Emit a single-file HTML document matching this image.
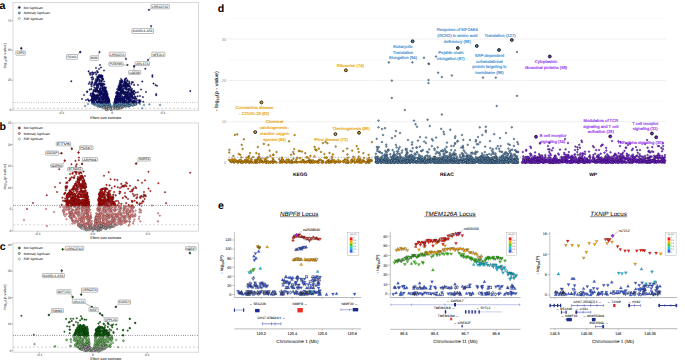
<!DOCTYPE html>
<html><head><meta charset="utf-8"><style>
html,body{margin:0;padding:0;background:#fff;width:685px;height:363px;overflow:hidden}
svg{display:block;font-family:"Liberation Sans", sans-serif;text-rendering:geometricPrecision}
</style></head><body>
<svg width="685" height="363" viewBox="0 0 685 363">
<rect width="685" height="363" fill="#fff"/>
<rect x="13" y="2.5" width="185.5" height="107.8" fill="#fff" stroke="#d4d4d4" stroke-width="0.9"/>
<line x1="11.7" y1="110.1" x2="13" y2="110.1" stroke="#555" stroke-width="0.4"/>
<text x="11.3" y="111.2" font-size="3.3" text-anchor="end" fill="#333">0</text>
<line x1="11.7" y1="80.2" x2="13" y2="80.2" stroke="#555" stroke-width="0.4"/>
<text x="11.3" y="81.4" font-size="3.3" text-anchor="end" fill="#333">25</text>
<line x1="11.7" y1="50.3" x2="13" y2="50.3" stroke="#555" stroke-width="0.4"/>
<text x="11.3" y="51.4" font-size="3.3" text-anchor="end" fill="#333">50</text>
<line x1="11.7" y1="20.4" x2="13" y2="20.4" stroke="#555" stroke-width="0.4"/>
<text x="11.3" y="21.5" font-size="3.3" text-anchor="end" fill="#333">75</text>
<line x1="61.4" y1="110.3" x2="61.4" y2="111.6" stroke="#555" stroke-width="0.4"/>
<text x="61.4" y="114.3" font-size="3.3" text-anchor="middle" fill="#333">-0.1</text>
<line x1="112.2" y1="110.3" x2="112.2" y2="111.6" stroke="#555" stroke-width="0.4"/>
<text x="112.2" y="114.3" font-size="3.3" text-anchor="middle" fill="#333">0</text>
<line x1="163" y1="110.3" x2="163" y2="111.6" stroke="#555" stroke-width="0.4"/>
<text x="163" y="114.3" font-size="3.3" text-anchor="middle" fill="#333">0.1</text>
<text x="5.9" y="56.4" font-size="3.6" text-anchor="middle" fill="#333" textLength="26.5" lengthAdjust="spacingAndGlyphs" transform="rotate(-90 5.9 56.4)">-log<tspan font-size="2.6" dy="0.8">10</tspan><tspan dy="-0.8">(p-value)</tspan></text>
<text x="105.8" y="118.5" font-size="3.6" text-anchor="middle">Effect size estimate</text>
<line x1="13" y1="102.5" x2="198.5" y2="102.5" stroke="#999" stroke-width="1" stroke-dasharray="0.55 1.75"/>
<line x1="13" y1="108.4" x2="198.5" y2="108.4" stroke="#bbb" stroke-width="0.6" stroke-dasharray="2.2 1.8"/>
<g fill="#7ab8e4" stroke="#0a1a2a" stroke-width="0.28"><circle cx="103.8" cy="105.6" r="0.82"/><circle cx="100.8" cy="102.8" r="0.82"/><circle cx="104" cy="104.5" r="0.82"/><circle cx="107.9" cy="107.3" r="0.82"/><circle cx="91.9" cy="103.3" r="0.82"/><circle cx="106.6" cy="103.1" r="0.82"/><circle cx="100.3" cy="102.8" r="0.82"/><circle cx="102.8" cy="102.8" r="0.82"/><circle cx="108" cy="105.6" r="0.82"/><circle cx="106.7" cy="103.2" r="0.82"/><circle cx="103.1" cy="103.6" r="0.82"/><circle cx="108" cy="106.7" r="0.82"/><circle cx="105.8" cy="106.6" r="0.82"/><circle cx="101.3" cy="106.9" r="0.82"/><circle cx="101.9" cy="105.6" r="0.82"/><circle cx="104.8" cy="107.2" r="0.82"/><circle cx="105.9" cy="106.3" r="0.82"/><circle cx="108.9" cy="106.1" r="0.82"/><circle cx="108.1" cy="107.3" r="0.82"/><circle cx="98.8" cy="105.8" r="0.82"/><circle cx="109.5" cy="104" r="0.82"/><circle cx="110.4" cy="106.2" r="0.82"/><circle cx="104" cy="103.4" r="0.82"/><circle cx="105.9" cy="104" r="0.82"/><circle cx="105.4" cy="102.8" r="0.82"/><circle cx="108.6" cy="102.8" r="0.82"/><circle cx="102.6" cy="106.4" r="0.82"/><circle cx="103.8" cy="106.9" r="0.82"/><circle cx="97.8" cy="106.2" r="0.82"/><circle cx="105.6" cy="106.3" r="0.82"/><circle cx="100.2" cy="106.5" r="0.82"/><circle cx="102.4" cy="104.8" r="0.82"/><circle cx="107.5" cy="103.7" r="0.82"/><circle cx="105.2" cy="104.3" r="0.82"/><circle cx="101.1" cy="106" r="0.82"/><circle cx="105.1" cy="107.1" r="0.82"/><circle cx="109.1" cy="103.3" r="0.82"/><circle cx="106.5" cy="104.3" r="0.82"/><circle cx="110.2" cy="104.7" r="0.82"/><circle cx="105.7" cy="105" r="0.82"/><circle cx="107" cy="107.2" r="0.82"/><circle cx="106.7" cy="106.4" r="0.82"/><circle cx="109.9" cy="104" r="0.82"/><circle cx="107.3" cy="105.5" r="0.82"/><circle cx="92.5" cy="103.7" r="0.82"/><circle cx="93.2" cy="103.3" r="0.82"/><circle cx="109.9" cy="106.1" r="0.82"/><circle cx="98.8" cy="105.8" r="0.82"/><circle cx="104.6" cy="104.3" r="0.82"/><circle cx="98" cy="106.3" r="0.82"/><circle cx="99.7" cy="106.6" r="0.82"/><circle cx="97.1" cy="104" r="0.82"/><circle cx="111.1" cy="107.3" r="0.82"/><circle cx="109.4" cy="106.5" r="0.82"/><circle cx="106.9" cy="105.6" r="0.82"/><circle cx="99.5" cy="106.6" r="0.82"/><circle cx="94.4" cy="104.7" r="0.82"/><circle cx="97.5" cy="106.3" r="0.82"/><circle cx="104.1" cy="104.1" r="0.82"/><circle cx="106" cy="107.5" r="0.82"/><circle cx="94.5" cy="103.7" r="0.82"/><circle cx="107.2" cy="107.3" r="0.82"/><circle cx="94" cy="104.5" r="0.82"/><circle cx="108.6" cy="103" r="0.82"/><circle cx="98.1" cy="105.6" r="0.82"/><circle cx="96.7" cy="103.4" r="0.82"/><circle cx="107.3" cy="107.1" r="0.82"/><circle cx="97" cy="103.4" r="0.82"/><circle cx="99.7" cy="105.3" r="0.82"/><circle cx="104.3" cy="105" r="0.82"/><circle cx="97.9" cy="103.6" r="0.82"/><circle cx="107.7" cy="104.8" r="0.82"/><circle cx="101.7" cy="106.3" r="0.82"/><circle cx="104.7" cy="106.5" r="0.82"/><circle cx="106.7" cy="106.8" r="0.82"/><circle cx="97.8" cy="104.2" r="0.82"/><circle cx="108.1" cy="106.3" r="0.82"/><circle cx="102.4" cy="105.3" r="0.82"/><circle cx="106.9" cy="103.2" r="0.82"/><circle cx="109.7" cy="104.7" r="0.82"/><circle cx="106.3" cy="103.5" r="0.82"/><circle cx="101.6" cy="103.8" r="0.82"/><circle cx="109.3" cy="104.2" r="0.82"/><circle cx="100.4" cy="105.2" r="0.82"/><circle cx="96.3" cy="103.4" r="0.82"/><circle cx="110.1" cy="106.1" r="0.82"/><circle cx="105.7" cy="106.5" r="0.82"/><circle cx="110.8" cy="106.1" r="0.82"/><circle cx="108.8" cy="104.1" r="0.82"/><circle cx="103.9" cy="106.9" r="0.82"/><circle cx="106.4" cy="105.2" r="0.82"/><circle cx="105.7" cy="106.7" r="0.82"/><circle cx="110.7" cy="107.4" r="0.82"/><circle cx="110.2" cy="105.1" r="0.82"/><circle cx="104.2" cy="106.6" r="0.82"/><circle cx="99.7" cy="102.9" r="0.82"/><circle cx="99.1" cy="106.3" r="0.82"/><circle cx="107.9" cy="106.8" r="0.82"/><circle cx="109" cy="104.4" r="0.82"/><circle cx="94.2" cy="103" r="0.82"/><circle cx="109.3" cy="103.7" r="0.82"/><circle cx="94.6" cy="103.9" r="0.82"/><circle cx="106.4" cy="106.6" r="0.82"/><circle cx="105.6" cy="104.8" r="0.82"/><circle cx="105.5" cy="103.4" r="0.82"/><circle cx="108.1" cy="107.3" r="0.82"/><circle cx="101.2" cy="104.4" r="0.82"/><circle cx="94.9" cy="104" r="0.82"/><circle cx="92.6" cy="102.9" r="0.82"/><circle cx="102.8" cy="105.1" r="0.82"/><circle cx="109.5" cy="106" r="0.82"/><circle cx="104" cy="102.7" r="0.82"/><circle cx="110.5" cy="107.3" r="0.82"/><circle cx="104.1" cy="106.6" r="0.82"/><circle cx="94.3" cy="103.3" r="0.82"/><circle cx="95.7" cy="105.4" r="0.82"/><circle cx="107.2" cy="104.3" r="0.82"/><circle cx="102.4" cy="105.4" r="0.82"/><circle cx="106.2" cy="105.4" r="0.82"/><circle cx="98.8" cy="103.5" r="0.82"/><circle cx="118.5" cy="105.3" r="0.82"/><circle cx="125.8" cy="105.8" r="0.82"/><circle cx="116.2" cy="107.1" r="0.82"/><circle cx="119.2" cy="105.2" r="0.82"/><circle cx="139" cy="103" r="0.82"/><circle cx="135.4" cy="102.7" r="0.82"/><circle cx="129.2" cy="104.5" r="0.82"/><circle cx="118.6" cy="104.7" r="0.82"/><circle cx="128.3" cy="106" r="0.82"/><circle cx="119.7" cy="103.2" r="0.82"/><circle cx="129.3" cy="105.3" r="0.82"/><circle cx="114.1" cy="104.3" r="0.82"/><circle cx="120.5" cy="104.7" r="0.82"/><circle cx="121.6" cy="104.9" r="0.82"/><circle cx="125.8" cy="105.6" r="0.82"/><circle cx="114.6" cy="106.6" r="0.82"/><circle cx="114.6" cy="103.3" r="0.82"/><circle cx="117.5" cy="107" r="0.82"/><circle cx="124.9" cy="106.3" r="0.82"/><circle cx="123.7" cy="104.8" r="0.82"/><circle cx="116.9" cy="104.7" r="0.82"/><circle cx="114.6" cy="105" r="0.82"/><circle cx="121.4" cy="107.1" r="0.82"/><circle cx="122.3" cy="103.3" r="0.82"/><circle cx="125.4" cy="104" r="0.82"/><circle cx="114.4" cy="103.4" r="0.82"/><circle cx="121" cy="106.7" r="0.82"/><circle cx="117.2" cy="105.7" r="0.82"/><circle cx="116.6" cy="106" r="0.82"/><circle cx="130.2" cy="105.4" r="0.82"/><circle cx="136.2" cy="104.5" r="0.82"/><circle cx="137.1" cy="103.2" r="0.82"/><circle cx="115.7" cy="103.8" r="0.82"/><circle cx="119.7" cy="103.8" r="0.82"/><circle cx="129.4" cy="103.5" r="0.82"/><circle cx="114.8" cy="105.7" r="0.82"/><circle cx="131.2" cy="102.9" r="0.82"/><circle cx="125.4" cy="103.6" r="0.82"/><circle cx="114.6" cy="103" r="0.82"/><circle cx="129.2" cy="106.3" r="0.82"/><circle cx="116.2" cy="105.3" r="0.82"/><circle cx="134.5" cy="104.7" r="0.82"/><circle cx="114.6" cy="107.4" r="0.82"/><circle cx="114.5" cy="103.6" r="0.82"/><circle cx="116" cy="104.8" r="0.82"/><circle cx="118.4" cy="104.1" r="0.82"/><circle cx="120.7" cy="106.8" r="0.82"/><circle cx="129.7" cy="103.5" r="0.82"/><circle cx="119.7" cy="106.8" r="0.82"/><circle cx="124" cy="103.2" r="0.82"/><circle cx="116" cy="103.5" r="0.82"/><circle cx="129.3" cy="105.6" r="0.82"/><circle cx="123.3" cy="106.7" r="0.82"/><circle cx="135.6" cy="104.5" r="0.82"/><circle cx="113.9" cy="105.9" r="0.82"/><circle cx="116.7" cy="103.1" r="0.82"/><circle cx="115.7" cy="105.7" r="0.82"/><circle cx="123.1" cy="104.7" r="0.82"/><circle cx="120.9" cy="105.8" r="0.82"/><circle cx="119.5" cy="107.4" r="0.82"/><circle cx="122.8" cy="102.7" r="0.82"/><circle cx="113.5" cy="106.8" r="0.82"/><circle cx="129.1" cy="106.2" r="0.82"/><circle cx="118" cy="105" r="0.82"/><circle cx="117.7" cy="104.7" r="0.82"/><circle cx="124.8" cy="102.8" r="0.82"/><circle cx="125.7" cy="103.7" r="0.82"/><circle cx="135.6" cy="103.7" r="0.82"/><circle cx="127.9" cy="104.4" r="0.82"/><circle cx="120.2" cy="106.1" r="0.82"/><circle cx="133" cy="103.2" r="0.82"/><circle cx="118.7" cy="103.8" r="0.82"/><circle cx="131.2" cy="105" r="0.82"/><circle cx="128" cy="105.8" r="0.82"/><circle cx="125.4" cy="105.5" r="0.82"/><circle cx="113.7" cy="105.8" r="0.82"/><circle cx="119.2" cy="102.7" r="0.82"/><circle cx="123.4" cy="105.7" r="0.82"/><circle cx="117.3" cy="106.3" r="0.82"/><circle cx="119.9" cy="106.8" r="0.82"/><circle cx="122.6" cy="105.3" r="0.82"/><circle cx="126" cy="106" r="0.82"/><circle cx="115.7" cy="107.2" r="0.82"/><circle cx="118.7" cy="106" r="0.82"/><circle cx="130.8" cy="104.8" r="0.82"/><circle cx="114" cy="106.6" r="0.82"/><circle cx="126.3" cy="102.7" r="0.82"/><circle cx="120.1" cy="103.7" r="0.82"/><circle cx="122" cy="103.2" r="0.82"/><circle cx="113.8" cy="105.1" r="0.82"/><circle cx="117.6" cy="107.4" r="0.82"/><circle cx="115.6" cy="106.2" r="0.82"/><circle cx="121.2" cy="106.5" r="0.82"/><circle cx="127" cy="103.3" r="0.82"/><circle cx="128.4" cy="106.5" r="0.82"/><circle cx="131.1" cy="102.8" r="0.82"/><circle cx="133.5" cy="103.2" r="0.82"/><circle cx="119.7" cy="106.8" r="0.82"/><circle cx="116.1" cy="104.9" r="0.82"/><circle cx="135.7" cy="104.4" r="0.82"/><circle cx="119.3" cy="103.8" r="0.82"/><circle cx="128.4" cy="105.5" r="0.82"/><circle cx="129.3" cy="105.8" r="0.82"/><circle cx="113.7" cy="105.5" r="0.82"/><circle cx="119.5" cy="105.1" r="0.82"/><circle cx="126.8" cy="106.2" r="0.82"/><circle cx="122.9" cy="107.4" r="0.82"/><circle cx="127.3" cy="104" r="0.82"/><circle cx="119.4" cy="107" r="0.82"/><circle cx="115.4" cy="106.8" r="0.82"/><circle cx="133.7" cy="105.4" r="0.82"/><circle cx="125.1" cy="104.6" r="0.82"/><circle cx="125.6" cy="104.3" r="0.82"/><circle cx="126.9" cy="105.9" r="0.82"/><circle cx="130.3" cy="103.8" r="0.82"/><circle cx="132.3" cy="102.7" r="0.82"/><circle cx="122.6" cy="106.1" r="0.82"/><circle cx="124.6" cy="102.9" r="0.82"/><circle cx="114.9" cy="107.5" r="0.82"/><circle cx="123.3" cy="104.3" r="0.82"/><circle cx="132.4" cy="105.7" r="0.82"/><circle cx="113.3" cy="106.8" r="0.82"/><circle cx="125.6" cy="106.6" r="0.82"/><circle cx="115.3" cy="106.6" r="0.82"/><circle cx="131.2" cy="103" r="0.82"/><circle cx="115.5" cy="107.4" r="0.82"/><circle cx="128" cy="105.8" r="0.82"/><circle cx="133.2" cy="105.2" r="0.82"/><circle cx="119.2" cy="103.1" r="0.82"/><circle cx="114.5" cy="103.9" r="0.82"/><circle cx="149.4" cy="104.4" r="0.82"/><circle cx="160" cy="105" r="0.82"/><circle cx="142.3" cy="108.2" r="0.82"/><circle cx="85" cy="106" r="0.82"/><circle cx="88" cy="104" r="0.82"/><circle cx="140" cy="104" r="0.82"/><circle cx="144" cy="105" r="0.82"/></g>
<g fill="#d8d8d8" stroke="#1a1a1a" stroke-width="0.35"><circle cx="116.8" cy="108.6" r="0.8"/><circle cx="123.9" cy="106.7" r="0.8"/><circle cx="105.8" cy="109.1" r="0.8"/><circle cx="111.3" cy="109.2" r="0.8"/><circle cx="119.7" cy="107.8" r="0.8"/><circle cx="104.1" cy="107" r="0.8"/><circle cx="106.9" cy="107.4" r="0.8"/><circle cx="107.3" cy="108.8" r="0.8"/><circle cx="115.5" cy="108.4" r="0.8"/><circle cx="109.4" cy="107.3" r="0.8"/><circle cx="104.7" cy="107" r="0.8"/><circle cx="107.7" cy="109.9" r="0.8"/><circle cx="103.9" cy="107.4" r="0.8"/><circle cx="104.4" cy="107.6" r="0.8"/><circle cx="108.8" cy="106.8" r="0.8"/><circle cx="122.9" cy="106.6" r="0.8"/><circle cx="106.1" cy="107.2" r="0.8"/><circle cx="111.2" cy="109.6" r="0.8"/><circle cx="103.1" cy="108.3" r="0.8"/><circle cx="111.1" cy="109.4" r="0.8"/><circle cx="103.8" cy="107.4" r="0.8"/><circle cx="107.1" cy="109.4" r="0.8"/><circle cx="110.6" cy="108.1" r="0.8"/><circle cx="114.1" cy="108.1" r="0.8"/><circle cx="110.4" cy="108.9" r="0.8"/><circle cx="110.7" cy="109.5" r="0.8"/><circle cx="106.6" cy="107.9" r="0.8"/><circle cx="106.3" cy="109.3" r="0.8"/><circle cx="121.9" cy="107.3" r="0.8"/><circle cx="116.8" cy="108.1" r="0.8"/><circle cx="119.3" cy="108.7" r="0.8"/><circle cx="110.2" cy="108.2" r="0.8"/><circle cx="117.6" cy="108.9" r="0.8"/><circle cx="114.1" cy="109.2" r="0.8"/><circle cx="106.9" cy="106.8" r="0.8"/><circle cx="118.8" cy="108.2" r="0.8"/><circle cx="105.8" cy="109.5" r="0.8"/><circle cx="113.7" cy="108.2" r="0.8"/><circle cx="121.4" cy="108.4" r="0.8"/><circle cx="121.5" cy="106.9" r="0.8"/><circle cx="106.5" cy="109.6" r="0.8"/><circle cx="120.9" cy="108.2" r="0.8"/><circle cx="118.1" cy="108.4" r="0.8"/><circle cx="120.8" cy="107.3" r="0.8"/><circle cx="117.7" cy="108.7" r="0.8"/></g>
<g fill="#1c1c88" stroke="#00002a" stroke-width="0.3"><circle cx="105.6" cy="99.3" r="0.82"/><circle cx="99.3" cy="101.2" r="0.82"/><circle cx="101.7" cy="93.4" r="0.82"/><circle cx="109.1" cy="100.8" r="0.82"/><circle cx="99.8" cy="75.2" r="0.82"/><circle cx="100.9" cy="92.6" r="0.82"/><circle cx="91.9" cy="101.7" r="0.82"/><circle cx="94.7" cy="95.6" r="0.82"/><circle cx="108.3" cy="100.1" r="0.82"/><circle cx="99.6" cy="93.3" r="0.82"/><circle cx="101.5" cy="101.4" r="0.82"/><circle cx="98.7" cy="91.6" r="0.82"/><circle cx="103.3" cy="95.3" r="0.82"/><circle cx="96.2" cy="83.3" r="0.82"/><circle cx="101.9" cy="77.6" r="0.82"/><circle cx="97.6" cy="95.6" r="0.82"/><circle cx="91.8" cy="100.1" r="0.82"/><circle cx="104" cy="81.5" r="0.82"/><circle cx="96.9" cy="87.3" r="0.82"/><circle cx="94.3" cy="94.9" r="0.82"/><circle cx="98.4" cy="86.6" r="0.82"/><circle cx="100.8" cy="90.8" r="0.82"/><circle cx="102.9" cy="84.4" r="0.82"/><circle cx="95.6" cy="95.7" r="0.82"/><circle cx="104.5" cy="84.3" r="0.82"/><circle cx="108" cy="100.1" r="0.82"/><circle cx="101.4" cy="77.4" r="0.82"/><circle cx="106.3" cy="92" r="0.82"/><circle cx="92.3" cy="99.3" r="0.82"/><circle cx="107.8" cy="97.2" r="0.82"/><circle cx="100.6" cy="96.3" r="0.82"/><circle cx="104.8" cy="87.5" r="0.82"/><circle cx="102.1" cy="85.9" r="0.82"/><circle cx="98.8" cy="101.6" r="0.82"/><circle cx="104.4" cy="92.5" r="0.82"/><circle cx="109.2" cy="101.3" r="0.82"/><circle cx="107.4" cy="99" r="0.82"/><circle cx="105.3" cy="101.6" r="0.82"/><circle cx="100.1" cy="99.4" r="0.82"/><circle cx="106.7" cy="94" r="0.82"/><circle cx="104.9" cy="100" r="0.82"/><circle cx="103.1" cy="90" r="0.82"/><circle cx="108.9" cy="100.5" r="0.82"/><circle cx="105.3" cy="96.3" r="0.82"/><circle cx="95.4" cy="99" r="0.82"/><circle cx="101.9" cy="99.4" r="0.82"/><circle cx="101.6" cy="102.1" r="0.82"/><circle cx="94.6" cy="83.4" r="0.82"/><circle cx="106.6" cy="93.4" r="0.82"/><circle cx="101.8" cy="80.8" r="0.82"/><circle cx="105.5" cy="97.4" r="0.82"/><circle cx="95.6" cy="82" r="0.82"/><circle cx="105.1" cy="102.1" r="0.82"/><circle cx="92.4" cy="93.5" r="0.82"/><circle cx="107.2" cy="97.3" r="0.82"/><circle cx="107.6" cy="97.9" r="0.82"/><circle cx="99.9" cy="76.8" r="0.82"/><circle cx="95.1" cy="90.1" r="0.82"/><circle cx="99.3" cy="80.1" r="0.82"/><circle cx="97.2" cy="90.1" r="0.82"/><circle cx="97.7" cy="98.8" r="0.82"/><circle cx="108.5" cy="99.3" r="0.82"/><circle cx="105.2" cy="88" r="0.82"/><circle cx="108.4" cy="102.4" r="0.82"/><circle cx="101.9" cy="75.7" r="0.82"/><circle cx="95.5" cy="97.7" r="0.82"/><circle cx="106.8" cy="95.5" r="0.82"/><circle cx="106.6" cy="91.9" r="0.82"/><circle cx="105.1" cy="90.7" r="0.82"/><circle cx="100.8" cy="76.7" r="0.82"/><circle cx="102.4" cy="88.5" r="0.82"/><circle cx="102" cy="102.3" r="0.82"/><circle cx="103.6" cy="98.5" r="0.82"/><circle cx="97.7" cy="87.8" r="0.82"/><circle cx="105.6" cy="88.9" r="0.82"/><circle cx="101.3" cy="80.6" r="0.82"/><circle cx="106.8" cy="96" r="0.82"/><circle cx="96.7" cy="89.3" r="0.82"/><circle cx="101.2" cy="81.4" r="0.82"/><circle cx="93.4" cy="91.2" r="0.82"/><circle cx="100.2" cy="89.3" r="0.82"/><circle cx="102.2" cy="83.5" r="0.82"/><circle cx="103.3" cy="88.5" r="0.82"/><circle cx="98.3" cy="77.6" r="0.82"/><circle cx="92.7" cy="96.4" r="0.82"/><circle cx="101.2" cy="75.4" r="0.82"/><circle cx="95.1" cy="99.6" r="0.82"/><circle cx="99.2" cy="99.5" r="0.82"/><circle cx="104.3" cy="89.9" r="0.82"/><circle cx="102.1" cy="94.2" r="0.82"/><circle cx="107.6" cy="94.8" r="0.82"/><circle cx="97.8" cy="102.3" r="0.82"/><circle cx="101.4" cy="91.3" r="0.82"/><circle cx="99.9" cy="89.1" r="0.82"/><circle cx="106.5" cy="99.8" r="0.82"/><circle cx="95.6" cy="96.5" r="0.82"/><circle cx="101" cy="83.3" r="0.82"/><circle cx="108.9" cy="101.5" r="0.82"/><circle cx="98.5" cy="91.7" r="0.82"/><circle cx="99.7" cy="80" r="0.82"/><circle cx="103.3" cy="94.2" r="0.82"/><circle cx="101.4" cy="75.9" r="0.82"/><circle cx="106.5" cy="99.8" r="0.82"/><circle cx="101.9" cy="97" r="0.82"/><circle cx="108.7" cy="99" r="0.82"/><circle cx="105.8" cy="95.2" r="0.82"/><circle cx="97" cy="95.6" r="0.82"/><circle cx="102.4" cy="98.6" r="0.82"/><circle cx="105.2" cy="102.3" r="0.82"/><circle cx="106.8" cy="102.4" r="0.82"/><circle cx="97.6" cy="87.9" r="0.82"/><circle cx="92.9" cy="100.4" r="0.82"/><circle cx="95.6" cy="91.5" r="0.82"/><circle cx="102.5" cy="79" r="0.82"/><circle cx="104.4" cy="89.3" r="0.82"/><circle cx="98.1" cy="85.3" r="0.82"/><circle cx="104.2" cy="94" r="0.82"/><circle cx="106.7" cy="99" r="0.82"/><circle cx="94.4" cy="84.2" r="0.82"/><circle cx="106.3" cy="96.9" r="0.82"/><circle cx="106.1" cy="90.7" r="0.82"/><circle cx="105.8" cy="93.7" r="0.82"/><circle cx="102.9" cy="89.4" r="0.82"/><circle cx="109.3" cy="102.2" r="0.82"/><circle cx="105.9" cy="97.2" r="0.82"/><circle cx="100.7" cy="88.6" r="0.82"/><circle cx="97.2" cy="84.6" r="0.82"/><circle cx="97.9" cy="77.5" r="0.82"/><circle cx="104.5" cy="94.6" r="0.82"/><circle cx="91.7" cy="99.3" r="0.82"/><circle cx="97.8" cy="85.1" r="0.82"/><circle cx="93.9" cy="85.6" r="0.82"/><circle cx="97.5" cy="79.7" r="0.82"/><circle cx="102.3" cy="79" r="0.82"/><circle cx="96" cy="79.2" r="0.82"/><circle cx="100.7" cy="77.1" r="0.82"/><circle cx="98.7" cy="83.5" r="0.82"/><circle cx="107.1" cy="102.1" r="0.82"/><circle cx="101.3" cy="85.6" r="0.82"/><circle cx="99.9" cy="83.9" r="0.82"/><circle cx="102.6" cy="102.6" r="0.82"/><circle cx="96.1" cy="81.8" r="0.82"/><circle cx="102.4" cy="88.4" r="0.82"/><circle cx="99.2" cy="101.3" r="0.82"/><circle cx="97.5" cy="96.6" r="0.82"/><circle cx="97.6" cy="97.9" r="0.82"/><circle cx="102.5" cy="93" r="0.82"/><circle cx="102.8" cy="83.8" r="0.82"/><circle cx="96.8" cy="85.9" r="0.82"/><circle cx="99.5" cy="101.1" r="0.82"/><circle cx="97.3" cy="95.2" r="0.82"/><circle cx="101.1" cy="102.4" r="0.82"/><circle cx="98.9" cy="83.5" r="0.82"/><circle cx="98.8" cy="95.6" r="0.82"/><circle cx="102.1" cy="90.5" r="0.82"/><circle cx="103.1" cy="100.1" r="0.82"/><circle cx="93.9" cy="98" r="0.82"/><circle cx="103.4" cy="96.2" r="0.82"/><circle cx="92.5" cy="99.8" r="0.82"/><circle cx="95.6" cy="89.2" r="0.82"/><circle cx="102.7" cy="102.2" r="0.82"/><circle cx="103.4" cy="95.3" r="0.82"/><circle cx="95.2" cy="100.1" r="0.82"/><circle cx="93.7" cy="95.6" r="0.82"/><circle cx="104.8" cy="92.7" r="0.82"/><circle cx="105" cy="91.6" r="0.82"/><circle cx="106.4" cy="101.7" r="0.82"/><circle cx="106.8" cy="96.3" r="0.82"/><circle cx="102.2" cy="98.3" r="0.82"/><circle cx="99.8" cy="76.4" r="0.82"/><circle cx="97.9" cy="101.7" r="0.82"/><circle cx="97.6" cy="91" r="0.82"/><circle cx="97.1" cy="85" r="0.82"/><circle cx="106.2" cy="101.7" r="0.82"/><circle cx="93.1" cy="99.9" r="0.82"/><circle cx="103" cy="94.1" r="0.82"/><circle cx="91.9" cy="96.4" r="0.82"/><circle cx="99.2" cy="95.3" r="0.82"/><circle cx="101.3" cy="92.6" r="0.82"/><circle cx="108" cy="99" r="0.82"/><circle cx="102.5" cy="97.5" r="0.82"/><circle cx="103.4" cy="99.6" r="0.82"/><circle cx="107.6" cy="100.8" r="0.82"/><circle cx="105.3" cy="100.7" r="0.82"/><circle cx="106.9" cy="96.5" r="0.82"/><circle cx="101" cy="77.2" r="0.82"/><circle cx="97.2" cy="92.1" r="0.82"/><circle cx="104" cy="88.8" r="0.82"/><circle cx="104.7" cy="94.2" r="0.82"/><circle cx="92.1" cy="99.9" r="0.82"/><circle cx="102.4" cy="85.5" r="0.82"/><circle cx="94.6" cy="97.6" r="0.82"/><circle cx="106.5" cy="96.7" r="0.82"/><circle cx="104.3" cy="91.1" r="0.82"/><circle cx="94.4" cy="102.2" r="0.82"/><circle cx="93.8" cy="90.3" r="0.82"/><circle cx="100.7" cy="102.6" r="0.82"/><circle cx="92" cy="96.7" r="0.82"/><circle cx="108.7" cy="99.2" r="0.82"/><circle cx="102" cy="83.9" r="0.82"/><circle cx="99.4" cy="81.2" r="0.82"/><circle cx="103.2" cy="87.9" r="0.82"/><circle cx="99.5" cy="95.2" r="0.82"/><circle cx="99.7" cy="83.3" r="0.82"/><circle cx="108.6" cy="101.2" r="0.82"/><circle cx="101.9" cy="87" r="0.82"/><circle cx="104.5" cy="97.4" r="0.82"/><circle cx="100.4" cy="102.4" r="0.82"/><circle cx="106" cy="90.7" r="0.82"/><circle cx="94.1" cy="90.2" r="0.82"/><circle cx="107" cy="96.8" r="0.82"/><circle cx="105.9" cy="102.2" r="0.82"/><circle cx="102.5" cy="84.1" r="0.82"/><circle cx="103.9" cy="96.5" r="0.82"/><circle cx="99" cy="76" r="0.82"/><circle cx="107.1" cy="102" r="0.82"/><circle cx="105.4" cy="91.9" r="0.82"/><circle cx="98.7" cy="98.1" r="0.82"/><circle cx="96.1" cy="82" r="0.82"/><circle cx="102.3" cy="97.9" r="0.82"/><circle cx="92" cy="95" r="0.82"/><circle cx="95.6" cy="97.2" r="0.82"/><circle cx="102.5" cy="98.4" r="0.82"/><circle cx="99" cy="75.2" r="0.82"/><circle cx="108.3" cy="101.6" r="0.82"/><circle cx="93" cy="94.5" r="0.82"/><circle cx="97.3" cy="102" r="0.82"/><circle cx="99.1" cy="93.1" r="0.82"/><circle cx="104.8" cy="94.4" r="0.82"/><circle cx="107.9" cy="102.6" r="0.82"/><circle cx="106.3" cy="93.9" r="0.82"/><circle cx="92.4" cy="100" r="0.82"/><circle cx="92.2" cy="97.8" r="0.82"/><circle cx="95.6" cy="91.5" r="0.82"/><circle cx="93.8" cy="102.1" r="0.82"/><circle cx="96.8" cy="101.9" r="0.82"/><circle cx="93.2" cy="96.5" r="0.82"/><circle cx="97.3" cy="76.9" r="0.82"/><circle cx="105.4" cy="96.1" r="0.82"/><circle cx="105.7" cy="96" r="0.82"/><circle cx="92.7" cy="102.2" r="0.82"/><circle cx="104.5" cy="96.7" r="0.82"/><circle cx="103.7" cy="89.7" r="0.82"/><circle cx="93.1" cy="98.5" r="0.82"/><circle cx="96" cy="82.1" r="0.82"/><circle cx="95.5" cy="81" r="0.82"/><circle cx="100.3" cy="94.5" r="0.82"/><circle cx="105.7" cy="93.6" r="0.82"/><circle cx="96.5" cy="101" r="0.82"/><circle cx="106.8" cy="101.4" r="0.82"/><circle cx="106.6" cy="100.9" r="0.82"/><circle cx="98.1" cy="91.1" r="0.82"/><circle cx="100" cy="84.1" r="0.82"/><circle cx="97.2" cy="78.6" r="0.82"/><circle cx="99.1" cy="100" r="0.82"/><circle cx="95.1" cy="95.5" r="0.82"/><circle cx="101.1" cy="93.2" r="0.82"/><circle cx="97.5" cy="98" r="0.82"/><circle cx="106.8" cy="96.8" r="0.82"/><circle cx="100.9" cy="94.6" r="0.82"/><circle cx="102.3" cy="97.2" r="0.82"/><circle cx="95.9" cy="84.8" r="0.82"/><circle cx="91.5" cy="100.5" r="0.82"/><circle cx="102.9" cy="79.5" r="0.82"/><circle cx="93" cy="93.3" r="0.82"/><circle cx="94.5" cy="91" r="0.82"/><circle cx="92.6" cy="100.4" r="0.82"/><circle cx="100.5" cy="85.8" r="0.82"/><circle cx="107.3" cy="93.4" r="0.82"/><circle cx="108.3" cy="97.9" r="0.82"/><circle cx="99.3" cy="97.9" r="0.82"/><circle cx="98.8" cy="98.4" r="0.82"/><circle cx="105.8" cy="97.9" r="0.82"/><circle cx="96.2" cy="88" r="0.82"/><circle cx="104.4" cy="88" r="0.82"/><circle cx="99.6" cy="100.7" r="0.82"/><circle cx="104.1" cy="95.8" r="0.82"/><circle cx="105.8" cy="87.5" r="0.82"/><circle cx="105" cy="92" r="0.82"/><circle cx="104.9" cy="98.1" r="0.82"/><circle cx="97.7" cy="97.9" r="0.82"/><circle cx="103.2" cy="99" r="0.82"/><circle cx="99.6" cy="76.5" r="0.82"/><circle cx="104.8" cy="89.4" r="0.82"/><circle cx="102" cy="76" r="0.82"/><circle cx="107.6" cy="99.9" r="0.82"/><circle cx="102.8" cy="101.6" r="0.82"/><circle cx="93.1" cy="92.8" r="0.82"/><circle cx="95.5" cy="99.1" r="0.82"/><circle cx="96.4" cy="97.4" r="0.82"/><circle cx="95.4" cy="98.5" r="0.82"/><circle cx="102.1" cy="92.9" r="0.82"/><circle cx="97.7" cy="76.9" r="0.82"/><circle cx="97" cy="101.9" r="0.82"/><circle cx="95.2" cy="100.1" r="0.82"/><circle cx="100.4" cy="88" r="0.82"/><circle cx="99.9" cy="95.1" r="0.82"/><circle cx="103.9" cy="87" r="0.82"/><circle cx="103.8" cy="84.6" r="0.82"/><circle cx="103.4" cy="91.3" r="0.82"/><circle cx="102.6" cy="97.1" r="0.82"/><circle cx="96.9" cy="80.7" r="0.82"/><circle cx="103.2" cy="98.6" r="0.82"/><circle cx="102.9" cy="100.4" r="0.82"/><circle cx="102.2" cy="101.9" r="0.82"/><circle cx="99.7" cy="101" r="0.82"/><circle cx="97.6" cy="80.8" r="0.82"/><circle cx="102.2" cy="101.6" r="0.82"/><circle cx="102.3" cy="93.1" r="0.82"/><circle cx="92.5" cy="99.7" r="0.82"/><circle cx="97.6" cy="79.6" r="0.82"/><circle cx="93.3" cy="98.9" r="0.82"/><circle cx="97.1" cy="99.1" r="0.82"/><circle cx="93.8" cy="96" r="0.82"/><circle cx="95.7" cy="99.5" r="0.82"/><circle cx="102.4" cy="76.2" r="0.82"/><circle cx="107.4" cy="96.3" r="0.82"/><circle cx="102.3" cy="94.8" r="0.82"/><circle cx="98.7" cy="77" r="0.82"/><circle cx="99.7" cy="93.6" r="0.82"/><circle cx="94.4" cy="87.8" r="0.82"/><circle cx="100.8" cy="77.4" r="0.82"/><circle cx="99.8" cy="92.6" r="0.82"/><circle cx="96.1" cy="96.3" r="0.82"/><circle cx="103.5" cy="98.6" r="0.82"/><circle cx="97.3" cy="101.7" r="0.82"/><circle cx="95.6" cy="96.6" r="0.82"/><circle cx="100.7" cy="84.4" r="0.82"/><circle cx="105.8" cy="102.6" r="0.82"/><circle cx="100.1" cy="91.5" r="0.82"/><circle cx="102.2" cy="77" r="0.82"/><circle cx="99.3" cy="102.2" r="0.82"/><circle cx="100.6" cy="97.9" r="0.82"/><circle cx="99.9" cy="90.2" r="0.82"/><circle cx="106.9" cy="99.3" r="0.82"/><circle cx="104.3" cy="96.3" r="0.82"/><circle cx="101.2" cy="93.9" r="0.82"/><circle cx="99.5" cy="91.2" r="0.82"/><circle cx="104.2" cy="97" r="0.82"/><circle cx="92.7" cy="99.5" r="0.82"/><circle cx="102.3" cy="85.1" r="0.82"/><circle cx="95.8" cy="98.7" r="0.82"/><circle cx="105.8" cy="95.3" r="0.82"/><circle cx="96.4" cy="82.8" r="0.82"/><circle cx="97.3" cy="90.5" r="0.82"/><circle cx="97.4" cy="90.9" r="0.82"/><circle cx="107.1" cy="100.4" r="0.82"/><circle cx="107" cy="101.9" r="0.82"/><circle cx="98.4" cy="78.6" r="0.82"/><circle cx="98" cy="96.3" r="0.82"/><circle cx="101.4" cy="91.4" r="0.82"/><circle cx="96.3" cy="88.8" r="0.82"/><circle cx="92.2" cy="97.6" r="0.82"/><circle cx="94.2" cy="102.4" r="0.82"/><circle cx="106.6" cy="97.1" r="0.82"/><circle cx="97.3" cy="94.6" r="0.82"/><circle cx="94.2" cy="94.5" r="0.82"/><circle cx="99.8" cy="83.5" r="0.82"/><circle cx="103" cy="78.8" r="0.82"/><circle cx="98.3" cy="78.2" r="0.82"/><circle cx="121.8" cy="86.8" r="0.82"/><circle cx="125" cy="96.7" r="0.82"/><circle cx="117.2" cy="89.3" r="0.82"/><circle cx="116.1" cy="102.2" r="0.82"/><circle cx="119.8" cy="100.2" r="0.82"/><circle cx="114.6" cy="102" r="0.82"/><circle cx="128.2" cy="89" r="0.82"/><circle cx="128.3" cy="86.5" r="0.82"/><circle cx="120.2" cy="84.4" r="0.82"/><circle cx="115.5" cy="98.9" r="0.82"/><circle cx="115.6" cy="102.1" r="0.82"/><circle cx="126.6" cy="84.2" r="0.82"/><circle cx="126.6" cy="97.1" r="0.82"/><circle cx="115.4" cy="101" r="0.82"/><circle cx="129.9" cy="98.9" r="0.82"/><circle cx="119.2" cy="94.1" r="0.82"/><circle cx="118.5" cy="87" r="0.82"/><circle cx="120.3" cy="96.4" r="0.82"/><circle cx="121.8" cy="85.6" r="0.82"/><circle cx="119.8" cy="87.3" r="0.82"/><circle cx="124.2" cy="98.7" r="0.82"/><circle cx="132.9" cy="101.1" r="0.82"/><circle cx="131.7" cy="99.6" r="0.82"/><circle cx="123.1" cy="85" r="0.82"/><circle cx="116.7" cy="92.4" r="0.82"/><circle cx="119.8" cy="84.1" r="0.82"/><circle cx="118.5" cy="98.7" r="0.82"/><circle cx="128.3" cy="92.3" r="0.82"/><circle cx="128.3" cy="85.2" r="0.82"/><circle cx="126.5" cy="95.6" r="0.82"/><circle cx="121" cy="94.7" r="0.82"/><circle cx="133.7" cy="101.2" r="0.82"/><circle cx="133.7" cy="102.3" r="0.82"/><circle cx="117.1" cy="97.7" r="0.82"/><circle cx="120.5" cy="82.7" r="0.82"/><circle cx="117.6" cy="93.2" r="0.82"/><circle cx="124" cy="86" r="0.82"/><circle cx="129.8" cy="88.7" r="0.82"/><circle cx="119.8" cy="96.3" r="0.82"/><circle cx="127.4" cy="86.4" r="0.82"/><circle cx="116.5" cy="93.7" r="0.82"/><circle cx="130.4" cy="90.4" r="0.82"/><circle cx="133.6" cy="98.2" r="0.82"/><circle cx="116.8" cy="96.8" r="0.82"/><circle cx="116.2" cy="99.9" r="0.82"/><circle cx="117.8" cy="96.3" r="0.82"/><circle cx="123.8" cy="99.8" r="0.82"/><circle cx="119.4" cy="99.2" r="0.82"/><circle cx="129.3" cy="93.8" r="0.82"/><circle cx="115.5" cy="98.9" r="0.82"/><circle cx="120.7" cy="102.1" r="0.82"/><circle cx="120.9" cy="85.1" r="0.82"/><circle cx="128.2" cy="92.3" r="0.82"/><circle cx="126.6" cy="93.1" r="0.82"/><circle cx="121.1" cy="86.4" r="0.82"/><circle cx="134.2" cy="93.9" r="0.82"/><circle cx="125.1" cy="86.2" r="0.82"/><circle cx="121.4" cy="98.4" r="0.82"/><circle cx="130.4" cy="87.4" r="0.82"/><circle cx="126.8" cy="93.4" r="0.82"/><circle cx="119.1" cy="89.2" r="0.82"/><circle cx="126.5" cy="97.9" r="0.82"/><circle cx="121.5" cy="93.3" r="0.82"/><circle cx="126.3" cy="94.4" r="0.82"/><circle cx="130.5" cy="94.9" r="0.82"/><circle cx="124.3" cy="87" r="0.82"/><circle cx="123.6" cy="88.9" r="0.82"/><circle cx="131.9" cy="91.8" r="0.82"/><circle cx="121.2" cy="81.1" r="0.82"/><circle cx="120.8" cy="85.8" r="0.82"/><circle cx="120" cy="101.8" r="0.82"/><circle cx="118.3" cy="94.6" r="0.82"/><circle cx="121.4" cy="87.4" r="0.82"/><circle cx="119.9" cy="97.6" r="0.82"/><circle cx="120.8" cy="98.8" r="0.82"/><circle cx="122.5" cy="90.8" r="0.82"/><circle cx="119.9" cy="88.9" r="0.82"/><circle cx="122.5" cy="97" r="0.82"/><circle cx="124.4" cy="100.5" r="0.82"/><circle cx="132.1" cy="95.6" r="0.82"/><circle cx="132.6" cy="97.6" r="0.82"/><circle cx="120.4" cy="97.9" r="0.82"/><circle cx="121.5" cy="99.3" r="0.82"/><circle cx="118.5" cy="98.1" r="0.82"/><circle cx="118.9" cy="92.8" r="0.82"/><circle cx="121.6" cy="89" r="0.82"/><circle cx="127.3" cy="95.5" r="0.82"/><circle cx="126.6" cy="102.4" r="0.82"/><circle cx="127.2" cy="97.9" r="0.82"/><circle cx="115.4" cy="100.2" r="0.82"/><circle cx="119.8" cy="100" r="0.82"/><circle cx="126" cy="85.4" r="0.82"/><circle cx="124" cy="86.4" r="0.82"/><circle cx="121.8" cy="82.8" r="0.82"/><circle cx="124.6" cy="97.6" r="0.82"/><circle cx="117.6" cy="100.2" r="0.82"/><circle cx="123.1" cy="101.7" r="0.82"/><circle cx="122.5" cy="100.1" r="0.82"/><circle cx="123.1" cy="92.3" r="0.82"/><circle cx="124.2" cy="83.3" r="0.82"/><circle cx="122.5" cy="90.8" r="0.82"/><circle cx="127.4" cy="83.8" r="0.82"/><circle cx="120.4" cy="94.2" r="0.82"/><circle cx="135.8" cy="101.4" r="0.82"/><circle cx="126.7" cy="89" r="0.82"/><circle cx="123.5" cy="92.6" r="0.82"/><circle cx="133.9" cy="102.1" r="0.82"/><circle cx="128.9" cy="89.3" r="0.82"/><circle cx="119.6" cy="83.3" r="0.82"/><circle cx="120.2" cy="92.9" r="0.82"/><circle cx="123.9" cy="85.6" r="0.82"/><circle cx="117.2" cy="93.8" r="0.82"/><circle cx="121.5" cy="91" r="0.82"/><circle cx="131.9" cy="97" r="0.82"/><circle cx="131.9" cy="94.5" r="0.82"/><circle cx="123.4" cy="97.5" r="0.82"/><circle cx="127.2" cy="85.1" r="0.82"/><circle cx="119.5" cy="96.5" r="0.82"/><circle cx="118.8" cy="90.2" r="0.82"/><circle cx="126.6" cy="85.3" r="0.82"/><circle cx="127.2" cy="85.2" r="0.82"/><circle cx="126.2" cy="89.2" r="0.82"/><circle cx="128.3" cy="90" r="0.82"/><circle cx="127.9" cy="98.7" r="0.82"/><circle cx="127.5" cy="93.3" r="0.82"/><circle cx="130.1" cy="101" r="0.82"/><circle cx="116.7" cy="102.1" r="0.82"/><circle cx="127.2" cy="95.3" r="0.82"/><circle cx="124.8" cy="97.8" r="0.82"/><circle cx="118.9" cy="94.1" r="0.82"/><circle cx="119.2" cy="93.9" r="0.82"/><circle cx="131.4" cy="90.5" r="0.82"/><circle cx="121.2" cy="100.9" r="0.82"/><circle cx="126.9" cy="98.7" r="0.82"/><circle cx="116.2" cy="102.4" r="0.82"/><circle cx="115.8" cy="102.4" r="0.82"/><circle cx="128.9" cy="98.1" r="0.82"/><circle cx="129.3" cy="99.3" r="0.82"/><circle cx="129.2" cy="101.3" r="0.82"/><circle cx="126.5" cy="87.2" r="0.82"/><circle cx="122.3" cy="81.5" r="0.82"/><circle cx="128.8" cy="102.5" r="0.82"/><circle cx="131.6" cy="101.4" r="0.82"/><circle cx="119.1" cy="86.7" r="0.82"/><circle cx="122.9" cy="101.7" r="0.82"/><circle cx="120.3" cy="90.5" r="0.82"/><circle cx="121.8" cy="88" r="0.82"/><circle cx="120.2" cy="88.8" r="0.82"/><circle cx="126.5" cy="94.2" r="0.82"/><circle cx="120.6" cy="85.2" r="0.82"/><circle cx="124.9" cy="97" r="0.82"/><circle cx="128.5" cy="84.2" r="0.82"/><circle cx="119.5" cy="89.7" r="0.82"/><circle cx="125.8" cy="96.7" r="0.82"/><circle cx="121.6" cy="82.6" r="0.82"/><circle cx="120.4" cy="87.8" r="0.82"/><circle cx="125.8" cy="82.4" r="0.82"/><circle cx="131.3" cy="97.2" r="0.82"/><circle cx="121.5" cy="90.2" r="0.82"/><circle cx="125" cy="97.4" r="0.82"/><circle cx="119.8" cy="101.3" r="0.82"/><circle cx="124.6" cy="84.9" r="0.82"/><circle cx="134.9" cy="98.3" r="0.82"/><circle cx="125.9" cy="88" r="0.82"/><circle cx="122.4" cy="98.9" r="0.82"/><circle cx="130.9" cy="93.2" r="0.82"/><circle cx="130.3" cy="98.3" r="0.82"/><circle cx="125.2" cy="82.4" r="0.82"/><circle cx="122.7" cy="90.1" r="0.82"/><circle cx="116.8" cy="99.2" r="0.82"/><circle cx="120.2" cy="90.7" r="0.82"/><circle cx="121" cy="91.9" r="0.82"/><circle cx="116.1" cy="102" r="0.82"/><circle cx="130.8" cy="99.9" r="0.82"/><circle cx="125.7" cy="95.9" r="0.82"/><circle cx="123.7" cy="102.3" r="0.82"/><circle cx="133" cy="92.6" r="0.82"/><circle cx="124.9" cy="97.7" r="0.82"/><circle cx="130.5" cy="94" r="0.82"/><circle cx="118" cy="102.1" r="0.82"/><circle cx="117" cy="99.4" r="0.82"/><circle cx="115.2" cy="101.9" r="0.82"/><circle cx="124.7" cy="83.1" r="0.82"/><circle cx="122.3" cy="81.1" r="0.82"/><circle cx="134.3" cy="101.6" r="0.82"/><circle cx="125.7" cy="94.7" r="0.82"/><circle cx="118" cy="90.7" r="0.82"/><circle cx="127.6" cy="94.8" r="0.82"/><circle cx="122.1" cy="99.8" r="0.82"/><circle cx="117.4" cy="102.1" r="0.82"/><circle cx="118" cy="95.7" r="0.82"/><circle cx="132.2" cy="101.9" r="0.82"/><circle cx="127.7" cy="96.9" r="0.82"/><circle cx="125.5" cy="86" r="0.82"/><circle cx="118" cy="100.5" r="0.82"/><circle cx="122.8" cy="99.6" r="0.82"/><circle cx="117.7" cy="100.2" r="0.82"/><circle cx="127.8" cy="102.5" r="0.82"/><circle cx="128.8" cy="99.1" r="0.82"/><circle cx="122.1" cy="96" r="0.82"/><circle cx="131.8" cy="92.8" r="0.82"/><circle cx="126.5" cy="100.2" r="0.82"/><circle cx="117.4" cy="101.8" r="0.82"/><circle cx="128.7" cy="91" r="0.82"/><circle cx="118.2" cy="94.3" r="0.82"/><circle cx="116.2" cy="97.5" r="0.82"/><circle cx="132.2" cy="96.1" r="0.82"/><circle cx="116.4" cy="92.5" r="0.82"/><circle cx="127.5" cy="98.8" r="0.82"/><circle cx="122.7" cy="97.2" r="0.82"/><circle cx="118" cy="99" r="0.82"/><circle cx="133.9" cy="101.7" r="0.82"/><circle cx="129.1" cy="97" r="0.82"/><circle cx="136.4" cy="102.4" r="0.82"/><circle cx="131.3" cy="96" r="0.82"/><circle cx="116" cy="102.6" r="0.82"/><circle cx="132" cy="91.6" r="0.82"/><circle cx="116.7" cy="93.8" r="0.82"/><circle cx="134.4" cy="98.6" r="0.82"/><circle cx="125" cy="100.3" r="0.82"/><circle cx="128.7" cy="99.1" r="0.82"/><circle cx="115.1" cy="101.2" r="0.82"/><circle cx="126" cy="92.4" r="0.82"/><circle cx="118.3" cy="98.9" r="0.82"/><circle cx="126.1" cy="87.2" r="0.82"/><circle cx="131.4" cy="90.3" r="0.82"/><circle cx="117" cy="101.6" r="0.82"/><circle cx="129.3" cy="94.4" r="0.82"/><circle cx="128.9" cy="101.8" r="0.82"/><circle cx="131.4" cy="96.1" r="0.82"/><circle cx="123.1" cy="102.4" r="0.82"/><circle cx="133.2" cy="97.6" r="0.82"/><circle cx="120.2" cy="99.7" r="0.82"/><circle cx="120.3" cy="90" r="0.82"/><circle cx="122" cy="91.9" r="0.82"/><circle cx="119.3" cy="87.1" r="0.82"/><circle cx="120.6" cy="86.1" r="0.82"/><circle cx="123.6" cy="91.6" r="0.82"/><circle cx="124.2" cy="102.3" r="0.82"/><circle cx="136" cy="98.5" r="0.82"/><circle cx="116.7" cy="100.9" r="0.82"/><circle cx="128.3" cy="99.1" r="0.82"/><circle cx="125.1" cy="91.7" r="0.82"/><circle cx="128.4" cy="100.9" r="0.82"/><circle cx="123.1" cy="92.3" r="0.82"/><circle cx="118.4" cy="100.6" r="0.82"/><circle cx="121.1" cy="100.3" r="0.82"/><circle cx="125.5" cy="83.3" r="0.82"/><circle cx="129.6" cy="99.7" r="0.82"/><circle cx="120.7" cy="94.1" r="0.82"/><circle cx="132.3" cy="91.7" r="0.82"/><circle cx="120.9" cy="81.2" r="0.82"/><circle cx="130.5" cy="96" r="0.82"/><circle cx="117.7" cy="96.1" r="0.82"/><circle cx="121.8" cy="80.2" r="0.82"/><circle cx="117.9" cy="94.1" r="0.82"/><circle cx="126.6" cy="95.4" r="0.82"/><circle cx="124" cy="101.5" r="0.82"/><circle cx="121.7" cy="92.2" r="0.82"/><circle cx="133.6" cy="102.1" r="0.82"/><circle cx="126.8" cy="97.6" r="0.82"/><circle cx="127.8" cy="97.4" r="0.82"/><circle cx="124.3" cy="81.7" r="0.82"/><circle cx="126.3" cy="97.9" r="0.82"/><circle cx="123.8" cy="93.8" r="0.82"/><circle cx="135.5" cy="97.1" r="0.82"/><circle cx="119" cy="88.7" r="0.82"/><circle cx="118.2" cy="93.1" r="0.82"/><circle cx="124.1" cy="100" r="0.82"/><circle cx="115.7" cy="100.4" r="0.82"/><circle cx="118.7" cy="94.5" r="0.82"/><circle cx="118.6" cy="98.1" r="0.82"/><circle cx="125" cy="88.6" r="0.82"/><circle cx="122.3" cy="91.1" r="0.82"/><circle cx="126.1" cy="93" r="0.82"/><circle cx="119.1" cy="98.1" r="0.82"/><circle cx="117.4" cy="92" r="0.82"/><circle cx="120.6" cy="90.2" r="0.82"/><circle cx="132.9" cy="98.2" r="0.82"/><circle cx="124.6" cy="92.5" r="0.82"/><circle cx="118.8" cy="85.6" r="0.82"/><circle cx="116.3" cy="101.6" r="0.82"/><circle cx="133.2" cy="93.7" r="0.82"/><circle cx="121.9" cy="86.5" r="0.82"/><circle cx="115.5" cy="98.5" r="0.82"/><circle cx="116.2" cy="96" r="0.82"/><circle cx="119.9" cy="88" r="0.82"/><circle cx="126.2" cy="83.6" r="0.82"/><circle cx="131.7" cy="91.9" r="0.82"/><circle cx="129.4" cy="86.3" r="0.82"/><circle cx="130" cy="92.9" r="0.82"/><circle cx="134.4" cy="100.5" r="0.82"/><circle cx="133.2" cy="102.6" r="0.82"/><circle cx="130.2" cy="90.2" r="0.82"/><circle cx="125" cy="94.2" r="0.82"/><circle cx="125.9" cy="95.1" r="0.82"/><circle cx="122.1" cy="93.3" r="0.82"/><circle cx="129" cy="97" r="0.82"/><circle cx="120.8" cy="91" r="0.82"/><circle cx="120.6" cy="96.4" r="0.82"/><circle cx="123.3" cy="93.6" r="0.82"/><circle cx="116.7" cy="96.8" r="0.82"/><circle cx="125.3" cy="101.2" r="0.82"/><circle cx="134.6" cy="96.3" r="0.82"/><circle cx="135.8" cy="98.9" r="0.82"/><circle cx="121.6" cy="82" r="0.82"/><circle cx="124.9" cy="92.3" r="0.82"/><circle cx="123.7" cy="91.9" r="0.82"/><circle cx="128" cy="94.9" r="0.82"/><circle cx="120" cy="90" r="0.82"/><circle cx="119.9" cy="81.1" r="0.82"/><circle cx="127.7" cy="91.7" r="0.82"/><circle cx="121" cy="90.8" r="0.82"/><circle cx="125.1" cy="82.8" r="0.82"/><circle cx="121.9" cy="89.3" r="0.82"/><circle cx="124" cy="84.5" r="0.82"/><circle cx="116.5" cy="96.5" r="0.82"/><circle cx="123.6" cy="100.8" r="0.82"/><circle cx="133.7" cy="94.1" r="0.82"/><circle cx="116.2" cy="97.1" r="0.82"/><circle cx="123.5" cy="92.2" r="0.82"/><circle cx="116.8" cy="99.4" r="0.82"/><circle cx="126.5" cy="89.8" r="0.82"/><circle cx="126.7" cy="102" r="0.82"/><circle cx="121.2" cy="85.2" r="0.82"/><circle cx="119" cy="87.6" r="0.82"/><circle cx="127.5" cy="99.1" r="0.82"/><circle cx="123.2" cy="91" r="0.82"/><circle cx="118.2" cy="88.7" r="0.82"/><circle cx="125.1" cy="94.4" r="0.82"/><circle cx="115.7" cy="99.9" r="0.82"/><circle cx="130" cy="100.9" r="0.82"/><circle cx="115.4" cy="99.6" r="0.82"/><circle cx="123.8" cy="84.3" r="0.82"/><circle cx="126.1" cy="84.7" r="0.82"/><circle cx="114.9" cy="102.5" r="0.82"/><circle cx="130.3" cy="96.4" r="0.82"/><circle cx="128.8" cy="95.7" r="0.82"/><circle cx="116.5" cy="97.6" r="0.82"/><circle cx="125.3" cy="95.8" r="0.82"/><circle cx="89.8" cy="89.6" r="0.82"/><circle cx="89.8" cy="73.3" r="0.82"/><circle cx="95.2" cy="72.5" r="0.82"/><circle cx="92.3" cy="74.8" r="0.82"/><circle cx="91.5" cy="77.6" r="0.82"/><circle cx="92.1" cy="79.8" r="0.82"/><circle cx="91.3" cy="89.1" r="0.82"/><circle cx="91" cy="100.1" r="0.82"/><circle cx="91.7" cy="84.1" r="0.82"/><circle cx="93.5" cy="73.7" r="0.82"/><circle cx="92.2" cy="82.1" r="0.82"/><circle cx="97.7" cy="72" r="0.82"/><circle cx="91.1" cy="84.4" r="0.82"/><circle cx="90.8" cy="93.6" r="0.82"/><circle cx="87.2" cy="91.9" r="0.82"/><circle cx="97.5" cy="72.5" r="0.82"/><circle cx="89.3" cy="100.8" r="0.82"/><circle cx="91.6" cy="86.3" r="0.82"/><circle cx="87.2" cy="91.6" r="0.82"/><circle cx="92.1" cy="82.8" r="0.82"/><circle cx="90.2" cy="74.7" r="0.82"/><circle cx="96.2" cy="74.4" r="0.82"/><circle cx="93.3" cy="78.9" r="0.82"/><circle cx="90.5" cy="95.2" r="0.82"/><circle cx="87.9" cy="99.3" r="0.82"/><circle cx="88.6" cy="100.6" r="0.82"/><circle cx="89.7" cy="82.2" r="0.82"/><circle cx="90.9" cy="73.1" r="0.82"/><circle cx="131.4" cy="84" r="0.82"/><circle cx="125.2" cy="79" r="0.82"/><circle cx="129.3" cy="83.4" r="0.82"/><circle cx="139.7" cy="100.2" r="0.82"/><circle cx="139.6" cy="101.8" r="0.82"/><circle cx="126.2" cy="82.4" r="0.82"/><circle cx="132.9" cy="82.4" r="0.82"/><circle cx="124.7" cy="80.1" r="0.82"/><circle cx="131.9" cy="88.9" r="0.82"/><circle cx="127.3" cy="80.3" r="0.82"/><circle cx="139" cy="102.2" r="0.82"/><circle cx="131.8" cy="82.3" r="0.82"/><circle cx="139" cy="100.4" r="0.82"/><circle cx="134.1" cy="84.9" r="0.82"/><circle cx="129.2" cy="81.8" r="0.82"/><circle cx="139.6" cy="102.3" r="0.82"/><circle cx="137.2" cy="100.2" r="0.82"/><circle cx="133.6" cy="91.5" r="0.82"/><circle cx="127.5" cy="81.1" r="0.82"/><circle cx="135.8" cy="92.6" r="0.82"/><circle cx="137.9" cy="92.2" r="0.82"/><circle cx="125" cy="81.8" r="0.82"/><circle cx="133.9" cy="90.9" r="0.82"/><circle cx="126.2" cy="78.4" r="0.82"/><circle cx="137.6" cy="96.2" r="0.82"/><circle cx="134.2" cy="91.2" r="0.82"/><circle cx="129.5" cy="85.7" r="0.82"/><circle cx="140.6" cy="101.1" r="0.82"/></g>
<g fill="#1c1c88" stroke="#00002a" stroke-width="0.3"><circle cx="21.3" cy="48.3" r="0.78"/><circle cx="80.3" cy="52.1" r="0.78"/><circle cx="71.3" cy="81.3" r="0.78"/><circle cx="88.6" cy="71.4" r="0.78"/><circle cx="92.4" cy="72.4" r="0.78"/><circle cx="93.4" cy="73.1" r="0.78"/><circle cx="92.7" cy="77.2" r="0.78"/><circle cx="88.8" cy="83.8" r="0.78"/><circle cx="145.3" cy="68.8" r="0.78"/><circle cx="152.4" cy="75.2" r="0.78"/><circle cx="152.4" cy="76.7" r="0.78"/><circle cx="153.5" cy="83.5" r="0.78"/><circle cx="155.5" cy="85" r="0.78"/><circle cx="157" cy="85.8" r="0.78"/><circle cx="156.2" cy="94.1" r="0.78"/><circle cx="156.2" cy="95.2" r="0.78"/><circle cx="190.3" cy="91.1" r="0.78"/><circle cx="138" cy="85" r="0.78"/><circle cx="141" cy="89.5" r="0.78"/><circle cx="142.3" cy="81.5" r="0.78"/><circle cx="142.9" cy="97.1" r="0.78"/><circle cx="143.3" cy="101.7" r="0.78"/><circle cx="99" cy="69" r="0.78"/><circle cx="101" cy="67.5" r="0.78"/><circle cx="97" cy="71" r="0.78"/><circle cx="104" cy="70.5" r="0.78"/><circle cx="121" cy="79" r="0.78"/><circle cx="125" cy="80" r="0.78"/><circle cx="84" cy="95" r="0.78"/><circle cx="86" cy="100" r="0.78"/><circle cx="82" cy="99" r="0.78"/><circle cx="140" cy="96" r="0.78"/><circle cx="146" cy="92" r="0.78"/><circle cx="100" cy="65" r="0.78"/><circle cx="96" cy="68" r="0.78"/></g>
<line x1="151.1" y1="8.8" x2="148.9" y2="9.9" stroke="#333" stroke-width="0.35"/>
<circle cx="148.9" cy="9.9" r="0.8" fill="#1c1c88" stroke="#111" stroke-width="0.3"/>
<rect x="151.1" y="4.4" width="18.3" height="4.4" rx="0.6" fill="#fff" stroke="#6a6a6a" stroke-width="0.45"/>
<text x="160.2" y="7.8" font-size="3.3" text-anchor="middle" fill="#111" stroke="#111" stroke-width="0.03" textLength="16.5" lengthAdjust="spacingAndGlyphs">LRRC37A2</text>
<line x1="151.1" y1="28.6" x2="151.1" y2="26" stroke="#333" stroke-width="0.35"/>
<circle cx="151.1" cy="26" r="0.8" fill="#1c1c88" stroke="#111" stroke-width="0.3"/>
<rect x="131.9" y="28.6" width="21.6" height="4.9" rx="0.6" fill="#fff" stroke="#6a6a6a" stroke-width="0.45"/>
<text x="142.7" y="32.2" font-size="3.3" text-anchor="middle" fill="#111" stroke="#111" stroke-width="0.03" textLength="19.8" lengthAdjust="spacingAndGlyphs">KANSL1-AS1</text>
<line x1="125.3" y1="56.6" x2="126" y2="59" stroke="#333" stroke-width="0.35"/>
<circle cx="126" cy="59" r="0.8" fill="#1c1c88" stroke="#111" stroke-width="0.3"/>
<rect x="109.3" y="52.2" width="16" height="4.4" rx="0.6" fill="#fff" stroke="#6a6a6a" stroke-width="0.45"/>
<text x="117.3" y="55.6" font-size="3.3" text-anchor="middle" fill="#111" stroke="#111" stroke-width="0.03" textLength="14.2" lengthAdjust="spacingAndGlyphs">LRRC37A</text>
<line x1="123.1" y1="65" x2="127.5" y2="65" stroke="#333" stroke-width="0.35"/>
<circle cx="127.5" cy="65" r="0.8" fill="#1c1c88" stroke="#111" stroke-width="0.3"/>
<rect x="108.8" y="62.1" width="14.3" height="4" rx="0.6" fill="#fff" stroke="#6a6a6a" stroke-width="0.45"/>
<text x="115.9" y="65.3" font-size="3.3" text-anchor="middle" fill="#111" stroke="#111" stroke-width="0.03" textLength="12.5" lengthAdjust="spacingAndGlyphs">PLEKHM1</text>
<line x1="151.8" y1="56.6" x2="148" y2="59.9" stroke="#333" stroke-width="0.35"/>
<circle cx="148" cy="59.9" r="0.8" fill="#1c1c88" stroke="#111" stroke-width="0.3"/>
<rect x="151.8" y="52.2" width="13.2" height="4.4" rx="0.6" fill="#fff" stroke="#6a6a6a" stroke-width="0.45"/>
<text x="158.4" y="55.6" font-size="3.3" text-anchor="middle" fill="#111" stroke="#111" stroke-width="0.03" textLength="11.4" lengthAdjust="spacingAndGlyphs">NFE2L1</text>
<line x1="135.2" y1="65.6" x2="134.1" y2="66" stroke="#333" stroke-width="0.35"/>
<circle cx="134.1" cy="66" r="0.8" fill="#1c1c88" stroke="#111" stroke-width="0.3"/>
<rect x="135.2" y="61.7" width="14.4" height="3.9" rx="0.6" fill="#fff" stroke="#6a6a6a" stroke-width="0.45"/>
<text x="142.4" y="64.8" font-size="3.3" text-anchor="middle" fill="#111" stroke="#111" stroke-width="0.03" textLength="12.6" lengthAdjust="spacingAndGlyphs">ARL17A</text>
<line x1="134.1" y1="70.5" x2="134.1" y2="66.5" stroke="#333" stroke-width="0.35"/>
<circle cx="134.1" cy="66.5" r="0.8" fill="#1c1c88" stroke="#111" stroke-width="0.3"/>
<rect x="128.6" y="70.5" width="12.1" height="3.9" rx="0.6" fill="#fff" stroke="#6a6a6a" stroke-width="0.45"/>
<text x="134.6" y="73.7" font-size="3.3" text-anchor="middle" fill="#111" stroke="#111" stroke-width="0.03" textLength="10.3" lengthAdjust="spacingAndGlyphs">LGE3B</text>
<line x1="21.3" y1="51" x2="21.3" y2="48.3" stroke="#333" stroke-width="0.35"/>
<circle cx="21.3" cy="48.3" r="0.8" fill="#1c1c88" stroke="#111" stroke-width="0.3"/>
<rect x="15.8" y="51" width="9.6" height="4.2" rx="0.6" fill="#fff" stroke="#6a6a6a" stroke-width="0.45"/>
<text x="20.6" y="54.3" font-size="3.3" text-anchor="middle" fill="#111" stroke="#111" stroke-width="0.03" textLength="7.8" lengthAdjust="spacingAndGlyphs">LRP2</text>
<line x1="77.5" y1="54.5" x2="80.3" y2="52.1" stroke="#333" stroke-width="0.35"/>
<circle cx="80.3" cy="52.1" r="0.8" fill="#1c1c88" stroke="#111" stroke-width="0.3"/>
<rect x="66.5" y="54.5" width="11" height="4.8" rx="0.6" fill="#fff" stroke="#6a6a6a" stroke-width="0.45"/>
<text x="72" y="58.1" font-size="3.3" text-anchor="middle" fill="#111" stroke="#111" stroke-width="0.03" textLength="9.2" lengthAdjust="spacingAndGlyphs">FOXO1</text>
<line x1="98.2" y1="55.8" x2="99.5" y2="52" stroke="#333" stroke-width="0.35"/>
<circle cx="99.5" cy="52" r="0.8" fill="#1c1c88" stroke="#111" stroke-width="0.3"/>
<rect x="90.2" y="55.8" width="8" height="4.6" rx="0.6" fill="#fff" stroke="#6a6a6a" stroke-width="0.45"/>
<text x="94.2" y="59.3" font-size="3.3" text-anchor="middle" fill="#111" stroke="#111" stroke-width="0.03" textLength="6.2" lengthAdjust="spacingAndGlyphs">MXM</text>
<circle cx="19.3" cy="7.5" r="1.1" fill="#1c1c88" stroke="#111" stroke-width="0.4"/>
<text x="23.7" y="8.7" font-size="3.2" fill="#222" stroke="#222" stroke-width="0.05" textLength="19" lengthAdjust="spacingAndGlyphs">Bon Significant</text>
<circle cx="19.3" cy="13" r="1.1" fill="#7ab8e4" stroke="#0a1a2a" stroke-width="0.4"/>
<text x="23.7" y="14.2" font-size="3.2" fill="#222" stroke="#222" stroke-width="0.05" textLength="26" lengthAdjust="spacingAndGlyphs">Nominally Significant</text>
<circle cx="19.3" cy="18.5" r="1.1" fill="#f4f4f4" stroke="#555" stroke-width="0.4"/>
<text x="23.7" y="19.6" font-size="3.2" fill="#222" stroke="#222" stroke-width="0.05" textLength="19.2" lengthAdjust="spacingAndGlyphs">FDR Significant</text>
<rect x="13" y="123" width="185.5" height="108.2" fill="#fff" stroke="#d4d4d4" stroke-width="0.9"/>
<line x1="11.7" y1="230.8" x2="13" y2="230.8" stroke="#555" stroke-width="0.4"/>
<text x="11.3" y="232" font-size="3.3" text-anchor="end" fill="#333">0</text>
<line x1="11.7" y1="209.2" x2="13" y2="209.2" stroke="#555" stroke-width="0.4"/>
<text x="11.3" y="210.3" font-size="3.3" text-anchor="end" fill="#333">5</text>
<line x1="11.7" y1="187.7" x2="13" y2="187.7" stroke="#555" stroke-width="0.4"/>
<text x="11.3" y="188.8" font-size="3.3" text-anchor="end" fill="#333">10</text>
<line x1="11.7" y1="166.1" x2="13" y2="166.1" stroke="#555" stroke-width="0.4"/>
<text x="11.3" y="167.2" font-size="3.3" text-anchor="end" fill="#333">15</text>
<line x1="11.7" y1="144.5" x2="13" y2="144.5" stroke="#555" stroke-width="0.4"/>
<text x="11.3" y="145.7" font-size="3.3" text-anchor="end" fill="#333">20</text>
<line x1="11.7" y1="123" x2="13" y2="123" stroke="#555" stroke-width="0.4"/>
<text x="11.3" y="124.2" font-size="3.3" text-anchor="end" fill="#333">25</text>
<line x1="37.7" y1="231.2" x2="37.7" y2="232.5" stroke="#555" stroke-width="0.4"/>
<text x="37.7" y="235.2" font-size="3.3" text-anchor="middle" fill="#333">-0.1</text>
<line x1="92.9" y1="231.2" x2="92.9" y2="232.5" stroke="#555" stroke-width="0.4"/>
<text x="92.9" y="235.2" font-size="3.3" text-anchor="middle" fill="#333">0.0</text>
<line x1="148.1" y1="231.2" x2="148.1" y2="232.5" stroke="#555" stroke-width="0.4"/>
<text x="148.1" y="235.2" font-size="3.3" text-anchor="middle" fill="#333">0.1</text>
<text x="5.9" y="177.1" font-size="3.6" text-anchor="middle" fill="#333" textLength="26.5" lengthAdjust="spacingAndGlyphs" transform="rotate(-90 5.9 177.1)">-log<tspan font-size="2.6" dy="0.8">10</tspan><tspan dy="-0.8">(p-value)</tspan></text>
<text x="105.8" y="239.4" font-size="3.6" text-anchor="middle">Effect size estimate</text>
<line x1="13" y1="205.4" x2="198.5" y2="205.4" stroke="#333" stroke-width="1" stroke-dasharray="0.55 1.75"/>
<line x1="13" y1="224.8" x2="198.5" y2="224.8" stroke="#bbb" stroke-width="0.6" stroke-dasharray="2.2 1.8"/>
<g fill="#ff9c9c" stroke="#3a1010" stroke-width="0.25"><circle cx="88.8" cy="206.4" r="0.82"/><circle cx="74.7" cy="213.4" r="0.82"/><circle cx="80.9" cy="218.4" r="0.82"/><circle cx="89.4" cy="225.7" r="0.82"/><circle cx="76" cy="212.9" r="0.82"/><circle cx="87.8" cy="214.1" r="0.82"/><circle cx="90.8" cy="214.9" r="0.82"/><circle cx="90" cy="217.5" r="0.82"/><circle cx="86.3" cy="216.5" r="0.82"/><circle cx="90.8" cy="218.1" r="0.82"/><circle cx="86.5" cy="213.3" r="0.82"/><circle cx="79.3" cy="214.8" r="0.82"/><circle cx="71.3" cy="215.9" r="0.82"/><circle cx="88.8" cy="219.1" r="0.82"/><circle cx="69.4" cy="216.1" r="0.82"/><circle cx="72.2" cy="221" r="0.82"/><circle cx="82.4" cy="206.1" r="0.82"/><circle cx="69.7" cy="213.9" r="0.82"/><circle cx="87.6" cy="209.2" r="0.82"/><circle cx="89.8" cy="209.6" r="0.82"/><circle cx="69.4" cy="213.1" r="0.82"/><circle cx="79.8" cy="208.8" r="0.82"/><circle cx="89.2" cy="207.9" r="0.82"/><circle cx="85.7" cy="229.4" r="0.82"/><circle cx="85.7" cy="228.4" r="0.82"/><circle cx="91.1" cy="226.1" r="0.82"/><circle cx="86.9" cy="223.1" r="0.82"/><circle cx="66.1" cy="207.7" r="0.82"/><circle cx="68" cy="205.7" r="0.82"/><circle cx="82.7" cy="210.4" r="0.82"/><circle cx="87.2" cy="207.2" r="0.82"/><circle cx="70.2" cy="212" r="0.82"/><circle cx="88.6" cy="227.7" r="0.82"/><circle cx="77.1" cy="208.8" r="0.82"/><circle cx="90.6" cy="212.8" r="0.82"/><circle cx="81.9" cy="210.7" r="0.82"/><circle cx="82.2" cy="225.2" r="0.82"/><circle cx="72.5" cy="209.6" r="0.82"/><circle cx="88.1" cy="212.9" r="0.82"/><circle cx="84" cy="224.5" r="0.82"/><circle cx="88.9" cy="206.5" r="0.82"/><circle cx="84.8" cy="217.5" r="0.82"/><circle cx="72.2" cy="211.7" r="0.82"/><circle cx="89.1" cy="221.5" r="0.82"/><circle cx="73" cy="213.8" r="0.82"/><circle cx="83.7" cy="217.1" r="0.82"/><circle cx="81.7" cy="217.5" r="0.82"/><circle cx="73.3" cy="221.3" r="0.82"/><circle cx="87.4" cy="214.4" r="0.82"/><circle cx="81.4" cy="220.7" r="0.82"/><circle cx="78.3" cy="224.6" r="0.82"/><circle cx="69.4" cy="216.4" r="0.82"/><circle cx="77.5" cy="214.6" r="0.82"/><circle cx="86.9" cy="208.8" r="0.82"/><circle cx="71.1" cy="213.3" r="0.82"/><circle cx="75.1" cy="206.6" r="0.82"/><circle cx="89.6" cy="227.5" r="0.82"/><circle cx="83.5" cy="217.5" r="0.82"/><circle cx="90.5" cy="224.6" r="0.82"/><circle cx="90.5" cy="225.5" r="0.82"/><circle cx="78.3" cy="225.3" r="0.82"/><circle cx="81.6" cy="216.8" r="0.82"/><circle cx="82.7" cy="217.6" r="0.82"/><circle cx="78.6" cy="216.8" r="0.82"/><circle cx="88.9" cy="210.8" r="0.82"/><circle cx="86.6" cy="212.1" r="0.82"/><circle cx="88.6" cy="215.9" r="0.82"/><circle cx="75.9" cy="220.9" r="0.82"/><circle cx="76.1" cy="213" r="0.82"/><circle cx="90.4" cy="216.5" r="0.82"/><circle cx="69.1" cy="208.6" r="0.82"/><circle cx="91.8" cy="223.8" r="0.82"/><circle cx="88" cy="222.6" r="0.82"/><circle cx="82" cy="220.9" r="0.82"/><circle cx="71" cy="212.2" r="0.82"/><circle cx="91.2" cy="224.5" r="0.82"/><circle cx="71.3" cy="205.5" r="0.82"/><circle cx="89.1" cy="229.1" r="0.82"/><circle cx="72.1" cy="219.9" r="0.82"/><circle cx="86.4" cy="228.2" r="0.82"/><circle cx="82.7" cy="219.2" r="0.82"/><circle cx="71.7" cy="209.6" r="0.82"/><circle cx="81.6" cy="225.6" r="0.82"/><circle cx="83.7" cy="208.1" r="0.82"/><circle cx="83.7" cy="213.7" r="0.82"/><circle cx="78.9" cy="218.7" r="0.82"/><circle cx="78.4" cy="224" r="0.82"/><circle cx="79" cy="208.7" r="0.82"/><circle cx="91.9" cy="220.9" r="0.82"/><circle cx="67.6" cy="205.9" r="0.82"/><circle cx="76.5" cy="209.3" r="0.82"/><circle cx="81.8" cy="226.8" r="0.82"/><circle cx="86.7" cy="212.5" r="0.82"/><circle cx="76.1" cy="213.8" r="0.82"/><circle cx="82.6" cy="222" r="0.82"/><circle cx="77.7" cy="221.7" r="0.82"/><circle cx="87.1" cy="210.5" r="0.82"/><circle cx="86.6" cy="216.6" r="0.82"/><circle cx="73.3" cy="220.9" r="0.82"/><circle cx="89.8" cy="220.3" r="0.82"/><circle cx="80.8" cy="219.8" r="0.82"/><circle cx="91" cy="217.1" r="0.82"/><circle cx="86.7" cy="206.2" r="0.82"/><circle cx="84.4" cy="219.3" r="0.82"/><circle cx="88.6" cy="206.2" r="0.82"/><circle cx="86.1" cy="214.1" r="0.82"/><circle cx="91.3" cy="229" r="0.82"/><circle cx="82.4" cy="208.5" r="0.82"/><circle cx="89.2" cy="219.2" r="0.82"/><circle cx="90.4" cy="217.2" r="0.82"/><circle cx="83.1" cy="206.9" r="0.82"/><circle cx="78.9" cy="219.8" r="0.82"/><circle cx="78" cy="212.5" r="0.82"/><circle cx="91.3" cy="222.6" r="0.82"/><circle cx="84.6" cy="226.9" r="0.82"/><circle cx="90.4" cy="224.5" r="0.82"/><circle cx="91.8" cy="227.8" r="0.82"/><circle cx="89.4" cy="217.3" r="0.82"/><circle cx="83.4" cy="223.8" r="0.82"/><circle cx="88.3" cy="209.3" r="0.82"/><circle cx="83.6" cy="215.3" r="0.82"/><circle cx="78" cy="212.3" r="0.82"/><circle cx="87.3" cy="217.8" r="0.82"/><circle cx="89.6" cy="219.2" r="0.82"/><circle cx="87.2" cy="215.6" r="0.82"/><circle cx="86.8" cy="223.2" r="0.82"/><circle cx="70.5" cy="217.8" r="0.82"/><circle cx="88.6" cy="227.2" r="0.82"/><circle cx="80.5" cy="217.6" r="0.82"/><circle cx="73.4" cy="220.8" r="0.82"/><circle cx="83.5" cy="208" r="0.82"/><circle cx="87.4" cy="205.9" r="0.82"/><circle cx="67.1" cy="205.6" r="0.82"/><circle cx="70" cy="214.9" r="0.82"/><circle cx="89.2" cy="205.5" r="0.82"/><circle cx="75.9" cy="210.1" r="0.82"/><circle cx="87.8" cy="214.8" r="0.82"/><circle cx="89.4" cy="218.6" r="0.82"/><circle cx="81.6" cy="214" r="0.82"/><circle cx="89.5" cy="206.4" r="0.82"/><circle cx="84.1" cy="219.5" r="0.82"/><circle cx="84.6" cy="212.9" r="0.82"/><circle cx="72.7" cy="214" r="0.82"/><circle cx="83.8" cy="216" r="0.82"/><circle cx="80.3" cy="225.4" r="0.82"/><circle cx="65" cy="206.3" r="0.82"/><circle cx="71.4" cy="205.6" r="0.82"/><circle cx="81.9" cy="209.4" r="0.82"/><circle cx="88.3" cy="211.7" r="0.82"/><circle cx="73.6" cy="206.9" r="0.82"/><circle cx="69.3" cy="208.4" r="0.82"/><circle cx="87.6" cy="210.6" r="0.82"/><circle cx="81.6" cy="222.3" r="0.82"/><circle cx="84.8" cy="210.3" r="0.82"/><circle cx="69" cy="209.2" r="0.82"/><circle cx="90.3" cy="216" r="0.82"/><circle cx="89" cy="221.7" r="0.82"/><circle cx="91.4" cy="226.2" r="0.82"/><circle cx="87.6" cy="220.3" r="0.82"/><circle cx="88.6" cy="223.8" r="0.82"/><circle cx="73.8" cy="215.7" r="0.82"/><circle cx="80.7" cy="223.9" r="0.82"/><circle cx="87.1" cy="206.1" r="0.82"/><circle cx="84.7" cy="205.7" r="0.82"/><circle cx="73.7" cy="210.1" r="0.82"/><circle cx="74.3" cy="216.5" r="0.82"/><circle cx="79.5" cy="223.5" r="0.82"/><circle cx="83.9" cy="225.3" r="0.82"/><circle cx="73.8" cy="215.9" r="0.82"/><circle cx="71.3" cy="214.5" r="0.82"/><circle cx="77.6" cy="207.3" r="0.82"/><circle cx="70.1" cy="216.1" r="0.82"/><circle cx="86" cy="207.2" r="0.82"/><circle cx="84.7" cy="227.5" r="0.82"/><circle cx="85.8" cy="212.6" r="0.82"/><circle cx="75.4" cy="206.9" r="0.82"/><circle cx="71.4" cy="219" r="0.82"/><circle cx="82" cy="211.3" r="0.82"/><circle cx="86.2" cy="227.3" r="0.82"/><circle cx="76.9" cy="210.1" r="0.82"/><circle cx="88.1" cy="213.2" r="0.82"/><circle cx="90.8" cy="217.9" r="0.82"/><circle cx="85.8" cy="206.6" r="0.82"/><circle cx="70.8" cy="214.5" r="0.82"/><circle cx="89.9" cy="228.1" r="0.82"/><circle cx="81.4" cy="219.9" r="0.82"/><circle cx="68.7" cy="210.8" r="0.82"/><circle cx="78" cy="224.2" r="0.82"/><circle cx="86.6" cy="217.9" r="0.82"/><circle cx="84" cy="214.1" r="0.82"/><circle cx="80.6" cy="222.1" r="0.82"/><circle cx="77.3" cy="205.5" r="0.82"/><circle cx="89.2" cy="221.7" r="0.82"/><circle cx="69.2" cy="212.8" r="0.82"/><circle cx="78" cy="215.7" r="0.82"/><circle cx="87.7" cy="214.7" r="0.82"/><circle cx="84.6" cy="217.9" r="0.82"/><circle cx="83.8" cy="227.5" r="0.82"/><circle cx="73" cy="210.3" r="0.82"/><circle cx="77.6" cy="208.6" r="0.82"/><circle cx="75.3" cy="223.2" r="0.82"/><circle cx="66.1" cy="209.7" r="0.82"/><circle cx="78.3" cy="220.7" r="0.82"/><circle cx="86.8" cy="211.3" r="0.82"/><circle cx="77" cy="221.8" r="0.82"/><circle cx="79.4" cy="207.2" r="0.82"/><circle cx="78.7" cy="207.5" r="0.82"/><circle cx="78.7" cy="205.6" r="0.82"/><circle cx="79.1" cy="212.1" r="0.82"/><circle cx="81.5" cy="214.4" r="0.82"/><circle cx="79.7" cy="212.7" r="0.82"/><circle cx="86.2" cy="208.4" r="0.82"/><circle cx="84.4" cy="224.4" r="0.82"/><circle cx="74" cy="217" r="0.82"/><circle cx="77.4" cy="222" r="0.82"/><circle cx="78" cy="206.5" r="0.82"/><circle cx="71.3" cy="206.6" r="0.82"/><circle cx="88.1" cy="217.3" r="0.82"/><circle cx="84.3" cy="221.5" r="0.82"/><circle cx="78.9" cy="211" r="0.82"/><circle cx="87.5" cy="217.9" r="0.82"/><circle cx="79.3" cy="207.2" r="0.82"/><circle cx="90.3" cy="226.7" r="0.82"/><circle cx="86.6" cy="212.8" r="0.82"/><circle cx="70.5" cy="217.5" r="0.82"/><circle cx="68.1" cy="209.7" r="0.82"/><circle cx="71.5" cy="214.4" r="0.82"/><circle cx="69.4" cy="205.8" r="0.82"/><circle cx="86" cy="209.5" r="0.82"/><circle cx="74.7" cy="213.2" r="0.82"/><circle cx="87.4" cy="223.8" r="0.82"/><circle cx="79.4" cy="226.7" r="0.82"/><circle cx="68.4" cy="208.1" r="0.82"/><circle cx="88.2" cy="212.8" r="0.82"/><circle cx="71.3" cy="211.1" r="0.82"/><circle cx="86.6" cy="227.6" r="0.82"/><circle cx="87.2" cy="211" r="0.82"/><circle cx="81.9" cy="209.9" r="0.82"/><circle cx="90.2" cy="227.4" r="0.82"/><circle cx="85.4" cy="208.4" r="0.82"/><circle cx="90.2" cy="228.2" r="0.82"/><circle cx="88.1" cy="213.7" r="0.82"/><circle cx="85.6" cy="224" r="0.82"/><circle cx="71" cy="212.4" r="0.82"/><circle cx="71.1" cy="216.9" r="0.82"/><circle cx="84.3" cy="222.8" r="0.82"/><circle cx="87.2" cy="211.8" r="0.82"/><circle cx="89" cy="222" r="0.82"/><circle cx="87.2" cy="208.7" r="0.82"/><circle cx="76.3" cy="218.2" r="0.82"/><circle cx="84.5" cy="207.3" r="0.82"/><circle cx="78.7" cy="208.8" r="0.82"/><circle cx="87.9" cy="223.6" r="0.82"/><circle cx="91.4" cy="217.7" r="0.82"/><circle cx="82.9" cy="205.6" r="0.82"/><circle cx="81.4" cy="220.6" r="0.82"/><circle cx="69.1" cy="208.1" r="0.82"/><circle cx="84.6" cy="227" r="0.82"/><circle cx="76.3" cy="211.8" r="0.82"/><circle cx="86.5" cy="217.3" r="0.82"/><circle cx="87.1" cy="219" r="0.82"/><circle cx="81.8" cy="207.6" r="0.82"/><circle cx="66.6" cy="207.2" r="0.82"/><circle cx="81.5" cy="206.3" r="0.82"/><circle cx="76.2" cy="208.5" r="0.82"/><circle cx="83.5" cy="205.6" r="0.82"/><circle cx="72.3" cy="218.5" r="0.82"/><circle cx="83.6" cy="225.2" r="0.82"/><circle cx="70.6" cy="212" r="0.82"/><circle cx="88.8" cy="220.8" r="0.82"/><circle cx="83.4" cy="215.8" r="0.82"/><circle cx="67.2" cy="206.7" r="0.82"/><circle cx="76.4" cy="221" r="0.82"/><circle cx="91.3" cy="228.3" r="0.82"/><circle cx="80.2" cy="215.7" r="0.82"/><circle cx="82.5" cy="205.8" r="0.82"/><circle cx="83.5" cy="221.4" r="0.82"/><circle cx="83.3" cy="225.8" r="0.82"/><circle cx="79.4" cy="219.5" r="0.82"/><circle cx="88.1" cy="222.2" r="0.82"/><circle cx="81" cy="219" r="0.82"/><circle cx="89.1" cy="228.7" r="0.82"/><circle cx="90.2" cy="221.5" r="0.82"/><circle cx="71.2" cy="208.1" r="0.82"/><circle cx="88.4" cy="210.8" r="0.82"/><circle cx="82.6" cy="216.8" r="0.82"/><circle cx="74.5" cy="220.6" r="0.82"/><circle cx="66.1" cy="209.8" r="0.82"/><circle cx="86.7" cy="228.4" r="0.82"/><circle cx="79.1" cy="213.9" r="0.82"/><circle cx="88.7" cy="228.9" r="0.82"/><circle cx="72.8" cy="214.6" r="0.82"/><circle cx="87.3" cy="219" r="0.82"/><circle cx="88.5" cy="225.4" r="0.82"/><circle cx="89.7" cy="209.9" r="0.82"/><circle cx="82.3" cy="212.4" r="0.82"/><circle cx="85.4" cy="210.2" r="0.82"/><circle cx="77.7" cy="213.9" r="0.82"/><circle cx="84.1" cy="216.2" r="0.82"/><circle cx="89.5" cy="206" r="0.82"/><circle cx="75.1" cy="216.9" r="0.82"/><circle cx="85.8" cy="224.3" r="0.82"/><circle cx="82.5" cy="208.6" r="0.82"/><circle cx="71.2" cy="212.3" r="0.82"/><circle cx="86.7" cy="224.3" r="0.82"/><circle cx="74" cy="222.7" r="0.82"/><circle cx="73.3" cy="221.4" r="0.82"/><circle cx="72" cy="215.9" r="0.82"/><circle cx="70" cy="205.8" r="0.82"/><circle cx="84.5" cy="205.7" r="0.82"/><circle cx="84.2" cy="211.1" r="0.82"/><circle cx="86.3" cy="224.9" r="0.82"/><circle cx="71.1" cy="216.5" r="0.82"/><circle cx="72.2" cy="218" r="0.82"/><circle cx="88.9" cy="218.4" r="0.82"/><circle cx="75.3" cy="211.2" r="0.82"/><circle cx="76.3" cy="219.1" r="0.82"/><circle cx="73" cy="213.5" r="0.82"/><circle cx="89.2" cy="216.8" r="0.82"/><circle cx="77.6" cy="212.1" r="0.82"/><circle cx="89.4" cy="222.4" r="0.82"/><circle cx="85.5" cy="227.6" r="0.82"/><circle cx="85.4" cy="212.1" r="0.82"/><circle cx="78.3" cy="225.7" r="0.82"/><circle cx="91.6" cy="223.8" r="0.82"/><circle cx="80.3" cy="223.4" r="0.82"/><circle cx="67.4" cy="206.9" r="0.82"/><circle cx="87.2" cy="211.6" r="0.82"/><circle cx="74.3" cy="216.2" r="0.82"/><circle cx="87.9" cy="206.6" r="0.82"/><circle cx="102.8" cy="221.8" r="0.82"/><circle cx="98.1" cy="219.1" r="0.82"/><circle cx="125.8" cy="222.1" r="0.82"/><circle cx="100.6" cy="224.4" r="0.82"/><circle cx="95.5" cy="220.6" r="0.82"/><circle cx="95.6" cy="225.2" r="0.82"/><circle cx="99.8" cy="215.6" r="0.82"/><circle cx="107.5" cy="222.1" r="0.82"/><circle cx="111" cy="210.8" r="0.82"/><circle cx="120.2" cy="221.2" r="0.82"/><circle cx="130" cy="210.4" r="0.82"/><circle cx="112.6" cy="218" r="0.82"/><circle cx="102.8" cy="226.3" r="0.82"/><circle cx="128.3" cy="214.8" r="0.82"/><circle cx="119.1" cy="223.8" r="0.82"/><circle cx="111.4" cy="209.4" r="0.82"/><circle cx="103.6" cy="217.5" r="0.82"/><circle cx="117.4" cy="224.9" r="0.82"/><circle cx="115.5" cy="219.3" r="0.82"/><circle cx="100.7" cy="226.7" r="0.82"/><circle cx="96.5" cy="216.8" r="0.82"/><circle cx="97.3" cy="210.3" r="0.82"/><circle cx="98.7" cy="211.1" r="0.82"/><circle cx="108.5" cy="207" r="0.82"/><circle cx="103.1" cy="219.9" r="0.82"/><circle cx="132.6" cy="208" r="0.82"/><circle cx="98.1" cy="216.3" r="0.82"/><circle cx="126.5" cy="210.8" r="0.82"/><circle cx="121.5" cy="215" r="0.82"/><circle cx="120.2" cy="221.9" r="0.82"/><circle cx="118.3" cy="219.6" r="0.82"/><circle cx="124.1" cy="218.1" r="0.82"/><circle cx="124.6" cy="222.2" r="0.82"/><circle cx="109.3" cy="227.6" r="0.82"/><circle cx="127" cy="213.2" r="0.82"/><circle cx="106.6" cy="206" r="0.82"/><circle cx="131.6" cy="206.4" r="0.82"/><circle cx="120.4" cy="214.9" r="0.82"/><circle cx="107.2" cy="215.2" r="0.82"/><circle cx="124.7" cy="222.9" r="0.82"/><circle cx="100.6" cy="228.5" r="0.82"/><circle cx="121" cy="224.4" r="0.82"/><circle cx="117.4" cy="215.4" r="0.82"/><circle cx="96" cy="219.5" r="0.82"/><circle cx="106.4" cy="228.1" r="0.82"/><circle cx="131.9" cy="209.2" r="0.82"/><circle cx="118.8" cy="217.6" r="0.82"/><circle cx="109.4" cy="226" r="0.82"/><circle cx="110.4" cy="210.2" r="0.82"/><circle cx="106.4" cy="223.1" r="0.82"/><circle cx="99.4" cy="218.4" r="0.82"/><circle cx="116.5" cy="215.8" r="0.82"/><circle cx="128.6" cy="217.2" r="0.82"/><circle cx="110.4" cy="205.7" r="0.82"/><circle cx="102.7" cy="222" r="0.82"/><circle cx="95.7" cy="219.4" r="0.82"/><circle cx="109.1" cy="208.3" r="0.82"/><circle cx="118.9" cy="211.9" r="0.82"/><circle cx="121.9" cy="222.2" r="0.82"/><circle cx="120.5" cy="224.5" r="0.82"/><circle cx="112.2" cy="215.2" r="0.82"/><circle cx="103.3" cy="209.6" r="0.82"/><circle cx="124.2" cy="205.9" r="0.82"/><circle cx="95.6" cy="224.4" r="0.82"/><circle cx="121.3" cy="213.9" r="0.82"/><circle cx="122.9" cy="217.1" r="0.82"/><circle cx="112.6" cy="207.3" r="0.82"/><circle cx="116.6" cy="213.7" r="0.82"/><circle cx="113.8" cy="217.6" r="0.82"/><circle cx="121.8" cy="215.7" r="0.82"/><circle cx="95.9" cy="219.2" r="0.82"/><circle cx="106.5" cy="219.1" r="0.82"/><circle cx="112.5" cy="220.8" r="0.82"/><circle cx="105.2" cy="219.2" r="0.82"/><circle cx="104.4" cy="206.1" r="0.82"/><circle cx="94.8" cy="229.1" r="0.82"/><circle cx="120.1" cy="220" r="0.82"/><circle cx="107.6" cy="215.2" r="0.82"/><circle cx="104.2" cy="223.7" r="0.82"/><circle cx="108.3" cy="221.7" r="0.82"/><circle cx="100" cy="212.7" r="0.82"/><circle cx="123.8" cy="218.2" r="0.82"/><circle cx="105.1" cy="223.9" r="0.82"/><circle cx="123.9" cy="208.7" r="0.82"/><circle cx="114" cy="205.8" r="0.82"/><circle cx="119.8" cy="218.4" r="0.82"/><circle cx="96.4" cy="228" r="0.82"/><circle cx="124.4" cy="213.5" r="0.82"/><circle cx="108.7" cy="208" r="0.82"/><circle cx="130.8" cy="214.6" r="0.82"/><circle cx="106.4" cy="223.5" r="0.82"/><circle cx="130.6" cy="211.9" r="0.82"/><circle cx="95.7" cy="224" r="0.82"/><circle cx="103.3" cy="215.7" r="0.82"/><circle cx="102.6" cy="218.9" r="0.82"/><circle cx="120" cy="221.5" r="0.82"/><circle cx="131.4" cy="206.6" r="0.82"/><circle cx="102.7" cy="214.9" r="0.82"/><circle cx="95.4" cy="219.6" r="0.82"/><circle cx="115.4" cy="214.1" r="0.82"/><circle cx="95.8" cy="216" r="0.82"/><circle cx="97.2" cy="222.1" r="0.82"/><circle cx="115.2" cy="207.8" r="0.82"/><circle cx="110.5" cy="223.4" r="0.82"/><circle cx="113.7" cy="222.9" r="0.82"/><circle cx="100.3" cy="218.9" r="0.82"/><circle cx="97.9" cy="226.3" r="0.82"/><circle cx="98.6" cy="221.5" r="0.82"/><circle cx="105.4" cy="211.2" r="0.82"/><circle cx="105.7" cy="218.1" r="0.82"/><circle cx="105.4" cy="210.8" r="0.82"/><circle cx="129.3" cy="219.2" r="0.82"/><circle cx="118.2" cy="220.3" r="0.82"/><circle cx="100.6" cy="226.2" r="0.82"/><circle cx="119" cy="218.4" r="0.82"/><circle cx="111" cy="224.5" r="0.82"/><circle cx="97.4" cy="221.4" r="0.82"/><circle cx="118.1" cy="216.4" r="0.82"/><circle cx="107" cy="227.8" r="0.82"/><circle cx="100.2" cy="224.4" r="0.82"/><circle cx="125.1" cy="216.2" r="0.82"/><circle cx="102.7" cy="223.5" r="0.82"/><circle cx="101.3" cy="222.7" r="0.82"/><circle cx="103.4" cy="210.4" r="0.82"/><circle cx="123.4" cy="212.7" r="0.82"/><circle cx="128.3" cy="213.7" r="0.82"/><circle cx="95.4" cy="228.4" r="0.82"/><circle cx="97" cy="223.3" r="0.82"/><circle cx="111.1" cy="209.7" r="0.82"/><circle cx="113.7" cy="219.1" r="0.82"/><circle cx="99.6" cy="205.8" r="0.82"/><circle cx="121.6" cy="221.3" r="0.82"/><circle cx="100" cy="209.1" r="0.82"/><circle cx="103.8" cy="208.1" r="0.82"/><circle cx="101.5" cy="227.1" r="0.82"/><circle cx="98.1" cy="210.1" r="0.82"/><circle cx="118.2" cy="222.7" r="0.82"/><circle cx="100.6" cy="227.4" r="0.82"/><circle cx="114.9" cy="221.1" r="0.82"/><circle cx="97.7" cy="219" r="0.82"/><circle cx="97" cy="214.3" r="0.82"/><circle cx="117" cy="217.2" r="0.82"/><circle cx="97.4" cy="208.4" r="0.82"/><circle cx="95.4" cy="225.3" r="0.82"/><circle cx="99.5" cy="217.1" r="0.82"/><circle cx="108.8" cy="216.2" r="0.82"/><circle cx="120.4" cy="208" r="0.82"/><circle cx="102.3" cy="226.1" r="0.82"/><circle cx="114.4" cy="210.7" r="0.82"/><circle cx="95.9" cy="222.4" r="0.82"/><circle cx="126.6" cy="212.9" r="0.82"/><circle cx="123.7" cy="219.7" r="0.82"/><circle cx="96.7" cy="213.6" r="0.82"/><circle cx="102.4" cy="226.3" r="0.82"/><circle cx="97" cy="219.8" r="0.82"/><circle cx="95.8" cy="220.2" r="0.82"/><circle cx="112.1" cy="216.2" r="0.82"/><circle cx="105.7" cy="210.2" r="0.82"/><circle cx="94.8" cy="221.6" r="0.82"/><circle cx="130.8" cy="208.7" r="0.82"/><circle cx="130.2" cy="211.1" r="0.82"/><circle cx="111.4" cy="210.5" r="0.82"/><circle cx="113.1" cy="226.7" r="0.82"/><circle cx="100" cy="227.2" r="0.82"/><circle cx="105.9" cy="216.5" r="0.82"/><circle cx="123.8" cy="210.3" r="0.82"/><circle cx="118.7" cy="220.5" r="0.82"/><circle cx="103.3" cy="225.8" r="0.82"/><circle cx="125.6" cy="218.4" r="0.82"/><circle cx="124.6" cy="221.3" r="0.82"/><circle cx="102.5" cy="217.1" r="0.82"/><circle cx="121.3" cy="208.2" r="0.82"/><circle cx="103.7" cy="212.8" r="0.82"/><circle cx="105.7" cy="208.7" r="0.82"/><circle cx="122" cy="216.1" r="0.82"/><circle cx="104.1" cy="222.9" r="0.82"/><circle cx="128.3" cy="210.2" r="0.82"/><circle cx="101.8" cy="227.5" r="0.82"/><circle cx="97.9" cy="206.3" r="0.82"/><circle cx="111.1" cy="216.1" r="0.82"/><circle cx="111.6" cy="219.6" r="0.82"/><circle cx="96.2" cy="213.3" r="0.82"/><circle cx="116.2" cy="210.1" r="0.82"/><circle cx="118.7" cy="207.1" r="0.82"/><circle cx="93.9" cy="229.2" r="0.82"/><circle cx="99.4" cy="210.7" r="0.82"/><circle cx="96.6" cy="216.7" r="0.82"/><circle cx="111" cy="207.8" r="0.82"/><circle cx="121.4" cy="219.9" r="0.82"/><circle cx="108.9" cy="222.8" r="0.82"/><circle cx="132.3" cy="210.6" r="0.82"/><circle cx="118.1" cy="222.2" r="0.82"/><circle cx="120.6" cy="217.8" r="0.82"/><circle cx="123.9" cy="220.7" r="0.82"/><circle cx="128.1" cy="213" r="0.82"/><circle cx="107.7" cy="215.9" r="0.82"/><circle cx="124.2" cy="216.7" r="0.82"/><circle cx="129" cy="212.3" r="0.82"/><circle cx="109.4" cy="209" r="0.82"/><circle cx="96.5" cy="221.4" r="0.82"/><circle cx="119.7" cy="209.7" r="0.82"/><circle cx="104.5" cy="205.5" r="0.82"/><circle cx="95.7" cy="227.7" r="0.82"/><circle cx="112.9" cy="221.7" r="0.82"/><circle cx="100.2" cy="218.7" r="0.82"/><circle cx="125.9" cy="216" r="0.82"/><circle cx="107.4" cy="222.1" r="0.82"/><circle cx="114.4" cy="221.1" r="0.82"/><circle cx="133.1" cy="206.5" r="0.82"/><circle cx="120.3" cy="209.6" r="0.82"/><circle cx="94.4" cy="226.5" r="0.82"/><circle cx="103.4" cy="226.5" r="0.82"/><circle cx="106.5" cy="205.7" r="0.82"/><circle cx="125.7" cy="206.4" r="0.82"/><circle cx="98.8" cy="224.2" r="0.82"/><circle cx="101.7" cy="213.3" r="0.82"/><circle cx="112.5" cy="215.1" r="0.82"/><circle cx="101.6" cy="211.8" r="0.82"/><circle cx="118.5" cy="212.3" r="0.82"/><circle cx="108.6" cy="218.3" r="0.82"/><circle cx="101.1" cy="228.5" r="0.82"/><circle cx="108.3" cy="214.6" r="0.82"/><circle cx="97.7" cy="208.8" r="0.82"/><circle cx="128" cy="208.9" r="0.82"/><circle cx="124.8" cy="217.7" r="0.82"/><circle cx="97.3" cy="223" r="0.82"/><circle cx="120.9" cy="205.8" r="0.82"/><circle cx="103.7" cy="221.1" r="0.82"/><circle cx="126.2" cy="221.4" r="0.82"/><circle cx="101.9" cy="225.3" r="0.82"/><circle cx="132.6" cy="215.3" r="0.82"/><circle cx="111.7" cy="211.8" r="0.82"/><circle cx="133.5" cy="206.9" r="0.82"/><circle cx="95.2" cy="220.5" r="0.82"/><circle cx="100.3" cy="216" r="0.82"/><circle cx="104" cy="215.6" r="0.82"/><circle cx="130.9" cy="206.7" r="0.82"/><circle cx="106.3" cy="206.7" r="0.82"/><circle cx="100" cy="220.7" r="0.82"/><circle cx="113.5" cy="223.8" r="0.82"/><circle cx="119.4" cy="213.8" r="0.82"/><circle cx="103.5" cy="226" r="0.82"/><circle cx="124" cy="218.4" r="0.82"/><circle cx="123.7" cy="206.1" r="0.82"/><circle cx="130.5" cy="216.7" r="0.82"/><circle cx="100.7" cy="217" r="0.82"/><circle cx="133.4" cy="211.9" r="0.82"/><circle cx="117.6" cy="209.2" r="0.82"/><circle cx="105.9" cy="216" r="0.82"/><circle cx="111.5" cy="215.6" r="0.82"/><circle cx="107.2" cy="225" r="0.82"/><circle cx="106.1" cy="215.2" r="0.82"/><circle cx="96" cy="223.3" r="0.82"/><circle cx="124.4" cy="208.7" r="0.82"/><circle cx="114.3" cy="220.7" r="0.82"/><circle cx="99.4" cy="215.3" r="0.82"/><circle cx="95.3" cy="224.1" r="0.82"/><circle cx="107.2" cy="205.7" r="0.82"/><circle cx="102.6" cy="221.9" r="0.82"/><circle cx="108.7" cy="225.6" r="0.82"/><circle cx="105.7" cy="212.6" r="0.82"/><circle cx="102.6" cy="210.3" r="0.82"/><circle cx="97.6" cy="227.1" r="0.82"/><circle cx="115.6" cy="218.6" r="0.82"/><circle cx="121.3" cy="213.4" r="0.82"/><circle cx="104.4" cy="226.4" r="0.82"/><circle cx="114.9" cy="211.2" r="0.82"/><circle cx="108.6" cy="218.1" r="0.82"/><circle cx="118.4" cy="214.8" r="0.82"/><circle cx="106.5" cy="225" r="0.82"/><circle cx="108.2" cy="216.2" r="0.82"/><circle cx="128.9" cy="205.5" r="0.82"/><circle cx="112.3" cy="221.6" r="0.82"/><circle cx="98.9" cy="214.3" r="0.82"/><circle cx="120.9" cy="223.5" r="0.82"/><circle cx="118.6" cy="205.4" r="0.82"/><circle cx="105.2" cy="206.9" r="0.82"/><circle cx="107.1" cy="213.8" r="0.82"/><circle cx="103.4" cy="205.8" r="0.82"/><circle cx="108.8" cy="211.5" r="0.82"/><circle cx="115.7" cy="207.1" r="0.82"/><circle cx="94.3" cy="228.6" r="0.82"/><circle cx="111" cy="214.3" r="0.82"/><circle cx="98.2" cy="208.9" r="0.82"/><circle cx="106.1" cy="206.4" r="0.82"/><circle cx="103.9" cy="214.6" r="0.82"/><circle cx="111.7" cy="223.2" r="0.82"/><circle cx="99.8" cy="221.8" r="0.82"/><circle cx="128.2" cy="217.4" r="0.82"/><circle cx="114.8" cy="210" r="0.82"/><circle cx="105.2" cy="216.9" r="0.82"/><circle cx="106.5" cy="218.9" r="0.82"/><circle cx="133.9" cy="207.4" r="0.82"/><circle cx="130" cy="211.8" r="0.82"/><circle cx="117.7" cy="214.3" r="0.82"/><circle cx="102.1" cy="223.1" r="0.82"/><circle cx="130.2" cy="216.7" r="0.82"/><circle cx="103.5" cy="227.9" r="0.82"/><circle cx="133.2" cy="207.7" r="0.82"/><circle cx="106.3" cy="226.8" r="0.82"/><circle cx="120.3" cy="210" r="0.82"/><circle cx="123.4" cy="210.4" r="0.82"/><circle cx="95.7" cy="229.2" r="0.82"/><circle cx="125.5" cy="217.1" r="0.82"/><circle cx="99.3" cy="208.8" r="0.82"/><circle cx="95.6" cy="221.7" r="0.82"/><circle cx="106.2" cy="210.9" r="0.82"/><circle cx="124.1" cy="215.5" r="0.82"/><circle cx="130.5" cy="206.3" r="0.82"/><circle cx="99" cy="221.7" r="0.82"/><circle cx="103.2" cy="205.7" r="0.82"/><circle cx="109.6" cy="212.6" r="0.82"/><circle cx="110.7" cy="211" r="0.82"/><circle cx="103.1" cy="219.5" r="0.82"/><circle cx="121.2" cy="212.6" r="0.82"/><circle cx="126.4" cy="211.7" r="0.82"/><circle cx="113.1" cy="219.7" r="0.82"/><circle cx="95" cy="222" r="0.82"/><circle cx="95.7" cy="228.3" r="0.82"/><circle cx="119.9" cy="211.9" r="0.82"/><circle cx="115" cy="224.5" r="0.82"/><circle cx="120.1" cy="209.6" r="0.82"/><circle cx="115.2" cy="224" r="0.82"/><circle cx="112.7" cy="220" r="0.82"/><circle cx="100.5" cy="225.9" r="0.82"/><circle cx="127.3" cy="214.3" r="0.82"/><circle cx="100.3" cy="217.2" r="0.82"/><circle cx="111.6" cy="217.9" r="0.82"/><circle cx="129.6" cy="215.6" r="0.82"/><circle cx="116.1" cy="215.4" r="0.82"/><circle cx="123.2" cy="220.7" r="0.82"/><circle cx="95.4" cy="224.1" r="0.82"/><circle cx="104.9" cy="224.6" r="0.82"/><circle cx="99.6" cy="221.7" r="0.82"/><circle cx="106.2" cy="220.8" r="0.82"/><circle cx="125.9" cy="211.7" r="0.82"/><circle cx="99.2" cy="207.8" r="0.82"/><circle cx="108" cy="224.6" r="0.82"/><circle cx="125" cy="208" r="0.82"/><circle cx="95.7" cy="217.4" r="0.82"/><circle cx="112.5" cy="226.7" r="0.82"/><circle cx="102.4" cy="214.6" r="0.82"/><circle cx="117.8" cy="214.4" r="0.82"/><circle cx="115.3" cy="220.4" r="0.82"/><circle cx="94.3" cy="229.1" r="0.82"/><circle cx="125.9" cy="208.7" r="0.82"/><circle cx="103.4" cy="224.7" r="0.82"/><circle cx="127" cy="209.8" r="0.82"/><circle cx="125.6" cy="220.3" r="0.82"/><circle cx="113.1" cy="213.3" r="0.82"/><circle cx="99.3" cy="220.3" r="0.82"/><circle cx="97.6" cy="226.2" r="0.82"/><circle cx="100.8" cy="214.1" r="0.82"/><circle cx="116" cy="216.9" r="0.82"/><circle cx="126.7" cy="211.4" r="0.82"/><circle cx="98.4" cy="216.6" r="0.82"/><circle cx="97.1" cy="223.7" r="0.82"/><circle cx="96.4" cy="227.6" r="0.82"/><circle cx="103.6" cy="208.1" r="0.82"/><circle cx="98.8" cy="215.2" r="0.82"/><circle cx="122.6" cy="223.7" r="0.82"/><circle cx="113.8" cy="216.7" r="0.82"/><circle cx="103.2" cy="206.7" r="0.82"/><circle cx="105.4" cy="219.3" r="0.82"/><circle cx="111.6" cy="209.3" r="0.82"/><circle cx="111.5" cy="212.2" r="0.82"/><circle cx="116.1" cy="206.4" r="0.82"/><circle cx="132.8" cy="211.2" r="0.82"/><circle cx="98.7" cy="215.8" r="0.82"/><circle cx="107.2" cy="223.9" r="0.82"/><circle cx="119.5" cy="217.7" r="0.82"/><circle cx="106.7" cy="212.5" r="0.82"/><circle cx="120.2" cy="205.6" r="0.82"/><circle cx="100.3" cy="213.4" r="0.82"/><circle cx="109.6" cy="206.8" r="0.82"/><circle cx="107.5" cy="220.9" r="0.82"/><circle cx="111.2" cy="222.1" r="0.82"/><circle cx="95.2" cy="217.8" r="0.82"/><circle cx="94.3" cy="225.4" r="0.82"/><circle cx="107.4" cy="221.1" r="0.82"/><circle cx="109.8" cy="216.7" r="0.82"/><circle cx="105.1" cy="226.3" r="0.82"/><circle cx="103.6" cy="221.8" r="0.82"/><circle cx="121.1" cy="217.6" r="0.82"/><circle cx="96" cy="224.5" r="0.82"/><circle cx="104.3" cy="219.9" r="0.82"/><circle cx="105" cy="206.2" r="0.82"/><circle cx="107.2" cy="215.6" r="0.82"/><circle cx="132.4" cy="214" r="0.82"/><circle cx="114.1" cy="209.5" r="0.82"/><circle cx="132.1" cy="216.6" r="0.82"/><circle cx="121.2" cy="220.5" r="0.82"/><circle cx="116.3" cy="222.7" r="0.82"/><circle cx="100.8" cy="208" r="0.82"/><circle cx="98.9" cy="223" r="0.82"/><circle cx="109.2" cy="205.9" r="0.82"/><circle cx="95.5" cy="224.4" r="0.82"/><circle cx="106.2" cy="210.6" r="0.82"/><circle cx="119.7" cy="210.4" r="0.82"/><circle cx="103.9" cy="209.9" r="0.82"/><circle cx="108.6" cy="208" r="0.82"/><circle cx="108.9" cy="223.3" r="0.82"/><circle cx="96.5" cy="217.5" r="0.82"/><circle cx="93.8" cy="225.5" r="0.82"/><circle cx="127.8" cy="215.7" r="0.82"/><circle cx="109" cy="218.2" r="0.82"/><circle cx="95.3" cy="223.2" r="0.82"/><circle cx="130.2" cy="212.1" r="0.82"/><circle cx="110.2" cy="214.8" r="0.82"/><circle cx="127.1" cy="206.5" r="0.82"/><circle cx="99.5" cy="226.2" r="0.82"/><circle cx="110.3" cy="215.5" r="0.82"/><circle cx="108.1" cy="218.2" r="0.82"/><circle cx="111.5" cy="222.1" r="0.82"/><circle cx="125.7" cy="206.9" r="0.82"/><circle cx="130.3" cy="205.8" r="0.82"/><circle cx="107.7" cy="223.3" r="0.82"/><circle cx="121.2" cy="207.7" r="0.82"/><circle cx="96.2" cy="217.3" r="0.82"/><circle cx="132.7" cy="208.1" r="0.82"/><circle cx="107.7" cy="227" r="0.82"/><circle cx="107.9" cy="217" r="0.82"/><circle cx="100.9" cy="205.8" r="0.82"/><circle cx="106.6" cy="207.2" r="0.82"/><circle cx="98.9" cy="208.4" r="0.82"/><circle cx="99" cy="228.4" r="0.82"/><circle cx="94.7" cy="227.7" r="0.82"/><circle cx="105.1" cy="206.1" r="0.82"/><circle cx="103.8" cy="212.2" r="0.82"/><circle cx="111.6" cy="227.1" r="0.82"/><circle cx="113.4" cy="218.7" r="0.82"/><circle cx="102.7" cy="209.5" r="0.82"/><circle cx="95.2" cy="228.2" r="0.82"/><circle cx="100.3" cy="214.2" r="0.82"/><circle cx="132.7" cy="206.2" r="0.82"/><circle cx="123.6" cy="211.1" r="0.82"/><circle cx="108.6" cy="205.5" r="0.82"/><circle cx="114.3" cy="226.6" r="0.82"/><circle cx="98.6" cy="226.4" r="0.82"/><circle cx="114.8" cy="214.5" r="0.82"/><circle cx="100.3" cy="223.1" r="0.82"/><circle cx="123.6" cy="207.9" r="0.82"/><circle cx="112.6" cy="214.8" r="0.82"/><circle cx="114.9" cy="210.9" r="0.82"/><circle cx="110.6" cy="226.8" r="0.82"/><circle cx="98.9" cy="213.8" r="0.82"/><circle cx="94.5" cy="226.9" r="0.82"/><circle cx="99.9" cy="210.3" r="0.82"/><circle cx="111.9" cy="220.9" r="0.82"/><circle cx="132.5" cy="215.5" r="0.82"/><circle cx="99.4" cy="215.9" r="0.82"/><circle cx="126.8" cy="220.6" r="0.82"/><circle cx="107" cy="215.6" r="0.82"/><circle cx="97.5" cy="215.5" r="0.82"/><circle cx="102.5" cy="218.1" r="0.82"/><circle cx="110.1" cy="221.9" r="0.82"/><circle cx="114.3" cy="209.7" r="0.82"/><circle cx="108.4" cy="214.3" r="0.82"/><circle cx="101.2" cy="223.3" r="0.82"/><circle cx="110.3" cy="216.7" r="0.82"/><circle cx="98.9" cy="211.1" r="0.82"/><circle cx="109.8" cy="220.9" r="0.82"/><circle cx="100" cy="209.3" r="0.82"/><circle cx="129.2" cy="206.9" r="0.82"/><circle cx="99.8" cy="227.8" r="0.82"/><circle cx="126.8" cy="213.1" r="0.82"/><circle cx="103.1" cy="218.9" r="0.82"/><circle cx="104.2" cy="210.5" r="0.82"/><circle cx="118.1" cy="215.4" r="0.82"/><circle cx="95.2" cy="224.3" r="0.82"/><circle cx="100.1" cy="228.7" r="0.82"/><circle cx="116.2" cy="215.7" r="0.82"/><circle cx="130.4" cy="216.1" r="0.82"/><circle cx="130.1" cy="218.2" r="0.82"/><circle cx="110.6" cy="222.7" r="0.82"/><circle cx="108.3" cy="206.9" r="0.82"/><circle cx="103.7" cy="224.7" r="0.82"/><circle cx="115.4" cy="217.2" r="0.82"/><circle cx="108.8" cy="207.2" r="0.82"/><circle cx="114.2" cy="213.8" r="0.82"/><circle cx="107.7" cy="209.4" r="0.82"/><circle cx="111.8" cy="225.5" r="0.82"/><circle cx="119.4" cy="207.2" r="0.82"/><circle cx="127.3" cy="213.9" r="0.82"/><circle cx="108.2" cy="210" r="0.82"/><circle cx="103.2" cy="226" r="0.82"/><circle cx="127.3" cy="212.5" r="0.82"/><circle cx="112.4" cy="206.5" r="0.82"/><circle cx="115.1" cy="208.4" r="0.82"/><circle cx="97.5" cy="221.5" r="0.82"/><circle cx="129.5" cy="221.5" r="0.82"/><circle cx="135.2" cy="216" r="0.82"/><circle cx="139.5" cy="209.3" r="0.82"/><circle cx="133.8" cy="215.7" r="0.82"/><circle cx="127.7" cy="221.4" r="0.82"/><circle cx="133.8" cy="216.7" r="0.82"/><circle cx="129.7" cy="219.6" r="0.82"/><circle cx="133.6" cy="221.5" r="0.82"/><circle cx="140.8" cy="210.5" r="0.82"/><circle cx="141.4" cy="205.9" r="0.82"/><circle cx="129.9" cy="222.1" r="0.82"/><circle cx="135.4" cy="215.3" r="0.82"/><circle cx="134.4" cy="219.5" r="0.82"/><circle cx="139.4" cy="212.2" r="0.82"/><circle cx="135.2" cy="213.7" r="0.82"/><circle cx="138.8" cy="219" r="0.82"/><circle cx="140.9" cy="212.4" r="0.82"/><circle cx="135.6" cy="210.6" r="0.82"/><circle cx="129.4" cy="224.4" r="0.82"/><circle cx="133.1" cy="223.4" r="0.82"/><circle cx="65.1" cy="216.2" r="0.82"/><circle cx="63.8" cy="209.7" r="0.82"/><circle cx="62.8" cy="211.1" r="0.82"/><circle cx="63.2" cy="210.1" r="0.82"/><circle cx="60.3" cy="207.1" r="0.82"/><circle cx="66.5" cy="219.2" r="0.82"/><circle cx="64.4" cy="208.2" r="0.82"/><circle cx="72.3" cy="223.6" r="0.82"/><circle cx="66.2" cy="214.4" r="0.82"/><circle cx="63.2" cy="207" r="0.82"/><circle cx="66.7" cy="213.9" r="0.82"/><circle cx="63.5" cy="213.1" r="0.82"/><circle cx="64.2" cy="211.6" r="0.82"/><circle cx="64" cy="214.7" r="0.82"/><circle cx="64.4" cy="212.2" r="0.82"/><circle cx="152" cy="205.5" r="0.82"/><circle cx="158" cy="213.2" r="0.82"/><circle cx="159.8" cy="215.6" r="0.82"/><circle cx="158" cy="221.4" r="0.82"/><circle cx="140.4" cy="209.7" r="0.82"/><circle cx="139.2" cy="216.7" r="0.82"/><circle cx="140.4" cy="221.4" r="0.82"/><circle cx="128.6" cy="225.6" r="0.82"/><circle cx="24" cy="220" r="0.82"/><circle cx="47" cy="226" r="0.82"/><circle cx="54" cy="212" r="0.82"/><circle cx="46" cy="209" r="0.82"/></g>
<g fill="#d8d8d8" stroke="#1a1a1a" stroke-width="0.35"><circle cx="97.5" cy="230.7" r="0.8"/><circle cx="105.1" cy="225.6" r="0.8"/><circle cx="81.2" cy="225.8" r="0.8"/><circle cx="100.6" cy="225.6" r="0.8"/><circle cx="91.7" cy="227" r="0.8"/><circle cx="97.3" cy="229.3" r="0.8"/><circle cx="98.3" cy="227.1" r="0.8"/><circle cx="89.4" cy="225.2" r="0.8"/><circle cx="98.4" cy="225.8" r="0.8"/><circle cx="80" cy="226.8" r="0.8"/><circle cx="98.3" cy="227" r="0.8"/><circle cx="85.7" cy="226.8" r="0.8"/><circle cx="91" cy="225.9" r="0.8"/><circle cx="99.5" cy="226.7" r="0.8"/><circle cx="94.1" cy="227.7" r="0.8"/><circle cx="92.8" cy="230.8" r="0.8"/><circle cx="105.3" cy="227.4" r="0.8"/><circle cx="89.2" cy="226" r="0.8"/><circle cx="109.8" cy="226" r="0.8"/><circle cx="95.2" cy="228.8" r="0.8"/><circle cx="100.9" cy="225.7" r="0.8"/><circle cx="98.9" cy="229.4" r="0.8"/><circle cx="106.2" cy="229" r="0.8"/><circle cx="115.9" cy="225.2" r="0.8"/><circle cx="99.6" cy="230.4" r="0.8"/><circle cx="81.1" cy="228" r="0.8"/><circle cx="105.1" cy="228.7" r="0.8"/><circle cx="103.6" cy="227.8" r="0.8"/><circle cx="110.7" cy="227.1" r="0.8"/><circle cx="93.3" cy="228.2" r="0.8"/><circle cx="86.2" cy="227.2" r="0.8"/><circle cx="101.6" cy="226.6" r="0.8"/><circle cx="109.9" cy="225.2" r="0.8"/><circle cx="111.2" cy="225.3" r="0.8"/><circle cx="101" cy="226.1" r="0.8"/><circle cx="104.4" cy="227" r="0.8"/><circle cx="92.2" cy="229" r="0.8"/><circle cx="81.2" cy="225.3" r="0.8"/><circle cx="104.5" cy="228.4" r="0.8"/><circle cx="98.1" cy="230.2" r="0.8"/><circle cx="99.3" cy="226.2" r="0.8"/><circle cx="80.5" cy="225.4" r="0.8"/><circle cx="84.1" cy="229.4" r="0.8"/><circle cx="109.7" cy="228.4" r="0.8"/><circle cx="94.9" cy="227.9" r="0.8"/><circle cx="101" cy="228.9" r="0.8"/><circle cx="79.7" cy="226.9" r="0.8"/><circle cx="91.3" cy="227.8" r="0.8"/><circle cx="106.1" cy="228.5" r="0.8"/><circle cx="90.2" cy="228.3" r="0.8"/><circle cx="108.2" cy="227.1" r="0.8"/><circle cx="85.7" cy="229.9" r="0.8"/><circle cx="88.3" cy="229.9" r="0.8"/><circle cx="106.6" cy="227.5" r="0.8"/><circle cx="112" cy="226.9" r="0.8"/><circle cx="103.5" cy="227.1" r="0.8"/><circle cx="81.8" cy="228.8" r="0.8"/><circle cx="110.5" cy="225.8" r="0.8"/><circle cx="93.6" cy="227.9" r="0.8"/><circle cx="86.8" cy="230.2" r="0.8"/><circle cx="99.4" cy="225.3" r="0.8"/><circle cx="114.7" cy="225.3" r="0.8"/><circle cx="96.3" cy="228.5" r="0.8"/><circle cx="101" cy="229.4" r="0.8"/><circle cx="90.3" cy="227.5" r="0.8"/><circle cx="101.3" cy="229" r="0.8"/><circle cx="98.4" cy="227.9" r="0.8"/><circle cx="86.5" cy="229.9" r="0.8"/><circle cx="98.9" cy="230.3" r="0.8"/><circle cx="95.7" cy="228" r="0.8"/><circle cx="89.9" cy="229.9" r="0.8"/><circle cx="101.2" cy="229.8" r="0.8"/><circle cx="105.5" cy="227.3" r="0.8"/><circle cx="105.7" cy="227.9" r="0.8"/><circle cx="79.8" cy="226" r="0.8"/></g>
<g fill="#d01818" stroke="#400000" stroke-width="0.3"><circle cx="78.7" cy="193.8" r="0.82"/><circle cx="69" cy="202.4" r="0.82"/><circle cx="77.9" cy="189.7" r="0.82"/><circle cx="73.4" cy="187.6" r="0.82"/><circle cx="85.3" cy="183.4" r="0.82"/><circle cx="85.1" cy="190.7" r="0.82"/><circle cx="82.1" cy="175.8" r="0.82"/><circle cx="76.2" cy="182" r="0.82"/><circle cx="75.4" cy="195.9" r="0.82"/><circle cx="75" cy="198.9" r="0.82"/><circle cx="83.8" cy="202.5" r="0.82"/><circle cx="79.8" cy="179.4" r="0.82"/><circle cx="87.4" cy="197.9" r="0.82"/><circle cx="66.8" cy="201.3" r="0.82"/><circle cx="86.9" cy="197.6" r="0.82"/><circle cx="81.7" cy="203.3" r="0.82"/><circle cx="85.7" cy="195.5" r="0.82"/><circle cx="85.6" cy="200.9" r="0.82"/><circle cx="68.5" cy="193.7" r="0.82"/><circle cx="72.5" cy="197.8" r="0.82"/><circle cx="80.9" cy="190.3" r="0.82"/><circle cx="75.6" cy="183.8" r="0.82"/><circle cx="85.4" cy="196.4" r="0.82"/><circle cx="85.1" cy="187.9" r="0.82"/><circle cx="78.5" cy="196.7" r="0.82"/><circle cx="67.5" cy="199.2" r="0.82"/><circle cx="86" cy="204.2" r="0.82"/><circle cx="78.9" cy="183.7" r="0.82"/><circle cx="75.4" cy="194.9" r="0.82"/><circle cx="71.6" cy="203.2" r="0.82"/><circle cx="84.7" cy="187.4" r="0.82"/><circle cx="82.8" cy="177.2" r="0.82"/><circle cx="73.5" cy="197" r="0.82"/><circle cx="82.8" cy="181.9" r="0.82"/><circle cx="83.8" cy="201.4" r="0.82"/><circle cx="69.7" cy="191.2" r="0.82"/><circle cx="79.6" cy="186.6" r="0.82"/><circle cx="68.7" cy="202.7" r="0.82"/><circle cx="84" cy="204.2" r="0.82"/><circle cx="82.3" cy="192.1" r="0.82"/><circle cx="78.2" cy="195.2" r="0.82"/><circle cx="78.3" cy="199" r="0.82"/><circle cx="70.7" cy="202.3" r="0.82"/><circle cx="75.6" cy="183.7" r="0.82"/><circle cx="80.2" cy="178.7" r="0.82"/><circle cx="69.4" cy="202.7" r="0.82"/><circle cx="74.7" cy="185.5" r="0.82"/><circle cx="77.2" cy="198.9" r="0.82"/><circle cx="71.1" cy="199" r="0.82"/><circle cx="86.6" cy="200.4" r="0.82"/><circle cx="83.6" cy="185.6" r="0.82"/><circle cx="84.3" cy="205.4" r="0.82"/><circle cx="76.8" cy="202.6" r="0.82"/><circle cx="85.4" cy="204.4" r="0.82"/><circle cx="81.5" cy="190.4" r="0.82"/><circle cx="71.6" cy="204.8" r="0.82"/><circle cx="71" cy="203.2" r="0.82"/><circle cx="84" cy="197.3" r="0.82"/><circle cx="78.4" cy="200.5" r="0.82"/><circle cx="72" cy="200.8" r="0.82"/><circle cx="79.2" cy="204.9" r="0.82"/><circle cx="72.5" cy="205" r="0.82"/><circle cx="80.1" cy="194.5" r="0.82"/><circle cx="74.1" cy="189.4" r="0.82"/><circle cx="82.6" cy="191.8" r="0.82"/><circle cx="77.9" cy="200.3" r="0.82"/><circle cx="75.3" cy="185.3" r="0.82"/><circle cx="81.3" cy="197" r="0.82"/><circle cx="87.1" cy="195.2" r="0.82"/><circle cx="85.2" cy="201.1" r="0.82"/><circle cx="73.7" cy="191.7" r="0.82"/><circle cx="81.7" cy="201.1" r="0.82"/><circle cx="74.7" cy="201.1" r="0.82"/><circle cx="85.6" cy="190.2" r="0.82"/><circle cx="74.2" cy="204.3" r="0.82"/><circle cx="86.8" cy="205.2" r="0.82"/><circle cx="76.7" cy="199.3" r="0.82"/><circle cx="83.7" cy="201.9" r="0.82"/><circle cx="84.8" cy="204.7" r="0.82"/><circle cx="87.3" cy="196.6" r="0.82"/><circle cx="81.3" cy="203.4" r="0.82"/><circle cx="88.4" cy="202.2" r="0.82"/><circle cx="72.5" cy="193.1" r="0.82"/><circle cx="72" cy="192.9" r="0.82"/><circle cx="71.2" cy="202.8" r="0.82"/><circle cx="80" cy="200.7" r="0.82"/><circle cx="85.9" cy="205.1" r="0.82"/><circle cx="81.8" cy="184.5" r="0.82"/><circle cx="83" cy="181.7" r="0.82"/><circle cx="70.6" cy="202.7" r="0.82"/><circle cx="78" cy="195.9" r="0.82"/><circle cx="72.3" cy="193.3" r="0.82"/><circle cx="79.3" cy="204.1" r="0.82"/><circle cx="84.4" cy="188.1" r="0.82"/><circle cx="69.2" cy="192.7" r="0.82"/><circle cx="76.5" cy="200.8" r="0.82"/><circle cx="83" cy="203.4" r="0.82"/><circle cx="77.8" cy="202.9" r="0.82"/><circle cx="86.9" cy="193.5" r="0.82"/><circle cx="77.9" cy="187.7" r="0.82"/><circle cx="74.6" cy="194.1" r="0.82"/><circle cx="82.6" cy="186.5" r="0.82"/><circle cx="74.4" cy="199.9" r="0.82"/><circle cx="76.2" cy="185.9" r="0.82"/><circle cx="80.9" cy="202.5" r="0.82"/><circle cx="66" cy="200.2" r="0.82"/><circle cx="82.8" cy="182.6" r="0.82"/><circle cx="73.6" cy="204.8" r="0.82"/><circle cx="71.8" cy="204.8" r="0.82"/><circle cx="67.8" cy="200.5" r="0.82"/><circle cx="85.6" cy="202.2" r="0.82"/><circle cx="74.5" cy="201.3" r="0.82"/><circle cx="71.6" cy="202" r="0.82"/><circle cx="79.9" cy="203.3" r="0.82"/><circle cx="68.3" cy="205.4" r="0.82"/><circle cx="70.3" cy="190.4" r="0.82"/><circle cx="71.2" cy="192.1" r="0.82"/><circle cx="77" cy="189.1" r="0.82"/><circle cx="71.9" cy="204" r="0.82"/><circle cx="85.1" cy="195.4" r="0.82"/><circle cx="71.5" cy="193.5" r="0.82"/><circle cx="86.7" cy="194.4" r="0.82"/><circle cx="79" cy="196.7" r="0.82"/><circle cx="84.8" cy="183.4" r="0.82"/><circle cx="77.6" cy="191.5" r="0.82"/><circle cx="81.3" cy="195.1" r="0.82"/><circle cx="77.3" cy="187.3" r="0.82"/><circle cx="70.3" cy="194.3" r="0.82"/><circle cx="69.5" cy="201.5" r="0.82"/><circle cx="67.4" cy="194" r="0.82"/><circle cx="74.6" cy="199.6" r="0.82"/><circle cx="84.9" cy="196.8" r="0.82"/><circle cx="84.3" cy="203.6" r="0.82"/><circle cx="81.6" cy="175.7" r="0.82"/><circle cx="85.4" cy="199.6" r="0.82"/><circle cx="82.3" cy="205.1" r="0.82"/><circle cx="68.1" cy="197.4" r="0.82"/><circle cx="79.4" cy="203.4" r="0.82"/><circle cx="71.1" cy="197.8" r="0.82"/><circle cx="76.8" cy="196.3" r="0.82"/><circle cx="76.2" cy="190.9" r="0.82"/><circle cx="67.6" cy="195" r="0.82"/><circle cx="66.6" cy="203.7" r="0.82"/><circle cx="86.6" cy="198.6" r="0.82"/><circle cx="68.6" cy="205.2" r="0.82"/><circle cx="85.7" cy="185" r="0.82"/><circle cx="65.9" cy="201.6" r="0.82"/><circle cx="81.7" cy="186" r="0.82"/><circle cx="75" cy="184" r="0.82"/><circle cx="73.2" cy="199.7" r="0.82"/><circle cx="85.8" cy="205" r="0.82"/><circle cx="75" cy="200.7" r="0.82"/><circle cx="76.4" cy="189.2" r="0.82"/><circle cx="76" cy="189" r="0.82"/><circle cx="74.9" cy="198.1" r="0.82"/><circle cx="89" cy="204.2" r="0.82"/><circle cx="87.9" cy="203.2" r="0.82"/><circle cx="80.3" cy="176.1" r="0.82"/><circle cx="75.1" cy="199" r="0.82"/><circle cx="72.8" cy="201.6" r="0.82"/><circle cx="82.4" cy="185.9" r="0.82"/><circle cx="81.6" cy="184.6" r="0.82"/><circle cx="84" cy="181" r="0.82"/><circle cx="85.3" cy="205.3" r="0.82"/><circle cx="77.9" cy="186.9" r="0.82"/><circle cx="87.2" cy="202.4" r="0.82"/><circle cx="83" cy="187.2" r="0.82"/><circle cx="78.4" cy="200.4" r="0.82"/><circle cx="89" cy="205.2" r="0.82"/><circle cx="70.2" cy="202.8" r="0.82"/><circle cx="66.8" cy="196.4" r="0.82"/><circle cx="74.1" cy="202.6" r="0.82"/><circle cx="72.2" cy="199.6" r="0.82"/><circle cx="83.4" cy="191.4" r="0.82"/><circle cx="88.4" cy="199.7" r="0.82"/><circle cx="72" cy="198.7" r="0.82"/><circle cx="83.1" cy="183.4" r="0.82"/><circle cx="86.4" cy="201.2" r="0.82"/><circle cx="86.5" cy="195.8" r="0.82"/><circle cx="83.4" cy="187.6" r="0.82"/><circle cx="80.9" cy="179.7" r="0.82"/><circle cx="70.7" cy="200.1" r="0.82"/><circle cx="74.4" cy="203.6" r="0.82"/><circle cx="87.3" cy="200.2" r="0.82"/><circle cx="81.7" cy="203.1" r="0.82"/><circle cx="81" cy="177.3" r="0.82"/><circle cx="78.8" cy="204.1" r="0.82"/><circle cx="78.6" cy="179.7" r="0.82"/><circle cx="79.5" cy="199.9" r="0.82"/><circle cx="86.6" cy="203.9" r="0.82"/><circle cx="81.2" cy="184.5" r="0.82"/><circle cx="84.5" cy="200.9" r="0.82"/><circle cx="75.8" cy="196.4" r="0.82"/><circle cx="80.7" cy="201.5" r="0.82"/><circle cx="79.8" cy="205" r="0.82"/><circle cx="80.9" cy="184.2" r="0.82"/><circle cx="79.2" cy="200.1" r="0.82"/><circle cx="80.2" cy="188.8" r="0.82"/><circle cx="76.2" cy="202.4" r="0.82"/><circle cx="83.4" cy="178.5" r="0.82"/><circle cx="87.2" cy="200.3" r="0.82"/><circle cx="77.6" cy="178.6" r="0.82"/><circle cx="87.9" cy="201.2" r="0.82"/><circle cx="73.4" cy="189.5" r="0.82"/><circle cx="67.5" cy="195.2" r="0.82"/><circle cx="75.4" cy="205.2" r="0.82"/><circle cx="67.3" cy="200.1" r="0.82"/><circle cx="80.8" cy="191.8" r="0.82"/><circle cx="81.3" cy="200.3" r="0.82"/><circle cx="66.8" cy="197.6" r="0.82"/><circle cx="82.5" cy="197" r="0.82"/><circle cx="75.7" cy="205.1" r="0.82"/><circle cx="83.2" cy="202" r="0.82"/><circle cx="71" cy="205.4" r="0.82"/><circle cx="77.4" cy="199.4" r="0.82"/><circle cx="81.3" cy="190.2" r="0.82"/><circle cx="74.4" cy="202.6" r="0.82"/><circle cx="86.1" cy="203" r="0.82"/><circle cx="66.9" cy="202.3" r="0.82"/><circle cx="78.1" cy="179.1" r="0.82"/><circle cx="81.4" cy="195" r="0.82"/><circle cx="82.5" cy="204.5" r="0.82"/><circle cx="68.3" cy="203.4" r="0.82"/><circle cx="69.7" cy="194.7" r="0.82"/><circle cx="79.4" cy="180.4" r="0.82"/><circle cx="79.9" cy="203.1" r="0.82"/><circle cx="86" cy="187" r="0.82"/><circle cx="77.9" cy="182.1" r="0.82"/><circle cx="87" cy="204" r="0.82"/><circle cx="85.8" cy="200" r="0.82"/><circle cx="83.4" cy="191.4" r="0.82"/><circle cx="75.4" cy="204.1" r="0.82"/><circle cx="73.6" cy="188.1" r="0.82"/><circle cx="80.9" cy="186.5" r="0.82"/><circle cx="71.9" cy="205.3" r="0.82"/><circle cx="80.8" cy="186.3" r="0.82"/><circle cx="74.5" cy="187.4" r="0.82"/><circle cx="72.3" cy="200.1" r="0.82"/><circle cx="81.9" cy="176.5" r="0.82"/><circle cx="86.7" cy="195" r="0.82"/><circle cx="83.6" cy="186.8" r="0.82"/><circle cx="72.8" cy="202.8" r="0.82"/><circle cx="86.4" cy="200.6" r="0.82"/><circle cx="85.6" cy="204.8" r="0.82"/><circle cx="82.1" cy="204" r="0.82"/><circle cx="78" cy="177.1" r="0.82"/><circle cx="78.2" cy="196.6" r="0.82"/><circle cx="74.6" cy="194.1" r="0.82"/><circle cx="87.3" cy="192.7" r="0.82"/><circle cx="87.6" cy="196.2" r="0.82"/><circle cx="76.6" cy="185.4" r="0.82"/><circle cx="66.7" cy="201.1" r="0.82"/><circle cx="72.8" cy="198.2" r="0.82"/><circle cx="77.5" cy="180.4" r="0.82"/><circle cx="86.9" cy="205.2" r="0.82"/><circle cx="79.3" cy="184.7" r="0.82"/><circle cx="85.5" cy="204.1" r="0.82"/><circle cx="74.9" cy="205.4" r="0.82"/><circle cx="86.3" cy="199.2" r="0.82"/><circle cx="87.8" cy="197.2" r="0.82"/><circle cx="79.6" cy="197.6" r="0.82"/><circle cx="82.2" cy="192.8" r="0.82"/><circle cx="85.7" cy="204.5" r="0.82"/><circle cx="88.8" cy="202" r="0.82"/><circle cx="74.9" cy="199.3" r="0.82"/><circle cx="84" cy="192.4" r="0.82"/><circle cx="78.6" cy="204.5" r="0.82"/><circle cx="83" cy="185" r="0.82"/><circle cx="71.8" cy="203.6" r="0.82"/><circle cx="77.9" cy="201.2" r="0.82"/><circle cx="72.1" cy="200.2" r="0.82"/><circle cx="78.5" cy="202.6" r="0.82"/><circle cx="86.1" cy="199.4" r="0.82"/><circle cx="82.1" cy="191.1" r="0.82"/><circle cx="74.1" cy="204.9" r="0.82"/><circle cx="74.1" cy="200.4" r="0.82"/><circle cx="85.1" cy="187.6" r="0.82"/><circle cx="75" cy="188.4" r="0.82"/><circle cx="68.7" cy="200.9" r="0.82"/><circle cx="84.6" cy="186.9" r="0.82"/><circle cx="85.7" cy="202.1" r="0.82"/><circle cx="84.7" cy="197.8" r="0.82"/><circle cx="74.2" cy="204.5" r="0.82"/><circle cx="77.3" cy="203.7" r="0.82"/><circle cx="69.5" cy="193.4" r="0.82"/><circle cx="86.9" cy="203" r="0.82"/><circle cx="80" cy="191.5" r="0.82"/><circle cx="83.5" cy="185" r="0.82"/><circle cx="79.4" cy="183" r="0.82"/><circle cx="88.4" cy="204.1" r="0.82"/><circle cx="82.9" cy="192.7" r="0.82"/><circle cx="85.9" cy="186.6" r="0.82"/><circle cx="86.5" cy="197.7" r="0.82"/><circle cx="80.8" cy="185.2" r="0.82"/><circle cx="72.7" cy="196.1" r="0.82"/><circle cx="81.5" cy="177.6" r="0.82"/><circle cx="76.5" cy="198.8" r="0.82"/><circle cx="68.5" cy="202.8" r="0.82"/><circle cx="81" cy="188.3" r="0.82"/><circle cx="84.9" cy="204.2" r="0.82"/><circle cx="81.7" cy="203.8" r="0.82"/><circle cx="82.8" cy="203.6" r="0.82"/><circle cx="66.8" cy="204.5" r="0.82"/><circle cx="85.1" cy="183.3" r="0.82"/><circle cx="88" cy="203.3" r="0.82"/><circle cx="88.9" cy="201.9" r="0.82"/><circle cx="79.4" cy="181" r="0.82"/><circle cx="87.4" cy="201.7" r="0.82"/><circle cx="72.9" cy="194.5" r="0.82"/><circle cx="84" cy="202.9" r="0.82"/><circle cx="88.3" cy="199.4" r="0.82"/><circle cx="68.6" cy="193" r="0.82"/><circle cx="85.1" cy="193.3" r="0.82"/><circle cx="88.1" cy="201.2" r="0.82"/><circle cx="66.9" cy="203.3" r="0.82"/><circle cx="71.4" cy="197.1" r="0.82"/><circle cx="85.9" cy="199.5" r="0.82"/><circle cx="84.4" cy="201.7" r="0.82"/><circle cx="73.5" cy="197" r="0.82"/><circle cx="87.1" cy="194.7" r="0.82"/><circle cx="78.2" cy="205.3" r="0.82"/><circle cx="72.9" cy="188.7" r="0.82"/><circle cx="84.3" cy="180.4" r="0.82"/><circle cx="71.3" cy="199.2" r="0.82"/><circle cx="83.4" cy="196" r="0.82"/><circle cx="83.7" cy="195.9" r="0.82"/><circle cx="88.4" cy="200.3" r="0.82"/><circle cx="68.5" cy="195" r="0.82"/><circle cx="73.2" cy="199.8" r="0.82"/><circle cx="85.8" cy="187.1" r="0.82"/><circle cx="83.1" cy="180.7" r="0.82"/><circle cx="84.1" cy="181.4" r="0.82"/><circle cx="83.9" cy="180.6" r="0.82"/><circle cx="73.5" cy="186.4" r="0.82"/><circle cx="76.1" cy="204.6" r="0.82"/><circle cx="69.7" cy="190.6" r="0.82"/><circle cx="81.3" cy="197.1" r="0.82"/><circle cx="69.7" cy="200.6" r="0.82"/><circle cx="84" cy="199.7" r="0.82"/><circle cx="86.4" cy="204.1" r="0.82"/><circle cx="86.9" cy="193.4" r="0.82"/><circle cx="82.6" cy="182.1" r="0.82"/><circle cx="67.1" cy="197.9" r="0.82"/><circle cx="80.9" cy="178.6" r="0.82"/><circle cx="73.8" cy="197.9" r="0.82"/><circle cx="71" cy="191.6" r="0.82"/><circle cx="80.6" cy="194.8" r="0.82"/><circle cx="86.7" cy="196.4" r="0.82"/><circle cx="74.9" cy="202.9" r="0.82"/><circle cx="68.3" cy="204.9" r="0.82"/><circle cx="77.8" cy="194.3" r="0.82"/><circle cx="74.3" cy="194.4" r="0.82"/><circle cx="83.6" cy="200.4" r="0.82"/><circle cx="83.1" cy="185.2" r="0.82"/><circle cx="67.8" cy="200.9" r="0.82"/><circle cx="84.8" cy="197.4" r="0.82"/><circle cx="73.8" cy="201.3" r="0.82"/><circle cx="79" cy="192.2" r="0.82"/><circle cx="75.7" cy="202.4" r="0.82"/><circle cx="78.6" cy="182.3" r="0.82"/><circle cx="78.9" cy="183.5" r="0.82"/><circle cx="69.8" cy="196.4" r="0.82"/><circle cx="68" cy="200.8" r="0.82"/><circle cx="71.7" cy="194.5" r="0.82"/><circle cx="77.5" cy="199.4" r="0.82"/><circle cx="85.4" cy="194.7" r="0.82"/><circle cx="79.8" cy="193.2" r="0.82"/><circle cx="88.6" cy="205.3" r="0.82"/><circle cx="84" cy="185" r="0.82"/><circle cx="73.4" cy="200" r="0.82"/><circle cx="85.8" cy="191.6" r="0.82"/><circle cx="68.7" cy="200.9" r="0.82"/><circle cx="77.9" cy="184.9" r="0.82"/><circle cx="74.5" cy="199" r="0.82"/><circle cx="81.6" cy="203.8" r="0.82"/><circle cx="75.4" cy="202.5" r="0.82"/><circle cx="81.2" cy="187.6" r="0.82"/><circle cx="72.8" cy="199.8" r="0.82"/><circle cx="86.9" cy="202" r="0.82"/><circle cx="82.4" cy="188.3" r="0.82"/><circle cx="84.8" cy="202" r="0.82"/><circle cx="86.5" cy="203.8" r="0.82"/><circle cx="87" cy="197.8" r="0.82"/><circle cx="80.1" cy="201.4" r="0.82"/><circle cx="80.7" cy="194.1" r="0.82"/><circle cx="87.8" cy="201.8" r="0.82"/><circle cx="66.7" cy="195.2" r="0.82"/><circle cx="83.7" cy="194.5" r="0.82"/><circle cx="83.7" cy="185.9" r="0.82"/><circle cx="82.8" cy="202.2" r="0.82"/><circle cx="74" cy="196.6" r="0.82"/><circle cx="82.6" cy="194.3" r="0.82"/><circle cx="84.9" cy="190.4" r="0.82"/><circle cx="75.8" cy="184.4" r="0.82"/><circle cx="67.2" cy="202.4" r="0.82"/><circle cx="83.4" cy="180.3" r="0.82"/><circle cx="72.1" cy="189.3" r="0.82"/><circle cx="75.4" cy="197.1" r="0.82"/><circle cx="82.6" cy="201.5" r="0.82"/><circle cx="71.8" cy="205" r="0.82"/><circle cx="84.4" cy="192.8" r="0.82"/><circle cx="80.3" cy="196.4" r="0.82"/><circle cx="68.9" cy="196.8" r="0.82"/><circle cx="79.4" cy="177.6" r="0.82"/><circle cx="76.5" cy="192.9" r="0.82"/><circle cx="84.2" cy="195.7" r="0.82"/><circle cx="77.3" cy="182.6" r="0.82"/><circle cx="85.7" cy="196.2" r="0.82"/><circle cx="82.9" cy="196.4" r="0.82"/><circle cx="85.4" cy="197.3" r="0.82"/><circle cx="71.2" cy="202" r="0.82"/><circle cx="75.1" cy="205.1" r="0.82"/><circle cx="87" cy="204.4" r="0.82"/><circle cx="71.7" cy="202.4" r="0.82"/><circle cx="86.3" cy="204.4" r="0.82"/><circle cx="85.6" cy="184.4" r="0.82"/><circle cx="68.1" cy="203.7" r="0.82"/><circle cx="68" cy="194.2" r="0.82"/><circle cx="70.1" cy="195.7" r="0.82"/><circle cx="73.2" cy="189" r="0.82"/><circle cx="66.3" cy="204.8" r="0.82"/><circle cx="89.1" cy="202.9" r="0.82"/><circle cx="76.7" cy="203.2" r="0.82"/><circle cx="87.5" cy="201.5" r="0.82"/><circle cx="77.3" cy="186.5" r="0.82"/><circle cx="66.6" cy="196.5" r="0.82"/><circle cx="82.8" cy="199.5" r="0.82"/><circle cx="87.3" cy="201.5" r="0.82"/><circle cx="87.7" cy="196.7" r="0.82"/><circle cx="73.7" cy="204.4" r="0.82"/><circle cx="79.4" cy="186.2" r="0.82"/><circle cx="72.1" cy="189.7" r="0.82"/><circle cx="81.4" cy="179.3" r="0.82"/><circle cx="77.5" cy="197.2" r="0.82"/><circle cx="82.7" cy="177.1" r="0.82"/><circle cx="78.6" cy="202.5" r="0.82"/><circle cx="87.3" cy="195.8" r="0.82"/><circle cx="75" cy="205.4" r="0.82"/><circle cx="79.8" cy="205.3" r="0.82"/><circle cx="71.9" cy="194.8" r="0.82"/><circle cx="75.6" cy="189.9" r="0.82"/><circle cx="74" cy="195" r="0.82"/><circle cx="84.5" cy="196" r="0.82"/><circle cx="75.1" cy="197.7" r="0.82"/><circle cx="73.1" cy="199.3" r="0.82"/><circle cx="77.3" cy="202.1" r="0.82"/><circle cx="70.1" cy="192.5" r="0.82"/><circle cx="73.1" cy="202.3" r="0.82"/><circle cx="73" cy="189.8" r="0.82"/><circle cx="82" cy="177.4" r="0.82"/><circle cx="81.6" cy="184.7" r="0.82"/><circle cx="76.2" cy="203.5" r="0.82"/><circle cx="80.3" cy="184.8" r="0.82"/><circle cx="85.3" cy="196.2" r="0.82"/><circle cx="78.3" cy="181.8" r="0.82"/><circle cx="73.1" cy="193.5" r="0.82"/><circle cx="69.9" cy="195.2" r="0.82"/><circle cx="79.1" cy="184.2" r="0.82"/><circle cx="83.2" cy="199.7" r="0.82"/><circle cx="71.4" cy="204.9" r="0.82"/><circle cx="104.2" cy="204.5" r="0.82"/><circle cx="104.1" cy="193.7" r="0.82"/><circle cx="109.1" cy="200.6" r="0.82"/><circle cx="113.6" cy="203.1" r="0.82"/><circle cx="98.9" cy="203.1" r="0.82"/><circle cx="104.7" cy="200.7" r="0.82"/><circle cx="104.2" cy="192.4" r="0.82"/><circle cx="100.5" cy="189.8" r="0.82"/><circle cx="110" cy="195.4" r="0.82"/><circle cx="105.3" cy="191" r="0.82"/><circle cx="103.6" cy="204.3" r="0.82"/><circle cx="108.2" cy="193.2" r="0.82"/><circle cx="100.3" cy="198.5" r="0.82"/><circle cx="113.3" cy="203.5" r="0.82"/><circle cx="108.2" cy="196.8" r="0.82"/><circle cx="103" cy="203.4" r="0.82"/><circle cx="99.1" cy="198.4" r="0.82"/><circle cx="104.5" cy="201.8" r="0.82"/><circle cx="102.4" cy="196.8" r="0.82"/><circle cx="109.8" cy="196.2" r="0.82"/><circle cx="102.4" cy="188.8" r="0.82"/><circle cx="114.7" cy="203.8" r="0.82"/><circle cx="106.2" cy="188.7" r="0.82"/><circle cx="102.6" cy="197" r="0.82"/><circle cx="101.5" cy="205.2" r="0.82"/><circle cx="99.9" cy="204" r="0.82"/><circle cx="101" cy="195.4" r="0.82"/><circle cx="105.8" cy="189.1" r="0.82"/><circle cx="108.2" cy="200.3" r="0.82"/><circle cx="105.4" cy="190.8" r="0.82"/><circle cx="107.9" cy="200.3" r="0.82"/><circle cx="106.6" cy="201.3" r="0.82"/><circle cx="114.4" cy="202.2" r="0.82"/><circle cx="114.5" cy="204.8" r="0.82"/><circle cx="99.9" cy="197.7" r="0.82"/><circle cx="107.9" cy="194.4" r="0.82"/><circle cx="108.1" cy="193.8" r="0.82"/><circle cx="103.3" cy="188.6" r="0.82"/><circle cx="101.5" cy="196.6" r="0.82"/><circle cx="112.9" cy="196.2" r="0.82"/><circle cx="111.2" cy="205.3" r="0.82"/><circle cx="99.9" cy="203.2" r="0.82"/><circle cx="111.3" cy="204.3" r="0.82"/><circle cx="113.5" cy="201.8" r="0.82"/><circle cx="112.4" cy="197.5" r="0.82"/><circle cx="103" cy="194.1" r="0.82"/><circle cx="114.7" cy="204.2" r="0.82"/><circle cx="109.5" cy="201.8" r="0.82"/><circle cx="99.2" cy="200.2" r="0.82"/><circle cx="107" cy="195" r="0.82"/><circle cx="99.4" cy="193.5" r="0.82"/><circle cx="105.6" cy="200.3" r="0.82"/><circle cx="112.8" cy="202" r="0.82"/><circle cx="99.1" cy="203.5" r="0.82"/><circle cx="99.2" cy="196.2" r="0.82"/><circle cx="110.6" cy="203.5" r="0.82"/><circle cx="104.7" cy="196.5" r="0.82"/><circle cx="105.8" cy="199.4" r="0.82"/><circle cx="105.5" cy="205.3" r="0.82"/><circle cx="98.3" cy="199.2" r="0.82"/><circle cx="100.4" cy="192.9" r="0.82"/><circle cx="100.4" cy="191.6" r="0.82"/><circle cx="100.4" cy="204.4" r="0.82"/><circle cx="104.2" cy="199.8" r="0.82"/><circle cx="101.8" cy="192.8" r="0.82"/><circle cx="100.2" cy="194.6" r="0.82"/><circle cx="111.4" cy="198.7" r="0.82"/><circle cx="104.7" cy="189.6" r="0.82"/><circle cx="106.6" cy="203.2" r="0.82"/><circle cx="98.4" cy="204.5" r="0.82"/><circle cx="101.8" cy="204.4" r="0.82"/><circle cx="107.5" cy="199.2" r="0.82"/><circle cx="101.4" cy="197.6" r="0.82"/><circle cx="113.6" cy="202.2" r="0.82"/><circle cx="99.3" cy="201.2" r="0.82"/><circle cx="101.7" cy="189.9" r="0.82"/><circle cx="108.7" cy="199.1" r="0.82"/><circle cx="99.4" cy="205" r="0.82"/><circle cx="107.5" cy="203.5" r="0.82"/><circle cx="107" cy="204.8" r="0.82"/><circle cx="104.8" cy="200.7" r="0.82"/><circle cx="108.9" cy="197.6" r="0.82"/><circle cx="99.4" cy="194.6" r="0.82"/><circle cx="103.5" cy="194.8" r="0.82"/><circle cx="102.9" cy="202.9" r="0.82"/><circle cx="100.8" cy="194.6" r="0.82"/><circle cx="100.2" cy="199.6" r="0.82"/><circle cx="108.3" cy="199.1" r="0.82"/><circle cx="99.3" cy="204.7" r="0.82"/><circle cx="105.4" cy="188.2" r="0.82"/><circle cx="113.3" cy="204.3" r="0.82"/><circle cx="104.7" cy="198" r="0.82"/><circle cx="99.8" cy="194.6" r="0.82"/><circle cx="104.6" cy="191.9" r="0.82"/><circle cx="101.2" cy="189.4" r="0.82"/><circle cx="110.9" cy="198.3" r="0.82"/><circle cx="99.1" cy="198.1" r="0.82"/><circle cx="99" cy="194.3" r="0.82"/><circle cx="108.5" cy="196.4" r="0.82"/><circle cx="114.6" cy="205" r="0.82"/><circle cx="108.8" cy="192.1" r="0.82"/><circle cx="98.8" cy="200.9" r="0.82"/><circle cx="109" cy="200.5" r="0.82"/><circle cx="108.4" cy="200.2" r="0.82"/><circle cx="108.8" cy="201.7" r="0.82"/><circle cx="109.1" cy="190.8" r="0.82"/><circle cx="107.3" cy="203.5" r="0.82"/><circle cx="98.8" cy="199.9" r="0.82"/><circle cx="107.9" cy="205.4" r="0.82"/><circle cx="101.6" cy="189.9" r="0.82"/><circle cx="110.3" cy="190.8" r="0.82"/><circle cx="106.3" cy="188.6" r="0.82"/><circle cx="107.4" cy="189.1" r="0.82"/><circle cx="105.9" cy="202.9" r="0.82"/><circle cx="105" cy="198.1" r="0.82"/><circle cx="101.9" cy="200.1" r="0.82"/><circle cx="104.8" cy="196.2" r="0.82"/><circle cx="100.2" cy="201.7" r="0.82"/><circle cx="104.7" cy="197.8" r="0.82"/><circle cx="103.2" cy="194.8" r="0.82"/><circle cx="99.7" cy="197.2" r="0.82"/><circle cx="100.9" cy="192.7" r="0.82"/><circle cx="108.6" cy="192.5" r="0.82"/><circle cx="105" cy="202.1" r="0.82"/><circle cx="113.4" cy="197.6" r="0.82"/><circle cx="102.5" cy="201.5" r="0.82"/><circle cx="102.9" cy="193.9" r="0.82"/><circle cx="111" cy="198.1" r="0.82"/><circle cx="109.2" cy="202.7" r="0.82"/><circle cx="103.8" cy="200.3" r="0.82"/><circle cx="101.4" cy="200.3" r="0.82"/><circle cx="109.7" cy="193.4" r="0.82"/><circle cx="100" cy="202.4" r="0.82"/><circle cx="110.3" cy="194.9" r="0.82"/><circle cx="108" cy="195.3" r="0.82"/><circle cx="108.4" cy="201.7" r="0.82"/><circle cx="98.3" cy="200.3" r="0.82"/><circle cx="105.1" cy="194.6" r="0.82"/><circle cx="100.3" cy="200.7" r="0.82"/><circle cx="109.3" cy="198" r="0.82"/><circle cx="102.4" cy="201.8" r="0.82"/><circle cx="104.4" cy="193.8" r="0.82"/><circle cx="112.1" cy="198.9" r="0.82"/><circle cx="103.3" cy="201.1" r="0.82"/><circle cx="114.5" cy="203.1" r="0.82"/><circle cx="99.3" cy="201.6" r="0.82"/><circle cx="101.8" cy="191" r="0.82"/><circle cx="112.6" cy="199.1" r="0.82"/><circle cx="99.8" cy="192.6" r="0.82"/><circle cx="102.5" cy="204" r="0.82"/><circle cx="112.9" cy="198.9" r="0.82"/><circle cx="102.8" cy="196.1" r="0.82"/><circle cx="100.6" cy="205.2" r="0.82"/><circle cx="102.7" cy="200" r="0.82"/><circle cx="109.8" cy="200.8" r="0.82"/><circle cx="108.1" cy="195.5" r="0.82"/><circle cx="99.7" cy="205.2" r="0.82"/><circle cx="108" cy="195.8" r="0.82"/><circle cx="101.2" cy="202.9" r="0.82"/><circle cx="100.3" cy="196.2" r="0.82"/><circle cx="106" cy="200.9" r="0.82"/><circle cx="107.4" cy="195.9" r="0.82"/><circle cx="104.8" cy="204" r="0.82"/><circle cx="100" cy="201.1" r="0.82"/><circle cx="103.2" cy="200.2" r="0.82"/><circle cx="112.9" cy="204.1" r="0.82"/><circle cx="111.9" cy="202.2" r="0.82"/><circle cx="106.3" cy="200" r="0.82"/><circle cx="110.9" cy="201.8" r="0.82"/><circle cx="110.1" cy="198.2" r="0.82"/><circle cx="114.8" cy="204.9" r="0.82"/><circle cx="102.6" cy="202.5" r="0.82"/><circle cx="107" cy="192.5" r="0.82"/><circle cx="111.5" cy="196.9" r="0.82"/><circle cx="102.7" cy="192.1" r="0.82"/><circle cx="98.7" cy="201.9" r="0.82"/><circle cx="109.6" cy="198.9" r="0.82"/><circle cx="104" cy="202.7" r="0.82"/><circle cx="98.6" cy="200.1" r="0.82"/><circle cx="103.4" cy="197.7" r="0.82"/><circle cx="101.1" cy="194" r="0.82"/><circle cx="104.9" cy="188.4" r="0.82"/><circle cx="99.5" cy="197.6" r="0.82"/><circle cx="104.5" cy="200.1" r="0.82"/><circle cx="112" cy="202.7" r="0.82"/><circle cx="112.3" cy="200.3" r="0.82"/><circle cx="101.8" cy="195.7" r="0.82"/><circle cx="105.8" cy="201.6" r="0.82"/><circle cx="102.4" cy="204.1" r="0.82"/><circle cx="107.6" cy="197.2" r="0.82"/><circle cx="101.7" cy="200.8" r="0.82"/><circle cx="111.6" cy="200.7" r="0.82"/><circle cx="103.2" cy="188.9" r="0.82"/><circle cx="102.2" cy="199.6" r="0.82"/><circle cx="99.4" cy="194.8" r="0.82"/><circle cx="107.8" cy="198.8" r="0.82"/><circle cx="103" cy="202.4" r="0.82"/><circle cx="110.4" cy="198.6" r="0.82"/><circle cx="111.3" cy="200" r="0.82"/><circle cx="109.2" cy="205.2" r="0.82"/><circle cx="65.9" cy="190.2" r="0.82"/><circle cx="77.1" cy="169.9" r="0.82"/><circle cx="76.3" cy="174" r="0.82"/><circle cx="61.7" cy="204.9" r="0.82"/><circle cx="70.3" cy="179.6" r="0.82"/><circle cx="76.6" cy="170.7" r="0.82"/><circle cx="65.2" cy="192.9" r="0.82"/><circle cx="66.1" cy="187.3" r="0.82"/><circle cx="69.2" cy="180.6" r="0.82"/><circle cx="62.4" cy="197.7" r="0.82"/><circle cx="67.1" cy="186.3" r="0.82"/><circle cx="66.3" cy="183.1" r="0.82"/><circle cx="74.9" cy="171.4" r="0.82"/><circle cx="65.1" cy="198.5" r="0.82"/><circle cx="73.6" cy="177.6" r="0.82"/><circle cx="67.3" cy="182.3" r="0.82"/><circle cx="64.8" cy="193.4" r="0.82"/><circle cx="70.2" cy="178.4" r="0.82"/><circle cx="64.2" cy="194.2" r="0.82"/><circle cx="71.8" cy="177.4" r="0.82"/><circle cx="80.4" cy="172.4" r="0.82"/><circle cx="74" cy="177.9" r="0.82"/><circle cx="65.6" cy="187.9" r="0.82"/><circle cx="66.4" cy="187.6" r="0.82"/><circle cx="75.7" cy="172.4" r="0.82"/><circle cx="72.4" cy="173.6" r="0.82"/><circle cx="74.5" cy="176" r="0.82"/><circle cx="67.1" cy="182.7" r="0.82"/><circle cx="65.2" cy="201.2" r="0.82"/><circle cx="81.4" cy="173.1" r="0.82"/><circle cx="66.6" cy="186.6" r="0.82"/><circle cx="66.7" cy="187.7" r="0.82"/><circle cx="64.5" cy="200.8" r="0.82"/><circle cx="63.1" cy="200.8" r="0.82"/><circle cx="79.1" cy="172.5" r="0.82"/><circle cx="79.2" cy="173.9" r="0.82"/><circle cx="81.7" cy="177.2" r="0.82"/><circle cx="72.8" cy="172.8" r="0.82"/><circle cx="65.7" cy="186.4" r="0.82"/><circle cx="76.6" cy="172.4" r="0.82"/><circle cx="136.2" cy="188.1" r="0.82"/><circle cx="122.8" cy="197.9" r="0.82"/><circle cx="133.9" cy="196" r="0.82"/><circle cx="142.6" cy="201.3" r="0.82"/><circle cx="144.1" cy="195.9" r="0.82"/><circle cx="137.1" cy="197.3" r="0.82"/><circle cx="137.2" cy="194.8" r="0.82"/><circle cx="121.6" cy="186.9" r="0.82"/><circle cx="117.3" cy="205.2" r="0.82"/><circle cx="116" cy="200.9" r="0.82"/><circle cx="111.7" cy="188" r="0.82"/><circle cx="140.5" cy="197.9" r="0.82"/><circle cx="132.2" cy="201.7" r="0.82"/><circle cx="130.2" cy="191.5" r="0.82"/><circle cx="113.4" cy="194.6" r="0.82"/><circle cx="134.6" cy="200.8" r="0.82"/><circle cx="136.4" cy="198.1" r="0.82"/><circle cx="137.2" cy="202.9" r="0.82"/><circle cx="125.3" cy="185.1" r="0.82"/><circle cx="123.6" cy="186" r="0.82"/><circle cx="132.5" cy="201.5" r="0.82"/><circle cx="135.3" cy="187.1" r="0.82"/><circle cx="132.1" cy="205.2" r="0.82"/><circle cx="141.3" cy="196.2" r="0.82"/><circle cx="124" cy="185.9" r="0.82"/><circle cx="115.7" cy="195.4" r="0.82"/><circle cx="114.7" cy="186.4" r="0.82"/><circle cx="121.3" cy="183.9" r="0.82"/><circle cx="124" cy="186.5" r="0.82"/><circle cx="118.1" cy="201.1" r="0.82"/><circle cx="128.2" cy="188.8" r="0.82"/><circle cx="126.4" cy="186.3" r="0.82"/><circle cx="133.5" cy="188.5" r="0.82"/><circle cx="122.7" cy="185.9" r="0.82"/><circle cx="141.9" cy="203.1" r="0.82"/><circle cx="140" cy="203.4" r="0.82"/><circle cx="136.7" cy="202.4" r="0.82"/><circle cx="143.2" cy="196.7" r="0.82"/><circle cx="143.9" cy="194.6" r="0.82"/><circle cx="106.5" cy="184.9" r="0.82"/><circle cx="114.1" cy="192" r="0.82"/><circle cx="118.9" cy="203.1" r="0.82"/><circle cx="117.4" cy="180" r="0.82"/><circle cx="125.1" cy="196.3" r="0.82"/><circle cx="132.7" cy="190.1" r="0.82"/><circle cx="120.4" cy="192" r="0.82"/><circle cx="126.2" cy="203.1" r="0.82"/><circle cx="145.4" cy="195.3" r="0.82"/><circle cx="117.8" cy="187.3" r="0.82"/><circle cx="128.6" cy="205" r="0.82"/><circle cx="139.4" cy="204.5" r="0.82"/><circle cx="130" cy="185.7" r="0.82"/><circle cx="131.8" cy="200.9" r="0.82"/><circle cx="144.6" cy="199" r="0.82"/><circle cx="119.5" cy="193.5" r="0.82"/><circle cx="141.4" cy="196.2" r="0.82"/><circle cx="126.1" cy="182.6" r="0.82"/><circle cx="132.9" cy="194" r="0.82"/><circle cx="126.2" cy="197.5" r="0.82"/><circle cx="119.6" cy="191.6" r="0.82"/><circle cx="145.7" cy="196.3" r="0.82"/><circle cx="144" cy="192" r="0.82"/><circle cx="109.5" cy="185.4" r="0.82"/><circle cx="132.1" cy="191.5" r="0.82"/><circle cx="121.4" cy="203.8" r="0.82"/></g>
<g fill="#d01818" stroke="#400000" stroke-width="0.3"><circle cx="71.8" cy="148.8" r="0.78"/><circle cx="78.5" cy="152.6" r="0.78"/><circle cx="61.5" cy="153.3" r="0.78"/><circle cx="82" cy="164" r="0.78"/><circle cx="64.8" cy="160.6" r="0.78"/><circle cx="78.9" cy="157.6" r="0.78"/><circle cx="78.9" cy="160.2" r="0.78"/><circle cx="75.5" cy="160.9" r="0.78"/><circle cx="71.4" cy="164.2" r="0.78"/><circle cx="76.7" cy="164.2" r="0.78"/><circle cx="59.2" cy="169.2" r="0.78"/><circle cx="83.5" cy="171.5" r="0.78"/><circle cx="136.1" cy="163.6" r="0.78"/><circle cx="148.5" cy="171.8" r="0.78"/><circle cx="190.2" cy="172.7" r="0.78"/><circle cx="108.7" cy="172.2" r="0.78"/><circle cx="104" cy="175.8" r="0.78"/><circle cx="110.6" cy="179.3" r="0.78"/><circle cx="114.6" cy="179.7" r="0.78"/><circle cx="127" cy="183.5" r="0.78"/><circle cx="138" cy="180.4" r="0.78"/><circle cx="142" cy="182.8" r="0.78"/><circle cx="145" cy="180.4" r="0.78"/><circle cx="158.4" cy="183.3" r="0.78"/><circle cx="148.5" cy="188.6" r="0.78"/><circle cx="150.4" cy="191" r="0.78"/><circle cx="165" cy="192.2" r="0.78"/><circle cx="166.1" cy="203.2" r="0.78"/><circle cx="143.4" cy="201.5" r="0.78"/><circle cx="135" cy="195" r="0.78"/><circle cx="132" cy="190" r="0.78"/><circle cx="125" cy="193" r="0.78"/><circle cx="120" cy="188" r="0.78"/><circle cx="128" cy="199" r="0.78"/><circle cx="140" cy="197" r="0.78"/><circle cx="46.8" cy="195.2" r="0.78"/><circle cx="57" cy="192" r="0.78"/><circle cx="33" cy="203" r="0.78"/><circle cx="27" cy="209" r="0.78"/><circle cx="60" cy="183" r="0.78"/><circle cx="66" cy="178" r="0.78"/><circle cx="55" cy="187" r="0.78"/><circle cx="70" cy="174" r="0.78"/><circle cx="74" cy="170" r="0.78"/><circle cx="85" cy="176" r="0.78"/><circle cx="80" cy="168" r="0.78"/></g>
<line x1="70.6" y1="145.8" x2="71.8" y2="148.8" stroke="#333" stroke-width="0.35"/>
<circle cx="71.8" cy="148.8" r="0.8" fill="#d01818" stroke="#111" stroke-width="0.3"/>
<rect x="56.2" y="142" width="14.4" height="3.8" rx="0.6" fill="#fff" stroke="#6a6a6a" stroke-width="0.45"/>
<text x="63.4" y="145.1" font-size="3.3" text-anchor="middle" fill="#111" stroke="#111" stroke-width="0.03" textLength="12.6" lengthAdjust="spacingAndGlyphs">ETV6</text>
<line x1="79.4" y1="149.5" x2="78.5" y2="152.6" stroke="#333" stroke-width="0.35"/>
<circle cx="78.5" cy="152.6" r="0.8" fill="#d01818" stroke="#111" stroke-width="0.3"/>
<rect x="79.4" y="145.8" width="13.6" height="3.7" rx="0.6" fill="#fff" stroke="#6a6a6a" stroke-width="0.45"/>
<text x="86.2" y="148.8" font-size="3.3" text-anchor="middle" fill="#111" stroke="#111" stroke-width="0.03" textLength="11.8" lengthAdjust="spacingAndGlyphs">PCSK7</text>
<line x1="58.5" y1="153.3" x2="61.5" y2="153.3" stroke="#333" stroke-width="0.35"/>
<circle cx="61.5" cy="153.3" r="0.8" fill="#d01818" stroke="#111" stroke-width="0.3"/>
<rect x="45.6" y="151" width="12.9" height="4.2" rx="0.6" fill="#fff" stroke="#6a6a6a" stroke-width="0.45"/>
<text x="52" y="154.3" font-size="3.3" text-anchor="middle" fill="#111" stroke="#111" stroke-width="0.03" textLength="11.1" lengthAdjust="spacingAndGlyphs">CD2AP</text>
<line x1="82.4" y1="161.2" x2="82" y2="164" stroke="#333" stroke-width="0.35"/>
<circle cx="82" cy="164" r="0.8" fill="#d01818" stroke="#111" stroke-width="0.3"/>
<rect x="82.4" y="157.6" width="15.2" height="3.6" rx="0.6" fill="#fff" stroke="#6a6a6a" stroke-width="0.45"/>
<text x="90" y="160.6" font-size="3.3" text-anchor="middle" fill="#111" stroke="#111" stroke-width="0.03" textLength="13.4" lengthAdjust="spacingAndGlyphs">ARPIN1</text>
<line x1="63" y1="164" x2="64.8" y2="160.6" stroke="#333" stroke-width="0.35"/>
<circle cx="64.8" cy="160.6" r="0.8" fill="#d01818" stroke="#111" stroke-width="0.3"/>
<rect x="50.6" y="164" width="12.4" height="3.3" rx="0.6" fill="#fff" stroke="#6a6a6a" stroke-width="0.45"/>
<text x="56.8" y="166.8" font-size="3.3" text-anchor="middle" fill="#111" stroke="#111" stroke-width="0.03" textLength="10.6" lengthAdjust="spacingAndGlyphs">GAPN1</text>
<line x1="76" y1="167.4" x2="76" y2="166" stroke="#333" stroke-width="0.35"/>
<circle cx="76" cy="166" r="0.8" fill="#d01818" stroke="#111" stroke-width="0.3"/>
<rect x="67.6" y="167.4" width="14.8" height="3.6" rx="0.6" fill="#fff" stroke="#6a6a6a" stroke-width="0.45"/>
<text x="75" y="170.4" font-size="3.3" text-anchor="middle" fill="#111" stroke="#111" stroke-width="0.03" textLength="13" lengthAdjust="spacingAndGlyphs">BTN3A2</text>
<line x1="138" y1="161" x2="136.1" y2="163.6" stroke="#333" stroke-width="0.35"/>
<circle cx="136.1" cy="163.6" r="0.8" fill="#d01818" stroke="#111" stroke-width="0.3"/>
<rect x="138" y="157.5" width="12.4" height="3.5" rx="0.6" fill="#fff" stroke="#6a6a6a" stroke-width="0.45"/>
<text x="144.2" y="160.4" font-size="3.3" text-anchor="middle" fill="#111" stroke="#111" stroke-width="0.03" textLength="10.6" lengthAdjust="spacingAndGlyphs">NARS1</text>
<circle cx="19.3" cy="128" r="1.1" fill="#d01818" stroke="#111" stroke-width="0.4"/>
<text x="23.7" y="129.2" font-size="3.2" fill="#222" stroke="#222" stroke-width="0.05" textLength="19" lengthAdjust="spacingAndGlyphs">Bon Significant</text>
<circle cx="19.3" cy="133.5" r="1.1" fill="#ff9c9c" stroke="#3a1010" stroke-width="0.4"/>
<text x="23.7" y="134.7" font-size="3.2" fill="#222" stroke="#222" stroke-width="0.05" textLength="26" lengthAdjust="spacingAndGlyphs">Nominally Significant</text>
<circle cx="19.3" cy="139" r="1.1" fill="#f4f4f4" stroke="#555" stroke-width="0.4"/>
<text x="23.7" y="140.2" font-size="3.2" fill="#222" stroke="#222" stroke-width="0.05" textLength="19.2" lengthAdjust="spacingAndGlyphs">FDR Significant</text>
<rect x="13" y="243" width="185.5" height="109.2" fill="#fff" stroke="#d4d4d4" stroke-width="0.9"/>
<line x1="11.7" y1="350.6" x2="13" y2="350.6" stroke="#555" stroke-width="0.4"/>
<text x="11.3" y="351.8" font-size="3.3" text-anchor="end" fill="#333">0</text>
<line x1="11.7" y1="324.1" x2="13" y2="324.1" stroke="#555" stroke-width="0.4"/>
<text x="11.3" y="325.2" font-size="3.3" text-anchor="end" fill="#333">10</text>
<line x1="11.7" y1="297.6" x2="13" y2="297.6" stroke="#555" stroke-width="0.4"/>
<text x="11.3" y="298.8" font-size="3.3" text-anchor="end" fill="#333">20</text>
<line x1="11.7" y1="271.1" x2="13" y2="271.1" stroke="#555" stroke-width="0.4"/>
<text x="11.3" y="272.2" font-size="3.3" text-anchor="end" fill="#333">30</text>
<line x1="11.7" y1="244.6" x2="13" y2="244.6" stroke="#555" stroke-width="0.4"/>
<text x="11.3" y="245.8" font-size="3.3" text-anchor="end" fill="#333">40</text>
<line x1="39.4" y1="352.2" x2="39.4" y2="353.5" stroke="#555" stroke-width="0.4"/>
<text x="39.4" y="356.2" font-size="3.3" text-anchor="middle" fill="#333">-0.1</text>
<line x1="93" y1="352.2" x2="93" y2="353.5" stroke="#555" stroke-width="0.4"/>
<text x="93" y="356.2" font-size="3.3" text-anchor="middle" fill="#333">0</text>
<line x1="147.2" y1="352.2" x2="147.2" y2="353.5" stroke="#555" stroke-width="0.4"/>
<text x="147.2" y="356.2" font-size="3.3" text-anchor="middle" fill="#333">0.1</text>
<text x="5.9" y="297.6" font-size="3.6" text-anchor="middle" fill="#333" textLength="26.5" lengthAdjust="spacingAndGlyphs" transform="rotate(-90 5.9 297.6)">-log<tspan font-size="2.6" dy="0.8">10</tspan><tspan dy="-0.8">(p-value)</tspan></text>
<text x="105.8" y="360.4" font-size="3.6" text-anchor="middle">Effect size estimate</text>
<line x1="13" y1="335.4" x2="198.5" y2="335.4" stroke="#333" stroke-width="1" stroke-dasharray="0.55 1.75"/>
<line x1="13" y1="347.2" x2="198.5" y2="347.2" stroke="#bbb" stroke-width="0.6" stroke-dasharray="2.2 1.8"/>
<g fill="#90e680" stroke="#0a1a0a" stroke-width="0.3"><circle cx="88.8" cy="339.6" r="0.82"/><circle cx="79.6" cy="336.7" r="0.82"/><circle cx="86.1" cy="350" r="0.82"/><circle cx="77.3" cy="347" r="0.82"/><circle cx="79.5" cy="343.3" r="0.82"/><circle cx="85.5" cy="350.5" r="0.82"/><circle cx="85.2" cy="337.2" r="0.82"/><circle cx="77.3" cy="342.6" r="0.82"/><circle cx="86.3" cy="342.6" r="0.82"/><circle cx="88.8" cy="345" r="0.82"/><circle cx="85" cy="346.5" r="0.82"/><circle cx="81.6" cy="349.7" r="0.82"/><circle cx="89.6" cy="346.6" r="0.82"/><circle cx="87" cy="343.3" r="0.82"/><circle cx="82.7" cy="341.2" r="0.82"/><circle cx="89" cy="345.4" r="0.82"/><circle cx="85.5" cy="337.1" r="0.82"/><circle cx="78.1" cy="343.5" r="0.82"/><circle cx="77.1" cy="344.2" r="0.82"/><circle cx="86.5" cy="341" r="0.82"/><circle cx="80.2" cy="349.2" r="0.82"/><circle cx="86" cy="337.6" r="0.82"/><circle cx="88.9" cy="342.7" r="0.82"/><circle cx="87.4" cy="342.3" r="0.82"/><circle cx="86.5" cy="345.6" r="0.82"/><circle cx="74.4" cy="340.1" r="0.82"/><circle cx="85" cy="345.3" r="0.82"/><circle cx="75.9" cy="345.2" r="0.82"/><circle cx="80.3" cy="348.2" r="0.82"/><circle cx="83.4" cy="346.8" r="0.82"/><circle cx="87.5" cy="342.3" r="0.82"/><circle cx="74.3" cy="340.1" r="0.82"/><circle cx="76.9" cy="342.1" r="0.82"/><circle cx="81.7" cy="348.8" r="0.82"/><circle cx="76.7" cy="340.9" r="0.82"/><circle cx="81.1" cy="346.2" r="0.82"/><circle cx="78.4" cy="342.7" r="0.82"/><circle cx="87.9" cy="335.4" r="0.82"/><circle cx="78.2" cy="340.3" r="0.82"/><circle cx="76.5" cy="340.1" r="0.82"/><circle cx="86.7" cy="336" r="0.82"/><circle cx="74.9" cy="340.5" r="0.82"/><circle cx="85.7" cy="343.1" r="0.82"/><circle cx="76.8" cy="341.7" r="0.82"/><circle cx="85" cy="338.4" r="0.82"/><circle cx="89.1" cy="341.5" r="0.82"/><circle cx="87.2" cy="341.5" r="0.82"/><circle cx="75.1" cy="344.6" r="0.82"/><circle cx="91.2" cy="350.8" r="0.82"/><circle cx="76.6" cy="343.6" r="0.82"/><circle cx="85.5" cy="350.5" r="0.82"/><circle cx="91.4" cy="351" r="0.82"/><circle cx="87.8" cy="343.6" r="0.82"/><circle cx="82.7" cy="347.5" r="0.82"/><circle cx="81.1" cy="341" r="0.82"/><circle cx="88.3" cy="349.4" r="0.82"/><circle cx="88.4" cy="347.7" r="0.82"/><circle cx="88.7" cy="339.3" r="0.82"/><circle cx="77.2" cy="338.5" r="0.82"/><circle cx="76.3" cy="341.1" r="0.82"/><circle cx="82.1" cy="344.3" r="0.82"/><circle cx="77" cy="342.6" r="0.82"/><circle cx="87.3" cy="343.2" r="0.82"/><circle cx="84.9" cy="348.1" r="0.82"/><circle cx="80.5" cy="337.9" r="0.82"/><circle cx="86.3" cy="339" r="0.82"/><circle cx="80.3" cy="342.6" r="0.82"/><circle cx="87.7" cy="350.7" r="0.82"/><circle cx="79.8" cy="348.4" r="0.82"/><circle cx="82.1" cy="342.8" r="0.82"/><circle cx="79.4" cy="345.1" r="0.82"/><circle cx="79.9" cy="340" r="0.82"/><circle cx="86.2" cy="336.1" r="0.82"/><circle cx="85.6" cy="343.7" r="0.82"/><circle cx="79.5" cy="348.6" r="0.82"/><circle cx="75.2" cy="345.8" r="0.82"/><circle cx="89.3" cy="344.1" r="0.82"/><circle cx="79" cy="340.2" r="0.82"/><circle cx="90.9" cy="350.3" r="0.82"/><circle cx="82.5" cy="349.7" r="0.82"/><circle cx="79.5" cy="342.4" r="0.82"/><circle cx="74.2" cy="338.2" r="0.82"/><circle cx="80.9" cy="338" r="0.82"/><circle cx="84.2" cy="346.4" r="0.82"/><circle cx="80.7" cy="341.1" r="0.82"/><circle cx="84.1" cy="343.9" r="0.82"/><circle cx="78.4" cy="336.9" r="0.82"/><circle cx="84.5" cy="344.9" r="0.82"/><circle cx="77.8" cy="347.1" r="0.82"/><circle cx="88.5" cy="338" r="0.82"/><circle cx="88.7" cy="344.6" r="0.82"/><circle cx="85" cy="347.1" r="0.82"/><circle cx="76.9" cy="336.2" r="0.82"/><circle cx="78.9" cy="342.4" r="0.82"/><circle cx="73.5" cy="335.5" r="0.82"/><circle cx="80.3" cy="346.9" r="0.82"/><circle cx="86.3" cy="350" r="0.82"/><circle cx="86.5" cy="339.2" r="0.82"/><circle cx="87.9" cy="348.1" r="0.82"/><circle cx="83.5" cy="336.9" r="0.82"/><circle cx="81.1" cy="349.3" r="0.82"/><circle cx="85.7" cy="347.4" r="0.82"/><circle cx="77.2" cy="344.4" r="0.82"/><circle cx="85.5" cy="337.2" r="0.82"/><circle cx="88.3" cy="344" r="0.82"/><circle cx="83.5" cy="340.8" r="0.82"/><circle cx="87.6" cy="341.1" r="0.82"/><circle cx="85.9" cy="338" r="0.82"/><circle cx="83.1" cy="339.6" r="0.82"/><circle cx="82.7" cy="340.1" r="0.82"/><circle cx="86.5" cy="348.7" r="0.82"/><circle cx="87.1" cy="345.9" r="0.82"/><circle cx="83.8" cy="343.5" r="0.82"/><circle cx="84.1" cy="335.8" r="0.82"/><circle cx="76.1" cy="344.6" r="0.82"/><circle cx="87.4" cy="344.2" r="0.82"/><circle cx="78.2" cy="343.7" r="0.82"/><circle cx="79.4" cy="335.4" r="0.82"/><circle cx="78.7" cy="342.9" r="0.82"/><circle cx="78.9" cy="343.2" r="0.82"/><circle cx="82.6" cy="344.4" r="0.82"/><circle cx="74.2" cy="335.5" r="0.82"/><circle cx="82.9" cy="342.2" r="0.82"/><circle cx="78.1" cy="347" r="0.82"/><circle cx="79.6" cy="346.6" r="0.82"/><circle cx="82.3" cy="338.8" r="0.82"/><circle cx="83.8" cy="347.2" r="0.82"/><circle cx="88.1" cy="342.3" r="0.82"/><circle cx="78.9" cy="348.2" r="0.82"/><circle cx="81.4" cy="344.7" r="0.82"/><circle cx="78.4" cy="339.6" r="0.82"/><circle cx="87" cy="341.7" r="0.82"/><circle cx="81.1" cy="347.3" r="0.82"/><circle cx="80.7" cy="348.8" r="0.82"/><circle cx="74.5" cy="340.5" r="0.82"/><circle cx="81.8" cy="345.1" r="0.82"/><circle cx="80" cy="339.1" r="0.82"/><circle cx="80.4" cy="347.6" r="0.82"/><circle cx="73.4" cy="336.7" r="0.82"/><circle cx="85.7" cy="336.5" r="0.82"/><circle cx="90.1" cy="347.2" r="0.82"/><circle cx="84.5" cy="348.7" r="0.82"/><circle cx="86.2" cy="339.9" r="0.82"/><circle cx="89" cy="343.5" r="0.82"/><circle cx="89.7" cy="350.8" r="0.82"/><circle cx="75.9" cy="345.2" r="0.82"/><circle cx="88.3" cy="336.3" r="0.82"/><circle cx="86.9" cy="342.5" r="0.82"/><circle cx="75.7" cy="338.1" r="0.82"/><circle cx="77.1" cy="336.6" r="0.82"/><circle cx="89.4" cy="350.2" r="0.82"/><circle cx="83.3" cy="345.2" r="0.82"/><circle cx="79.6" cy="347.5" r="0.82"/><circle cx="82" cy="344.4" r="0.82"/><circle cx="78.4" cy="344.1" r="0.82"/><circle cx="85.3" cy="347.8" r="0.82"/><circle cx="86.9" cy="342.2" r="0.82"/><circle cx="87" cy="346.8" r="0.82"/><circle cx="85.7" cy="348.6" r="0.82"/><circle cx="89.5" cy="348.5" r="0.82"/><circle cx="83" cy="338.8" r="0.82"/><circle cx="79.8" cy="338" r="0.82"/><circle cx="85.9" cy="344.1" r="0.82"/><circle cx="75.8" cy="346.5" r="0.82"/><circle cx="75" cy="337.9" r="0.82"/><circle cx="85.9" cy="337.9" r="0.82"/><circle cx="88" cy="347.2" r="0.82"/><circle cx="83.3" cy="347.7" r="0.82"/><circle cx="89" cy="341.1" r="0.82"/><circle cx="75.7" cy="344.4" r="0.82"/><circle cx="88.3" cy="349.4" r="0.82"/><circle cx="79.7" cy="342.2" r="0.82"/><circle cx="88.7" cy="347.1" r="0.82"/><circle cx="79.3" cy="336.6" r="0.82"/><circle cx="87.3" cy="341.8" r="0.82"/><circle cx="89.6" cy="343.7" r="0.82"/><circle cx="82.6" cy="346.2" r="0.82"/><circle cx="82" cy="342.5" r="0.82"/><circle cx="86.1" cy="348.7" r="0.82"/><circle cx="83.3" cy="341.7" r="0.82"/><circle cx="103.6" cy="337.1" r="0.82"/><circle cx="103.2" cy="338.9" r="0.82"/><circle cx="111.1" cy="341.7" r="0.82"/><circle cx="108.5" cy="342.4" r="0.82"/><circle cx="99.4" cy="348.5" r="0.82"/><circle cx="100.3" cy="339.8" r="0.82"/><circle cx="107.7" cy="337" r="0.82"/><circle cx="101.2" cy="336.2" r="0.82"/><circle cx="99.2" cy="342.5" r="0.82"/><circle cx="107.1" cy="347.3" r="0.82"/><circle cx="102.2" cy="348.9" r="0.82"/><circle cx="101.2" cy="338.9" r="0.82"/><circle cx="95.3" cy="336" r="0.82"/><circle cx="102.9" cy="340.4" r="0.82"/><circle cx="103.1" cy="336.5" r="0.82"/><circle cx="95" cy="350.3" r="0.82"/><circle cx="101.6" cy="345.5" r="0.82"/><circle cx="98.6" cy="344.8" r="0.82"/><circle cx="109.9" cy="346.5" r="0.82"/><circle cx="105.2" cy="342.1" r="0.82"/><circle cx="96.4" cy="336.7" r="0.82"/><circle cx="95.9" cy="346.3" r="0.82"/><circle cx="94.8" cy="340" r="0.82"/><circle cx="105.2" cy="345.3" r="0.82"/><circle cx="97.4" cy="342.4" r="0.82"/><circle cx="95.3" cy="344.3" r="0.82"/><circle cx="108.6" cy="346.1" r="0.82"/><circle cx="103" cy="335.7" r="0.82"/><circle cx="105.9" cy="336.7" r="0.82"/><circle cx="97.7" cy="336" r="0.82"/><circle cx="110.5" cy="346.7" r="0.82"/><circle cx="107.1" cy="336.6" r="0.82"/><circle cx="95.2" cy="344.9" r="0.82"/><circle cx="107.1" cy="342" r="0.82"/><circle cx="110.8" cy="344.2" r="0.82"/><circle cx="99.7" cy="348.4" r="0.82"/><circle cx="96.2" cy="337.3" r="0.82"/><circle cx="96" cy="336.9" r="0.82"/><circle cx="107.9" cy="342" r="0.82"/><circle cx="111.9" cy="335.9" r="0.82"/><circle cx="96.3" cy="336.3" r="0.82"/><circle cx="99.5" cy="345.2" r="0.82"/><circle cx="110.6" cy="338.1" r="0.82"/><circle cx="104.8" cy="346.5" r="0.82"/><circle cx="93.5" cy="348.1" r="0.82"/><circle cx="96" cy="348" r="0.82"/><circle cx="102.3" cy="346.1" r="0.82"/><circle cx="95.2" cy="337.2" r="0.82"/><circle cx="103.4" cy="342.5" r="0.82"/><circle cx="95.2" cy="337.8" r="0.82"/><circle cx="112.3" cy="338.2" r="0.82"/><circle cx="111.2" cy="335.7" r="0.82"/><circle cx="98" cy="342.5" r="0.82"/><circle cx="98.9" cy="338.7" r="0.82"/><circle cx="94.4" cy="347.4" r="0.82"/><circle cx="99.7" cy="342.5" r="0.82"/><circle cx="101.2" cy="341.6" r="0.82"/><circle cx="108.8" cy="345.9" r="0.82"/><circle cx="103.2" cy="336" r="0.82"/><circle cx="97.4" cy="340.8" r="0.82"/><circle cx="106.1" cy="340.3" r="0.82"/><circle cx="104.8" cy="345" r="0.82"/><circle cx="105.7" cy="345.5" r="0.82"/><circle cx="95.5" cy="349.4" r="0.82"/><circle cx="101.9" cy="348.3" r="0.82"/><circle cx="96.4" cy="346.3" r="0.82"/><circle cx="98.1" cy="344.5" r="0.82"/><circle cx="101.9" cy="344.7" r="0.82"/><circle cx="101.8" cy="338.2" r="0.82"/><circle cx="101.3" cy="343" r="0.82"/><circle cx="97.7" cy="348.1" r="0.82"/><circle cx="95.2" cy="349.6" r="0.82"/><circle cx="96.4" cy="350.4" r="0.82"/><circle cx="99" cy="342" r="0.82"/><circle cx="99.7" cy="341.2" r="0.82"/><circle cx="99.3" cy="338.5" r="0.82"/><circle cx="104.9" cy="349.1" r="0.82"/><circle cx="101.8" cy="346.8" r="0.82"/><circle cx="106.5" cy="345.2" r="0.82"/><circle cx="95.3" cy="350.5" r="0.82"/><circle cx="95.8" cy="336.4" r="0.82"/><circle cx="99.3" cy="340.3" r="0.82"/><circle cx="107.4" cy="335.7" r="0.82"/><circle cx="97.1" cy="349.7" r="0.82"/><circle cx="96.1" cy="341.3" r="0.82"/><circle cx="96.1" cy="337" r="0.82"/><circle cx="102.7" cy="344.7" r="0.82"/><circle cx="93.1" cy="350.1" r="0.82"/><circle cx="95.2" cy="341.3" r="0.82"/><circle cx="96.5" cy="344.5" r="0.82"/><circle cx="103.2" cy="339.4" r="0.82"/><circle cx="104.8" cy="344.2" r="0.82"/><circle cx="97.4" cy="341.2" r="0.82"/><circle cx="99.9" cy="336.4" r="0.82"/><circle cx="101.4" cy="341.8" r="0.82"/><circle cx="104.5" cy="343.4" r="0.82"/><circle cx="100.6" cy="340.6" r="0.82"/><circle cx="103" cy="335.3" r="0.82"/><circle cx="96.8" cy="343.2" r="0.82"/><circle cx="112.3" cy="338.2" r="0.82"/><circle cx="102" cy="346.2" r="0.82"/><circle cx="94.6" cy="344.5" r="0.82"/><circle cx="99.2" cy="344.2" r="0.82"/><circle cx="95.9" cy="343.5" r="0.82"/><circle cx="102.4" cy="349.4" r="0.82"/><circle cx="104.4" cy="339.9" r="0.82"/><circle cx="94.9" cy="347.1" r="0.82"/><circle cx="104.8" cy="344.5" r="0.82"/><circle cx="102.7" cy="341.5" r="0.82"/><circle cx="92.8" cy="350.2" r="0.82"/><circle cx="100.9" cy="336.5" r="0.82"/><circle cx="105.5" cy="344" r="0.82"/><circle cx="96" cy="348.9" r="0.82"/><circle cx="104.1" cy="339" r="0.82"/><circle cx="98.5" cy="349.7" r="0.82"/><circle cx="96.3" cy="339.9" r="0.82"/><circle cx="107.1" cy="344.7" r="0.82"/><circle cx="110" cy="344.9" r="0.82"/><circle cx="110.1" cy="339.9" r="0.82"/><circle cx="98.6" cy="343.4" r="0.82"/><circle cx="101.4" cy="346.9" r="0.82"/><circle cx="111.2" cy="339.7" r="0.82"/><circle cx="109.3" cy="337.3" r="0.82"/><circle cx="96.9" cy="341.9" r="0.82"/><circle cx="99" cy="347.6" r="0.82"/><circle cx="104.6" cy="346.3" r="0.82"/><circle cx="100.1" cy="337.3" r="0.82"/><circle cx="95.5" cy="336.8" r="0.82"/><circle cx="107.8" cy="336.1" r="0.82"/><circle cx="98.3" cy="343" r="0.82"/><circle cx="97.1" cy="345.5" r="0.82"/><circle cx="111.8" cy="335.8" r="0.82"/><circle cx="100.5" cy="340.6" r="0.82"/><circle cx="110.6" cy="344.2" r="0.82"/><circle cx="110.9" cy="338.5" r="0.82"/><circle cx="96.4" cy="345.4" r="0.82"/><circle cx="105.1" cy="348.4" r="0.82"/><circle cx="95.9" cy="348" r="0.82"/><circle cx="100.9" cy="339.3" r="0.82"/><circle cx="105" cy="344.1" r="0.82"/><circle cx="101.2" cy="349" r="0.82"/><circle cx="95.7" cy="345.6" r="0.82"/><circle cx="97.8" cy="340.7" r="0.82"/><circle cx="95.6" cy="347.3" r="0.82"/><circle cx="109.7" cy="338.7" r="0.82"/><circle cx="111.2" cy="338.8" r="0.82"/><circle cx="94.9" cy="343.3" r="0.82"/><circle cx="108.7" cy="338.3" r="0.82"/><circle cx="95.4" cy="343.4" r="0.82"/><circle cx="95.7" cy="339.4" r="0.82"/><circle cx="104.6" cy="344" r="0.82"/><circle cx="102.3" cy="342.7" r="0.82"/><circle cx="97.6" cy="349.7" r="0.82"/><circle cx="106.4" cy="338.9" r="0.82"/><circle cx="99.4" cy="338.9" r="0.82"/><circle cx="108.5" cy="340.1" r="0.82"/><circle cx="108" cy="335.8" r="0.82"/><circle cx="99.7" cy="338.8" r="0.82"/><circle cx="102.7" cy="349.6" r="0.82"/><circle cx="106.1" cy="345.7" r="0.82"/><circle cx="98.2" cy="346.7" r="0.82"/><circle cx="108.1" cy="340.9" r="0.82"/><circle cx="96.7" cy="339.4" r="0.82"/><circle cx="103.1" cy="339" r="0.82"/><circle cx="103.4" cy="335.5" r="0.82"/><circle cx="105.2" cy="343.7" r="0.82"/><circle cx="102.8" cy="342.1" r="0.82"/><circle cx="96.4" cy="346.2" r="0.82"/><circle cx="107.8" cy="338.2" r="0.82"/><circle cx="112.1" cy="340.2" r="0.82"/><circle cx="100.9" cy="344.8" r="0.82"/><circle cx="105.5" cy="340.8" r="0.82"/><circle cx="111.5" cy="339.3" r="0.82"/><circle cx="98.3" cy="346.6" r="0.82"/><circle cx="99.2" cy="344.8" r="0.82"/><circle cx="110.3" cy="346.6" r="0.82"/><circle cx="106.4" cy="339.1" r="0.82"/><circle cx="104.4" cy="341.6" r="0.82"/><circle cx="95.8" cy="340.4" r="0.82"/><circle cx="102.6" cy="335.8" r="0.82"/><circle cx="55.2" cy="346.2" r="0.82"/><circle cx="66.5" cy="340" r="0.82"/><circle cx="70.7" cy="339.6" r="0.82"/><circle cx="70.7" cy="346.2" r="0.82"/><circle cx="116.2" cy="340" r="0.82"/><circle cx="123.4" cy="341" r="0.82"/><circle cx="118.2" cy="347.2" r="0.82"/><circle cx="123.4" cy="340.5" r="0.82"/><circle cx="34.5" cy="344.1" r="0.82"/><circle cx="54.5" cy="346.6" r="0.82"/><circle cx="70.3" cy="345.8" r="0.82"/><circle cx="66.7" cy="339.8" r="0.82"/><circle cx="71" cy="339.4" r="0.82"/><circle cx="113" cy="343" r="0.82"/><circle cx="112" cy="338" r="0.82"/><circle cx="71" cy="342" r="0.82"/></g>
<g fill="#d8d8d8" stroke="#1a1a1a" stroke-width="0.35"><circle cx="88.6" cy="346.1" r="0.8"/><circle cx="88.2" cy="347.7" r="0.8"/><circle cx="83.7" cy="346.2" r="0.8"/><circle cx="102.1" cy="350.4" r="0.8"/><circle cx="85.1" cy="346.7" r="0.8"/><circle cx="89.8" cy="349.4" r="0.8"/><circle cx="84.3" cy="347.5" r="0.8"/><circle cx="89.9" cy="350.4" r="0.8"/><circle cx="92.3" cy="350.7" r="0.8"/><circle cx="88.3" cy="347.6" r="0.8"/><circle cx="90.1" cy="349.4" r="0.8"/><circle cx="84.4" cy="347.9" r="0.8"/><circle cx="82.2" cy="345.7" r="0.8"/><circle cx="89" cy="348.4" r="0.8"/><circle cx="87.9" cy="349.5" r="0.8"/><circle cx="92.5" cy="349" r="0.8"/><circle cx="81.5" cy="348.8" r="0.8"/><circle cx="83" cy="348.5" r="0.8"/><circle cx="93.8" cy="348.7" r="0.8"/><circle cx="89.5" cy="349.3" r="0.8"/><circle cx="85.3" cy="346.8" r="0.8"/><circle cx="86.4" cy="348.2" r="0.8"/><circle cx="81.9" cy="347.2" r="0.8"/><circle cx="85.9" cy="351.1" r="0.8"/><circle cx="81.2" cy="347.5" r="0.8"/><circle cx="99.2" cy="351.5" r="0.8"/><circle cx="104" cy="348.6" r="0.8"/><circle cx="99.2" cy="349.4" r="0.8"/><circle cx="87.4" cy="350.4" r="0.8"/><circle cx="86.2" cy="350.6" r="0.8"/><circle cx="89.4" cy="348.3" r="0.8"/><circle cx="98.3" cy="350.8" r="0.8"/><circle cx="106" cy="346.5" r="0.8"/><circle cx="102.9" cy="347.8" r="0.8"/><circle cx="89.3" cy="347.4" r="0.8"/><circle cx="106.4" cy="346.8" r="0.8"/><circle cx="93" cy="349" r="0.8"/><circle cx="97.1" cy="346.8" r="0.8"/><circle cx="85.4" cy="346.9" r="0.8"/><circle cx="86.3" cy="350" r="0.8"/><circle cx="104.6" cy="346.7" r="0.8"/><circle cx="98" cy="351.6" r="0.8"/><circle cx="89.2" cy="347.8" r="0.8"/><circle cx="79.3" cy="346.4" r="0.8"/><circle cx="86.6" cy="348.2" r="0.8"/><circle cx="86.6" cy="348.6" r="0.8"/><circle cx="95.4" cy="351.1" r="0.8"/><circle cx="94.6" cy="350.6" r="0.8"/><circle cx="85.9" cy="347.8" r="0.8"/><circle cx="103.3" cy="345.7" r="0.8"/><circle cx="94.5" cy="349.6" r="0.8"/><circle cx="100.4" cy="349.8" r="0.8"/><circle cx="86" cy="347.3" r="0.8"/><circle cx="87.3" cy="349" r="0.8"/><circle cx="80.9" cy="346.1" r="0.8"/><circle cx="89.9" cy="347.6" r="0.8"/><circle cx="91" cy="348.1" r="0.8"/><circle cx="101.7" cy="347.2" r="0.8"/><circle cx="81.8" cy="349.2" r="0.8"/><circle cx="94.9" cy="350.1" r="0.8"/><circle cx="96.2" cy="348.2" r="0.8"/><circle cx="95.9" cy="349.3" r="0.8"/><circle cx="85" cy="350.1" r="0.8"/><circle cx="99.6" cy="349.1" r="0.8"/><circle cx="100" cy="350.9" r="0.8"/><circle cx="84.8" cy="346.7" r="0.8"/><circle cx="105.4" cy="346.4" r="0.8"/><circle cx="82.8" cy="346" r="0.8"/><circle cx="86.8" cy="346.8" r="0.8"/><circle cx="85.4" cy="347.5" r="0.8"/><circle cx="82.3" cy="346.4" r="0.8"/><circle cx="85.3" cy="349.1" r="0.8"/><circle cx="89.1" cy="350.2" r="0.8"/><circle cx="84.2" cy="350.9" r="0.8"/><circle cx="104.9" cy="347.5" r="0.8"/><circle cx="82" cy="346.1" r="0.8"/><circle cx="93.5" cy="350.6" r="0.8"/><circle cx="100.8" cy="348.3" r="0.8"/><circle cx="94" cy="346.1" r="0.8"/><circle cx="100.1" cy="348" r="0.8"/><circle cx="88.1" cy="348.9" r="0.8"/><circle cx="85.7" cy="349.5" r="0.8"/><circle cx="97.5" cy="348.7" r="0.8"/><circle cx="100.9" cy="349.2" r="0.8"/><circle cx="89.6" cy="350.9" r="0.8"/></g>
<g fill="#1c7c1c" stroke="#001800" stroke-width="0.3"><circle cx="82.5" cy="328.3" r="0.82"/><circle cx="83.8" cy="335.2" r="0.82"/><circle cx="84.2" cy="330.2" r="0.82"/><circle cx="81.2" cy="331.4" r="0.82"/><circle cx="84.9" cy="329.3" r="0.82"/><circle cx="86.8" cy="331.1" r="0.82"/><circle cx="85.7" cy="330.3" r="0.82"/><circle cx="79.5" cy="330.8" r="0.82"/><circle cx="78.4" cy="329.6" r="0.82"/><circle cx="82.8" cy="328" r="0.82"/><circle cx="75" cy="332.5" r="0.82"/><circle cx="76.6" cy="333.7" r="0.82"/><circle cx="80.1" cy="335.3" r="0.82"/><circle cx="77.1" cy="331.5" r="0.82"/><circle cx="83.2" cy="331" r="0.82"/><circle cx="84.4" cy="333.7" r="0.82"/><circle cx="79.4" cy="329.6" r="0.82"/><circle cx="87.9" cy="333.3" r="0.82"/><circle cx="75.1" cy="333.2" r="0.82"/><circle cx="85.4" cy="330.1" r="0.82"/><circle cx="84.4" cy="325.7" r="0.82"/><circle cx="74.1" cy="334.5" r="0.82"/><circle cx="86.3" cy="334.2" r="0.82"/><circle cx="83.4" cy="333.2" r="0.82"/><circle cx="79.7" cy="326.5" r="0.82"/><circle cx="87.8" cy="335.2" r="0.82"/><circle cx="87.4" cy="332.9" r="0.82"/><circle cx="87.2" cy="331.7" r="0.82"/><circle cx="84.5" cy="328.4" r="0.82"/><circle cx="83.7" cy="329.4" r="0.82"/><circle cx="87.3" cy="329.7" r="0.82"/><circle cx="87.2" cy="334.2" r="0.82"/><circle cx="78.2" cy="334.9" r="0.82"/><circle cx="80.7" cy="335.2" r="0.82"/><circle cx="78.7" cy="327.6" r="0.82"/><circle cx="85.1" cy="335.3" r="0.82"/><circle cx="80.6" cy="332.4" r="0.82"/><circle cx="85" cy="327.4" r="0.82"/><circle cx="83.6" cy="331.6" r="0.82"/><circle cx="85.2" cy="328.4" r="0.82"/><circle cx="76.5" cy="332" r="0.82"/><circle cx="83.7" cy="327.5" r="0.82"/><circle cx="79.2" cy="327.2" r="0.82"/><circle cx="82.1" cy="332.1" r="0.82"/><circle cx="84.6" cy="335.3" r="0.82"/><circle cx="75.1" cy="335.2" r="0.82"/><circle cx="84.6" cy="327.7" r="0.82"/><circle cx="79.8" cy="329" r="0.82"/><circle cx="82.7" cy="334.8" r="0.82"/><circle cx="77" cy="328" r="0.82"/><circle cx="82.9" cy="330.3" r="0.82"/><circle cx="77.5" cy="331" r="0.82"/><circle cx="82.9" cy="331.1" r="0.82"/><circle cx="78.7" cy="328.3" r="0.82"/><circle cx="84.9" cy="327.8" r="0.82"/><circle cx="84.4" cy="329" r="0.82"/><circle cx="84.3" cy="326.3" r="0.82"/><circle cx="84.3" cy="332.5" r="0.82"/><circle cx="83.5" cy="329.8" r="0.82"/><circle cx="75.2" cy="335" r="0.82"/><circle cx="75.9" cy="330.2" r="0.82"/><circle cx="79" cy="328.1" r="0.82"/><circle cx="83.7" cy="334.6" r="0.82"/><circle cx="78.9" cy="333.8" r="0.82"/><circle cx="82.6" cy="330.8" r="0.82"/><circle cx="84.5" cy="331.1" r="0.82"/><circle cx="83.2" cy="325.2" r="0.82"/><circle cx="80.5" cy="325.3" r="0.82"/><circle cx="75.6" cy="334.1" r="0.82"/><circle cx="78.1" cy="332.2" r="0.82"/><circle cx="81" cy="330.3" r="0.82"/><circle cx="78.6" cy="333" r="0.82"/><circle cx="79.7" cy="332.3" r="0.82"/><circle cx="77.9" cy="331" r="0.82"/><circle cx="80.3" cy="325" r="0.82"/><circle cx="85.6" cy="335.3" r="0.82"/><circle cx="75.8" cy="330.7" r="0.82"/><circle cx="80.2" cy="327.1" r="0.82"/><circle cx="75.9" cy="332.2" r="0.82"/><circle cx="78.8" cy="327.1" r="0.82"/><circle cx="84.5" cy="331.8" r="0.82"/><circle cx="84.5" cy="332.6" r="0.82"/><circle cx="83.9" cy="326.9" r="0.82"/><circle cx="77.7" cy="330.3" r="0.82"/><circle cx="80.3" cy="333" r="0.82"/><circle cx="78.2" cy="326.6" r="0.82"/><circle cx="84.3" cy="331" r="0.82"/><circle cx="86.3" cy="333.5" r="0.82"/><circle cx="76.6" cy="329.4" r="0.82"/><circle cx="83.3" cy="329.4" r="0.82"/><circle cx="86.7" cy="335.3" r="0.82"/><circle cx="84.6" cy="330.1" r="0.82"/><circle cx="86.7" cy="330.5" r="0.82"/><circle cx="85" cy="333.4" r="0.82"/><circle cx="78.6" cy="332.4" r="0.82"/><circle cx="78.6" cy="328.1" r="0.82"/><circle cx="84.4" cy="335.2" r="0.82"/><circle cx="76.8" cy="330.4" r="0.82"/><circle cx="81.3" cy="328.9" r="0.82"/><circle cx="81.8" cy="326.2" r="0.82"/><circle cx="80.7" cy="331.9" r="0.82"/><circle cx="81" cy="335.3" r="0.82"/><circle cx="80.6" cy="331.9" r="0.82"/><circle cx="81.4" cy="327.1" r="0.82"/><circle cx="87.3" cy="327" r="0.82"/><circle cx="85.2" cy="333.5" r="0.82"/><circle cx="88" cy="334.7" r="0.82"/><circle cx="85.8" cy="330.7" r="0.82"/><circle cx="75" cy="334.2" r="0.82"/><circle cx="85.5" cy="332.3" r="0.82"/><circle cx="80.3" cy="332.5" r="0.82"/><circle cx="79.8" cy="334.3" r="0.82"/><circle cx="78.9" cy="334.5" r="0.82"/><circle cx="79.5" cy="334.3" r="0.82"/><circle cx="83.9" cy="335" r="0.82"/><circle cx="87.7" cy="332.5" r="0.82"/><circle cx="78.4" cy="329.4" r="0.82"/><circle cx="81.2" cy="330.9" r="0.82"/><circle cx="80.1" cy="331" r="0.82"/><circle cx="84.1" cy="327.1" r="0.82"/><circle cx="85.4" cy="332" r="0.82"/><circle cx="79.7" cy="325.5" r="0.82"/><circle cx="84.8" cy="331.7" r="0.82"/><circle cx="84" cy="333.8" r="0.82"/><circle cx="84.6" cy="327.6" r="0.82"/><circle cx="86.7" cy="331.2" r="0.82"/><circle cx="85.6" cy="330.1" r="0.82"/><circle cx="78" cy="334.6" r="0.82"/><circle cx="82.8" cy="334" r="0.82"/><circle cx="80.2" cy="329" r="0.82"/><circle cx="86.3" cy="333.7" r="0.82"/><circle cx="85.3" cy="332.7" r="0.82"/><circle cx="77.7" cy="332.1" r="0.82"/><circle cx="83.2" cy="333.9" r="0.82"/><circle cx="83.1" cy="325.6" r="0.82"/><circle cx="87.6" cy="332.1" r="0.82"/><circle cx="86.6" cy="327" r="0.82"/><circle cx="85.3" cy="331.1" r="0.82"/><circle cx="82.3" cy="327.5" r="0.82"/><circle cx="78.9" cy="328.2" r="0.82"/><circle cx="85.8" cy="333.5" r="0.82"/><circle cx="81" cy="335.1" r="0.82"/><circle cx="82.7" cy="332.4" r="0.82"/><circle cx="87.7" cy="330.4" r="0.82"/><circle cx="78" cy="334.6" r="0.82"/><circle cx="87.6" cy="328.9" r="0.82"/><circle cx="83" cy="327.6" r="0.82"/><circle cx="83.9" cy="325.2" r="0.82"/><circle cx="76.2" cy="332.8" r="0.82"/><circle cx="82" cy="330" r="0.82"/><circle cx="83.3" cy="327.3" r="0.82"/><circle cx="79.2" cy="327.3" r="0.82"/><circle cx="85.9" cy="330.9" r="0.82"/><circle cx="81.9" cy="330" r="0.82"/><circle cx="83.3" cy="334.3" r="0.82"/><circle cx="76.5" cy="330.3" r="0.82"/><circle cx="78.6" cy="328.2" r="0.82"/><circle cx="80.6" cy="326.1" r="0.82"/><circle cx="87.9" cy="332.7" r="0.82"/><circle cx="86.9" cy="329.4" r="0.82"/><circle cx="86.3" cy="335.2" r="0.82"/><circle cx="87.2" cy="334.1" r="0.82"/><circle cx="81.9" cy="331.4" r="0.82"/><circle cx="83.1" cy="335.3" r="0.82"/><circle cx="82.1" cy="333.4" r="0.82"/><circle cx="87.6" cy="335" r="0.82"/><circle cx="87.1" cy="332" r="0.82"/><circle cx="86.9" cy="331.4" r="0.82"/><circle cx="86.9" cy="328.3" r="0.82"/><circle cx="76.2" cy="332.8" r="0.82"/><circle cx="105.3" cy="331.8" r="0.82"/><circle cx="107.9" cy="334.5" r="0.82"/><circle cx="100" cy="331.5" r="0.82"/><circle cx="107" cy="332.7" r="0.82"/><circle cx="97.5" cy="335.2" r="0.82"/><circle cx="96.8" cy="334.5" r="0.82"/><circle cx="108.6" cy="333.3" r="0.82"/><circle cx="98.7" cy="326.8" r="0.82"/><circle cx="104.1" cy="332.2" r="0.82"/><circle cx="95.8" cy="332.8" r="0.82"/><circle cx="99.7" cy="326.8" r="0.82"/><circle cx="97.6" cy="335.1" r="0.82"/><circle cx="108" cy="335" r="0.82"/><circle cx="105.9" cy="330.7" r="0.82"/><circle cx="97.8" cy="328.3" r="0.82"/><circle cx="99.9" cy="326.7" r="0.82"/><circle cx="101.9" cy="327.1" r="0.82"/><circle cx="108.6" cy="332.7" r="0.82"/><circle cx="104.2" cy="329.4" r="0.82"/><circle cx="103.5" cy="335.2" r="0.82"/><circle cx="104.1" cy="329" r="0.82"/><circle cx="96.7" cy="334.8" r="0.82"/><circle cx="104.9" cy="332.3" r="0.82"/><circle cx="96.6" cy="332.3" r="0.82"/><circle cx="102.7" cy="328" r="0.82"/><circle cx="107.9" cy="333.1" r="0.82"/><circle cx="104.1" cy="330.2" r="0.82"/><circle cx="103" cy="328.4" r="0.82"/><circle cx="103.7" cy="334.8" r="0.82"/><circle cx="96.4" cy="330.2" r="0.82"/><circle cx="97.8" cy="331.7" r="0.82"/><circle cx="101" cy="327.2" r="0.82"/><circle cx="98.1" cy="327.7" r="0.82"/><circle cx="104.7" cy="331" r="0.82"/><circle cx="105.2" cy="331.2" r="0.82"/><circle cx="95.3" cy="334" r="0.82"/><circle cx="103.4" cy="334.7" r="0.82"/><circle cx="103.3" cy="333" r="0.82"/><circle cx="99.2" cy="328.4" r="0.82"/><circle cx="100.1" cy="331.3" r="0.82"/><circle cx="102.7" cy="334.9" r="0.82"/><circle cx="108.1" cy="335.1" r="0.82"/><circle cx="95.9" cy="330.1" r="0.82"/><circle cx="96.8" cy="329.1" r="0.82"/><circle cx="104.1" cy="334.4" r="0.82"/><circle cx="106.1" cy="331.8" r="0.82"/><circle cx="104.2" cy="334.9" r="0.82"/><circle cx="99" cy="329.6" r="0.82"/><circle cx="98.9" cy="334.4" r="0.82"/><circle cx="100.3" cy="334.5" r="0.82"/><circle cx="100.5" cy="334.8" r="0.82"/><circle cx="104.8" cy="334" r="0.82"/><circle cx="108.7" cy="334.8" r="0.82"/><circle cx="103.1" cy="330.2" r="0.82"/><circle cx="96.8" cy="330.4" r="0.82"/><circle cx="101.7" cy="330.5" r="0.82"/><circle cx="96.6" cy="331.8" r="0.82"/><circle cx="106.8" cy="330.5" r="0.82"/><circle cx="97.3" cy="333.1" r="0.82"/><circle cx="107.6" cy="335.1" r="0.82"/><circle cx="100.6" cy="331.5" r="0.82"/><circle cx="99.9" cy="335.3" r="0.82"/><circle cx="100.2" cy="333.4" r="0.82"/><circle cx="100.2" cy="335.1" r="0.82"/><circle cx="105.4" cy="334.1" r="0.82"/><circle cx="98.3" cy="334.9" r="0.82"/><circle cx="98.3" cy="331.4" r="0.82"/><circle cx="105.3" cy="331.5" r="0.82"/><circle cx="102" cy="335.1" r="0.82"/><circle cx="96.1" cy="329.9" r="0.82"/><circle cx="95.4" cy="335.1" r="0.82"/><circle cx="101.8" cy="330.7" r="0.82"/><circle cx="95.9" cy="333.1" r="0.82"/><circle cx="99" cy="329.3" r="0.82"/><circle cx="105.8" cy="329.7" r="0.82"/><circle cx="96.6" cy="332" r="0.82"/><circle cx="108.3" cy="334.3" r="0.82"/><circle cx="98.7" cy="330.5" r="0.82"/><circle cx="109.9" cy="335.2" r="0.82"/><circle cx="104.1" cy="332" r="0.82"/><circle cx="101.4" cy="328.2" r="0.82"/><circle cx="98.3" cy="329.1" r="0.82"/><circle cx="104.6" cy="332.4" r="0.82"/><circle cx="96.3" cy="329" r="0.82"/><circle cx="104.3" cy="331" r="0.82"/><circle cx="97.3" cy="329.8" r="0.82"/><circle cx="106.3" cy="333.6" r="0.82"/><circle cx="108.1" cy="333.2" r="0.82"/><circle cx="105.8" cy="332.8" r="0.82"/><circle cx="100.3" cy="330.8" r="0.82"/><circle cx="106.2" cy="332.4" r="0.82"/><circle cx="108" cy="334" r="0.82"/><circle cx="101.3" cy="334.5" r="0.82"/><circle cx="96.5" cy="333.4" r="0.82"/><circle cx="102.9" cy="332.5" r="0.82"/><circle cx="106.1" cy="331.2" r="0.82"/><circle cx="104" cy="334.9" r="0.82"/><circle cx="98.4" cy="335.2" r="0.82"/><circle cx="96.1" cy="330.7" r="0.82"/><circle cx="99.1" cy="329.9" r="0.82"/><circle cx="99.4" cy="326.6" r="0.82"/><circle cx="105.4" cy="333.5" r="0.82"/><circle cx="98.4" cy="331.4" r="0.82"/><circle cx="107" cy="334.8" r="0.82"/><circle cx="102.5" cy="332.4" r="0.82"/><circle cx="99.2" cy="332.4" r="0.82"/><circle cx="104.6" cy="332.1" r="0.82"/><circle cx="104.6" cy="327.8" r="0.82"/><circle cx="95.7" cy="335.2" r="0.82"/><circle cx="108.8" cy="334.2" r="0.82"/><circle cx="106.4" cy="332.5" r="0.82"/><circle cx="97.1" cy="335.3" r="0.82"/><circle cx="99.8" cy="330.7" r="0.82"/><circle cx="95.4" cy="335.3" r="0.82"/><circle cx="97.9" cy="327.8" r="0.82"/><circle cx="105.2" cy="333.7" r="0.82"/><circle cx="99.5" cy="332.4" r="0.82"/><circle cx="104.5" cy="333.5" r="0.82"/><circle cx="98.8" cy="331.6" r="0.82"/><circle cx="97.2" cy="332.2" r="0.82"/><circle cx="105.2" cy="331.6" r="0.82"/><circle cx="102.1" cy="333.9" r="0.82"/><circle cx="99.2" cy="331" r="0.82"/><circle cx="98.9" cy="334.2" r="0.82"/><circle cx="107.5" cy="335" r="0.82"/><circle cx="108.1" cy="334.8" r="0.82"/><circle cx="101.8" cy="331.2" r="0.82"/><circle cx="99.6" cy="330.4" r="0.82"/><circle cx="107.7" cy="333.2" r="0.82"/><circle cx="95.4" cy="334.1" r="0.82"/><circle cx="107.6" cy="330.7" r="0.82"/><circle cx="105.3" cy="332.6" r="0.82"/><circle cx="98.4" cy="329.8" r="0.82"/><circle cx="102" cy="327.4" r="0.82"/><circle cx="96.4" cy="333" r="0.82"/><circle cx="104.2" cy="327.5" r="0.82"/><circle cx="100.4" cy="328.8" r="0.82"/><circle cx="95.9" cy="330.3" r="0.82"/><circle cx="98.4" cy="329.7" r="0.82"/><circle cx="98" cy="334.2" r="0.82"/><circle cx="69.5" cy="326.7" r="0.82"/><circle cx="69.7" cy="329.7" r="0.82"/><circle cx="69.7" cy="333.2" r="0.82"/><circle cx="73.5" cy="325.1" r="0.82"/><circle cx="73.6" cy="325" r="0.82"/><circle cx="76.8" cy="318.2" r="0.82"/><circle cx="68.8" cy="322.5" r="0.82"/><circle cx="69.8" cy="329.6" r="0.82"/><circle cx="73.2" cy="318.7" r="0.82"/><circle cx="80.1" cy="320.4" r="0.82"/><circle cx="67.2" cy="326.2" r="0.82"/><circle cx="77.9" cy="322.7" r="0.82"/><circle cx="81.9" cy="318.9" r="0.82"/><circle cx="71.7" cy="320.9" r="0.82"/><circle cx="84.5" cy="319.6" r="0.82"/><circle cx="69.7" cy="321.9" r="0.82"/><circle cx="107.8" cy="326.9" r="0.82"/><circle cx="112.3" cy="327.2" r="0.82"/><circle cx="112" cy="325.4" r="0.82"/><circle cx="111.2" cy="330.2" r="0.82"/><circle cx="103.9" cy="324.1" r="0.82"/><circle cx="109.4" cy="332" r="0.82"/><circle cx="98.5" cy="323.6" r="0.82"/><circle cx="100" cy="322.1" r="0.82"/><circle cx="103.6" cy="323.7" r="0.82"/><circle cx="111.4" cy="325.6" r="0.82"/><circle cx="105.2" cy="325.8" r="0.82"/><circle cx="113.5" cy="332.9" r="0.82"/><circle cx="109.6" cy="329.4" r="0.82"/><circle cx="113.5" cy="332.1" r="0.82"/><circle cx="107.8" cy="323.1" r="0.82"/><circle cx="107.9" cy="323.5" r="0.82"/></g>
<g fill="#1c7c1c" stroke="#001800" stroke-width="0.3"><circle cx="62.6" cy="249.4" r="0.78"/><circle cx="189.9" cy="253.2" r="0.78"/><circle cx="61.7" cy="270.6" r="0.78"/><circle cx="72.6" cy="297.1" r="0.78"/><circle cx="81.2" cy="294.6" r="0.78"/><circle cx="91.8" cy="306.9" r="0.78"/><circle cx="102.3" cy="315.2" r="0.78"/><circle cx="115.8" cy="306.9" r="0.78"/><circle cx="100" cy="313.5" r="0.78"/><circle cx="21.4" cy="315.8" r="0.78"/><circle cx="48.8" cy="315" r="0.78"/><circle cx="33.8" cy="334.8" r="0.78"/><circle cx="66.1" cy="318.9" r="0.78"/><circle cx="70.7" cy="318.7" r="0.78"/><circle cx="81" cy="316.2" r="0.78"/><circle cx="82" cy="318.3" r="0.78"/><circle cx="86.2" cy="319.7" r="0.78"/><circle cx="129.6" cy="318.7" r="0.78"/><circle cx="135.2" cy="322.8" r="0.78"/><circle cx="129.6" cy="328" r="0.78"/><circle cx="122.8" cy="330.2" r="0.78"/><circle cx="122.8" cy="335.4" r="0.78"/><circle cx="64.5" cy="331.7" r="0.78"/><circle cx="108.9" cy="324.5" r="0.78"/><circle cx="113.1" cy="324.5" r="0.78"/><circle cx="116.2" cy="324.5" r="0.78"/><circle cx="117.2" cy="329" r="0.78"/><circle cx="130" cy="319" r="0.78"/><circle cx="135.2" cy="323.1" r="0.78"/><circle cx="130" cy="328.3" r="0.78"/><circle cx="127.7" cy="330.6" r="0.78"/><circle cx="123.4" cy="330" r="0.78"/><circle cx="123.4" cy="335.3" r="0.78"/><circle cx="76" cy="322" r="0.78"/><circle cx="78" cy="325" r="0.78"/><circle cx="106" cy="321" r="0.78"/></g>
<line x1="65.5" y1="249.4" x2="62.6" y2="249.4" stroke="#333" stroke-width="0.35"/>
<circle cx="62.6" cy="249.4" r="0.8" fill="#1c7c1c" stroke="#111" stroke-width="0.3"/>
<rect x="65.5" y="246.3" width="18.2" height="4" rx="0.6" fill="#fff" stroke="#6a6a6a" stroke-width="0.45"/>
<text x="74.6" y="249.5" font-size="3.3" text-anchor="middle" fill="#111" stroke="#111" stroke-width="0.03" textLength="16.4" lengthAdjust="spacingAndGlyphs">LRRC37A2</text>
<line x1="189.9" y1="250.2" x2="189.9" y2="253.2" stroke="#333" stroke-width="0.35"/>
<circle cx="189.9" cy="253.2" r="0.8" fill="#1c7c1c" stroke="#111" stroke-width="0.3"/>
<rect x="185.5" y="246.6" width="10.7" height="3.6" rx="0.6" fill="#fff" stroke="#6a6a6a" stroke-width="0.45"/>
<text x="190.8" y="249.6" font-size="3.3" text-anchor="middle" fill="#111" stroke="#111" stroke-width="0.03" textLength="8.9" lengthAdjust="spacingAndGlyphs">IGSF</text>
<line x1="61.7" y1="273.6" x2="61.7" y2="270.6" stroke="#333" stroke-width="0.35"/>
<circle cx="61.7" cy="270.6" r="0.8" fill="#1c7c1c" stroke="#111" stroke-width="0.3"/>
<rect x="42.3" y="273.6" width="22.3" height="4" rx="0.6" fill="#fff" stroke="#6a6a6a" stroke-width="0.45"/>
<text x="53.4" y="276.8" font-size="3.3" text-anchor="middle" fill="#111" stroke="#111" stroke-width="0.03" textLength="20.5" lengthAdjust="spacingAndGlyphs">KANSL1-AS1</text>
<line x1="70.9" y1="293.8" x2="72.6" y2="297.1" stroke="#333" stroke-width="0.35"/>
<circle cx="72.6" cy="297.1" r="0.8" fill="#1c7c1c" stroke="#111" stroke-width="0.3"/>
<rect x="56.9" y="289.7" width="14" height="4.1" rx="0.6" fill="#fff" stroke="#6a6a6a" stroke-width="0.45"/>
<text x="63.9" y="292.9" font-size="3.3" text-anchor="middle" fill="#111" stroke="#111" stroke-width="0.03" textLength="12.2" lengthAdjust="spacingAndGlyphs">MAPT-AS1</text>
<line x1="81.5" y1="292.2" x2="81.2" y2="294.6" stroke="#333" stroke-width="0.35"/>
<circle cx="81.2" cy="294.6" r="0.8" fill="#1c7c1c" stroke="#111" stroke-width="0.3"/>
<rect x="81.5" y="288" width="16.2" height="4.2" rx="0.6" fill="#fff" stroke="#6a6a6a" stroke-width="0.45"/>
<text x="89.6" y="291.3" font-size="3.3" text-anchor="middle" fill="#111" stroke="#111" stroke-width="0.03" textLength="14.4" lengthAdjust="spacingAndGlyphs">LRRC37A</text>
<line x1="85.2" y1="303.4" x2="91.8" y2="306.9" stroke="#333" stroke-width="0.35"/>
<circle cx="91.8" cy="306.9" r="0.8" fill="#1c7c1c" stroke="#111" stroke-width="0.3"/>
<rect x="72.3" y="299.2" width="12.9" height="4.2" rx="0.6" fill="#fff" stroke="#6a6a6a" stroke-width="0.45"/>
<text x="78.8" y="302.5" font-size="3.3" text-anchor="middle" fill="#111" stroke="#111" stroke-width="0.03" textLength="11.1" lengthAdjust="spacingAndGlyphs">ARL17A</text>
<line x1="98.2" y1="311.6" x2="102.3" y2="315.2" stroke="#333" stroke-width="0.35"/>
<circle cx="102.3" cy="315.2" r="0.8" fill="#1c7c1c" stroke="#111" stroke-width="0.3"/>
<rect x="88.9" y="307.5" width="9.3" height="4.1" rx="0.6" fill="#fff" stroke="#6a6a6a" stroke-width="0.45"/>
<text x="93.6" y="310.8" font-size="3.3" text-anchor="middle" fill="#111" stroke="#111" stroke-width="0.03" textLength="7.5" lengthAdjust="spacingAndGlyphs">NSF</text>
<line x1="118.2" y1="304.2" x2="115.8" y2="306.9" stroke="#333" stroke-width="0.35"/>
<circle cx="115.8" cy="306.9" r="0.8" fill="#1c7c1c" stroke="#111" stroke-width="0.3"/>
<rect x="118.2" y="300" width="12.4" height="4.2" rx="0.6" fill="#fff" stroke="#6a6a6a" stroke-width="0.45"/>
<text x="124.4" y="303.3" font-size="3.3" text-anchor="middle" fill="#111" stroke="#111" stroke-width="0.03" textLength="10.6" lengthAdjust="spacingAndGlyphs">KANSL1</text>
<line x1="104.2" y1="317.8" x2="100" y2="313.5" stroke="#333" stroke-width="0.35"/>
<circle cx="100" cy="313.5" r="0.8" fill="#1c7c1c" stroke="#111" stroke-width="0.3"/>
<rect x="104.2" y="317.8" width="13.6" height="3.6" rx="0.6" fill="#fff" stroke="#6a6a6a" stroke-width="0.45"/>
<text x="111" y="320.8" font-size="3.3" text-anchor="middle" fill="#111" stroke="#111" stroke-width="0.03" textLength="11.8" lengthAdjust="spacingAndGlyphs">SPPL2C</text>
<line x1="51.4" y1="312.6" x2="48.8" y2="315" stroke="#333" stroke-width="0.35"/>
<circle cx="48.8" cy="315" r="0.8" fill="#1c7c1c" stroke="#111" stroke-width="0.3"/>
<rect x="51.4" y="308.6" width="12" height="4" rx="0.6" fill="#fff" stroke="#6a6a6a" stroke-width="0.45"/>
<text x="57.4" y="311.8" font-size="3.3" text-anchor="middle" fill="#111" stroke="#111" stroke-width="0.03" textLength="10.2" lengthAdjust="spacingAndGlyphs">SMIM1</text>
<circle cx="19.3" cy="248" r="1.1" fill="#1c7c1c" stroke="#111" stroke-width="0.4"/>
<text x="23.7" y="249.2" font-size="3.2" fill="#222" stroke="#222" stroke-width="0.05" textLength="19" lengthAdjust="spacingAndGlyphs">Bon Significant</text>
<circle cx="19.3" cy="253.5" r="1.1" fill="#90e680" stroke="#0a1a0a" stroke-width="0.4"/>
<text x="23.7" y="254.7" font-size="3.2" fill="#222" stroke="#222" stroke-width="0.05" textLength="26" lengthAdjust="spacingAndGlyphs">Nominally Significant</text>
<circle cx="19.3" cy="259" r="1.1" fill="#f4f4f4" stroke="#555" stroke-width="0.4"/>
<text x="23.7" y="260.1" font-size="3.2" fill="#222" stroke="#222" stroke-width="0.05" textLength="19.2" lengthAdjust="spacingAndGlyphs">FDR Significant</text>
<line x1="227.6" y1="163" x2="372.9" y2="163" stroke="#e4e4e4" stroke-width="0.55"/>
<line x1="227.6" y1="142.3" x2="372.9" y2="142.3" stroke="#f0f0f0" stroke-width="0.4"/>
<line x1="227.6" y1="121.7" x2="372.9" y2="121.7" stroke="#e4e4e4" stroke-width="0.55"/>
<line x1="227.6" y1="101.1" x2="372.9" y2="101.1" stroke="#f0f0f0" stroke-width="0.4"/>
<line x1="227.6" y1="80.4" x2="372.9" y2="80.4" stroke="#e4e4e4" stroke-width="0.55"/>
<line x1="227.6" y1="59.8" x2="372.9" y2="59.8" stroke="#f0f0f0" stroke-width="0.4"/>
<line x1="227.6" y1="39.1" x2="372.9" y2="39.1" stroke="#e4e4e4" stroke-width="0.55"/>
<line x1="227.6" y1="18.5" x2="372.9" y2="18.5" stroke="#f0f0f0" stroke-width="0.4"/>
<line x1="374.2" y1="163" x2="519.4" y2="163" stroke="#e4e4e4" stroke-width="0.55"/>
<line x1="374.2" y1="142.3" x2="519.4" y2="142.3" stroke="#f0f0f0" stroke-width="0.4"/>
<line x1="374.2" y1="121.7" x2="519.4" y2="121.7" stroke="#e4e4e4" stroke-width="0.55"/>
<line x1="374.2" y1="101.1" x2="519.4" y2="101.1" stroke="#f0f0f0" stroke-width="0.4"/>
<line x1="374.2" y1="80.4" x2="519.4" y2="80.4" stroke="#e4e4e4" stroke-width="0.55"/>
<line x1="374.2" y1="59.8" x2="519.4" y2="59.8" stroke="#f0f0f0" stroke-width="0.4"/>
<line x1="374.2" y1="39.1" x2="519.4" y2="39.1" stroke="#e4e4e4" stroke-width="0.55"/>
<line x1="374.2" y1="18.5" x2="519.4" y2="18.5" stroke="#f0f0f0" stroke-width="0.4"/>
<line x1="520.6" y1="163" x2="666.4" y2="163" stroke="#e4e4e4" stroke-width="0.55"/>
<line x1="520.6" y1="142.3" x2="666.4" y2="142.3" stroke="#f0f0f0" stroke-width="0.4"/>
<line x1="520.6" y1="121.7" x2="666.4" y2="121.7" stroke="#e4e4e4" stroke-width="0.55"/>
<line x1="520.6" y1="101.1" x2="666.4" y2="101.1" stroke="#f0f0f0" stroke-width="0.4"/>
<line x1="520.6" y1="80.4" x2="666.4" y2="80.4" stroke="#e4e4e4" stroke-width="0.55"/>
<line x1="520.6" y1="59.8" x2="666.4" y2="59.8" stroke="#f0f0f0" stroke-width="0.4"/>
<line x1="520.6" y1="39.1" x2="666.4" y2="39.1" stroke="#e4e4e4" stroke-width="0.55"/>
<line x1="520.6" y1="18.5" x2="666.4" y2="18.5" stroke="#f0f0f0" stroke-width="0.4"/>
<text x="226.3" y="164.4" font-size="4.0" text-anchor="end" fill="#8a8a8a">0</text>
<text x="226.3" y="123.1" font-size="4.0" text-anchor="end" fill="#8a8a8a">10</text>
<text x="226.3" y="81.8" font-size="4.0" text-anchor="end" fill="#8a8a8a">20</text>
<text x="226.3" y="40.5" font-size="4.0" text-anchor="end" fill="#8a8a8a">30</text>
<text x="218.2" y="91.2" font-size="4.8" text-anchor="middle" fill="#222" stroke="#222" stroke-width="0.1" transform="rotate(-90 218.2 91.2)" textLength="40" lengthAdjust="spacingAndGlyphs">- log<tspan font-size="3.4" dy="0.9">10</tspan><tspan dy="-0.9">(p - value)</tspan></text>
<line x1="228.5" y1="157.3" x2="666" y2="157.3" stroke="#505050" stroke-width="0.45" stroke-dasharray="1.5 1.3"/>
<text x="300.2" y="175.6" font-size="4.9" text-anchor="middle" font-weight="bold">KEGG</text>
<text x="446.9" y="175.6" font-size="4.9" text-anchor="middle" font-weight="bold">REAC</text>
<text x="593.1" y="175.6" font-size="4.9" text-anchor="middle" font-weight="bold">WP</text>
<g fill="#f2a600" stroke="#4a3000" stroke-width="0.38"><circle cx="293.8" cy="153.9" r="0.85"/><circle cx="255.8" cy="162.5" r="0.85"/><circle cx="246.3" cy="162.2" r="0.85"/><circle cx="258.9" cy="154.2" r="0.85"/><circle cx="232.3" cy="161.4" r="0.85"/><circle cx="314.5" cy="162.2" r="0.85"/><circle cx="309.8" cy="162.5" r="0.85"/><circle cx="332.1" cy="156.7" r="0.85"/><circle cx="259.6" cy="162.4" r="0.85"/><circle cx="266.4" cy="162.6" r="0.85"/><circle cx="368.2" cy="161" r="0.85"/><circle cx="347.7" cy="160.3" r="0.85"/><circle cx="286.4" cy="162.7" r="0.85"/><circle cx="351.2" cy="160.6" r="0.85"/><circle cx="363.8" cy="160.7" r="0.85"/><circle cx="286.3" cy="162.4" r="0.85"/><circle cx="240.9" cy="162.5" r="0.85"/><circle cx="348.3" cy="162.4" r="0.85"/><circle cx="256.4" cy="153.1" r="0.85"/><circle cx="348.4" cy="162.6" r="0.85"/><circle cx="357.8" cy="162" r="0.85"/><circle cx="304.2" cy="162.2" r="0.85"/><circle cx="273.9" cy="162.2" r="0.85"/><circle cx="293.4" cy="158.7" r="0.85"/><circle cx="237.7" cy="161.3" r="0.85"/><circle cx="248.2" cy="161.5" r="0.85"/><circle cx="332.9" cy="160.6" r="0.85"/><circle cx="335.4" cy="161.8" r="0.85"/><circle cx="345.6" cy="162.5" r="0.85"/><circle cx="269.2" cy="162" r="0.85"/><circle cx="334.5" cy="162.4" r="0.85"/><circle cx="367.5" cy="162.1" r="0.85"/><circle cx="266" cy="158.8" r="0.85"/><circle cx="289" cy="162.3" r="0.85"/><circle cx="309.7" cy="161.5" r="0.85"/><circle cx="294.8" cy="162.1" r="0.85"/><circle cx="354.5" cy="158.9" r="0.85"/><circle cx="249.8" cy="162.2" r="0.85"/><circle cx="320" cy="159.7" r="0.85"/><circle cx="367.2" cy="161.6" r="0.85"/><circle cx="354.6" cy="161.3" r="0.85"/><circle cx="332" cy="161.1" r="0.85"/><circle cx="238.8" cy="153.9" r="0.85"/><circle cx="270" cy="162.3" r="0.85"/><circle cx="250.3" cy="160.8" r="0.85"/><circle cx="243.1" cy="162.3" r="0.85"/><circle cx="240.7" cy="162.1" r="0.85"/><circle cx="368.4" cy="162.4" r="0.85"/><circle cx="282" cy="159.3" r="0.85"/><circle cx="338.3" cy="159.8" r="0.85"/><circle cx="302.6" cy="159.8" r="0.85"/><circle cx="249.7" cy="162.6" r="0.85"/><circle cx="328.6" cy="161.2" r="0.85"/><circle cx="311.2" cy="162.1" r="0.85"/><circle cx="231.4" cy="162" r="0.85"/><circle cx="233.1" cy="161.7" r="0.85"/><circle cx="294.8" cy="162" r="0.85"/><circle cx="233.4" cy="155.9" r="0.85"/><circle cx="259.7" cy="161" r="0.85"/><circle cx="367.9" cy="161.5" r="0.85"/><circle cx="265.7" cy="160.6" r="0.85"/><circle cx="241.3" cy="157.5" r="0.85"/><circle cx="251.2" cy="161.9" r="0.85"/><circle cx="230.3" cy="161.1" r="0.85"/><circle cx="241.2" cy="161.4" r="0.85"/><circle cx="263.7" cy="162.1" r="0.85"/><circle cx="321.7" cy="160.6" r="0.85"/><circle cx="234.3" cy="162.3" r="0.85"/><circle cx="292.5" cy="162.4" r="0.85"/><circle cx="286.7" cy="159.5" r="0.85"/><circle cx="244" cy="161.6" r="0.85"/><circle cx="369.7" cy="161.7" r="0.85"/><circle cx="301.4" cy="162.4" r="0.85"/><circle cx="282.5" cy="162.2" r="0.85"/><circle cx="310.6" cy="162.4" r="0.85"/><circle cx="317.9" cy="161.5" r="0.85"/><circle cx="367.5" cy="159.4" r="0.85"/><circle cx="253.1" cy="157" r="0.85"/><circle cx="320.1" cy="159.8" r="0.85"/><circle cx="279.1" cy="159.1" r="0.85"/><circle cx="307.4" cy="157.3" r="0.85"/><circle cx="234.4" cy="159.2" r="0.85"/><circle cx="300.2" cy="161.7" r="0.85"/><circle cx="255.2" cy="162.4" r="0.85"/><circle cx="234.4" cy="162.2" r="0.85"/><circle cx="282.1" cy="162.3" r="0.85"/><circle cx="281" cy="161.9" r="0.85"/><circle cx="246.9" cy="160" r="0.85"/><circle cx="256" cy="162.5" r="0.85"/><circle cx="310.4" cy="155.9" r="0.85"/><circle cx="339.2" cy="162.1" r="0.85"/><circle cx="316.1" cy="150" r="0.85"/><circle cx="235.9" cy="160.7" r="0.85"/><circle cx="322.9" cy="161" r="0.85"/><circle cx="348.6" cy="161.9" r="0.85"/><circle cx="335.2" cy="162.6" r="0.85"/><circle cx="265.4" cy="160.9" r="0.85"/><circle cx="273.3" cy="162.6" r="0.85"/><circle cx="246.5" cy="158" r="0.85"/><circle cx="331" cy="162.4" r="0.85"/><circle cx="343.6" cy="162.1" r="0.85"/><circle cx="326.6" cy="157.9" r="0.85"/><circle cx="242.6" cy="149" r="0.85"/><circle cx="347.4" cy="162.7" r="0.85"/><circle cx="246.6" cy="161.6" r="0.85"/><circle cx="334.1" cy="160.2" r="0.85"/><circle cx="318.2" cy="162.1" r="0.85"/><circle cx="241.7" cy="144.8" r="0.85"/><circle cx="245.4" cy="162.3" r="0.85"/><circle cx="229.4" cy="149.8" r="0.85"/><circle cx="252.2" cy="162.3" r="0.85"/><circle cx="262" cy="161" r="0.85"/><circle cx="328.1" cy="160.4" r="0.85"/><circle cx="358.4" cy="160.8" r="0.85"/><circle cx="338.4" cy="161.9" r="0.85"/><circle cx="314.2" cy="162.6" r="0.85"/><circle cx="330.4" cy="162.2" r="0.85"/><circle cx="285.1" cy="161.6" r="0.85"/><circle cx="346.7" cy="162.4" r="0.85"/><circle cx="369.2" cy="161" r="0.85"/><circle cx="302" cy="151.6" r="0.85"/><circle cx="318.8" cy="160.1" r="0.85"/><circle cx="352.3" cy="159.3" r="0.85"/><circle cx="233.7" cy="160.4" r="0.85"/><circle cx="313.4" cy="160.5" r="0.85"/><circle cx="305.5" cy="162.1" r="0.85"/><circle cx="291.8" cy="162.6" r="0.85"/><circle cx="271.4" cy="161.9" r="0.85"/><circle cx="273.5" cy="154.7" r="0.85"/><circle cx="304.6" cy="162" r="0.85"/><circle cx="326.3" cy="157.3" r="0.85"/><circle cx="314.5" cy="156.3" r="0.85"/><circle cx="255.2" cy="159.8" r="0.85"/><circle cx="237.5" cy="162" r="0.85"/><circle cx="265.5" cy="161.3" r="0.85"/><circle cx="260.7" cy="160.8" r="0.85"/><circle cx="237.8" cy="162.6" r="0.85"/><circle cx="301.1" cy="161.6" r="0.85"/><circle cx="361.3" cy="162.6" r="0.85"/><circle cx="347.2" cy="148.6" r="0.85"/><circle cx="263.1" cy="162" r="0.85"/><circle cx="239.2" cy="160.3" r="0.85"/><circle cx="257.7" cy="162.4" r="0.85"/><circle cx="368.9" cy="160.9" r="0.85"/><circle cx="288.9" cy="160.6" r="0.85"/><circle cx="241.4" cy="162.4" r="0.85"/><circle cx="365.5" cy="162.2" r="0.85"/><circle cx="240.8" cy="160.6" r="0.85"/><circle cx="236.2" cy="161.5" r="0.85"/><circle cx="290.6" cy="162.1" r="0.85"/><circle cx="242.7" cy="162.6" r="0.85"/><circle cx="316.6" cy="161.9" r="0.85"/><circle cx="348" cy="157.7" r="0.85"/><circle cx="257.8" cy="147" r="0.85"/><circle cx="357" cy="159.8" r="0.85"/><circle cx="248.3" cy="159.9" r="0.85"/><circle cx="345.2" cy="159.1" r="0.85"/><circle cx="358.1" cy="148.8" r="0.85"/><circle cx="297.4" cy="157.8" r="0.85"/><circle cx="296.3" cy="159.4" r="0.85"/><circle cx="287.5" cy="162.2" r="0.85"/><circle cx="280.1" cy="160.9" r="0.85"/><circle cx="251.3" cy="162.1" r="0.85"/><circle cx="318.4" cy="162.6" r="0.85"/><circle cx="288.4" cy="159.6" r="0.85"/><circle cx="306.6" cy="157.4" r="0.85"/><circle cx="244.9" cy="160.4" r="0.85"/><circle cx="243.9" cy="139.3" r="0.85"/><circle cx="273.4" cy="161.5" r="0.85"/><circle cx="366.5" cy="162.4" r="0.85"/><circle cx="241.3" cy="160.5" r="0.85"/><circle cx="356.7" cy="161.9" r="0.85"/><circle cx="352.1" cy="161.9" r="0.85"/><circle cx="369.1" cy="161" r="0.85"/><circle cx="347" cy="162.5" r="0.85"/><circle cx="251.3" cy="159" r="0.85"/><circle cx="328.3" cy="161.8" r="0.85"/><circle cx="269.6" cy="150.6" r="0.85"/><circle cx="268.5" cy="145" r="0.85"/><circle cx="256.5" cy="160.9" r="0.85"/><circle cx="265.4" cy="160.6" r="0.85"/><circle cx="329" cy="162.7" r="0.85"/><circle cx="358.7" cy="152" r="0.85"/><circle cx="315.3" cy="149.4" r="0.85"/><circle cx="318.1" cy="161.3" r="0.85"/><circle cx="257.7" cy="159" r="0.85"/><circle cx="354.7" cy="162.7" r="0.85"/><circle cx="261.6" cy="161.4" r="0.85"/><circle cx="251.2" cy="161.9" r="0.85"/><circle cx="308.7" cy="161.2" r="0.85"/><circle cx="272.6" cy="162.3" r="0.85"/><circle cx="273.3" cy="160" r="0.85"/><circle cx="240.3" cy="154.8" r="0.85"/><circle cx="245.2" cy="160.4" r="0.85"/><circle cx="254.8" cy="161.9" r="0.85"/><circle cx="273.3" cy="159.8" r="0.85"/><circle cx="337.1" cy="161.7" r="0.85"/><circle cx="272.8" cy="158.4" r="0.85"/><circle cx="264.4" cy="158.8" r="0.85"/><circle cx="316.8" cy="162" r="0.85"/><circle cx="371.9" cy="142.1" r="0.85"/><circle cx="342.7" cy="161.4" r="0.85"/><circle cx="305.3" cy="153.1" r="0.85"/><circle cx="344.4" cy="160.2" r="0.85"/><circle cx="312.5" cy="162.5" r="0.85"/><circle cx="329" cy="162.4" r="0.85"/><circle cx="309.4" cy="160.9" r="0.85"/><circle cx="322.2" cy="162.1" r="0.85"/><circle cx="272.9" cy="154.8" r="0.85"/><circle cx="283.3" cy="160.1" r="0.85"/><circle cx="358.3" cy="158.5" r="0.85"/><circle cx="232.2" cy="159.2" r="0.85"/><circle cx="357.5" cy="160.7" r="0.85"/><circle cx="250.1" cy="153.1" r="0.85"/><circle cx="303.7" cy="160.2" r="0.85"/><circle cx="273.6" cy="160.8" r="0.85"/><circle cx="289.1" cy="141.3" r="0.85"/><circle cx="293.2" cy="162.3" r="0.85"/><circle cx="310.6" cy="162" r="0.85"/><circle cx="312" cy="160.3" r="0.85"/><circle cx="324.7" cy="157.7" r="0.85"/><circle cx="256" cy="162.7" r="0.85"/><circle cx="289.4" cy="160.1" r="0.85"/><circle cx="294.6" cy="135.1" r="0.85"/><circle cx="322.9" cy="143" r="0.85"/><circle cx="303.3" cy="161.9" r="0.85"/><circle cx="270.2" cy="155.8" r="0.85"/><circle cx="336.2" cy="161.3" r="0.85"/><circle cx="332.1" cy="162" r="0.85"/><circle cx="281.9" cy="157.7" r="0.85"/><circle cx="249.1" cy="155.9" r="0.85"/><circle cx="318.8" cy="148.6" r="0.85"/><circle cx="303" cy="160.2" r="0.85"/><circle cx="325.5" cy="141.9" r="0.85"/><circle cx="368.6" cy="154.8" r="0.85"/><circle cx="304.1" cy="162" r="0.85"/><circle cx="240.6" cy="160.7" r="0.85"/><circle cx="307.4" cy="161.7" r="0.85"/><circle cx="317.6" cy="162.2" r="0.85"/><circle cx="323.1" cy="161.5" r="0.85"/><circle cx="316.5" cy="150.3" r="0.85"/><circle cx="280.4" cy="162.5" r="0.85"/><circle cx="363.5" cy="161.2" r="0.85"/><circle cx="273" cy="162.7" r="0.85"/><circle cx="263.8" cy="143.9" r="0.85"/><circle cx="230.3" cy="160.7" r="0.85"/><circle cx="251.7" cy="162.4" r="0.85"/><circle cx="307" cy="161.7" r="0.85"/><circle cx="332.5" cy="160.6" r="0.85"/><circle cx="308.3" cy="162" r="0.85"/><circle cx="257.3" cy="162.5" r="0.85"/><circle cx="268.4" cy="162.6" r="0.85"/><circle cx="292" cy="162.1" r="0.85"/><circle cx="296.3" cy="162.2" r="0.85"/><circle cx="231.3" cy="161.8" r="0.85"/><circle cx="308.9" cy="158.9" r="0.85"/><circle cx="267.4" cy="157.3" r="0.85"/><circle cx="248.1" cy="157" r="0.85"/><circle cx="365.7" cy="162.7" r="0.85"/><circle cx="346.9" cy="159.7" r="0.85"/><circle cx="369" cy="162.6" r="0.85"/><circle cx="248.9" cy="162.6" r="0.85"/><circle cx="314.6" cy="146.9" r="0.85"/><circle cx="258.6" cy="157.3" r="0.85"/><circle cx="335.8" cy="162.3" r="0.85"/><circle cx="327.5" cy="161.5" r="0.85"/><circle cx="307.1" cy="161.4" r="0.85"/><circle cx="362.6" cy="160.4" r="0.85"/><circle cx="371.7" cy="160.8" r="0.85"/><circle cx="371.4" cy="160.6" r="0.85"/><circle cx="279.6" cy="162.5" r="0.85"/><circle cx="239.3" cy="161.8" r="0.85"/><circle cx="237.8" cy="162.5" r="0.85"/><circle cx="275.2" cy="161.6" r="0.85"/><circle cx="354.9" cy="161.8" r="0.85"/><circle cx="353" cy="161.1" r="0.85"/><circle cx="321.5" cy="162.3" r="0.85"/><circle cx="243.9" cy="161.7" r="0.85"/><circle cx="245.7" cy="162.5" r="0.85"/><circle cx="369.9" cy="159.6" r="0.85"/><circle cx="306.4" cy="162.4" r="0.85"/><circle cx="260" cy="159.3" r="0.85"/><circle cx="298.8" cy="150.9" r="0.85"/><circle cx="328.9" cy="160.2" r="0.85"/><circle cx="256.7" cy="160.2" r="0.85"/><circle cx="327.4" cy="143.2" r="0.85"/><circle cx="318.8" cy="162.5" r="0.85"/><circle cx="297.7" cy="162.1" r="0.85"/><circle cx="275.7" cy="162.2" r="0.85"/><circle cx="241.8" cy="160.8" r="0.85"/><circle cx="253.9" cy="162.6" r="0.85"/><circle cx="284.9" cy="161.9" r="0.85"/><circle cx="310.9" cy="162.4" r="0.85"/><circle cx="340.7" cy="161.6" r="0.85"/><circle cx="371" cy="160.1" r="0.85"/><circle cx="268.7" cy="162.4" r="0.85"/><circle cx="282.5" cy="162.3" r="0.85"/><circle cx="276.5" cy="152" r="0.85"/><circle cx="363.4" cy="153.1" r="0.85"/><circle cx="239.6" cy="160.6" r="0.85"/><circle cx="334.5" cy="162.4" r="0.85"/><circle cx="339.6" cy="162.3" r="0.85"/><circle cx="284.9" cy="161.8" r="0.85"/><circle cx="229" cy="159.8" r="0.85"/><circle cx="335.7" cy="146.5" r="0.85"/><circle cx="363.7" cy="161" r="0.85"/><circle cx="300.1" cy="158.2" r="0.85"/><circle cx="291.7" cy="160.3" r="0.85"/><circle cx="234.9" cy="134.9" r="0.85"/><circle cx="371.4" cy="159.8" r="0.85"/><circle cx="240.5" cy="160.7" r="0.85"/><circle cx="351.1" cy="162.6" r="0.85"/><circle cx="316.7" cy="162" r="0.85"/><circle cx="325.6" cy="162.4" r="0.85"/><circle cx="296" cy="161.2" r="0.85"/><circle cx="300" cy="151.1" r="0.85"/><circle cx="283.8" cy="161.6" r="0.85"/><circle cx="257.2" cy="160.1" r="0.85"/><circle cx="286" cy="161.4" r="0.85"/><circle cx="287.7" cy="160.2" r="0.85"/><circle cx="259.3" cy="156.5" r="0.85"/><circle cx="315.1" cy="161.2" r="0.85"/><circle cx="291.7" cy="161.5" r="0.85"/><circle cx="307.6" cy="161.4" r="0.85"/><circle cx="322.8" cy="162.7" r="0.85"/><circle cx="310.1" cy="160.2" r="0.85"/><circle cx="282.6" cy="159.4" r="0.85"/><circle cx="359.8" cy="160" r="0.85"/><circle cx="327.6" cy="162.2" r="0.85"/><circle cx="329.5" cy="152.9" r="0.85"/><circle cx="302.4" cy="161.3" r="0.85"/><circle cx="257.9" cy="159" r="0.85"/><circle cx="352.9" cy="161.1" r="0.85"/><circle cx="360.4" cy="161.6" r="0.85"/><circle cx="344.4" cy="160.4" r="0.85"/><circle cx="359.9" cy="162.7" r="0.85"/><circle cx="234" cy="162.4" r="0.85"/><circle cx="310.7" cy="161.5" r="0.85"/><circle cx="310" cy="161.1" r="0.85"/><circle cx="261.5" cy="158.6" r="0.85"/><circle cx="358.9" cy="156.5" r="0.85"/><circle cx="360.1" cy="158.9" r="0.85"/><circle cx="351.3" cy="160.3" r="0.85"/><circle cx="353.5" cy="156.6" r="0.85"/><circle cx="254.7" cy="161" r="0.85"/><circle cx="331.8" cy="158.8" r="0.85"/><circle cx="292.1" cy="161.7" r="0.85"/><circle cx="304.4" cy="162.3" r="0.85"/><circle cx="258.9" cy="159.7" r="0.85"/><circle cx="369.1" cy="162.6" r="0.85"/><circle cx="276.7" cy="162.5" r="0.85"/><circle cx="241.7" cy="162.3" r="0.85"/><circle cx="247.4" cy="161.2" r="0.85"/><circle cx="248.2" cy="162.1" r="0.85"/><circle cx="235.9" cy="160.2" r="0.85"/><circle cx="352.2" cy="150.6" r="0.85"/><circle cx="312.5" cy="162.1" r="0.85"/><circle cx="234.6" cy="161.3" r="0.85"/><circle cx="324.4" cy="154" r="0.85"/><circle cx="330.3" cy="161.4" r="0.85"/><circle cx="271.1" cy="161.3" r="0.85"/><circle cx="367.2" cy="162" r="0.85"/><circle cx="343.2" cy="151.1" r="0.85"/><circle cx="267.7" cy="160.8" r="0.85"/><circle cx="332.8" cy="154.4" r="0.85"/><circle cx="251.6" cy="159.9" r="0.85"/><circle cx="347.5" cy="161.5" r="0.85"/><circle cx="291.8" cy="161.6" r="0.85"/><circle cx="361" cy="160.3" r="0.85"/><circle cx="289.9" cy="162.6" r="0.85"/><circle cx="329.5" cy="161.1" r="0.85"/><circle cx="245.1" cy="160.3" r="0.85"/><circle cx="266.2" cy="162.4" r="0.85"/><circle cx="293.3" cy="152" r="0.85"/><circle cx="262.4" cy="161.3" r="0.85"/><circle cx="357.8" cy="162.1" r="0.85"/><circle cx="291.1" cy="154.7" r="0.85"/><circle cx="363.9" cy="158" r="0.85"/><circle cx="322.4" cy="162.2" r="0.85"/><circle cx="347.4" cy="154.4" r="0.85"/><circle cx="248.9" cy="157.8" r="0.85"/><circle cx="237.3" cy="134.4" r="0.85"/><circle cx="270.5" cy="162.3" r="0.85"/><circle cx="230.3" cy="160.2" r="0.85"/><circle cx="262.5" cy="162.3" r="0.85"/><circle cx="326.6" cy="161.7" r="0.85"/><circle cx="340.2" cy="161.2" r="0.85"/><circle cx="263" cy="162.2" r="0.85"/><circle cx="362.4" cy="162.3" r="0.85"/><circle cx="296.9" cy="162.4" r="0.85"/><circle cx="281.2" cy="160.8" r="0.85"/><circle cx="326" cy="162.7" r="0.85"/><circle cx="321" cy="152" r="0.85"/><circle cx="270.5" cy="162.6" r="0.85"/><circle cx="368.9" cy="158" r="0.85"/><circle cx="329.8" cy="160.7" r="0.85"/><circle cx="229.2" cy="152.5" r="0.85"/><circle cx="356.7" cy="146.1" r="0.85"/><circle cx="281.9" cy="160.7" r="0.85"/><circle cx="298.9" cy="162" r="0.85"/><circle cx="294.2" cy="149" r="0.85"/><circle cx="359" cy="161" r="0.85"/><circle cx="266.9" cy="162.4" r="0.85"/><circle cx="265.5" cy="162.6" r="0.85"/><circle cx="343.7" cy="161.5" r="0.85"/><circle cx="358.6" cy="162.2" r="0.85"/><circle cx="310.2" cy="161.5" r="0.85"/><circle cx="295.6" cy="162" r="0.85"/><circle cx="331" cy="162" r="0.85"/><circle cx="260.4" cy="162.2" r="0.85"/></g>
<g fill="#78aad6" stroke="#0a1824" stroke-width="0.38"><circle cx="486" cy="157.7" r="0.85"/><circle cx="406.3" cy="162.2" r="0.85"/><circle cx="499.7" cy="160.6" r="0.85"/><circle cx="386.5" cy="156.8" r="0.85"/><circle cx="446" cy="160.1" r="0.85"/><circle cx="507" cy="162.1" r="0.85"/><circle cx="501.8" cy="156.2" r="0.85"/><circle cx="422.3" cy="161.6" r="0.85"/><circle cx="435.1" cy="162.5" r="0.85"/><circle cx="463.6" cy="159.8" r="0.85"/><circle cx="453.7" cy="158.4" r="0.85"/><circle cx="451.8" cy="75.5" r="0.85"/><circle cx="478.8" cy="160" r="0.85"/><circle cx="382.9" cy="162.3" r="0.85"/><circle cx="502.9" cy="156.6" r="0.85"/><circle cx="486" cy="161.9" r="0.85"/><circle cx="409.3" cy="157" r="0.85"/><circle cx="390.5" cy="162.3" r="0.85"/><circle cx="499.5" cy="161.5" r="0.85"/><circle cx="488.8" cy="157.7" r="0.85"/><circle cx="380.9" cy="162.4" r="0.85"/><circle cx="493.2" cy="158.8" r="0.85"/><circle cx="414.3" cy="161.9" r="0.85"/><circle cx="415.3" cy="161.6" r="0.85"/><circle cx="455.1" cy="143.2" r="0.85"/><circle cx="395.3" cy="158.2" r="0.85"/><circle cx="458.5" cy="162.2" r="0.85"/><circle cx="405.6" cy="162.6" r="0.85"/><circle cx="470" cy="162.4" r="0.85"/><circle cx="510.4" cy="160.3" r="0.85"/><circle cx="492.2" cy="162.3" r="0.85"/><circle cx="443.4" cy="156.9" r="0.85"/><circle cx="398.3" cy="162.1" r="0.85"/><circle cx="381.5" cy="157.4" r="0.85"/><circle cx="400.6" cy="160.8" r="0.85"/><circle cx="501.5" cy="161.8" r="0.85"/><circle cx="450.7" cy="160.4" r="0.85"/><circle cx="427.7" cy="162.1" r="0.85"/><circle cx="439" cy="161.7" r="0.85"/><circle cx="491.9" cy="150.7" r="0.85"/><circle cx="413.1" cy="160.8" r="0.85"/><circle cx="420" cy="162.6" r="0.85"/><circle cx="458.4" cy="162.4" r="0.85"/><circle cx="507.8" cy="160.7" r="0.85"/><circle cx="479.9" cy="157.2" r="0.85"/><circle cx="482.8" cy="160.7" r="0.85"/><circle cx="447.7" cy="157.1" r="0.85"/><circle cx="395.3" cy="154.9" r="0.85"/><circle cx="457.7" cy="140.9" r="0.85"/><circle cx="485.7" cy="162.3" r="0.85"/><circle cx="482.9" cy="162.3" r="0.85"/><circle cx="437.7" cy="161.9" r="0.85"/><circle cx="466.9" cy="155.6" r="0.85"/><circle cx="500.2" cy="162.3" r="0.85"/><circle cx="471.1" cy="152.8" r="0.85"/><circle cx="458" cy="161.7" r="0.85"/><circle cx="442.4" cy="159.2" r="0.85"/><circle cx="397.8" cy="162.7" r="0.85"/><circle cx="482.6" cy="161.2" r="0.85"/><circle cx="453.9" cy="152.4" r="0.85"/><circle cx="442.4" cy="161.7" r="0.85"/><circle cx="469.9" cy="162" r="0.85"/><circle cx="386.2" cy="162.1" r="0.85"/><circle cx="391.2" cy="161.4" r="0.85"/><circle cx="443.6" cy="131.8" r="0.85"/><circle cx="430.2" cy="158.9" r="0.85"/><circle cx="508.7" cy="161.9" r="0.85"/><circle cx="518" cy="159.1" r="0.85"/><circle cx="412.8" cy="155.7" r="0.85"/><circle cx="462.8" cy="161.2" r="0.85"/><circle cx="458.8" cy="162.2" r="0.85"/><circle cx="390.1" cy="162.3" r="0.85"/><circle cx="506.3" cy="159" r="0.85"/><circle cx="436.7" cy="151.7" r="0.85"/><circle cx="517.1" cy="161.6" r="0.85"/><circle cx="444" cy="162.3" r="0.85"/><circle cx="400" cy="133" r="0.85"/><circle cx="505.2" cy="153.9" r="0.85"/><circle cx="473.3" cy="161.9" r="0.85"/><circle cx="447.1" cy="162.3" r="0.85"/><circle cx="460.1" cy="161.9" r="0.85"/><circle cx="504.8" cy="161.7" r="0.85"/><circle cx="448.2" cy="162.4" r="0.85"/><circle cx="467.3" cy="156.2" r="0.85"/><circle cx="490.8" cy="162.6" r="0.85"/><circle cx="442.9" cy="160.7" r="0.85"/><circle cx="457.9" cy="162.5" r="0.85"/><circle cx="478.4" cy="160.5" r="0.85"/><circle cx="506.2" cy="158.5" r="0.85"/><circle cx="473.9" cy="147.5" r="0.85"/><circle cx="394.1" cy="152.1" r="0.85"/><circle cx="509" cy="162.5" r="0.85"/><circle cx="382.8" cy="159.4" r="0.85"/><circle cx="438.6" cy="160.6" r="0.85"/><circle cx="411.6" cy="159.8" r="0.85"/><circle cx="409.4" cy="161" r="0.85"/><circle cx="460.8" cy="161.6" r="0.85"/><circle cx="513.8" cy="162" r="0.85"/><circle cx="424.5" cy="161.2" r="0.85"/><circle cx="517" cy="95.8" r="0.85"/><circle cx="469.5" cy="162" r="0.85"/><circle cx="410.4" cy="162.2" r="0.85"/><circle cx="463.1" cy="147.7" r="0.85"/><circle cx="474" cy="162.1" r="0.85"/><circle cx="477.6" cy="158" r="0.85"/><circle cx="424.4" cy="162" r="0.85"/><circle cx="512.3" cy="149.7" r="0.85"/><circle cx="386.6" cy="162.6" r="0.85"/><circle cx="391.3" cy="162.1" r="0.85"/><circle cx="494.3" cy="157.1" r="0.85"/><circle cx="481.6" cy="156.2" r="0.85"/><circle cx="504.2" cy="161.7" r="0.85"/><circle cx="509.3" cy="161.4" r="0.85"/><circle cx="413.9" cy="160.3" r="0.85"/><circle cx="414" cy="120.6" r="0.85"/><circle cx="501.3" cy="162.1" r="0.85"/><circle cx="385.4" cy="150.8" r="0.85"/><circle cx="485.2" cy="161.9" r="0.85"/><circle cx="496.9" cy="158.8" r="0.85"/><circle cx="383" cy="135" r="0.85"/><circle cx="418.3" cy="158.3" r="0.85"/><circle cx="502.4" cy="161.5" r="0.85"/><circle cx="496.3" cy="162.3" r="0.85"/><circle cx="507.6" cy="161.9" r="0.85"/><circle cx="476.7" cy="161.7" r="0.85"/><circle cx="453" cy="160.2" r="0.85"/><circle cx="411.1" cy="161.3" r="0.85"/><circle cx="462.9" cy="145.9" r="0.85"/><circle cx="512.7" cy="162.6" r="0.85"/><circle cx="465.1" cy="162.5" r="0.85"/><circle cx="387.6" cy="160.6" r="0.85"/><circle cx="481.9" cy="157.3" r="0.85"/><circle cx="425.3" cy="156.4" r="0.85"/><circle cx="452.3" cy="160.5" r="0.85"/><circle cx="418" cy="160.5" r="0.85"/><circle cx="443.6" cy="153.8" r="0.85"/><circle cx="407.6" cy="162.2" r="0.85"/><circle cx="384.9" cy="161.8" r="0.85"/><circle cx="476.2" cy="160.8" r="0.85"/><circle cx="388.3" cy="149.5" r="0.85"/><circle cx="494.2" cy="134.2" r="0.85"/><circle cx="501.8" cy="157" r="0.85"/><circle cx="469.1" cy="155.7" r="0.85"/><circle cx="478.3" cy="144.3" r="0.85"/><circle cx="402.8" cy="162.3" r="0.85"/><circle cx="383.8" cy="160.3" r="0.85"/><circle cx="429.7" cy="126" r="0.85"/><circle cx="393.4" cy="161.5" r="0.85"/><circle cx="405.2" cy="159.9" r="0.85"/><circle cx="395.7" cy="162.3" r="0.85"/><circle cx="462.3" cy="162.2" r="0.85"/><circle cx="514.5" cy="161.4" r="0.85"/><circle cx="397.5" cy="162" r="0.85"/><circle cx="465.8" cy="159.8" r="0.85"/><circle cx="454.8" cy="155" r="0.85"/><circle cx="475.8" cy="141.4" r="0.85"/><circle cx="382.7" cy="160.6" r="0.85"/><circle cx="447.6" cy="162.2" r="0.85"/><circle cx="457.5" cy="161.3" r="0.85"/><circle cx="461.7" cy="160.2" r="0.85"/><circle cx="428.2" cy="159.5" r="0.85"/><circle cx="409.9" cy="159.2" r="0.85"/><circle cx="405" cy="162.3" r="0.85"/><circle cx="472.9" cy="153.5" r="0.85"/><circle cx="400" cy="155.1" r="0.85"/><circle cx="385.7" cy="162.4" r="0.85"/><circle cx="461.7" cy="153" r="0.85"/><circle cx="501.6" cy="161.1" r="0.85"/><circle cx="447.8" cy="159" r="0.85"/><circle cx="515.5" cy="161.5" r="0.85"/><circle cx="424" cy="161.1" r="0.85"/><circle cx="495.9" cy="162.6" r="0.85"/><circle cx="385.1" cy="158.7" r="0.85"/><circle cx="452.8" cy="162" r="0.85"/><circle cx="414.3" cy="161.1" r="0.85"/><circle cx="468.5" cy="155.1" r="0.85"/><circle cx="395.8" cy="161.7" r="0.85"/><circle cx="429.2" cy="160.8" r="0.85"/><circle cx="481.7" cy="159.4" r="0.85"/><circle cx="492.7" cy="161.7" r="0.85"/><circle cx="479.2" cy="162.1" r="0.85"/><circle cx="496.5" cy="157.1" r="0.85"/><circle cx="475.6" cy="152.6" r="0.85"/><circle cx="433.3" cy="162" r="0.85"/><circle cx="458.7" cy="160.2" r="0.85"/><circle cx="390" cy="160.3" r="0.85"/><circle cx="451.2" cy="159.5" r="0.85"/><circle cx="480.5" cy="162.4" r="0.85"/><circle cx="486.1" cy="161.6" r="0.85"/><circle cx="513.7" cy="161.2" r="0.85"/><circle cx="441.2" cy="128.8" r="0.85"/><circle cx="473.9" cy="162.1" r="0.85"/><circle cx="440" cy="162.6" r="0.85"/><circle cx="455" cy="154.1" r="0.85"/><circle cx="482.1" cy="153.4" r="0.85"/><circle cx="384.1" cy="158.9" r="0.85"/><circle cx="405.6" cy="149.1" r="0.85"/><circle cx="429.2" cy="149.4" r="0.85"/><circle cx="431.3" cy="162" r="0.85"/><circle cx="485.3" cy="161.6" r="0.85"/><circle cx="470.7" cy="156.6" r="0.85"/><circle cx="435.3" cy="161.9" r="0.85"/><circle cx="499.7" cy="162.3" r="0.85"/><circle cx="444.8" cy="155.5" r="0.85"/><circle cx="517.4" cy="142.1" r="0.85"/><circle cx="421" cy="160.9" r="0.85"/><circle cx="504.5" cy="161.1" r="0.85"/><circle cx="505.3" cy="161.5" r="0.85"/><circle cx="375.9" cy="161.7" r="0.85"/><circle cx="502.4" cy="162.6" r="0.85"/><circle cx="470.7" cy="161" r="0.85"/><circle cx="427.7" cy="155.9" r="0.85"/><circle cx="452.4" cy="159.3" r="0.85"/><circle cx="426.8" cy="162.1" r="0.85"/><circle cx="510.7" cy="161.3" r="0.85"/><circle cx="475.4" cy="154.2" r="0.85"/><circle cx="428.4" cy="160.5" r="0.85"/><circle cx="453.9" cy="162.2" r="0.85"/><circle cx="493.3" cy="152.1" r="0.85"/><circle cx="491.1" cy="161.5" r="0.85"/><circle cx="514.5" cy="158.5" r="0.85"/><circle cx="508.4" cy="160.1" r="0.85"/><circle cx="397.8" cy="153.5" r="0.85"/><circle cx="516.4" cy="160.2" r="0.85"/><circle cx="484.2" cy="155.3" r="0.85"/><circle cx="456.3" cy="160.4" r="0.85"/><circle cx="508.9" cy="158.4" r="0.85"/><circle cx="375.7" cy="162.2" r="0.85"/><circle cx="407.2" cy="162.2" r="0.85"/><circle cx="398.2" cy="160.5" r="0.85"/><circle cx="412.8" cy="162" r="0.85"/><circle cx="501.9" cy="157.4" r="0.85"/><circle cx="501.4" cy="161.8" r="0.85"/><circle cx="443.6" cy="159.8" r="0.85"/><circle cx="442.6" cy="150.3" r="0.85"/><circle cx="464" cy="161.8" r="0.85"/><circle cx="472.3" cy="152.7" r="0.85"/><circle cx="473.7" cy="160.5" r="0.85"/><circle cx="414.3" cy="161.1" r="0.85"/><circle cx="452.8" cy="162.3" r="0.85"/><circle cx="507.8" cy="153.9" r="0.85"/><circle cx="489.4" cy="162" r="0.85"/><circle cx="494.8" cy="162.6" r="0.85"/><circle cx="440" cy="155.4" r="0.85"/><circle cx="379.9" cy="160.1" r="0.85"/><circle cx="496.3" cy="162.6" r="0.85"/><circle cx="445.4" cy="161.9" r="0.85"/><circle cx="478.2" cy="158.1" r="0.85"/><circle cx="508.2" cy="162.6" r="0.85"/><circle cx="473.1" cy="161.5" r="0.85"/><circle cx="497.7" cy="146.1" r="0.85"/><circle cx="496.7" cy="106" r="0.85"/><circle cx="435" cy="157.4" r="0.85"/><circle cx="503.6" cy="159.1" r="0.85"/><circle cx="506.3" cy="157.9" r="0.85"/><circle cx="424" cy="161.7" r="0.85"/><circle cx="434.4" cy="162.5" r="0.85"/><circle cx="447.1" cy="152.2" r="0.85"/><circle cx="509.8" cy="144.8" r="0.85"/><circle cx="375.6" cy="156.7" r="0.85"/><circle cx="379.3" cy="151.7" r="0.85"/><circle cx="476.6" cy="158.6" r="0.85"/><circle cx="485.6" cy="162.6" r="0.85"/><circle cx="403.8" cy="161.8" r="0.85"/><circle cx="459.3" cy="161.5" r="0.85"/><circle cx="463.9" cy="161.4" r="0.85"/><circle cx="459.4" cy="161.9" r="0.85"/><circle cx="488.8" cy="159.3" r="0.85"/><circle cx="435.3" cy="162.3" r="0.85"/><circle cx="409.4" cy="159.4" r="0.85"/><circle cx="505.7" cy="161.9" r="0.85"/><circle cx="472.5" cy="162.7" r="0.85"/><circle cx="487.3" cy="161.7" r="0.85"/><circle cx="456.8" cy="161.9" r="0.85"/><circle cx="404.4" cy="161.6" r="0.85"/><circle cx="430.3" cy="162.1" r="0.85"/><circle cx="440.8" cy="159.2" r="0.85"/><circle cx="518.2" cy="144.1" r="0.85"/><circle cx="398.7" cy="148.9" r="0.85"/><circle cx="437" cy="159.3" r="0.85"/><circle cx="505.7" cy="157.5" r="0.85"/><circle cx="377.5" cy="149.3" r="0.85"/><circle cx="513.2" cy="161.4" r="0.85"/><circle cx="512.7" cy="156.5" r="0.85"/><circle cx="389.1" cy="162.7" r="0.85"/><circle cx="409.8" cy="162.4" r="0.85"/><circle cx="468.2" cy="158.5" r="0.85"/><circle cx="385" cy="158" r="0.85"/><circle cx="448.2" cy="161.3" r="0.85"/><circle cx="413" cy="162.2" r="0.85"/><circle cx="396.3" cy="158.7" r="0.85"/><circle cx="513.4" cy="162.5" r="0.85"/><circle cx="396" cy="162" r="0.85"/><circle cx="455" cy="162.2" r="0.85"/><circle cx="453.6" cy="161.3" r="0.85"/><circle cx="453.5" cy="154.5" r="0.85"/><circle cx="457" cy="162.1" r="0.85"/><circle cx="514.4" cy="162.1" r="0.85"/><circle cx="407.6" cy="160.3" r="0.85"/><circle cx="379.4" cy="159.5" r="0.85"/><circle cx="436.2" cy="161.8" r="0.85"/><circle cx="454.7" cy="161.6" r="0.85"/><circle cx="461.3" cy="162.4" r="0.85"/><circle cx="469.1" cy="162.4" r="0.85"/><circle cx="466.9" cy="162.3" r="0.85"/><circle cx="378.1" cy="161.5" r="0.85"/><circle cx="426.8" cy="161.5" r="0.85"/><circle cx="399.6" cy="153.9" r="0.85"/><circle cx="415.7" cy="162.6" r="0.85"/><circle cx="515" cy="160" r="0.85"/><circle cx="439.3" cy="159" r="0.85"/><circle cx="431.3" cy="162" r="0.85"/><circle cx="422.9" cy="162.3" r="0.85"/><circle cx="447.7" cy="161.4" r="0.85"/><circle cx="483.5" cy="160" r="0.85"/><circle cx="402.8" cy="162.1" r="0.85"/><circle cx="411.3" cy="154.9" r="0.85"/><circle cx="456.9" cy="158.4" r="0.85"/><circle cx="397.6" cy="158" r="0.85"/><circle cx="453.8" cy="162.1" r="0.85"/><circle cx="490" cy="141" r="0.85"/><circle cx="406.5" cy="150.4" r="0.85"/><circle cx="391.6" cy="162.5" r="0.85"/><circle cx="454" cy="158.6" r="0.85"/><circle cx="386.6" cy="157.1" r="0.85"/><circle cx="447.6" cy="156.3" r="0.85"/><circle cx="446.8" cy="162.3" r="0.85"/><circle cx="407.4" cy="152.5" r="0.85"/><circle cx="433.6" cy="161.2" r="0.85"/><circle cx="455.8" cy="154" r="0.85"/><circle cx="392.6" cy="160.8" r="0.85"/><circle cx="451.2" cy="150.1" r="0.85"/><circle cx="483.6" cy="157.4" r="0.85"/><circle cx="466.4" cy="161.5" r="0.85"/><circle cx="388.8" cy="62.4" r="0.85"/><circle cx="506.9" cy="153.2" r="0.85"/><circle cx="398.1" cy="151.4" r="0.85"/><circle cx="492.8" cy="149.2" r="0.85"/><circle cx="455.9" cy="160.4" r="0.85"/><circle cx="453.8" cy="162.3" r="0.85"/><circle cx="429.9" cy="161" r="0.85"/><circle cx="449.9" cy="161.7" r="0.85"/><circle cx="427" cy="161.8" r="0.85"/><circle cx="409.5" cy="161.5" r="0.85"/><circle cx="434" cy="156.9" r="0.85"/><circle cx="435.3" cy="159.1" r="0.85"/><circle cx="450.7" cy="155.8" r="0.85"/><circle cx="432.5" cy="159.4" r="0.85"/><circle cx="403.4" cy="160.9" r="0.85"/><circle cx="384.5" cy="161.9" r="0.85"/><circle cx="482.9" cy="162.4" r="0.85"/><circle cx="486.8" cy="160.6" r="0.85"/><circle cx="473.4" cy="162" r="0.85"/><circle cx="398" cy="161.8" r="0.85"/><circle cx="509.8" cy="151.1" r="0.85"/><circle cx="391.8" cy="97.9" r="0.85"/><circle cx="376.4" cy="161.2" r="0.85"/><circle cx="424.1" cy="160.3" r="0.85"/><circle cx="458.8" cy="159.8" r="0.85"/><circle cx="466.7" cy="161.7" r="0.85"/><circle cx="380.6" cy="160.4" r="0.85"/><circle cx="440.6" cy="162.7" r="0.85"/><circle cx="437.8" cy="157.8" r="0.85"/><circle cx="396" cy="131" r="0.85"/><circle cx="481.9" cy="157.7" r="0.85"/><circle cx="386.4" cy="146.5" r="0.85"/><circle cx="388.5" cy="159.7" r="0.85"/><circle cx="418.2" cy="157.6" r="0.85"/><circle cx="473.7" cy="159.7" r="0.85"/><circle cx="412.7" cy="160.4" r="0.85"/><circle cx="426.2" cy="160.6" r="0.85"/><circle cx="405" cy="161.3" r="0.85"/><circle cx="387.9" cy="162" r="0.85"/><circle cx="460.1" cy="157" r="0.85"/><circle cx="478.6" cy="161" r="0.85"/><circle cx="492.2" cy="159.5" r="0.85"/><circle cx="392" cy="138" r="0.85"/><circle cx="383.5" cy="161.1" r="0.85"/><circle cx="506.8" cy="160.9" r="0.85"/><circle cx="501.3" cy="160.6" r="0.85"/><circle cx="490.6" cy="159.8" r="0.85"/><circle cx="471.6" cy="162.4" r="0.85"/><circle cx="485.5" cy="160" r="0.85"/><circle cx="511.2" cy="153.7" r="0.85"/><circle cx="399.8" cy="161.8" r="0.85"/><circle cx="485.6" cy="157.5" r="0.85"/><circle cx="514.8" cy="162.3" r="0.85"/><circle cx="407" cy="162.4" r="0.85"/><circle cx="423.3" cy="160.2" r="0.85"/><circle cx="410.7" cy="156.9" r="0.85"/><circle cx="504.4" cy="162.3" r="0.85"/><circle cx="492.3" cy="157.6" r="0.85"/><circle cx="422.6" cy="162" r="0.85"/><circle cx="386.2" cy="160.2" r="0.85"/><circle cx="464" cy="161.2" r="0.85"/><circle cx="447.8" cy="162.3" r="0.85"/><circle cx="503.4" cy="162.3" r="0.85"/><circle cx="491" cy="162.7" r="0.85"/><circle cx="443.5" cy="162.7" r="0.85"/><circle cx="410.1" cy="155.6" r="0.85"/><circle cx="395.4" cy="160.1" r="0.85"/><circle cx="469.3" cy="159.8" r="0.85"/><circle cx="376.5" cy="162.4" r="0.85"/><circle cx="473.3" cy="160.8" r="0.85"/><circle cx="515.5" cy="162.4" r="0.85"/><circle cx="443.2" cy="158.2" r="0.85"/><circle cx="456.3" cy="161.6" r="0.85"/><circle cx="376.5" cy="161.2" r="0.85"/><circle cx="392.6" cy="150.1" r="0.85"/><circle cx="498.2" cy="162.7" r="0.85"/><circle cx="440.7" cy="159.3" r="0.85"/><circle cx="494" cy="161.1" r="0.85"/><circle cx="467.9" cy="158.7" r="0.85"/><circle cx="420" cy="137" r="0.85"/><circle cx="457.6" cy="162.1" r="0.85"/><circle cx="434.7" cy="162.6" r="0.85"/><circle cx="483.9" cy="162.2" r="0.85"/><circle cx="464" cy="159.2" r="0.85"/><circle cx="506.7" cy="158.2" r="0.85"/><circle cx="412.3" cy="142.3" r="0.85"/><circle cx="481.7" cy="156.3" r="0.85"/><circle cx="391.1" cy="162.5" r="0.85"/><circle cx="400" cy="161.5" r="0.85"/><circle cx="513.1" cy="160.8" r="0.85"/><circle cx="464.8" cy="161.1" r="0.85"/><circle cx="431.1" cy="162.2" r="0.85"/><circle cx="476.8" cy="144.1" r="0.85"/><circle cx="489.2" cy="154" r="0.85"/><circle cx="389.7" cy="162.1" r="0.85"/><circle cx="430.2" cy="162.4" r="0.85"/><circle cx="430.5" cy="159.4" r="0.85"/><circle cx="417.9" cy="140.6" r="0.85"/><circle cx="470.4" cy="161.9" r="0.85"/><circle cx="514.1" cy="160.9" r="0.85"/><circle cx="397.6" cy="161.5" r="0.85"/><circle cx="493.8" cy="154" r="0.85"/><circle cx="426.7" cy="162.3" r="0.85"/><circle cx="376.9" cy="146.9" r="0.85"/><circle cx="416.8" cy="162.6" r="0.85"/><circle cx="389.2" cy="160.5" r="0.85"/><circle cx="455" cy="162.2" r="0.85"/><circle cx="513.8" cy="160.1" r="0.85"/><circle cx="511.3" cy="160.8" r="0.85"/><circle cx="497.9" cy="161.2" r="0.85"/><circle cx="462.5" cy="161.3" r="0.85"/><circle cx="495.5" cy="158.1" r="0.85"/><circle cx="515.6" cy="161.5" r="0.85"/><circle cx="508.7" cy="162.3" r="0.85"/><circle cx="499.4" cy="161.6" r="0.85"/><circle cx="512.6" cy="162.3" r="0.85"/><circle cx="483" cy="157.3" r="0.85"/><circle cx="469.1" cy="158.3" r="0.85"/><circle cx="406.8" cy="152.3" r="0.85"/><circle cx="417.1" cy="161" r="0.85"/><circle cx="509.9" cy="153.1" r="0.85"/><circle cx="394.2" cy="162.7" r="0.85"/><circle cx="484.8" cy="160.5" r="0.85"/><circle cx="394.3" cy="154.7" r="0.85"/><circle cx="460.3" cy="159.8" r="0.85"/><circle cx="449" cy="162.3" r="0.85"/><circle cx="424" cy="57.7" r="0.85"/><circle cx="495.5" cy="158.5" r="0.85"/><circle cx="447.8" cy="162.5" r="0.85"/><circle cx="516.4" cy="151.8" r="0.85"/><circle cx="516.6" cy="159.7" r="0.85"/><circle cx="446.3" cy="151.6" r="0.85"/><circle cx="396.6" cy="147.4" r="0.85"/><circle cx="414.8" cy="160.9" r="0.85"/><circle cx="387.2" cy="162.5" r="0.85"/><circle cx="400.9" cy="161.5" r="0.85"/><circle cx="467.1" cy="160.7" r="0.85"/><circle cx="470.8" cy="162.6" r="0.85"/><circle cx="483" cy="161.7" r="0.85"/><circle cx="499.6" cy="158.1" r="0.85"/><circle cx="416.2" cy="162.3" r="0.85"/><circle cx="482.4" cy="135" r="0.85"/><circle cx="406.4" cy="160.8" r="0.85"/><circle cx="426.9" cy="155.5" r="0.85"/><circle cx="385.7" cy="158.4" r="0.85"/><circle cx="407.4" cy="157.1" r="0.85"/><circle cx="409.2" cy="159.1" r="0.85"/><circle cx="402" cy="160.8" r="0.85"/><circle cx="467.6" cy="159" r="0.85"/><circle cx="405.6" cy="155.8" r="0.85"/><circle cx="511.9" cy="158.9" r="0.85"/><circle cx="507.8" cy="161.6" r="0.85"/><circle cx="376.9" cy="159.5" r="0.85"/><circle cx="416.2" cy="162.4" r="0.85"/><circle cx="382" cy="153.2" r="0.85"/><circle cx="417.6" cy="161.6" r="0.85"/><circle cx="466.4" cy="156.5" r="0.85"/><circle cx="393" cy="156.9" r="0.85"/><circle cx="377.3" cy="150.9" r="0.85"/><circle cx="517.5" cy="161" r="0.85"/><circle cx="516.9" cy="157.5" r="0.85"/><circle cx="500" cy="161.9" r="0.85"/><circle cx="390.3" cy="161.7" r="0.85"/><circle cx="378" cy="162.4" r="0.85"/><circle cx="487.6" cy="162.5" r="0.85"/><circle cx="508.4" cy="161.3" r="0.85"/><circle cx="450.3" cy="160.2" r="0.85"/><circle cx="468.7" cy="160.4" r="0.85"/><circle cx="462.6" cy="162.2" r="0.85"/><circle cx="415" cy="153.7" r="0.85"/><circle cx="409.5" cy="155.6" r="0.85"/><circle cx="427.9" cy="158.4" r="0.85"/><circle cx="459.4" cy="161.8" r="0.85"/><circle cx="378.5" cy="127.3" r="0.85"/><circle cx="412.4" cy="159.3" r="0.85"/><circle cx="452.7" cy="162.3" r="0.85"/><circle cx="417.1" cy="161.3" r="0.85"/><circle cx="435.2" cy="162.3" r="0.85"/><circle cx="516" cy="158.9" r="0.85"/><circle cx="385.3" cy="156" r="0.85"/><circle cx="484.1" cy="159.6" r="0.85"/><circle cx="495" cy="161.8" r="0.85"/><circle cx="445.4" cy="161.7" r="0.85"/><circle cx="429.9" cy="156.1" r="0.85"/><circle cx="427.7" cy="162.1" r="0.85"/><circle cx="481.2" cy="156.6" r="0.85"/><circle cx="452.9" cy="160.8" r="0.85"/><circle cx="483.2" cy="160.9" r="0.85"/><circle cx="517.4" cy="162.7" r="0.85"/><circle cx="385" cy="161.3" r="0.85"/><circle cx="515.4" cy="161.7" r="0.85"/><circle cx="467.4" cy="158.4" r="0.85"/><circle cx="424.3" cy="161.5" r="0.85"/><circle cx="379.5" cy="159.9" r="0.85"/><circle cx="428" cy="161.9" r="0.85"/><circle cx="462.2" cy="162.6" r="0.85"/><circle cx="490.1" cy="160.1" r="0.85"/><circle cx="421.2" cy="160.8" r="0.85"/><circle cx="386.6" cy="162.5" r="0.85"/><circle cx="456.4" cy="161.4" r="0.85"/><circle cx="419.1" cy="161.1" r="0.85"/><circle cx="407.4" cy="153.5" r="0.85"/><circle cx="502.1" cy="151.9" r="0.85"/><circle cx="508.2" cy="158.6" r="0.85"/><circle cx="396.8" cy="156.4" r="0.85"/><circle cx="418.4" cy="160.8" r="0.85"/><circle cx="402.2" cy="162.2" r="0.85"/><circle cx="410.5" cy="150.9" r="0.85"/><circle cx="516.8" cy="156.3" r="0.85"/><circle cx="400.1" cy="162.2" r="0.85"/><circle cx="390.9" cy="162.4" r="0.85"/><circle cx="431.8" cy="160.6" r="0.85"/><circle cx="401.4" cy="160.3" r="0.85"/><circle cx="488.9" cy="162.7" r="0.85"/><circle cx="428.8" cy="161" r="0.85"/><circle cx="435.9" cy="153.6" r="0.85"/><circle cx="463.9" cy="162.2" r="0.85"/><circle cx="463" cy="155.1" r="0.85"/><circle cx="484.3" cy="161.6" r="0.85"/><circle cx="472.5" cy="162.5" r="0.85"/><circle cx="450.8" cy="162.5" r="0.85"/><circle cx="496.1" cy="160.4" r="0.85"/><circle cx="402.9" cy="159.2" r="0.85"/><circle cx="485.3" cy="157.9" r="0.85"/><circle cx="483.4" cy="162.1" r="0.85"/><circle cx="421.3" cy="162.5" r="0.85"/><circle cx="397.9" cy="162.4" r="0.85"/><circle cx="460.3" cy="160" r="0.85"/><circle cx="460.4" cy="160.9" r="0.85"/><circle cx="395.3" cy="161.6" r="0.85"/><circle cx="484.8" cy="162.6" r="0.85"/><circle cx="404" cy="161.7" r="0.85"/><circle cx="478" cy="137" r="0.85"/><circle cx="470.5" cy="158.4" r="0.85"/><circle cx="485.6" cy="158.6" r="0.85"/><circle cx="411.9" cy="144.6" r="0.85"/><circle cx="451.7" cy="161.6" r="0.85"/><circle cx="434.5" cy="161.9" r="0.85"/><circle cx="451.9" cy="159.3" r="0.85"/><circle cx="474.5" cy="162" r="0.85"/><circle cx="412.4" cy="162.1" r="0.85"/><circle cx="485.3" cy="161.4" r="0.85"/><circle cx="381.1" cy="160.1" r="0.85"/><circle cx="515.9" cy="159.8" r="0.85"/><circle cx="507.5" cy="155.6" r="0.85"/><circle cx="433.5" cy="161.5" r="0.85"/><circle cx="427.6" cy="161.3" r="0.85"/><circle cx="485.8" cy="126.7" r="0.85"/><circle cx="509.2" cy="159.4" r="0.85"/><circle cx="475.3" cy="161.4" r="0.85"/><circle cx="508.6" cy="162.1" r="0.85"/><circle cx="430.8" cy="161.8" r="0.85"/><circle cx="493.6" cy="161.7" r="0.85"/><circle cx="452.9" cy="160.7" r="0.85"/><circle cx="399.7" cy="161.7" r="0.85"/><circle cx="385.3" cy="162" r="0.85"/><circle cx="398.7" cy="160.4" r="0.85"/><circle cx="381.3" cy="162.3" r="0.85"/><circle cx="515" cy="162" r="0.85"/><circle cx="515.7" cy="162" r="0.85"/><circle cx="412.7" cy="148.2" r="0.85"/><circle cx="453.3" cy="161.5" r="0.85"/><circle cx="467.7" cy="144.8" r="0.85"/><circle cx="504" cy="162.7" r="0.85"/><circle cx="478.6" cy="162.3" r="0.85"/><circle cx="388.6" cy="161.5" r="0.85"/><circle cx="432.8" cy="140.5" r="0.85"/><circle cx="401.9" cy="162" r="0.85"/><circle cx="376.7" cy="138.8" r="0.85"/><circle cx="440.2" cy="161.1" r="0.85"/><circle cx="406.4" cy="154.2" r="0.85"/><circle cx="472.4" cy="162.2" r="0.85"/><circle cx="492.7" cy="160.5" r="0.85"/><circle cx="408" cy="158" r="0.85"/><circle cx="496.6" cy="161" r="0.85"/><circle cx="426.4" cy="160.8" r="0.85"/><circle cx="442" cy="162.7" r="0.85"/><circle cx="488.1" cy="160.4" r="0.85"/><circle cx="517.2" cy="161.8" r="0.85"/><circle cx="482.7" cy="161.8" r="0.85"/><circle cx="488.2" cy="161.3" r="0.85"/><circle cx="481" cy="158.3" r="0.85"/><circle cx="448.8" cy="162.5" r="0.85"/><circle cx="475" cy="161.8" r="0.85"/><circle cx="497.5" cy="160.7" r="0.85"/><circle cx="475.1" cy="161.7" r="0.85"/><circle cx="393.5" cy="162.2" r="0.85"/><circle cx="514.2" cy="162.4" r="0.85"/><circle cx="467.6" cy="160.5" r="0.85"/><circle cx="421" cy="162.7" r="0.85"/><circle cx="468.2" cy="162.6" r="0.85"/><circle cx="383" cy="160.8" r="0.85"/><circle cx="383.5" cy="160.4" r="0.85"/><circle cx="431.2" cy="158.8" r="0.85"/><circle cx="505.8" cy="152.2" r="0.85"/><circle cx="424.1" cy="161.2" r="0.85"/><circle cx="422.1" cy="161.9" r="0.85"/><circle cx="465.9" cy="162.2" r="0.85"/><circle cx="394.9" cy="159.9" r="0.85"/><circle cx="399.7" cy="147" r="0.85"/><circle cx="461.9" cy="159.6" r="0.85"/><circle cx="491.1" cy="161.4" r="0.85"/><circle cx="425.2" cy="159.6" r="0.85"/><circle cx="482" cy="159.4" r="0.85"/><circle cx="456.7" cy="162" r="0.85"/><circle cx="490.6" cy="162.5" r="0.85"/><circle cx="431.9" cy="160.4" r="0.85"/><circle cx="510.8" cy="155.7" r="0.85"/><circle cx="449.9" cy="161.4" r="0.85"/><circle cx="411.4" cy="158.6" r="0.85"/><circle cx="455" cy="143.8" r="0.85"/><circle cx="396.9" cy="162" r="0.85"/><circle cx="386.4" cy="160.1" r="0.85"/><circle cx="419.8" cy="146.7" r="0.85"/><circle cx="392.3" cy="162.1" r="0.85"/><circle cx="506" cy="157.4" r="0.85"/><circle cx="493.5" cy="160.6" r="0.85"/><circle cx="428.4" cy="162.5" r="0.85"/><circle cx="454.6" cy="160.7" r="0.85"/><circle cx="516.1" cy="162.1" r="0.85"/><circle cx="412.8" cy="158.4" r="0.85"/><circle cx="512.7" cy="161.5" r="0.85"/><circle cx="401.3" cy="162.6" r="0.85"/><circle cx="378.4" cy="161.8" r="0.85"/><circle cx="377.8" cy="159.6" r="0.85"/><circle cx="511.5" cy="155.2" r="0.85"/><circle cx="431.5" cy="161.6" r="0.85"/><circle cx="504.3" cy="160.8" r="0.85"/><circle cx="385" cy="156.4" r="0.85"/><circle cx="445.6" cy="162.3" r="0.85"/><circle cx="405.9" cy="159.4" r="0.85"/><circle cx="467" cy="161" r="0.85"/><circle cx="477" cy="159.6" r="0.85"/><circle cx="455" cy="138" r="0.85"/><circle cx="461.1" cy="162" r="0.85"/><circle cx="465.9" cy="162.3" r="0.85"/><circle cx="439.2" cy="162.7" r="0.85"/><circle cx="449.7" cy="154.4" r="0.85"/><circle cx="474.8" cy="158.8" r="0.85"/><circle cx="426.3" cy="161.4" r="0.85"/><circle cx="422" cy="156.4" r="0.85"/><circle cx="456.9" cy="161.5" r="0.85"/><circle cx="429.3" cy="160.8" r="0.85"/><circle cx="446.5" cy="162.2" r="0.85"/><circle cx="510.7" cy="160.8" r="0.85"/><circle cx="415" cy="158.3" r="0.85"/><circle cx="424.8" cy="160.4" r="0.85"/><circle cx="469.4" cy="161" r="0.85"/><circle cx="463.7" cy="150.4" r="0.85"/><circle cx="516.3" cy="162.3" r="0.85"/><circle cx="396.2" cy="162" r="0.85"/><circle cx="451.5" cy="157.1" r="0.85"/><circle cx="499.1" cy="148.7" r="0.85"/><circle cx="495.8" cy="77.6" r="0.85"/><circle cx="491" cy="162.4" r="0.85"/><circle cx="412.8" cy="162.3" r="0.85"/><circle cx="482.9" cy="161.1" r="0.85"/><circle cx="433.8" cy="162.2" r="0.85"/><circle cx="391.3" cy="162.3" r="0.85"/><circle cx="453.3" cy="154.5" r="0.85"/><circle cx="408" cy="140" r="0.85"/><circle cx="417.2" cy="162.1" r="0.85"/><circle cx="513.6" cy="161.6" r="0.85"/><circle cx="413.5" cy="162.1" r="0.85"/><circle cx="395.5" cy="162.4" r="0.85"/><circle cx="392.4" cy="162.3" r="0.85"/><circle cx="480.6" cy="162.3" r="0.85"/><circle cx="495.5" cy="153.4" r="0.85"/><circle cx="412" cy="159.3" r="0.85"/><circle cx="421.6" cy="161.8" r="0.85"/><circle cx="499" cy="162.3" r="0.85"/><circle cx="498.7" cy="162.1" r="0.85"/><circle cx="492.8" cy="162.7" r="0.85"/><circle cx="452.1" cy="154.2" r="0.85"/><circle cx="406.3" cy="159.9" r="0.85"/><circle cx="405.6" cy="159.8" r="0.85"/><circle cx="381.5" cy="161" r="0.85"/><circle cx="455.7" cy="161.4" r="0.85"/><circle cx="387.6" cy="158.1" r="0.85"/><circle cx="419" cy="162.4" r="0.85"/><circle cx="393.7" cy="154.1" r="0.85"/><circle cx="409.9" cy="162.4" r="0.85"/><circle cx="495.1" cy="161.2" r="0.85"/><circle cx="480" cy="142.3" r="0.85"/><circle cx="386.2" cy="159.1" r="0.85"/><circle cx="402" cy="161" r="0.85"/><circle cx="485.7" cy="160.4" r="0.85"/><circle cx="507.7" cy="162.1" r="0.85"/><circle cx="406.9" cy="161.9" r="0.85"/><circle cx="496.5" cy="160.8" r="0.85"/><circle cx="462.5" cy="154" r="0.85"/><circle cx="449.9" cy="153" r="0.85"/><circle cx="489.8" cy="158.6" r="0.85"/><circle cx="476" cy="140.1" r="0.85"/><circle cx="400.2" cy="157.2" r="0.85"/><circle cx="388.2" cy="162.5" r="0.85"/><circle cx="418.9" cy="158.8" r="0.85"/><circle cx="450.7" cy="160.9" r="0.85"/><circle cx="494" cy="162.7" r="0.85"/><circle cx="449.8" cy="155.7" r="0.85"/><circle cx="390.6" cy="156.7" r="0.85"/><circle cx="383.1" cy="162" r="0.85"/><circle cx="475.9" cy="162.1" r="0.85"/><circle cx="436.5" cy="162.3" r="0.85"/><circle cx="393.3" cy="155.8" r="0.85"/><circle cx="423.5" cy="160" r="0.85"/><circle cx="434.4" cy="148.6" r="0.85"/><circle cx="486.9" cy="162.5" r="0.85"/><circle cx="451.5" cy="162.2" r="0.85"/><circle cx="466.5" cy="162.6" r="0.85"/><circle cx="459.5" cy="160.3" r="0.85"/><circle cx="445.3" cy="150.7" r="0.85"/><circle cx="408.6" cy="156.4" r="0.85"/><circle cx="435.1" cy="160.6" r="0.85"/><circle cx="383.4" cy="161.9" r="0.85"/><circle cx="381.4" cy="159.9" r="0.85"/><circle cx="446.6" cy="146.9" r="0.85"/><circle cx="499.1" cy="160.6" r="0.85"/><circle cx="449.9" cy="162.4" r="0.85"/><circle cx="495.7" cy="159.7" r="0.85"/><circle cx="516.1" cy="162.5" r="0.85"/><circle cx="466.8" cy="157" r="0.85"/><circle cx="406.9" cy="160.9" r="0.85"/><circle cx="422.9" cy="150" r="0.85"/><circle cx="415.6" cy="154.6" r="0.85"/><circle cx="514" cy="139" r="0.85"/><circle cx="450.4" cy="159.5" r="0.85"/><circle cx="460" cy="161.4" r="0.85"/><circle cx="418.1" cy="160.4" r="0.85"/><circle cx="435.2" cy="161.9" r="0.85"/><circle cx="376.7" cy="159.5" r="0.85"/><circle cx="447" cy="159.5" r="0.85"/><circle cx="427.5" cy="160.4" r="0.85"/><circle cx="398.7" cy="161.5" r="0.85"/><circle cx="450.3" cy="159.6" r="0.85"/><circle cx="397.7" cy="162.3" r="0.85"/><circle cx="380.4" cy="152.5" r="0.85"/><circle cx="405.9" cy="162.6" r="0.85"/><circle cx="385.6" cy="159.2" r="0.85"/><circle cx="391.8" cy="161" r="0.85"/><circle cx="394.8" cy="161.1" r="0.85"/><circle cx="388.4" cy="160.2" r="0.85"/><circle cx="491.2" cy="158.1" r="0.85"/><circle cx="378.5" cy="120.6" r="0.85"/><circle cx="473.9" cy="161.8" r="0.85"/><circle cx="493.6" cy="161" r="0.85"/><circle cx="387" cy="162" r="0.85"/><circle cx="412" cy="151.5" r="0.85"/><circle cx="515.1" cy="150.2" r="0.85"/><circle cx="434" cy="161" r="0.85"/><circle cx="420.9" cy="161.7" r="0.85"/><circle cx="419.3" cy="160.4" r="0.85"/><circle cx="500" cy="161.7" r="0.85"/><circle cx="515.3" cy="160.2" r="0.85"/><circle cx="488.1" cy="157.2" r="0.85"/><circle cx="515.6" cy="158.9" r="0.85"/><circle cx="389.6" cy="161" r="0.85"/><circle cx="500.2" cy="156.9" r="0.85"/><circle cx="490.7" cy="161" r="0.85"/><circle cx="454.4" cy="160.1" r="0.85"/><circle cx="397.4" cy="159.2" r="0.85"/><circle cx="378.1" cy="161.4" r="0.85"/><circle cx="481.3" cy="159.3" r="0.85"/><circle cx="500.2" cy="161.7" r="0.85"/><circle cx="515.1" cy="160.5" r="0.85"/><circle cx="434.5" cy="159.2" r="0.85"/><circle cx="442.7" cy="162.4" r="0.85"/><circle cx="396.7" cy="156.6" r="0.85"/><circle cx="500.6" cy="146" r="0.85"/><circle cx="427.6" cy="119.7" r="0.85"/><circle cx="470" cy="140" r="0.85"/><circle cx="513.5" cy="162.5" r="0.85"/><circle cx="515.4" cy="155.9" r="0.85"/><circle cx="424.9" cy="157.6" r="0.85"/><circle cx="424.6" cy="162.3" r="0.85"/><circle cx="425.9" cy="162.6" r="0.85"/><circle cx="434.6" cy="149.8" r="0.85"/><circle cx="467" cy="162.2" r="0.85"/><circle cx="514.1" cy="162.1" r="0.85"/><circle cx="454.2" cy="158.5" r="0.85"/><circle cx="462.6" cy="156.4" r="0.85"/><circle cx="504.7" cy="161.9" r="0.85"/><circle cx="394.3" cy="157" r="0.85"/><circle cx="468" cy="161.9" r="0.85"/><circle cx="506" cy="162.3" r="0.85"/><circle cx="507" cy="162.2" r="0.85"/><circle cx="444" cy="160" r="0.85"/><circle cx="427.4" cy="161.9" r="0.85"/><circle cx="386.3" cy="144.6" r="0.85"/><circle cx="402.7" cy="162.3" r="0.85"/><circle cx="405.3" cy="160.2" r="0.85"/><circle cx="508.3" cy="160.2" r="0.85"/><circle cx="466.6" cy="162.7" r="0.85"/><circle cx="450.1" cy="157.7" r="0.85"/><circle cx="473.6" cy="161" r="0.85"/><circle cx="397.6" cy="159.7" r="0.85"/><circle cx="492.2" cy="162.6" r="0.85"/><circle cx="413.2" cy="161.1" r="0.85"/><circle cx="385" cy="128.2" r="0.85"/><circle cx="410" cy="162.7" r="0.85"/><circle cx="514.8" cy="154.3" r="0.85"/><circle cx="466.8" cy="160.7" r="0.85"/><circle cx="404.9" cy="161.3" r="0.85"/><circle cx="382.5" cy="161.9" r="0.85"/><circle cx="510.6" cy="156.3" r="0.85"/><circle cx="411.7" cy="160.2" r="0.85"/><circle cx="382.8" cy="155.7" r="0.85"/><circle cx="504.8" cy="160.9" r="0.85"/><circle cx="492.4" cy="153.3" r="0.85"/><circle cx="492.6" cy="160.8" r="0.85"/><circle cx="495.6" cy="156.9" r="0.85"/><circle cx="480.1" cy="156.8" r="0.85"/><circle cx="433.8" cy="159.9" r="0.85"/><circle cx="438.8" cy="152.7" r="0.85"/><circle cx="385" cy="154.5" r="0.85"/><circle cx="467.4" cy="162.1" r="0.85"/><circle cx="444.9" cy="162.1" r="0.85"/><circle cx="394.8" cy="161.7" r="0.85"/><circle cx="504.7" cy="160.2" r="0.85"/><circle cx="455.4" cy="136.3" r="0.85"/><circle cx="488.7" cy="161.6" r="0.85"/><circle cx="416.5" cy="147.7" r="0.85"/><circle cx="481.1" cy="158.6" r="0.85"/><circle cx="500" cy="138" r="0.85"/><circle cx="513.8" cy="160.5" r="0.85"/><circle cx="489.6" cy="160.6" r="0.85"/><circle cx="392.8" cy="159.1" r="0.85"/><circle cx="481" cy="162.5" r="0.85"/><circle cx="392.5" cy="160.3" r="0.85"/><circle cx="465.9" cy="161.7" r="0.85"/><circle cx="453.9" cy="162.4" r="0.85"/><circle cx="375.8" cy="158.2" r="0.85"/><circle cx="515.9" cy="161.4" r="0.85"/><circle cx="501.3" cy="161.3" r="0.85"/><circle cx="491.2" cy="161.7" r="0.85"/><circle cx="511.2" cy="156.8" r="0.85"/><circle cx="474.5" cy="162.3" r="0.85"/><circle cx="424.5" cy="162.7" r="0.85"/><circle cx="445.2" cy="153" r="0.85"/><circle cx="444.2" cy="159.5" r="0.85"/><circle cx="474.1" cy="160.6" r="0.85"/><circle cx="505.5" cy="158.2" r="0.85"/><circle cx="394.2" cy="158.1" r="0.85"/><circle cx="395.5" cy="161" r="0.85"/><circle cx="468.1" cy="162.6" r="0.85"/><circle cx="491.2" cy="158.6" r="0.85"/><circle cx="445" cy="148.9" r="0.85"/><circle cx="393" cy="160.7" r="0.85"/><circle cx="512.8" cy="161.7" r="0.85"/><circle cx="440.8" cy="151.2" r="0.85"/><circle cx="394.4" cy="160.4" r="0.85"/><circle cx="407.4" cy="160.5" r="0.85"/><circle cx="381.4" cy="159.6" r="0.85"/><circle cx="422.2" cy="159.2" r="0.85"/><circle cx="437.2" cy="162.5" r="0.85"/><circle cx="383.6" cy="160.8" r="0.85"/><circle cx="417.1" cy="152.5" r="0.85"/><circle cx="468.8" cy="162" r="0.85"/><circle cx="490.5" cy="159" r="0.85"/><circle cx="439.9" cy="158.2" r="0.85"/><circle cx="458.4" cy="162.5" r="0.85"/><circle cx="452.3" cy="162.5" r="0.85"/><circle cx="406" cy="161.8" r="0.85"/><circle cx="462" cy="135" r="0.85"/><circle cx="418.4" cy="161.3" r="0.85"/><circle cx="472.1" cy="157.5" r="0.85"/><circle cx="392.6" cy="161.9" r="0.85"/><circle cx="413.6" cy="161.5" r="0.85"/><circle cx="396.3" cy="161.5" r="0.85"/><circle cx="396" cy="160.9" r="0.85"/><circle cx="485.7" cy="161.1" r="0.85"/><circle cx="434.9" cy="156.7" r="0.85"/><circle cx="467.4" cy="161.7" r="0.85"/><circle cx="384.8" cy="154.6" r="0.85"/><circle cx="407.6" cy="162.3" r="0.85"/><circle cx="478.4" cy="161.9" r="0.85"/><circle cx="497.1" cy="158.7" r="0.85"/><circle cx="447.7" cy="161.8" r="0.85"/><circle cx="469.3" cy="159" r="0.85"/><circle cx="450.2" cy="160.8" r="0.85"/><circle cx="404.5" cy="162.1" r="0.85"/><circle cx="386.7" cy="152.1" r="0.85"/><circle cx="376.5" cy="161.2" r="0.85"/><circle cx="518" cy="152" r="0.85"/><circle cx="517.8" cy="162.6" r="0.85"/><circle cx="426.1" cy="137.5" r="0.85"/><circle cx="378.8" cy="159.6" r="0.85"/><circle cx="431.6" cy="160.8" r="0.85"/><circle cx="442.7" cy="161.1" r="0.85"/><circle cx="377.7" cy="156.8" r="0.85"/><circle cx="409.9" cy="159.7" r="0.85"/><circle cx="412" cy="160.6" r="0.85"/><circle cx="503.1" cy="162.3" r="0.85"/><circle cx="425.4" cy="158.3" r="0.85"/><circle cx="493" cy="157.5" r="0.85"/><circle cx="450.3" cy="129.7" r="0.85"/><circle cx="402.3" cy="161.8" r="0.85"/><circle cx="443.1" cy="159.4" r="0.85"/><circle cx="475" cy="162.4" r="0.85"/><circle cx="395.2" cy="136.1" r="0.85"/><circle cx="473.7" cy="162.4" r="0.85"/><circle cx="406.7" cy="149" r="0.85"/><circle cx="411.7" cy="158.5" r="0.85"/><circle cx="498" cy="160.8" r="0.85"/><circle cx="377.1" cy="161.4" r="0.85"/><circle cx="462.6" cy="147.3" r="0.85"/><circle cx="398.4" cy="159.7" r="0.85"/><circle cx="463.3" cy="139.8" r="0.85"/><circle cx="400.8" cy="158.1" r="0.85"/><circle cx="443.6" cy="158.9" r="0.85"/><circle cx="496.3" cy="157.3" r="0.85"/><circle cx="386.8" cy="162.2" r="0.85"/><circle cx="432" cy="139" r="0.85"/><circle cx="400.2" cy="161.2" r="0.85"/><circle cx="451.3" cy="146" r="0.85"/><circle cx="437.4" cy="158.9" r="0.85"/><circle cx="397.8" cy="162.5" r="0.85"/><circle cx="496.3" cy="148.4" r="0.85"/><circle cx="483.7" cy="160.1" r="0.85"/><circle cx="506.1" cy="162.1" r="0.85"/><circle cx="386.1" cy="156.6" r="0.85"/><circle cx="429.5" cy="160.7" r="0.85"/><circle cx="420" cy="157.9" r="0.85"/><circle cx="452.3" cy="160" r="0.85"/><circle cx="403.1" cy="161.3" r="0.85"/><circle cx="517.3" cy="151.8" r="0.85"/><circle cx="469.9" cy="161.4" r="0.85"/><circle cx="497.7" cy="161.8" r="0.85"/><circle cx="446.2" cy="157.4" r="0.85"/><circle cx="394.4" cy="162.5" r="0.85"/><circle cx="390.9" cy="161.7" r="0.85"/><circle cx="458.3" cy="161.3" r="0.85"/><circle cx="481.5" cy="155.8" r="0.85"/><circle cx="457.5" cy="162.1" r="0.85"/><circle cx="431.7" cy="161.5" r="0.85"/><circle cx="419.9" cy="156.1" r="0.85"/><circle cx="466.3" cy="153.5" r="0.85"/><circle cx="484.9" cy="160.6" r="0.85"/><circle cx="384.9" cy="162.2" r="0.85"/><circle cx="375.7" cy="158.8" r="0.85"/><circle cx="430.9" cy="161.2" r="0.85"/><circle cx="443.9" cy="162.6" r="0.85"/><circle cx="480.1" cy="161.1" r="0.85"/><circle cx="451.8" cy="160.9" r="0.85"/><circle cx="445.2" cy="162" r="0.85"/><circle cx="386.2" cy="152.3" r="0.85"/><circle cx="493.5" cy="161.3" r="0.85"/><circle cx="434.8" cy="160" r="0.85"/><circle cx="376.5" cy="159.5" r="0.85"/><circle cx="385.5" cy="162.1" r="0.85"/><circle cx="377.2" cy="162.7" r="0.85"/><circle cx="391.7" cy="160.7" r="0.85"/><circle cx="507.7" cy="158.6" r="0.85"/><circle cx="421.7" cy="151.2" r="0.85"/><circle cx="506" cy="133" r="0.85"/><circle cx="490.4" cy="160.7" r="0.85"/><circle cx="385.5" cy="160.8" r="0.85"/><circle cx="429.7" cy="160.5" r="0.85"/><circle cx="477.4" cy="151.8" r="0.85"/><circle cx="484.7" cy="162.7" r="0.85"/><circle cx="439.6" cy="161.7" r="0.85"/><circle cx="378.8" cy="147.1" r="0.85"/><circle cx="517" cy="52" r="0.85"/><circle cx="394" cy="161.9" r="0.85"/><circle cx="418.7" cy="154.6" r="0.85"/><circle cx="400.2" cy="162.6" r="0.85"/><circle cx="463.2" cy="162.6" r="0.85"/><circle cx="436" cy="56.5" r="0.85"/><circle cx="427" cy="162.2" r="0.85"/><circle cx="397.7" cy="160.5" r="0.85"/><circle cx="392.1" cy="158.5" r="0.85"/><circle cx="400.2" cy="159.6" r="0.85"/><circle cx="443.1" cy="160.3" r="0.85"/><circle cx="500.1" cy="161.8" r="0.85"/><circle cx="386.6" cy="162.4" r="0.85"/><circle cx="386" cy="161.3" r="0.85"/><circle cx="466.6" cy="162.1" r="0.85"/><circle cx="454" cy="161.8" r="0.85"/><circle cx="486" cy="159.4" r="0.85"/><circle cx="380.7" cy="161.8" r="0.85"/><circle cx="402.3" cy="162.3" r="0.85"/><circle cx="469.4" cy="161.9" r="0.85"/><circle cx="473.2" cy="161.8" r="0.85"/><circle cx="514.4" cy="159.3" r="0.85"/><circle cx="482.7" cy="155.3" r="0.85"/><circle cx="378.1" cy="159.5" r="0.85"/><circle cx="498.1" cy="162.1" r="0.85"/><circle cx="429" cy="161.2" r="0.85"/><circle cx="511.7" cy="162.5" r="0.85"/><circle cx="391.4" cy="160" r="0.85"/><circle cx="394.5" cy="162" r="0.85"/><circle cx="407.6" cy="162.5" r="0.85"/><circle cx="398.3" cy="157.4" r="0.85"/><circle cx="397.8" cy="161.7" r="0.85"/><circle cx="454.5" cy="158.5" r="0.85"/><circle cx="457.9" cy="161.1" r="0.85"/><circle cx="452.3" cy="162.6" r="0.85"/><circle cx="475.2" cy="153.5" r="0.85"/><circle cx="377.6" cy="148" r="0.85"/><circle cx="449.4" cy="156.7" r="0.85"/><circle cx="437.8" cy="162.6" r="0.85"/><circle cx="453.8" cy="145.9" r="0.85"/><circle cx="443" cy="157.5" r="0.85"/><circle cx="484.3" cy="161.1" r="0.85"/><circle cx="394.5" cy="160.4" r="0.85"/><circle cx="455.1" cy="150.3" r="0.85"/><circle cx="503.4" cy="159.2" r="0.85"/><circle cx="463.2" cy="154.3" r="0.85"/><circle cx="465.9" cy="161.8" r="0.85"/><circle cx="504.4" cy="161.4" r="0.85"/><circle cx="438.7" cy="162.4" r="0.85"/><circle cx="400.7" cy="162.1" r="0.85"/><circle cx="497.8" cy="161.7" r="0.85"/><circle cx="516.4" cy="159.6" r="0.85"/><circle cx="380.4" cy="162.2" r="0.85"/><circle cx="516.1" cy="160" r="0.85"/><circle cx="457.6" cy="160.4" r="0.85"/><circle cx="467.4" cy="160.7" r="0.85"/><circle cx="495.7" cy="155.2" r="0.85"/><circle cx="413.8" cy="157.8" r="0.85"/><circle cx="515.2" cy="159.8" r="0.85"/><circle cx="433.6" cy="158.3" r="0.85"/><circle cx="412.1" cy="161.6" r="0.85"/><circle cx="459.4" cy="162.6" r="0.85"/><circle cx="426.1" cy="162" r="0.85"/><circle cx="517.3" cy="162.1" r="0.85"/><circle cx="453.3" cy="155.3" r="0.85"/><circle cx="489" cy="161.6" r="0.85"/><circle cx="459.8" cy="155.1" r="0.85"/><circle cx="500.8" cy="159.9" r="0.85"/><circle cx="417" cy="152" r="0.85"/><circle cx="498.6" cy="162.3" r="0.85"/><circle cx="469.3" cy="162.3" r="0.85"/><circle cx="488.7" cy="161.8" r="0.85"/><circle cx="397.5" cy="161.4" r="0.85"/><circle cx="512.2" cy="159.4" r="0.85"/><circle cx="509.6" cy="162.5" r="0.85"/><circle cx="488" cy="161.8" r="0.85"/><circle cx="518.1" cy="152.1" r="0.85"/><circle cx="423.3" cy="162.4" r="0.85"/><circle cx="471.1" cy="155.3" r="0.85"/><circle cx="460.3" cy="161.1" r="0.85"/><circle cx="505.2" cy="157.6" r="0.85"/><circle cx="444.6" cy="161.2" r="0.85"/><circle cx="407.8" cy="160.9" r="0.85"/><circle cx="488.4" cy="162.5" r="0.85"/><circle cx="425.2" cy="162" r="0.85"/><circle cx="444.6" cy="160.8" r="0.85"/><circle cx="478.2" cy="162.3" r="0.85"/><circle cx="378.4" cy="159" r="0.85"/><circle cx="431.1" cy="161.3" r="0.85"/><circle cx="381.8" cy="162.5" r="0.85"/><circle cx="380.4" cy="162.2" r="0.85"/><circle cx="380.9" cy="161" r="0.85"/><circle cx="397.3" cy="153.6" r="0.85"/><circle cx="464.3" cy="161.9" r="0.85"/><circle cx="425.9" cy="143" r="0.85"/><circle cx="479.5" cy="161.1" r="0.85"/><circle cx="516.8" cy="159.2" r="0.85"/><circle cx="405.2" cy="161.9" r="0.85"/><circle cx="386.4" cy="157.4" r="0.85"/><circle cx="495.7" cy="162" r="0.85"/><circle cx="432.1" cy="161" r="0.85"/><circle cx="406.3" cy="155.1" r="0.85"/><circle cx="478.7" cy="161.4" r="0.85"/><circle cx="405.7" cy="162.6" r="0.85"/><circle cx="441.5" cy="161.9" r="0.85"/><circle cx="445.4" cy="162.1" r="0.85"/><circle cx="428.5" cy="83" r="0.85"/><circle cx="377.1" cy="162.6" r="0.85"/><circle cx="476.1" cy="157" r="0.85"/><circle cx="465.2" cy="160" r="0.85"/><circle cx="445.3" cy="162.3" r="0.85"/><circle cx="472" cy="160.7" r="0.85"/><circle cx="496.9" cy="157.8" r="0.85"/><circle cx="514" cy="159.5" r="0.85"/><circle cx="443" cy="151.4" r="0.85"/><circle cx="380.1" cy="161.8" r="0.85"/><circle cx="507.7" cy="154.6" r="0.85"/><circle cx="495.3" cy="162.6" r="0.85"/><circle cx="420.9" cy="161.7" r="0.85"/><circle cx="378.3" cy="162.7" r="0.85"/><circle cx="409.4" cy="158.2" r="0.85"/><circle cx="457.4" cy="141.6" r="0.85"/><circle cx="471.1" cy="161.4" r="0.85"/><circle cx="486.5" cy="158.9" r="0.85"/><circle cx="440.6" cy="160" r="0.85"/><circle cx="511.5" cy="161.7" r="0.85"/><circle cx="382.8" cy="160.7" r="0.85"/><circle cx="393" cy="156.1" r="0.85"/><circle cx="456.6" cy="156.4" r="0.85"/><circle cx="447.8" cy="161.5" r="0.85"/><circle cx="419.5" cy="159.3" r="0.85"/><circle cx="435.6" cy="162.7" r="0.85"/><circle cx="506.9" cy="162.5" r="0.85"/><circle cx="421" cy="162.4" r="0.85"/><circle cx="415.5" cy="124.2" r="0.85"/><circle cx="427.1" cy="151.7" r="0.85"/><circle cx="483.1" cy="160.3" r="0.85"/><circle cx="471.4" cy="161.7" r="0.85"/><circle cx="388.4" cy="150.3" r="0.85"/><circle cx="385.7" cy="161.8" r="0.85"/><circle cx="510.8" cy="150" r="0.85"/><circle cx="420.4" cy="160.6" r="0.85"/><circle cx="510.7" cy="160.6" r="0.85"/><circle cx="382" cy="142" r="0.85"/><circle cx="483" cy="77.6" r="0.85"/><circle cx="475.5" cy="161.6" r="0.85"/><circle cx="496.2" cy="161.8" r="0.85"/><circle cx="432.8" cy="160.9" r="0.85"/><circle cx="445.8" cy="161.4" r="0.85"/><circle cx="447.4" cy="162.7" r="0.85"/><circle cx="381.9" cy="159.5" r="0.85"/><circle cx="423.3" cy="159.7" r="0.85"/><circle cx="479.7" cy="162.3" r="0.85"/><circle cx="417.9" cy="162.5" r="0.85"/><circle cx="513.9" cy="159.1" r="0.85"/><circle cx="491.2" cy="154.8" r="0.85"/><circle cx="441.8" cy="114.5" r="0.85"/><circle cx="413.4" cy="156.4" r="0.85"/><circle cx="502.7" cy="156.5" r="0.85"/><circle cx="452.1" cy="159.1" r="0.85"/><circle cx="438.4" cy="152.8" r="0.85"/><circle cx="447" cy="142.6" r="0.85"/><circle cx="397.1" cy="151.3" r="0.85"/><circle cx="401" cy="161.2" r="0.85"/><circle cx="515.3" cy="162.1" r="0.85"/><circle cx="425.5" cy="159.8" r="0.85"/><circle cx="514.5" cy="162.5" r="0.85"/><circle cx="475.6" cy="151.7" r="0.85"/><circle cx="509.6" cy="160.7" r="0.85"/><circle cx="414.1" cy="159.4" r="0.85"/><circle cx="401.2" cy="162.3" r="0.85"/><circle cx="449.9" cy="160.3" r="0.85"/><circle cx="516.8" cy="159.3" r="0.85"/><circle cx="472.7" cy="158.5" r="0.85"/><circle cx="458.9" cy="162.2" r="0.85"/><circle cx="497.4" cy="160.2" r="0.85"/><circle cx="420.3" cy="156.2" r="0.85"/><circle cx="468.8" cy="161.4" r="0.85"/><circle cx="474.7" cy="160.4" r="0.85"/><circle cx="493.8" cy="161.6" r="0.85"/><circle cx="377.2" cy="162.2" r="0.85"/><circle cx="385.9" cy="160.8" r="0.85"/><circle cx="432.4" cy="162.3" r="0.85"/><circle cx="490.2" cy="160.5" r="0.85"/><circle cx="482.4" cy="162.2" r="0.85"/><circle cx="421.4" cy="160" r="0.85"/><circle cx="419.1" cy="157.2" r="0.85"/><circle cx="480.1" cy="160.2" r="0.85"/><circle cx="455.2" cy="162.7" r="0.85"/><circle cx="514.1" cy="160.9" r="0.85"/><circle cx="389.3" cy="162.2" r="0.85"/><circle cx="446.8" cy="161.2" r="0.85"/><circle cx="453.3" cy="159.8" r="0.85"/><circle cx="407.7" cy="156.5" r="0.85"/><circle cx="445.3" cy="161.5" r="0.85"/><circle cx="497.5" cy="160.3" r="0.85"/><circle cx="381.4" cy="160.1" r="0.85"/><circle cx="413.4" cy="162" r="0.85"/><circle cx="448.8" cy="160.6" r="0.85"/><circle cx="416.7" cy="147.4" r="0.85"/><circle cx="446.3" cy="156.1" r="0.85"/><circle cx="417" cy="126.7" r="0.85"/><circle cx="488.1" cy="162.1" r="0.85"/><circle cx="403.2" cy="157.6" r="0.85"/><circle cx="470.4" cy="160" r="0.85"/><circle cx="516.9" cy="162.3" r="0.85"/><circle cx="390.6" cy="162" r="0.85"/><circle cx="435.1" cy="157.5" r="0.85"/><circle cx="455.9" cy="160.9" r="0.85"/><circle cx="398.1" cy="162.4" r="0.85"/><circle cx="376.5" cy="162.4" r="0.85"/><circle cx="504.4" cy="157" r="0.85"/><circle cx="426" cy="162.1" r="0.85"/><circle cx="388.4" cy="150.5" r="0.85"/><circle cx="516.8" cy="160.7" r="0.85"/><circle cx="482.1" cy="162.7" r="0.85"/><circle cx="487.3" cy="162.6" r="0.85"/><circle cx="432.4" cy="160.6" r="0.85"/><circle cx="450.9" cy="161.3" r="0.85"/><circle cx="441.8" cy="77" r="0.85"/><circle cx="485.5" cy="161.7" r="0.85"/><circle cx="448.1" cy="160.9" r="0.85"/><circle cx="403.8" cy="160.7" r="0.85"/><circle cx="498.6" cy="161.4" r="0.85"/><circle cx="470" cy="161.5" r="0.85"/><circle cx="488.9" cy="162.3" r="0.85"/><circle cx="438.6" cy="162.2" r="0.85"/><circle cx="479.6" cy="162.1" r="0.85"/><circle cx="437.6" cy="160.6" r="0.85"/><circle cx="460.7" cy="161.7" r="0.85"/><circle cx="517.9" cy="162.7" r="0.85"/><circle cx="486.4" cy="161.8" r="0.85"/><circle cx="420.6" cy="161.6" r="0.85"/><circle cx="472" cy="159.2" r="0.85"/><circle cx="404.3" cy="162.3" r="0.85"/><circle cx="514.6" cy="160.9" r="0.85"/><circle cx="466" cy="159.1" r="0.85"/><circle cx="379.9" cy="158.2" r="0.85"/><circle cx="495.5" cy="157.9" r="0.85"/><circle cx="443.4" cy="159.1" r="0.85"/><circle cx="433.8" cy="157.2" r="0.85"/><circle cx="508.4" cy="148.6" r="0.85"/><circle cx="401" cy="162" r="0.85"/><circle cx="408.1" cy="161.2" r="0.85"/><circle cx="423.3" cy="158.7" r="0.85"/><circle cx="451.5" cy="162.1" r="0.85"/><circle cx="391" cy="161.9" r="0.85"/><circle cx="503.8" cy="162.7" r="0.85"/><circle cx="504.8" cy="162.5" r="0.85"/><circle cx="441.5" cy="161.7" r="0.85"/><circle cx="404.9" cy="160.4" r="0.85"/><circle cx="392.5" cy="161.8" r="0.85"/><circle cx="486.5" cy="160.8" r="0.85"/><circle cx="492.9" cy="162.7" r="0.85"/><circle cx="489.9" cy="161.8" r="0.85"/><circle cx="513.7" cy="154.7" r="0.85"/><circle cx="472.8" cy="162.7" r="0.85"/><circle cx="495.2" cy="157.1" r="0.85"/><circle cx="388.1" cy="161.1" r="0.85"/><circle cx="484.5" cy="161.6" r="0.85"/><circle cx="396.5" cy="160.3" r="0.85"/><circle cx="509.5" cy="151.2" r="0.85"/><circle cx="513.5" cy="162" r="0.85"/><circle cx="385.1" cy="161.9" r="0.85"/><circle cx="443.7" cy="155.1" r="0.85"/><circle cx="430.7" cy="162.3" r="0.85"/><circle cx="479.7" cy="127.3" r="0.85"/><circle cx="485.8" cy="130.6" r="0.85"/><circle cx="470.8" cy="157.3" r="0.85"/><circle cx="485.4" cy="162.3" r="0.85"/><circle cx="424.2" cy="162.6" r="0.85"/><circle cx="511" cy="160.8" r="0.85"/><circle cx="480.6" cy="157.6" r="0.85"/><circle cx="475.8" cy="161.6" r="0.85"/><circle cx="412.4" cy="62.4" r="0.85"/><circle cx="409.8" cy="162.3" r="0.85"/><circle cx="453" cy="162.4" r="0.85"/><circle cx="492.3" cy="160.6" r="0.85"/><circle cx="509.8" cy="157.5" r="0.85"/><circle cx="464.1" cy="161" r="0.85"/><circle cx="428.5" cy="63.6" r="0.85"/><circle cx="490.1" cy="162.4" r="0.85"/><circle cx="431.7" cy="158.8" r="0.85"/><circle cx="517.2" cy="161.1" r="0.85"/><circle cx="404.9" cy="158.2" r="0.85"/><circle cx="480.5" cy="161.5" r="0.85"/><circle cx="516.7" cy="161.5" r="0.85"/><circle cx="506.3" cy="156.1" r="0.85"/><circle cx="517.2" cy="159.7" r="0.85"/><circle cx="499.3" cy="160.1" r="0.85"/><circle cx="407.5" cy="162.6" r="0.85"/><circle cx="434.8" cy="162.7" r="0.85"/><circle cx="382" cy="129" r="0.85"/><circle cx="397.4" cy="160.4" r="0.85"/><circle cx="407.3" cy="162.4" r="0.85"/><circle cx="391.7" cy="161.5" r="0.85"/><circle cx="471.4" cy="157.2" r="0.85"/><circle cx="406.7" cy="157.4" r="0.85"/><circle cx="450.9" cy="156.1" r="0.85"/><circle cx="379" cy="161" r="0.85"/><circle cx="389.4" cy="161.6" r="0.85"/><circle cx="502.4" cy="159.6" r="0.85"/><circle cx="503.4" cy="161.2" r="0.85"/><circle cx="503.1" cy="161.5" r="0.85"/><circle cx="388.6" cy="161.9" r="0.85"/><circle cx="503.7" cy="161.9" r="0.85"/><circle cx="493.9" cy="162.6" r="0.85"/><circle cx="439.8" cy="158.1" r="0.85"/><circle cx="466.7" cy="159.7" r="0.85"/><circle cx="468.4" cy="158.2" r="0.85"/><circle cx="503.5" cy="159.7" r="0.85"/><circle cx="428.1" cy="152.5" r="0.85"/><circle cx="485.2" cy="146.6" r="0.85"/><circle cx="516.2" cy="160.5" r="0.85"/><circle cx="501.3" cy="162.5" r="0.85"/><circle cx="432.5" cy="160.3" r="0.85"/><circle cx="429.5" cy="157.5" r="0.85"/><circle cx="461.1" cy="147.5" r="0.85"/><circle cx="459.1" cy="162.1" r="0.85"/><circle cx="502.7" cy="162.2" r="0.85"/><circle cx="467" cy="158" r="0.85"/><circle cx="422.4" cy="159.1" r="0.85"/><circle cx="432.8" cy="160.3" r="0.85"/><circle cx="475.4" cy="162.5" r="0.85"/><circle cx="421" cy="160.6" r="0.85"/><circle cx="458.8" cy="162.6" r="0.85"/><circle cx="464.7" cy="152" r="0.85"/><circle cx="500.6" cy="161.9" r="0.85"/><circle cx="501.4" cy="159.2" r="0.85"/><circle cx="451.4" cy="159.2" r="0.85"/><circle cx="424.9" cy="161.2" r="0.85"/><circle cx="486.9" cy="154.7" r="0.85"/><circle cx="437.7" cy="147.4" r="0.85"/><circle cx="479.4" cy="160.1" r="0.85"/><circle cx="433.7" cy="157.7" r="0.85"/><circle cx="499.4" cy="162.3" r="0.85"/><circle cx="481.5" cy="161.7" r="0.85"/><circle cx="515.6" cy="160.5" r="0.85"/><circle cx="381.8" cy="157.1" r="0.85"/><circle cx="445.6" cy="162.3" r="0.85"/><circle cx="499.6" cy="151.2" r="0.85"/><circle cx="378.6" cy="162.3" r="0.85"/><circle cx="395.7" cy="160.3" r="0.85"/><circle cx="493.7" cy="162.5" r="0.85"/><circle cx="503.8" cy="154.4" r="0.85"/><circle cx="389.1" cy="160.2" r="0.85"/><circle cx="428.9" cy="162.2" r="0.85"/><circle cx="477.7" cy="162" r="0.85"/><circle cx="516" cy="155.9" r="0.85"/><circle cx="517.3" cy="160.3" r="0.85"/><circle cx="414.5" cy="157.1" r="0.85"/><circle cx="411" cy="158.3" r="0.85"/><circle cx="490.4" cy="161.2" r="0.85"/><circle cx="498.1" cy="161.7" r="0.85"/><circle cx="482.7" cy="156.9" r="0.85"/><circle cx="410.9" cy="157" r="0.85"/><circle cx="512.6" cy="161.7" r="0.85"/><circle cx="430.3" cy="162.2" r="0.85"/><circle cx="403.6" cy="160" r="0.85"/><circle cx="406.8" cy="161.4" r="0.85"/><circle cx="502.2" cy="160.3" r="0.85"/><circle cx="512.9" cy="161.5" r="0.85"/><circle cx="397.9" cy="158.3" r="0.85"/><circle cx="403.7" cy="161.6" r="0.85"/><circle cx="419.4" cy="161.4" r="0.85"/><circle cx="430.6" cy="161.8" r="0.85"/><circle cx="426.9" cy="161.9" r="0.85"/><circle cx="426.3" cy="161.1" r="0.85"/><circle cx="431.2" cy="160.9" r="0.85"/><circle cx="493.4" cy="161.8" r="0.85"/><circle cx="376.2" cy="157.8" r="0.85"/><circle cx="397.5" cy="161.2" r="0.85"/><circle cx="478.9" cy="162.1" r="0.85"/><circle cx="441.4" cy="162.5" r="0.85"/><circle cx="431.9" cy="146.1" r="0.85"/><circle cx="448.3" cy="162.1" r="0.85"/><circle cx="510.9" cy="158.3" r="0.85"/><circle cx="505.8" cy="161.5" r="0.85"/><circle cx="434.4" cy="162.7" r="0.85"/><circle cx="442" cy="157.1" r="0.85"/><circle cx="477.2" cy="159.3" r="0.85"/><circle cx="444.5" cy="161.2" r="0.85"/><circle cx="473.6" cy="160.8" r="0.85"/><circle cx="508.2" cy="144" r="0.85"/><circle cx="500.7" cy="161.4" r="0.85"/><circle cx="425.1" cy="162.7" r="0.85"/><circle cx="457.5" cy="162.7" r="0.85"/><circle cx="485.2" cy="158" r="0.85"/><circle cx="414.7" cy="153.8" r="0.85"/><circle cx="490.6" cy="161.8" r="0.85"/><circle cx="424.2" cy="141.5" r="0.85"/><circle cx="510.7" cy="160.9" r="0.85"/><circle cx="414.7" cy="160.3" r="0.85"/><circle cx="511.9" cy="161.8" r="0.85"/><circle cx="490.1" cy="162.5" r="0.85"/><circle cx="429" cy="64" r="0.85"/><circle cx="512.2" cy="159.7" r="0.85"/><circle cx="436.7" cy="161.7" r="0.85"/><circle cx="490.4" cy="148.1" r="0.85"/><circle cx="452.6" cy="159.4" r="0.85"/><circle cx="463.5" cy="156.6" r="0.85"/><circle cx="392.4" cy="157.3" r="0.85"/><circle cx="440.3" cy="160.4" r="0.85"/><circle cx="457.1" cy="158.2" r="0.85"/><circle cx="402.3" cy="150.5" r="0.85"/><circle cx="516.5" cy="162" r="0.85"/><circle cx="483.3" cy="161.7" r="0.85"/><circle cx="444.9" cy="162.4" r="0.85"/><circle cx="469.5" cy="161.5" r="0.85"/><circle cx="502.4" cy="161.2" r="0.85"/><circle cx="434.3" cy="161.4" r="0.85"/><circle cx="462.9" cy="162.4" r="0.85"/><circle cx="378.8" cy="159.4" r="0.85"/><circle cx="407.4" cy="161.2" r="0.85"/><circle cx="487.7" cy="157.2" r="0.85"/><circle cx="479.7" cy="162.1" r="0.85"/><circle cx="475.3" cy="161.8" r="0.85"/><circle cx="465.7" cy="159.2" r="0.85"/><circle cx="423.2" cy="162.4" r="0.85"/><circle cx="515.7" cy="150.6" r="0.85"/><circle cx="436.3" cy="162.6" r="0.85"/><circle cx="400.2" cy="161.2" r="0.85"/><circle cx="461.1" cy="157.8" r="0.85"/><circle cx="434.5" cy="161.1" r="0.85"/><circle cx="380.9" cy="162.4" r="0.85"/><circle cx="425.5" cy="159.4" r="0.85"/><circle cx="402.3" cy="161.7" r="0.85"/><circle cx="487.5" cy="161.4" r="0.85"/><circle cx="452" cy="161.9" r="0.85"/><circle cx="482.7" cy="158.5" r="0.85"/><circle cx="389.7" cy="161" r="0.85"/><circle cx="502.6" cy="161.7" r="0.85"/><circle cx="427.9" cy="161.4" r="0.85"/><circle cx="401.3" cy="159.7" r="0.85"/><circle cx="379.4" cy="161.9" r="0.85"/><circle cx="424.5" cy="160.6" r="0.85"/><circle cx="431" cy="161.7" r="0.85"/><circle cx="508.6" cy="157.7" r="0.85"/><circle cx="386.9" cy="154.7" r="0.85"/><circle cx="387.2" cy="154.9" r="0.85"/><circle cx="464.9" cy="160.9" r="0.85"/><circle cx="507" cy="161.7" r="0.85"/><circle cx="417.9" cy="160.2" r="0.85"/><circle cx="456.8" cy="162.6" r="0.85"/><circle cx="424.9" cy="162.6" r="0.85"/><circle cx="475.1" cy="161.9" r="0.85"/><circle cx="385.1" cy="158.2" r="0.85"/><circle cx="488.9" cy="162" r="0.85"/><circle cx="411.4" cy="155.4" r="0.85"/><circle cx="496.2" cy="162.7" r="0.85"/><circle cx="393.8" cy="162.7" r="0.85"/><circle cx="488" cy="158" r="0.85"/><circle cx="503.1" cy="154.9" r="0.85"/><circle cx="433.5" cy="161.1" r="0.85"/><circle cx="470.9" cy="159.8" r="0.85"/><circle cx="479.3" cy="162" r="0.85"/><circle cx="395.9" cy="144.9" r="0.85"/><circle cx="488.8" cy="160.1" r="0.85"/><circle cx="500.5" cy="159.3" r="0.85"/><circle cx="405.6" cy="157.5" r="0.85"/><circle cx="377.9" cy="162" r="0.85"/><circle cx="403.6" cy="161.4" r="0.85"/><circle cx="400.4" cy="159.9" r="0.85"/><circle cx="421" cy="159.8" r="0.85"/><circle cx="481.6" cy="160.9" r="0.85"/><circle cx="419.2" cy="160.2" r="0.85"/><circle cx="498.5" cy="162.1" r="0.85"/><circle cx="413.8" cy="162.3" r="0.85"/><circle cx="484.8" cy="152.1" r="0.85"/><circle cx="504.1" cy="162.4" r="0.85"/><circle cx="398.4" cy="162.5" r="0.85"/><circle cx="439.8" cy="162.6" r="0.85"/><circle cx="515.8" cy="162.7" r="0.85"/><circle cx="442.5" cy="150.5" r="0.85"/><circle cx="382.9" cy="161.6" r="0.85"/><circle cx="485.7" cy="160.4" r="0.85"/><circle cx="507" cy="158.2" r="0.85"/><circle cx="413.5" cy="161.9" r="0.85"/><circle cx="391.8" cy="158.5" r="0.85"/><circle cx="436.1" cy="137.5" r="0.85"/><circle cx="397.1" cy="162.4" r="0.85"/><circle cx="427.8" cy="162.5" r="0.85"/><circle cx="376.4" cy="160.5" r="0.85"/><circle cx="460.2" cy="161.6" r="0.85"/><circle cx="426.7" cy="161.8" r="0.85"/><circle cx="453.2" cy="159.9" r="0.85"/><circle cx="482.7" cy="159.8" r="0.85"/><circle cx="422.3" cy="159.2" r="0.85"/><circle cx="401.7" cy="152.6" r="0.85"/><circle cx="456.8" cy="162.3" r="0.85"/><circle cx="464" cy="156" r="0.85"/><circle cx="386.7" cy="161.8" r="0.85"/><circle cx="513.9" cy="145.9" r="0.85"/><circle cx="479.8" cy="158.4" r="0.85"/><circle cx="473" cy="162.1" r="0.85"/><circle cx="446.4" cy="158.2" r="0.85"/><circle cx="514.9" cy="160.4" r="0.85"/><circle cx="384.1" cy="161.6" r="0.85"/><circle cx="447.2" cy="159.8" r="0.85"/><circle cx="486.7" cy="155.3" r="0.85"/><circle cx="422.1" cy="159.8" r="0.85"/><circle cx="476.2" cy="161" r="0.85"/><circle cx="423.1" cy="159.2" r="0.85"/><circle cx="396.4" cy="162.3" r="0.85"/><circle cx="484.9" cy="161.2" r="0.85"/><circle cx="435.8" cy="159.5" r="0.85"/><circle cx="431.1" cy="159.7" r="0.85"/><circle cx="407.6" cy="160.6" r="0.85"/><circle cx="399" cy="158.7" r="0.85"/><circle cx="390.3" cy="154.2" r="0.85"/><circle cx="438.1" cy="161.8" r="0.85"/><circle cx="452.3" cy="158.7" r="0.85"/><circle cx="504.4" cy="162" r="0.85"/><circle cx="460.9" cy="161.8" r="0.85"/><circle cx="515.6" cy="161.8" r="0.85"/><circle cx="405.1" cy="161" r="0.85"/><circle cx="463.7" cy="161.6" r="0.85"/><circle cx="420.8" cy="158.2" r="0.85"/><circle cx="484.9" cy="162.6" r="0.85"/><circle cx="462.9" cy="159.2" r="0.85"/><circle cx="394.4" cy="161.6" r="0.85"/><circle cx="415.9" cy="157.9" r="0.85"/><circle cx="376.6" cy="158.9" r="0.85"/><circle cx="507" cy="159.1" r="0.85"/><circle cx="460.9" cy="160.1" r="0.85"/><circle cx="401.1" cy="156.8" r="0.85"/><circle cx="418.2" cy="159.7" r="0.85"/><circle cx="439.8" cy="153.7" r="0.85"/><circle cx="418" cy="160.4" r="0.85"/><circle cx="440" cy="162.3" r="0.85"/><circle cx="499.4" cy="160.9" r="0.85"/><circle cx="410.3" cy="162.6" r="0.85"/><circle cx="383.9" cy="162.6" r="0.85"/><circle cx="508.8" cy="160.4" r="0.85"/><circle cx="511.8" cy="127.3" r="0.85"/><circle cx="458.7" cy="162.4" r="0.85"/><circle cx="504.8" cy="152.9" r="0.85"/><circle cx="476.5" cy="160.4" r="0.85"/><circle cx="471.9" cy="162.5" r="0.85"/><circle cx="497.4" cy="162.6" r="0.85"/><circle cx="419.2" cy="162.1" r="0.85"/><circle cx="498.3" cy="161.9" r="0.85"/><circle cx="453.6" cy="162.5" r="0.85"/><circle cx="481.7" cy="158.1" r="0.85"/><circle cx="421" cy="150.9" r="0.85"/><circle cx="464.3" cy="160" r="0.85"/><circle cx="442" cy="161" r="0.85"/><circle cx="442.1" cy="162.4" r="0.85"/><circle cx="437.7" cy="160.8" r="0.85"/><circle cx="501.2" cy="151.8" r="0.85"/><circle cx="444.3" cy="158.3" r="0.85"/><circle cx="399.1" cy="157.4" r="0.85"/><circle cx="394.2" cy="160.3" r="0.85"/><circle cx="428.5" cy="80" r="0.85"/><circle cx="386.5" cy="162.6" r="0.85"/><circle cx="481" cy="162.5" r="0.85"/><circle cx="410.3" cy="162" r="0.85"/><circle cx="435.2" cy="162.4" r="0.85"/><circle cx="485.8" cy="132" r="0.85"/><circle cx="453.4" cy="159.7" r="0.85"/><circle cx="379.3" cy="151.8" r="0.85"/><circle cx="459.4" cy="161.9" r="0.85"/><circle cx="377.3" cy="156.8" r="0.85"/><circle cx="514" cy="161" r="0.85"/><circle cx="452.7" cy="162.4" r="0.85"/><circle cx="428.4" cy="161" r="0.85"/><circle cx="454.2" cy="159.1" r="0.85"/><circle cx="513.3" cy="160.5" r="0.85"/><circle cx="386.3" cy="162.6" r="0.85"/><circle cx="375.9" cy="153.7" r="0.85"/><circle cx="403.3" cy="162.6" r="0.85"/><circle cx="487.2" cy="159" r="0.85"/><circle cx="416.9" cy="162.6" r="0.85"/><circle cx="461.7" cy="161.8" r="0.85"/><circle cx="423.8" cy="158.4" r="0.85"/><circle cx="412.9" cy="158.2" r="0.85"/><circle cx="448.2" cy="159.8" r="0.85"/><circle cx="460.7" cy="161.9" r="0.85"/><circle cx="391.2" cy="161.9" r="0.85"/><circle cx="384" cy="161.6" r="0.85"/><circle cx="436.4" cy="161.8" r="0.85"/><circle cx="403.1" cy="161.8" r="0.85"/><circle cx="404.8" cy="110" r="0.85"/><circle cx="498.9" cy="160.8" r="0.85"/><circle cx="498.3" cy="162.6" r="0.85"/><circle cx="442.7" cy="161.2" r="0.85"/><circle cx="388.8" cy="159.4" r="0.85"/><circle cx="454" cy="157.3" r="0.85"/><circle cx="385.2" cy="159.6" r="0.85"/><circle cx="435.9" cy="160.5" r="0.85"/><circle cx="392.2" cy="159" r="0.85"/><circle cx="506.4" cy="159.4" r="0.85"/><circle cx="448.6" cy="157.8" r="0.85"/><circle cx="404.9" cy="162.5" r="0.85"/><circle cx="516.4" cy="159.7" r="0.85"/><circle cx="455.5" cy="159.3" r="0.85"/><circle cx="465.4" cy="160.3" r="0.85"/><circle cx="457.6" cy="161.6" r="0.85"/><circle cx="470.9" cy="160.4" r="0.85"/><circle cx="444.2" cy="134.2" r="0.85"/><circle cx="378.4" cy="160.7" r="0.85"/><circle cx="512.1" cy="162.1" r="0.85"/><circle cx="391.8" cy="80.6" r="0.85"/><circle cx="438.2" cy="72.7" r="0.85"/><circle cx="478.4" cy="161.9" r="0.85"/><circle cx="470.8" cy="162.4" r="0.85"/><circle cx="500.6" cy="162.6" r="0.85"/><circle cx="391.6" cy="160.5" r="0.85"/><circle cx="467.3" cy="162.5" r="0.85"/></g>
<g fill="#9036f0" stroke="#1a0040" stroke-width="0.38"><circle cx="657.2" cy="161.9" r="0.85"/><circle cx="629.2" cy="161.6" r="0.85"/><circle cx="570.7" cy="161.5" r="0.85"/><circle cx="644" cy="162.6" r="0.85"/><circle cx="579.1" cy="157.6" r="0.85"/><circle cx="629.4" cy="161.9" r="0.85"/><circle cx="528.2" cy="157" r="0.85"/><circle cx="531" cy="148" r="0.85"/><circle cx="624.1" cy="162" r="0.85"/><circle cx="610.9" cy="161.5" r="0.85"/><circle cx="604.2" cy="160.4" r="0.85"/><circle cx="591.5" cy="160.9" r="0.85"/><circle cx="608.6" cy="162.3" r="0.85"/><circle cx="635" cy="157.6" r="0.85"/><circle cx="536.5" cy="159.6" r="0.85"/><circle cx="598.2" cy="157.4" r="0.85"/><circle cx="561.1" cy="162.4" r="0.85"/><circle cx="610.9" cy="162.6" r="0.85"/><circle cx="643.1" cy="161.1" r="0.85"/><circle cx="608.9" cy="162.6" r="0.85"/><circle cx="605.8" cy="162.1" r="0.85"/><circle cx="632" cy="155.5" r="0.85"/><circle cx="562.9" cy="162.5" r="0.85"/><circle cx="553" cy="160.2" r="0.85"/><circle cx="650.3" cy="156.8" r="0.85"/><circle cx="562.7" cy="161.9" r="0.85"/><circle cx="557.7" cy="160.8" r="0.85"/><circle cx="541.8" cy="161.5" r="0.85"/><circle cx="542" cy="161.8" r="0.85"/><circle cx="638.1" cy="161.7" r="0.85"/><circle cx="615.6" cy="160" r="0.85"/><circle cx="602.9" cy="160.2" r="0.85"/><circle cx="595.2" cy="153.7" r="0.85"/><circle cx="596.1" cy="162.5" r="0.85"/><circle cx="539.6" cy="157.5" r="0.85"/><circle cx="541.7" cy="160.8" r="0.85"/><circle cx="538.1" cy="162" r="0.85"/><circle cx="647.2" cy="160.6" r="0.85"/><circle cx="535.2" cy="158.8" r="0.85"/><circle cx="553" cy="148" r="0.85"/><circle cx="580.1" cy="161.1" r="0.85"/><circle cx="583.1" cy="162.7" r="0.85"/><circle cx="641.5" cy="162.5" r="0.85"/><circle cx="553.2" cy="159.4" r="0.85"/><circle cx="569" cy="157.3" r="0.85"/><circle cx="623.8" cy="157.8" r="0.85"/><circle cx="618.5" cy="141.3" r="0.85"/><circle cx="566.6" cy="157.6" r="0.85"/><circle cx="648.2" cy="161.5" r="0.85"/><circle cx="624.9" cy="158.2" r="0.85"/><circle cx="529.6" cy="161.9" r="0.85"/><circle cx="561.7" cy="157.1" r="0.85"/><circle cx="663" cy="149.2" r="0.85"/><circle cx="524.4" cy="161.6" r="0.85"/><circle cx="606.6" cy="160.1" r="0.85"/><circle cx="581" cy="161.2" r="0.85"/><circle cx="600.7" cy="153.7" r="0.85"/><circle cx="640.4" cy="159.7" r="0.85"/><circle cx="539.1" cy="162.7" r="0.85"/><circle cx="530.9" cy="160.4" r="0.85"/><circle cx="612.6" cy="162.4" r="0.85"/><circle cx="581.7" cy="157.9" r="0.85"/><circle cx="560.4" cy="162.1" r="0.85"/><circle cx="633.3" cy="157" r="0.85"/><circle cx="540" cy="143" r="0.85"/><circle cx="535.2" cy="158" r="0.85"/><circle cx="565.9" cy="154.7" r="0.85"/><circle cx="628.9" cy="161.7" r="0.85"/><circle cx="636.5" cy="161.4" r="0.85"/><circle cx="584.5" cy="162.6" r="0.85"/><circle cx="652.1" cy="161.2" r="0.85"/><circle cx="570" cy="161.3" r="0.85"/><circle cx="587.3" cy="160.1" r="0.85"/><circle cx="615.3" cy="154.3" r="0.85"/><circle cx="626.8" cy="153.6" r="0.85"/><circle cx="546" cy="159.9" r="0.85"/><circle cx="653.6" cy="160.8" r="0.85"/><circle cx="643.8" cy="159.8" r="0.85"/><circle cx="559.2" cy="161.3" r="0.85"/><circle cx="527.3" cy="160.6" r="0.85"/><circle cx="528.9" cy="162" r="0.85"/><circle cx="598.5" cy="161.9" r="0.85"/><circle cx="620.6" cy="157.9" r="0.85"/><circle cx="581.1" cy="158.9" r="0.85"/><circle cx="531" cy="159.5" r="0.85"/><circle cx="547.7" cy="161.4" r="0.85"/><circle cx="659.7" cy="155.3" r="0.85"/><circle cx="632.3" cy="162.3" r="0.85"/><circle cx="531.8" cy="159.5" r="0.85"/><circle cx="622.2" cy="157" r="0.85"/><circle cx="532.5" cy="158.9" r="0.85"/><circle cx="589" cy="160.1" r="0.85"/><circle cx="601.7" cy="158.9" r="0.85"/><circle cx="555.5" cy="161.5" r="0.85"/><circle cx="565.5" cy="159.5" r="0.85"/><circle cx="583.3" cy="160.8" r="0.85"/><circle cx="625.8" cy="147.6" r="0.85"/><circle cx="530.3" cy="160.8" r="0.85"/><circle cx="645.2" cy="161.6" r="0.85"/><circle cx="583.5" cy="161.1" r="0.85"/><circle cx="654.8" cy="161.1" r="0.85"/><circle cx="662.2" cy="161" r="0.85"/><circle cx="638.9" cy="159.9" r="0.85"/><circle cx="550.7" cy="162.6" r="0.85"/><circle cx="568.4" cy="155.4" r="0.85"/><circle cx="570.6" cy="157.4" r="0.85"/><circle cx="654.1" cy="155.6" r="0.85"/><circle cx="601" cy="146.1" r="0.85"/><circle cx="532.5" cy="158.2" r="0.85"/><circle cx="658.6" cy="160.6" r="0.85"/><circle cx="524.6" cy="162.5" r="0.85"/><circle cx="630.3" cy="160.8" r="0.85"/><circle cx="594.6" cy="158.5" r="0.85"/><circle cx="650.3" cy="162.2" r="0.85"/><circle cx="587.3" cy="162.6" r="0.85"/><circle cx="650.8" cy="162.4" r="0.85"/><circle cx="610.5" cy="152.3" r="0.85"/><circle cx="576.2" cy="158.9" r="0.85"/><circle cx="619.7" cy="159.7" r="0.85"/><circle cx="602.9" cy="161.1" r="0.85"/><circle cx="646.9" cy="161.1" r="0.85"/><circle cx="628" cy="145" r="0.85"/><circle cx="614.7" cy="162" r="0.85"/><circle cx="620.9" cy="156.9" r="0.85"/><circle cx="618.9" cy="159.1" r="0.85"/><circle cx="536.8" cy="161.5" r="0.85"/><circle cx="533.3" cy="158.2" r="0.85"/><circle cx="632.1" cy="159.3" r="0.85"/><circle cx="600.1" cy="160" r="0.85"/><circle cx="540.6" cy="157.7" r="0.85"/><circle cx="655.3" cy="162.2" r="0.85"/><circle cx="636.5" cy="155.8" r="0.85"/><circle cx="653.6" cy="161.9" r="0.85"/><circle cx="550" cy="162.3" r="0.85"/><circle cx="596.1" cy="150.1" r="0.85"/><circle cx="548.2" cy="149.3" r="0.85"/><circle cx="662.3" cy="159.2" r="0.85"/><circle cx="541.9" cy="155.4" r="0.85"/><circle cx="574.8" cy="154.3" r="0.85"/><circle cx="599.7" cy="159" r="0.85"/><circle cx="648.6" cy="158.8" r="0.85"/><circle cx="541.3" cy="161.9" r="0.85"/><circle cx="542.8" cy="162.4" r="0.85"/><circle cx="553.7" cy="161" r="0.85"/><circle cx="664.2" cy="159.4" r="0.85"/><circle cx="655.5" cy="160.5" r="0.85"/><circle cx="525.6" cy="162.7" r="0.85"/><circle cx="597.6" cy="160.9" r="0.85"/><circle cx="545.6" cy="160.9" r="0.85"/><circle cx="584.6" cy="162.6" r="0.85"/><circle cx="619.3" cy="162" r="0.85"/><circle cx="565" cy="139" r="0.85"/><circle cx="539.1" cy="154.1" r="0.85"/><circle cx="639.1" cy="162.6" r="0.85"/><circle cx="649.4" cy="162.1" r="0.85"/><circle cx="614.2" cy="160.8" r="0.85"/><circle cx="602" cy="145" r="0.85"/><circle cx="574.7" cy="161.4" r="0.85"/><circle cx="642.6" cy="159.5" r="0.85"/><circle cx="593" cy="146" r="0.85"/><circle cx="552.5" cy="160.8" r="0.85"/><circle cx="565.6" cy="161.5" r="0.85"/><circle cx="662.5" cy="162.2" r="0.85"/><circle cx="598.6" cy="155" r="0.85"/><circle cx="529.4" cy="161.1" r="0.85"/><circle cx="584.9" cy="162" r="0.85"/><circle cx="534.4" cy="162.5" r="0.85"/><circle cx="624.5" cy="150.8" r="0.85"/><circle cx="652.6" cy="160.2" r="0.85"/><circle cx="622.2" cy="160.9" r="0.85"/><circle cx="607.1" cy="162.7" r="0.85"/><circle cx="535.2" cy="162" r="0.85"/><circle cx="651.7" cy="161.8" r="0.85"/><circle cx="617.6" cy="160.3" r="0.85"/><circle cx="564.1" cy="157.3" r="0.85"/><circle cx="542.4" cy="157.5" r="0.85"/><circle cx="525.1" cy="162.6" r="0.85"/><circle cx="641.3" cy="161.9" r="0.85"/><circle cx="588.7" cy="161.6" r="0.85"/><circle cx="568.9" cy="152" r="0.85"/><circle cx="586.4" cy="159" r="0.85"/><circle cx="537.4" cy="162.7" r="0.85"/><circle cx="558.4" cy="161.4" r="0.85"/><circle cx="621.4" cy="161.9" r="0.85"/><circle cx="647.4" cy="162.5" r="0.85"/><circle cx="583.1" cy="160.6" r="0.85"/><circle cx="655.7" cy="156.5" r="0.85"/><circle cx="619" cy="162" r="0.85"/><circle cx="645.4" cy="161.4" r="0.85"/><circle cx="635.2" cy="159.9" r="0.85"/><circle cx="567.5" cy="161.3" r="0.85"/><circle cx="613.3" cy="159" r="0.85"/><circle cx="532.2" cy="158.2" r="0.85"/><circle cx="542.8" cy="162.7" r="0.85"/><circle cx="609" cy="161.9" r="0.85"/><circle cx="597.2" cy="162.2" r="0.85"/><circle cx="525.7" cy="162.6" r="0.85"/><circle cx="633.3" cy="156.8" r="0.85"/><circle cx="536.5" cy="161" r="0.85"/><circle cx="529.4" cy="161.6" r="0.85"/><circle cx="562.7" cy="159.4" r="0.85"/><circle cx="616.1" cy="157.9" r="0.85"/><circle cx="659.2" cy="162.2" r="0.85"/><circle cx="578.9" cy="158.7" r="0.85"/><circle cx="529.9" cy="160" r="0.85"/><circle cx="577.6" cy="162.6" r="0.85"/><circle cx="655.9" cy="161.5" r="0.85"/><circle cx="658.5" cy="162" r="0.85"/><circle cx="576.2" cy="161.5" r="0.85"/><circle cx="633.4" cy="160.3" r="0.85"/><circle cx="558.4" cy="161.7" r="0.85"/><circle cx="624.8" cy="158.9" r="0.85"/><circle cx="533" cy="160.1" r="0.85"/><circle cx="578.8" cy="161.5" r="0.85"/><circle cx="647.7" cy="157.9" r="0.85"/><circle cx="611.3" cy="162" r="0.85"/><circle cx="656.2" cy="162.4" r="0.85"/><circle cx="615.2" cy="160.2" r="0.85"/><circle cx="523.8" cy="160.2" r="0.85"/><circle cx="589.3" cy="162.5" r="0.85"/><circle cx="597.6" cy="160" r="0.85"/><circle cx="602.7" cy="160.9" r="0.85"/><circle cx="663.2" cy="146" r="0.85"/><circle cx="572.7" cy="159.9" r="0.85"/><circle cx="613.2" cy="162.6" r="0.85"/><circle cx="534.9" cy="161.9" r="0.85"/><circle cx="550.3" cy="157.8" r="0.85"/><circle cx="615.2" cy="161.3" r="0.85"/><circle cx="545" cy="162.3" r="0.85"/><circle cx="642" cy="161.1" r="0.85"/><circle cx="534" cy="159.9" r="0.85"/><circle cx="570.9" cy="161" r="0.85"/><circle cx="642.4" cy="162.4" r="0.85"/><circle cx="640.1" cy="156" r="0.85"/><circle cx="553.1" cy="160.7" r="0.85"/><circle cx="535.5" cy="162.4" r="0.85"/><circle cx="617.6" cy="161.2" r="0.85"/><circle cx="584.7" cy="162" r="0.85"/><circle cx="549.5" cy="159.7" r="0.85"/><circle cx="578.1" cy="161.8" r="0.85"/><circle cx="588.3" cy="160.3" r="0.85"/><circle cx="609" cy="157.8" r="0.85"/><circle cx="648.5" cy="151.6" r="0.85"/><circle cx="648.6" cy="161.6" r="0.85"/><circle cx="632.8" cy="148.7" r="0.85"/><circle cx="662.5" cy="162" r="0.85"/><circle cx="622.8" cy="162.5" r="0.85"/><circle cx="552.8" cy="161.2" r="0.85"/><circle cx="566.1" cy="156.3" r="0.85"/><circle cx="583.1" cy="160" r="0.85"/><circle cx="579.9" cy="157.7" r="0.85"/><circle cx="522.9" cy="161.8" r="0.85"/><circle cx="662.6" cy="157.5" r="0.85"/><circle cx="564.3" cy="161.8" r="0.85"/><circle cx="590.1" cy="162.6" r="0.85"/><circle cx="548" cy="162" r="0.85"/><circle cx="583.4" cy="159.4" r="0.85"/><circle cx="566.5" cy="160.1" r="0.85"/><circle cx="566" cy="161.2" r="0.85"/><circle cx="558.6" cy="160.3" r="0.85"/><circle cx="619.3" cy="156.3" r="0.85"/><circle cx="647.6" cy="147.7" r="0.85"/><circle cx="651.6" cy="156.5" r="0.85"/><circle cx="558.7" cy="162.4" r="0.85"/><circle cx="570.7" cy="158.2" r="0.85"/><circle cx="583.9" cy="162.6" r="0.85"/><circle cx="592.5" cy="161.6" r="0.85"/><circle cx="623" cy="152.7" r="0.85"/><circle cx="657.7" cy="158.4" r="0.85"/><circle cx="647.2" cy="162.1" r="0.85"/><circle cx="547.9" cy="158.1" r="0.85"/><circle cx="607.7" cy="157.2" r="0.85"/><circle cx="565.5" cy="159.3" r="0.85"/><circle cx="647.9" cy="162.6" r="0.85"/><circle cx="661.2" cy="157.8" r="0.85"/><circle cx="576.9" cy="162.1" r="0.85"/><circle cx="646" cy="162.7" r="0.85"/><circle cx="609.7" cy="156.9" r="0.85"/><circle cx="561.8" cy="158.5" r="0.85"/><circle cx="577.7" cy="149.5" r="0.85"/><circle cx="536.6" cy="161.3" r="0.85"/><circle cx="530.6" cy="161.7" r="0.85"/><circle cx="573.9" cy="160.5" r="0.85"/><circle cx="576.6" cy="161.5" r="0.85"/><circle cx="578" cy="162.6" r="0.85"/><circle cx="637.3" cy="155.7" r="0.85"/><circle cx="540" cy="143.5" r="0.85"/><circle cx="602.6" cy="162" r="0.85"/><circle cx="649.1" cy="160.2" r="0.85"/><circle cx="631.9" cy="150.2" r="0.85"/><circle cx="551.3" cy="160.4" r="0.85"/><circle cx="600.6" cy="158.9" r="0.85"/><circle cx="612.6" cy="161.9" r="0.85"/><circle cx="608.8" cy="157.4" r="0.85"/><circle cx="538.1" cy="161.6" r="0.85"/><circle cx="660" cy="161.7" r="0.85"/><circle cx="529.3" cy="158" r="0.85"/><circle cx="643.8" cy="159.9" r="0.85"/><circle cx="523.2" cy="162.3" r="0.85"/><circle cx="580.4" cy="162.2" r="0.85"/><circle cx="526.5" cy="159.4" r="0.85"/><circle cx="638.6" cy="161.9" r="0.85"/><circle cx="545.3" cy="155.1" r="0.85"/><circle cx="616.8" cy="162.4" r="0.85"/><circle cx="613.2" cy="162.7" r="0.85"/><circle cx="629.8" cy="162.6" r="0.85"/><circle cx="650.9" cy="162.1" r="0.85"/><circle cx="582.3" cy="159.5" r="0.85"/><circle cx="581.7" cy="159.6" r="0.85"/><circle cx="537.4" cy="161" r="0.85"/><circle cx="613.2" cy="159.8" r="0.85"/><circle cx="611.7" cy="160.2" r="0.85"/><circle cx="597.6" cy="157" r="0.85"/><circle cx="663.1" cy="158.5" r="0.85"/><circle cx="594.6" cy="160.8" r="0.85"/><circle cx="524.2" cy="159.7" r="0.85"/><circle cx="536.6" cy="159.9" r="0.85"/><circle cx="635.2" cy="161.6" r="0.85"/><circle cx="629.9" cy="158.6" r="0.85"/><circle cx="600" cy="161" r="0.85"/><circle cx="628.9" cy="160.4" r="0.85"/><circle cx="620" cy="146" r="0.85"/><circle cx="657.6" cy="155.2" r="0.85"/><circle cx="612.5" cy="161.4" r="0.85"/><circle cx="568.5" cy="158" r="0.85"/><circle cx="573.4" cy="162.2" r="0.85"/><circle cx="633.2" cy="156.8" r="0.85"/><circle cx="522.1" cy="162.4" r="0.85"/><circle cx="546.9" cy="160.5" r="0.85"/><circle cx="560" cy="149.6" r="0.85"/><circle cx="577.9" cy="161.5" r="0.85"/><circle cx="601.2" cy="162.6" r="0.85"/><circle cx="580" cy="161.1" r="0.85"/><circle cx="595" cy="162.6" r="0.85"/><circle cx="603.2" cy="162.2" r="0.85"/><circle cx="589.1" cy="156.6" r="0.85"/><circle cx="556.9" cy="159.3" r="0.85"/><circle cx="582.5" cy="155.8" r="0.85"/><circle cx="630.1" cy="160.2" r="0.85"/><circle cx="542.6" cy="158.8" r="0.85"/><circle cx="652.2" cy="161.6" r="0.85"/><circle cx="559.3" cy="162.3" r="0.85"/><circle cx="634" cy="161" r="0.85"/><circle cx="544.6" cy="161.4" r="0.85"/><circle cx="619.6" cy="155.8" r="0.85"/><circle cx="593.3" cy="160.3" r="0.85"/><circle cx="649.3" cy="161.6" r="0.85"/><circle cx="605.1" cy="159.8" r="0.85"/><circle cx="659.5" cy="157.1" r="0.85"/><circle cx="535.8" cy="158.5" r="0.85"/><circle cx="552.3" cy="162.6" r="0.85"/><circle cx="540.8" cy="160" r="0.85"/><circle cx="608.1" cy="159.2" r="0.85"/><circle cx="524.6" cy="161.7" r="0.85"/><circle cx="549.5" cy="162.7" r="0.85"/><circle cx="526.3" cy="149.9" r="0.85"/><circle cx="548.9" cy="159.6" r="0.85"/><circle cx="605" cy="160.5" r="0.85"/><circle cx="545.3" cy="161" r="0.85"/><circle cx="527" cy="156.7" r="0.85"/><circle cx="585.1" cy="154.1" r="0.85"/><circle cx="612.4" cy="158.9" r="0.85"/><circle cx="575.5" cy="157" r="0.85"/><circle cx="627.2" cy="158.7" r="0.85"/><circle cx="658.9" cy="155.3" r="0.85"/><circle cx="535.3" cy="162.6" r="0.85"/><circle cx="523.3" cy="156.4" r="0.85"/><circle cx="554.1" cy="157.8" r="0.85"/><circle cx="652.5" cy="160.4" r="0.85"/><circle cx="609.1" cy="161.5" r="0.85"/><circle cx="624.7" cy="162.1" r="0.85"/><circle cx="545.8" cy="161.1" r="0.85"/><circle cx="631" cy="156.6" r="0.85"/><circle cx="537.9" cy="162.3" r="0.85"/><circle cx="580.3" cy="159.3" r="0.85"/><circle cx="575.2" cy="161.8" r="0.85"/><circle cx="645" cy="144" r="0.85"/><circle cx="527.7" cy="161" r="0.85"/><circle cx="596.7" cy="160.4" r="0.85"/><circle cx="531.2" cy="161.4" r="0.85"/><circle cx="622.2" cy="154.3" r="0.85"/><circle cx="546.6" cy="159.5" r="0.85"/><circle cx="649.4" cy="159.5" r="0.85"/><circle cx="652.2" cy="161.2" r="0.85"/><circle cx="538.3" cy="162.6" r="0.85"/><circle cx="526.4" cy="162.1" r="0.85"/><circle cx="538.4" cy="160.4" r="0.85"/><circle cx="574.6" cy="154.8" r="0.85"/><circle cx="660.2" cy="158.4" r="0.85"/><circle cx="650.7" cy="161.4" r="0.85"/><circle cx="530.8" cy="160.4" r="0.85"/><circle cx="597.4" cy="160.8" r="0.85"/><circle cx="524" cy="161.9" r="0.85"/><circle cx="586.6" cy="161.1" r="0.85"/><circle cx="551.9" cy="150.4" r="0.85"/><circle cx="555.9" cy="158.7" r="0.85"/><circle cx="649.9" cy="160.7" r="0.85"/><circle cx="572.7" cy="162.1" r="0.85"/><circle cx="606.8" cy="162.2" r="0.85"/><circle cx="650.3" cy="152.5" r="0.85"/><circle cx="567.6" cy="155.9" r="0.85"/><circle cx="536.6" cy="161.3" r="0.85"/><circle cx="561.6" cy="160.7" r="0.85"/><circle cx="565.2" cy="161.9" r="0.85"/><circle cx="626.8" cy="158.8" r="0.85"/><circle cx="590" cy="158" r="0.85"/><circle cx="580.4" cy="153.5" r="0.85"/><circle cx="616.6" cy="160.4" r="0.85"/><circle cx="651.1" cy="161.7" r="0.85"/><circle cx="541.3" cy="160.9" r="0.85"/><circle cx="647.8" cy="160.7" r="0.85"/><circle cx="560.1" cy="159.5" r="0.85"/><circle cx="549.3" cy="151.9" r="0.85"/><circle cx="527.4" cy="161.1" r="0.85"/><circle cx="583.5" cy="161.5" r="0.85"/><circle cx="640.1" cy="161.5" r="0.85"/><circle cx="553.6" cy="159.3" r="0.85"/><circle cx="645.7" cy="160.6" r="0.85"/><circle cx="638.9" cy="156.9" r="0.85"/><circle cx="593.4" cy="161.6" r="0.85"/><circle cx="532.2" cy="161.8" r="0.85"/><circle cx="635.5" cy="156.8" r="0.85"/><circle cx="558.9" cy="154.6" r="0.85"/><circle cx="538" cy="157.8" r="0.85"/><circle cx="533.6" cy="162.6" r="0.85"/><circle cx="582.4" cy="161.9" r="0.85"/><circle cx="562" cy="161.6" r="0.85"/><circle cx="601.9" cy="161.7" r="0.85"/><circle cx="555.6" cy="162.7" r="0.85"/><circle cx="607.6" cy="160.7" r="0.85"/><circle cx="604.5" cy="152.7" r="0.85"/><circle cx="590.2" cy="160.4" r="0.85"/><circle cx="567.6" cy="162.6" r="0.85"/><circle cx="649.7" cy="162.6" r="0.85"/><circle cx="572.7" cy="159.5" r="0.85"/><circle cx="621.6" cy="162.6" r="0.85"/><circle cx="642.4" cy="161.8" r="0.85"/><circle cx="523.9" cy="162.3" r="0.85"/><circle cx="586.8" cy="159.1" r="0.85"/><circle cx="641.8" cy="156.4" r="0.85"/><circle cx="623.2" cy="162.3" r="0.85"/><circle cx="546.9" cy="160.8" r="0.85"/><circle cx="648.2" cy="157.8" r="0.85"/><circle cx="655.5" cy="160.8" r="0.85"/><circle cx="657.1" cy="161.3" r="0.85"/><circle cx="616" cy="161.6" r="0.85"/><circle cx="585.1" cy="160.9" r="0.85"/><circle cx="605.7" cy="160.1" r="0.85"/><circle cx="554.7" cy="157.2" r="0.85"/><circle cx="549.6" cy="149.4" r="0.85"/><circle cx="634.1" cy="159.5" r="0.85"/><circle cx="614.5" cy="155.6" r="0.85"/><circle cx="552.9" cy="160.4" r="0.85"/><circle cx="640" cy="150" r="0.85"/><circle cx="559.4" cy="161.2" r="0.85"/><circle cx="556.3" cy="162.6" r="0.85"/><circle cx="538.1" cy="161.6" r="0.85"/><circle cx="552.9" cy="162.6" r="0.85"/><circle cx="628" cy="160.3" r="0.85"/><circle cx="609.1" cy="161.6" r="0.85"/><circle cx="522.3" cy="162.6" r="0.85"/><circle cx="618.3" cy="162.5" r="0.85"/><circle cx="584.6" cy="157.4" r="0.85"/><circle cx="540.9" cy="157.7" r="0.85"/><circle cx="531.4" cy="155" r="0.85"/><circle cx="572.6" cy="158" r="0.85"/><circle cx="592.7" cy="157.8" r="0.85"/><circle cx="539.7" cy="161.1" r="0.85"/><circle cx="563.3" cy="161.1" r="0.85"/><circle cx="664.1" cy="162.6" r="0.85"/><circle cx="525.2" cy="157.4" r="0.85"/><circle cx="660.8" cy="162" r="0.85"/><circle cx="566.9" cy="162.1" r="0.85"/><circle cx="540.4" cy="162.3" r="0.85"/><circle cx="568" cy="143" r="0.85"/><circle cx="654.9" cy="160.5" r="0.85"/><circle cx="658" cy="146" r="0.85"/><circle cx="607.2" cy="159.1" r="0.85"/><circle cx="637.1" cy="161.8" r="0.85"/><circle cx="655.2" cy="157.9" r="0.85"/><circle cx="575.4" cy="160.4" r="0.85"/><circle cx="593.7" cy="159.2" r="0.85"/><circle cx="526.1" cy="150.7" r="0.85"/><circle cx="566.2" cy="161.5" r="0.85"/><circle cx="653.8" cy="160.7" r="0.85"/><circle cx="615.7" cy="162.5" r="0.85"/><circle cx="535.1" cy="161.4" r="0.85"/><circle cx="529.1" cy="158.7" r="0.85"/><circle cx="646.5" cy="162.6" r="0.85"/><circle cx="554.8" cy="156" r="0.85"/><circle cx="608.3" cy="160.2" r="0.85"/><circle cx="553.7" cy="162.5" r="0.85"/><circle cx="621.4" cy="160.9" r="0.85"/><circle cx="528.9" cy="160" r="0.85"/><circle cx="597.2" cy="155.8" r="0.85"/><circle cx="630" cy="143.7" r="0.85"/><circle cx="528.3" cy="161.8" r="0.85"/><circle cx="548.8" cy="162.4" r="0.85"/><circle cx="649.2" cy="157.6" r="0.85"/><circle cx="640.7" cy="162.3" r="0.85"/><circle cx="661.6" cy="160.3" r="0.85"/><circle cx="551.3" cy="162.7" r="0.85"/><circle cx="556" cy="162.2" r="0.85"/><circle cx="603.7" cy="158.9" r="0.85"/><circle cx="591.6" cy="161.5" r="0.85"/><circle cx="608.2" cy="155.5" r="0.85"/><circle cx="525.7" cy="157.2" r="0.85"/><circle cx="621.1" cy="154.2" r="0.85"/><circle cx="612" cy="141" r="0.85"/><circle cx="628.5" cy="158.1" r="0.85"/><circle cx="608.4" cy="162.1" r="0.85"/><circle cx="523" cy="161.4" r="0.85"/><circle cx="654" cy="159.9" r="0.85"/><circle cx="629.7" cy="161.5" r="0.85"/><circle cx="661.7" cy="161.3" r="0.85"/><circle cx="630.2" cy="158.4" r="0.85"/><circle cx="578.5" cy="162.3" r="0.85"/><circle cx="584.9" cy="162.1" r="0.85"/><circle cx="536.1" cy="161.7" r="0.85"/><circle cx="636.6" cy="161.1" r="0.85"/><circle cx="534.1" cy="159.8" r="0.85"/><circle cx="574.6" cy="160.5" r="0.85"/><circle cx="617.3" cy="157.9" r="0.85"/><circle cx="611.5" cy="161.7" r="0.85"/><circle cx="590.1" cy="156.9" r="0.85"/><circle cx="576.8" cy="161.6" r="0.85"/><circle cx="661.2" cy="162.4" r="0.85"/><circle cx="611" cy="162.2" r="0.85"/><circle cx="553" cy="162.6" r="0.85"/><circle cx="550.1" cy="162.4" r="0.85"/><circle cx="613.2" cy="161.7" r="0.85"/><circle cx="602.6" cy="144.7" r="0.85"/><circle cx="636.5" cy="160" r="0.85"/><circle cx="572.2" cy="156.6" r="0.85"/><circle cx="580.9" cy="157.2" r="0.85"/><circle cx="620.5" cy="142.2" r="0.85"/><circle cx="661.3" cy="158.2" r="0.85"/><circle cx="579.5" cy="158" r="0.85"/><circle cx="524.4" cy="160.1" r="0.85"/><circle cx="539.8" cy="155.4" r="0.85"/><circle cx="532.3" cy="162.5" r="0.85"/><circle cx="604.6" cy="161.2" r="0.85"/><circle cx="599.9" cy="157.6" r="0.85"/><circle cx="593.9" cy="159.7" r="0.85"/><circle cx="526.8" cy="161.6" r="0.85"/><circle cx="564.9" cy="158.4" r="0.85"/><circle cx="621.8" cy="160.1" r="0.85"/><circle cx="538.6" cy="161.1" r="0.85"/><circle cx="619.4" cy="162" r="0.85"/><circle cx="555.1" cy="155.6" r="0.85"/><circle cx="612.2" cy="162" r="0.85"/><circle cx="605" cy="159.3" r="0.85"/><circle cx="562.1" cy="160.2" r="0.85"/><circle cx="570.2" cy="161" r="0.85"/><circle cx="555.7" cy="156" r="0.85"/><circle cx="583.7" cy="161.8" r="0.85"/><circle cx="610.7" cy="161.3" r="0.85"/><circle cx="580.9" cy="159.3" r="0.85"/><circle cx="611.6" cy="158.6" r="0.85"/><circle cx="527.2" cy="159" r="0.85"/><circle cx="643" cy="161.1" r="0.85"/><circle cx="580.8" cy="161.6" r="0.85"/><circle cx="552" cy="162.4" r="0.85"/><circle cx="603" cy="159.6" r="0.85"/><circle cx="637.9" cy="161.2" r="0.85"/><circle cx="605" cy="162.4" r="0.85"/><circle cx="566.7" cy="156.6" r="0.85"/><circle cx="632" cy="162.1" r="0.85"/><circle cx="582.8" cy="159.9" r="0.85"/><circle cx="658.5" cy="162.3" r="0.85"/><circle cx="602" cy="160.4" r="0.85"/><circle cx="548" cy="146" r="0.85"/><circle cx="557.9" cy="162.3" r="0.85"/><circle cx="573" cy="162.2" r="0.85"/><circle cx="650.3" cy="157.3" r="0.85"/><circle cx="591.1" cy="160.4" r="0.85"/><circle cx="522.8" cy="152" r="0.85"/><circle cx="570.5" cy="161.6" r="0.85"/><circle cx="659.2" cy="161.5" r="0.85"/><circle cx="559.2" cy="161" r="0.85"/><circle cx="586.9" cy="158.9" r="0.85"/><circle cx="551.5" cy="160.5" r="0.85"/><circle cx="654.8" cy="162.6" r="0.85"/><circle cx="643.9" cy="161.7" r="0.85"/><circle cx="605.6" cy="162.5" r="0.85"/><circle cx="625.4" cy="162.2" r="0.85"/><circle cx="661.4" cy="147.9" r="0.85"/><circle cx="542.9" cy="159.9" r="0.85"/><circle cx="596.2" cy="160.4" r="0.85"/><circle cx="656.6" cy="162" r="0.85"/><circle cx="621" cy="159.6" r="0.85"/><circle cx="529.8" cy="162.4" r="0.85"/><circle cx="628.9" cy="155" r="0.85"/><circle cx="629.7" cy="160.9" r="0.85"/><circle cx="650" cy="156.4" r="0.85"/><circle cx="581.6" cy="160.3" r="0.85"/><circle cx="589.5" cy="161.6" r="0.85"/><circle cx="561.8" cy="160.2" r="0.85"/><circle cx="610.1" cy="162" r="0.85"/><circle cx="600.3" cy="161.9" r="0.85"/><circle cx="530.4" cy="162.1" r="0.85"/><circle cx="652.8" cy="160" r="0.85"/><circle cx="597.5" cy="157.2" r="0.85"/><circle cx="574.3" cy="157.9" r="0.85"/><circle cx="568.8" cy="161.4" r="0.85"/><circle cx="653.1" cy="160.2" r="0.85"/><circle cx="528.2" cy="161.4" r="0.85"/><circle cx="645.5" cy="158" r="0.85"/><circle cx="530.8" cy="162" r="0.85"/><circle cx="582.5" cy="154.8" r="0.85"/><circle cx="619.5" cy="160.4" r="0.85"/><circle cx="571.3" cy="161.5" r="0.85"/><circle cx="608.8" cy="157.4" r="0.85"/><circle cx="601.9" cy="162.5" r="0.85"/><circle cx="611.4" cy="160" r="0.85"/><circle cx="630.3" cy="159.7" r="0.85"/><circle cx="654.4" cy="158.7" r="0.85"/><circle cx="661.7" cy="160.9" r="0.85"/><circle cx="634.2" cy="157.7" r="0.85"/><circle cx="581.6" cy="160.8" r="0.85"/><circle cx="614.8" cy="161.4" r="0.85"/><circle cx="595.8" cy="162.1" r="0.85"/><circle cx="654.4" cy="157.8" r="0.85"/><circle cx="565.7" cy="162.1" r="0.85"/><circle cx="655.7" cy="161.3" r="0.85"/><circle cx="614.3" cy="155.3" r="0.85"/><circle cx="538.9" cy="157.7" r="0.85"/><circle cx="556" cy="160.4" r="0.85"/><circle cx="593.7" cy="161.6" r="0.85"/><circle cx="547.1" cy="161.8" r="0.85"/><circle cx="539.5" cy="160.7" r="0.85"/><circle cx="644.5" cy="161.4" r="0.85"/><circle cx="526.7" cy="161.9" r="0.85"/><circle cx="553.3" cy="162.6" r="0.85"/><circle cx="653.3" cy="151.9" r="0.85"/><circle cx="662.9" cy="161.4" r="0.85"/><circle cx="593.4" cy="156.8" r="0.85"/><circle cx="589.8" cy="155.3" r="0.85"/><circle cx="581.5" cy="161.7" r="0.85"/><circle cx="641.4" cy="159.2" r="0.85"/><circle cx="559.8" cy="161" r="0.85"/><circle cx="532.8" cy="157.3" r="0.85"/><circle cx="593.4" cy="154.9" r="0.85"/><circle cx="624.6" cy="159.2" r="0.85"/><circle cx="537.7" cy="159.8" r="0.85"/><circle cx="606" cy="159.6" r="0.85"/><circle cx="568.4" cy="157.9" r="0.85"/><circle cx="593.9" cy="147.3" r="0.85"/><circle cx="564" cy="159.7" r="0.85"/><circle cx="633.2" cy="162.2" r="0.85"/><circle cx="645.1" cy="155.9" r="0.85"/><circle cx="543.7" cy="162" r="0.85"/><circle cx="651" cy="162.2" r="0.85"/><circle cx="613.5" cy="162.6" r="0.85"/><circle cx="601.2" cy="159.8" r="0.85"/><circle cx="624.8" cy="161.3" r="0.85"/><circle cx="570.4" cy="162.7" r="0.85"/><circle cx="527.4" cy="162.2" r="0.85"/><circle cx="578" cy="161.6" r="0.85"/><circle cx="571.4" cy="159.4" r="0.85"/><circle cx="542.4" cy="161.5" r="0.85"/><circle cx="529.7" cy="159.7" r="0.85"/><circle cx="611.1" cy="161.6" r="0.85"/><circle cx="523.5" cy="159.9" r="0.85"/><circle cx="575.6" cy="162.3" r="0.85"/><circle cx="606.3" cy="162.6" r="0.85"/><circle cx="572" cy="155.7" r="0.85"/><circle cx="584.4" cy="158.5" r="0.85"/><circle cx="550.9" cy="159.8" r="0.85"/><circle cx="530.6" cy="155.7" r="0.85"/><circle cx="617.6" cy="156.5" r="0.85"/><circle cx="638.8" cy="162.3" r="0.85"/><circle cx="541.6" cy="159.8" r="0.85"/><circle cx="615.2" cy="161.3" r="0.85"/><circle cx="545.4" cy="156.9" r="0.85"/><circle cx="633.3" cy="159.5" r="0.85"/><circle cx="537" cy="161.4" r="0.85"/><circle cx="663" cy="162.3" r="0.85"/><circle cx="570.1" cy="161" r="0.85"/><circle cx="605.6" cy="157.1" r="0.85"/><circle cx="583.2" cy="153.6" r="0.85"/><circle cx="535" cy="155.9" r="0.85"/><circle cx="606.4" cy="158.7" r="0.85"/><circle cx="587.4" cy="161.2" r="0.85"/><circle cx="553.8" cy="162.7" r="0.85"/><circle cx="622.1" cy="162" r="0.85"/><circle cx="536.7" cy="158.2" r="0.85"/><circle cx="583" cy="161.7" r="0.85"/><circle cx="631.7" cy="160.3" r="0.85"/><circle cx="659.7" cy="157.4" r="0.85"/><circle cx="549.4" cy="162" r="0.85"/><circle cx="530.3" cy="162.7" r="0.85"/><circle cx="575.4" cy="146.5" r="0.85"/><circle cx="554.7" cy="159.6" r="0.85"/><circle cx="548.6" cy="161.7" r="0.85"/><circle cx="539.8" cy="160.7" r="0.85"/><circle cx="643" cy="161" r="0.85"/><circle cx="616.8" cy="161.8" r="0.85"/><circle cx="581.8" cy="160.4" r="0.85"/><circle cx="628.5" cy="162.5" r="0.85"/><circle cx="566.8" cy="161.2" r="0.85"/><circle cx="637.3" cy="159.5" r="0.85"/><circle cx="597" cy="161.3" r="0.85"/><circle cx="647.2" cy="161.2" r="0.85"/><circle cx="573.5" cy="158.9" r="0.85"/><circle cx="537.3" cy="156.9" r="0.85"/><circle cx="663" cy="143" r="0.85"/><circle cx="640.2" cy="162.2" r="0.85"/><circle cx="549.4" cy="142.9" r="0.85"/><circle cx="579.6" cy="159.2" r="0.85"/><circle cx="587.8" cy="161.8" r="0.85"/><circle cx="662" cy="151.3" r="0.85"/><circle cx="615.4" cy="162.3" r="0.85"/><circle cx="626.7" cy="155.7" r="0.85"/><circle cx="558.2" cy="160.8" r="0.85"/><circle cx="538" cy="159.8" r="0.85"/><circle cx="556.8" cy="160.3" r="0.85"/><circle cx="598.4" cy="160.8" r="0.85"/><circle cx="544.6" cy="158.9" r="0.85"/><circle cx="565" cy="157.2" r="0.85"/><circle cx="599.2" cy="162.2" r="0.85"/><circle cx="577.8" cy="154.7" r="0.85"/><circle cx="622.8" cy="156.8" r="0.85"/><circle cx="647.6" cy="155" r="0.85"/><circle cx="644.1" cy="161.7" r="0.85"/><circle cx="657.4" cy="161.7" r="0.85"/><circle cx="641" cy="158.9" r="0.85"/><circle cx="537.2" cy="159.9" r="0.85"/><circle cx="559.2" cy="161.6" r="0.85"/><circle cx="538.6" cy="161.4" r="0.85"/><circle cx="608.7" cy="161.6" r="0.85"/><circle cx="636.9" cy="161.9" r="0.85"/><circle cx="527.7" cy="162.4" r="0.85"/><circle cx="630.3" cy="161.1" r="0.85"/><circle cx="548.7" cy="155.5" r="0.85"/><circle cx="645.3" cy="158.9" r="0.85"/><circle cx="572.9" cy="161.8" r="0.85"/><circle cx="584.9" cy="151.7" r="0.85"/><circle cx="531.7" cy="162.6" r="0.85"/><circle cx="598.3" cy="159.9" r="0.85"/><circle cx="578.4" cy="162.4" r="0.85"/><circle cx="576.3" cy="162" r="0.85"/><circle cx="616.2" cy="157.5" r="0.85"/><circle cx="593.4" cy="158.2" r="0.85"/><circle cx="599" cy="150" r="0.85"/><circle cx="620.7" cy="157.9" r="0.85"/><circle cx="640.2" cy="161" r="0.85"/><circle cx="541.9" cy="161.1" r="0.85"/><circle cx="579.3" cy="162.6" r="0.85"/><circle cx="665" cy="155.1" r="0.85"/><circle cx="577.3" cy="152" r="0.85"/><circle cx="560.6" cy="162.1" r="0.85"/><circle cx="664.4" cy="161.2" r="0.85"/><circle cx="561.4" cy="157" r="0.85"/><circle cx="551.8" cy="161.4" r="0.85"/><circle cx="658" cy="160.9" r="0.85"/><circle cx="659.8" cy="161.1" r="0.85"/><circle cx="571.2" cy="157.2" r="0.85"/><circle cx="648.8" cy="150.8" r="0.85"/><circle cx="655.5" cy="161.5" r="0.85"/><circle cx="584.9" cy="162.4" r="0.85"/><circle cx="654.9" cy="162" r="0.85"/><circle cx="570.7" cy="161" r="0.85"/><circle cx="648.9" cy="158" r="0.85"/><circle cx="649.1" cy="158.6" r="0.85"/><circle cx="539.5" cy="160.7" r="0.85"/><circle cx="570.8" cy="161.3" r="0.85"/><circle cx="643.2" cy="157.7" r="0.85"/><circle cx="572.8" cy="156.8" r="0.85"/><circle cx="542.7" cy="159.3" r="0.85"/><circle cx="581.8" cy="161.3" r="0.85"/><circle cx="542.6" cy="160.5" r="0.85"/><circle cx="555.4" cy="159.7" r="0.85"/><circle cx="529.2" cy="157.8" r="0.85"/><circle cx="630.3" cy="162.1" r="0.85"/><circle cx="579.9" cy="161.5" r="0.85"/><circle cx="586.9" cy="162" r="0.85"/><circle cx="539.7" cy="158.7" r="0.85"/><circle cx="608.9" cy="160" r="0.85"/><circle cx="523.2" cy="158.6" r="0.85"/><circle cx="659" cy="146.2" r="0.85"/><circle cx="539.9" cy="162.3" r="0.85"/><circle cx="552.2" cy="159.2" r="0.85"/><circle cx="524.6" cy="160.9" r="0.85"/><circle cx="636.3" cy="162.3" r="0.85"/><circle cx="551" cy="159.6" r="0.85"/><circle cx="535.1" cy="152.4" r="0.85"/><circle cx="622" cy="158.2" r="0.85"/><circle cx="595.7" cy="161.5" r="0.85"/><circle cx="606.3" cy="150.6" r="0.85"/><circle cx="644.8" cy="161.5" r="0.85"/><circle cx="626.9" cy="162.5" r="0.85"/><circle cx="580.2" cy="159.8" r="0.85"/><circle cx="639.7" cy="158.6" r="0.85"/><circle cx="558.9" cy="162" r="0.85"/><circle cx="554.1" cy="160.4" r="0.85"/><circle cx="663.7" cy="161.6" r="0.85"/><circle cx="529.8" cy="161.5" r="0.85"/><circle cx="569.2" cy="161.4" r="0.85"/><circle cx="615" cy="153.7" r="0.85"/><circle cx="631.9" cy="162.1" r="0.85"/><circle cx="596.8" cy="162" r="0.85"/><circle cx="550.9" cy="155.1" r="0.85"/><circle cx="536.7" cy="158.2" r="0.85"/><circle cx="628.6" cy="161.6" r="0.85"/><circle cx="557" cy="161.4" r="0.85"/><circle cx="632.5" cy="158.4" r="0.85"/><circle cx="604.3" cy="159.9" r="0.85"/><circle cx="623.4" cy="160.9" r="0.85"/><circle cx="648.9" cy="159.7" r="0.85"/><circle cx="565.6" cy="149.3" r="0.85"/><circle cx="546" cy="161.9" r="0.85"/><circle cx="660.9" cy="161.1" r="0.85"/><circle cx="597.2" cy="162.4" r="0.85"/><circle cx="632.6" cy="162.3" r="0.85"/><circle cx="621" cy="154.7" r="0.85"/><circle cx="664" cy="161.3" r="0.85"/><circle cx="523.4" cy="159.8" r="0.85"/><circle cx="578.9" cy="161.5" r="0.85"/><circle cx="596.1" cy="160.5" r="0.85"/><circle cx="569.4" cy="162.7" r="0.85"/><circle cx="654.7" cy="160.8" r="0.85"/><circle cx="583.7" cy="162.3" r="0.85"/><circle cx="617.7" cy="161.9" r="0.85"/><circle cx="543.6" cy="162.6" r="0.85"/><circle cx="605.5" cy="156.8" r="0.85"/><circle cx="638.2" cy="161.8" r="0.85"/><circle cx="566.6" cy="159.3" r="0.85"/><circle cx="566.7" cy="159.8" r="0.85"/><circle cx="663.2" cy="161.3" r="0.85"/><circle cx="550.8" cy="161.7" r="0.85"/><circle cx="661.8" cy="162.3" r="0.85"/><circle cx="549.3" cy="161" r="0.85"/><circle cx="585.5" cy="161" r="0.85"/><circle cx="558.8" cy="160.5" r="0.85"/><circle cx="538.1" cy="158" r="0.85"/><circle cx="575" cy="150" r="0.85"/><circle cx="593.9" cy="160.2" r="0.85"/><circle cx="603.3" cy="162.6" r="0.85"/><circle cx="614" cy="158.1" r="0.85"/><circle cx="647" cy="161.9" r="0.85"/><circle cx="539.8" cy="157.1" r="0.85"/><circle cx="624.9" cy="159.6" r="0.85"/><circle cx="534" cy="160.1" r="0.85"/><circle cx="611.3" cy="162.5" r="0.85"/><circle cx="531.9" cy="162.7" r="0.85"/><circle cx="581.6" cy="161.5" r="0.85"/><circle cx="652.8" cy="160.4" r="0.85"/><circle cx="644.2" cy="160.3" r="0.85"/><circle cx="542.5" cy="156.5" r="0.85"/><circle cx="620.6" cy="160.7" r="0.85"/><circle cx="528.9" cy="159.1" r="0.85"/><circle cx="619.7" cy="160.3" r="0.85"/><circle cx="659.7" cy="162.1" r="0.85"/><circle cx="598.9" cy="157.4" r="0.85"/><circle cx="663.1" cy="160.4" r="0.85"/><circle cx="581.4" cy="161.8" r="0.85"/><circle cx="607.2" cy="154.3" r="0.85"/><circle cx="658.1" cy="161.8" r="0.85"/><circle cx="598.4" cy="161.7" r="0.85"/><circle cx="638.1" cy="160.6" r="0.85"/><circle cx="549.6" cy="157.1" r="0.85"/><circle cx="626.9" cy="159" r="0.85"/><circle cx="585.9" cy="162.2" r="0.85"/><circle cx="657.2" cy="158.3" r="0.85"/><circle cx="651.8" cy="160.9" r="0.85"/><circle cx="595.6" cy="162.5" r="0.85"/><circle cx="535" cy="161" r="0.85"/><circle cx="581.8" cy="159.8" r="0.85"/><circle cx="550.2" cy="153.6" r="0.85"/><circle cx="606.5" cy="162.2" r="0.85"/><circle cx="566.5" cy="162.4" r="0.85"/><circle cx="613.7" cy="156" r="0.85"/><circle cx="538.1" cy="161.6" r="0.85"/><circle cx="616.5" cy="155.2" r="0.85"/><circle cx="652.3" cy="147.1" r="0.85"/><circle cx="550.5" cy="162" r="0.85"/><circle cx="580.8" cy="159.9" r="0.85"/><circle cx="601.1" cy="161.6" r="0.85"/><circle cx="545.2" cy="157.6" r="0.85"/><circle cx="530.1" cy="153.5" r="0.85"/><circle cx="539.1" cy="160.1" r="0.85"/><circle cx="604.1" cy="160.3" r="0.85"/><circle cx="579.2" cy="144.8" r="0.85"/><circle cx="578.1" cy="161.7" r="0.85"/><circle cx="560.2" cy="161.4" r="0.85"/><circle cx="528.3" cy="157.7" r="0.85"/><circle cx="534.8" cy="158" r="0.85"/><circle cx="599.4" cy="159" r="0.85"/><circle cx="606.1" cy="147.8" r="0.85"/><circle cx="532.4" cy="162.1" r="0.85"/><circle cx="559.3" cy="161.4" r="0.85"/><circle cx="664.3" cy="157.6" r="0.85"/><circle cx="608" cy="162.3" r="0.85"/><circle cx="598.6" cy="155.2" r="0.85"/><circle cx="627.8" cy="156.6" r="0.85"/><circle cx="528" cy="160.3" r="0.85"/><circle cx="570.7" cy="162.7" r="0.85"/><circle cx="539.9" cy="156.4" r="0.85"/><circle cx="579.9" cy="154.9" r="0.85"/><circle cx="546.6" cy="161" r="0.85"/><circle cx="634.5" cy="159.5" r="0.85"/><circle cx="531" cy="160.1" r="0.85"/><circle cx="572.4" cy="162.5" r="0.85"/><circle cx="638.1" cy="160.6" r="0.85"/><circle cx="648.3" cy="162.5" r="0.85"/><circle cx="639.1" cy="159.4" r="0.85"/><circle cx="528.3" cy="161.5" r="0.85"/><circle cx="558.8" cy="162.6" r="0.85"/><circle cx="597.7" cy="162" r="0.85"/><circle cx="637.1" cy="150.1" r="0.85"/><circle cx="540.6" cy="161.1" r="0.85"/><circle cx="597.2" cy="157.5" r="0.85"/><circle cx="585.7" cy="160.8" r="0.85"/><circle cx="544.4" cy="162.4" r="0.85"/><circle cx="598.2" cy="161.8" r="0.85"/><circle cx="629.4" cy="161.6" r="0.85"/><circle cx="550.9" cy="160.4" r="0.85"/><circle cx="609.4" cy="160.6" r="0.85"/><circle cx="598.7" cy="161.4" r="0.85"/><circle cx="649.5" cy="151.5" r="0.85"/><circle cx="526.1" cy="162" r="0.85"/><circle cx="566.5" cy="161.4" r="0.85"/><circle cx="554" cy="162.5" r="0.85"/><circle cx="632.3" cy="162.4" r="0.85"/><circle cx="637" cy="162.2" r="0.85"/><circle cx="566.9" cy="160.3" r="0.85"/><circle cx="656.5" cy="162.6" r="0.85"/><circle cx="599.2" cy="160.4" r="0.85"/><circle cx="616.3" cy="162.2" r="0.85"/><circle cx="539.2" cy="159.1" r="0.85"/><circle cx="603" cy="161.6" r="0.85"/><circle cx="621.2" cy="161.3" r="0.85"/><circle cx="637.8" cy="152.7" r="0.85"/><circle cx="589" cy="151.6" r="0.85"/><circle cx="564.3" cy="159.9" r="0.85"/><circle cx="605.3" cy="158.2" r="0.85"/><circle cx="664.7" cy="162.6" r="0.85"/><circle cx="577.5" cy="147.3" r="0.85"/><circle cx="623.6" cy="156.4" r="0.85"/><circle cx="613.3" cy="159.4" r="0.85"/><circle cx="581.8" cy="157.4" r="0.85"/><circle cx="578.9" cy="161.8" r="0.85"/><circle cx="568.1" cy="154.7" r="0.85"/><circle cx="625.9" cy="157.8" r="0.85"/><circle cx="542.4" cy="161.3" r="0.85"/><circle cx="582" cy="142" r="0.85"/><circle cx="601.5" cy="157.5" r="0.85"/><circle cx="581.5" cy="140.6" r="0.85"/><circle cx="572.1" cy="162.6" r="0.85"/><circle cx="652.6" cy="160.6" r="0.85"/><circle cx="618.6" cy="153.2" r="0.85"/><circle cx="651.4" cy="160.1" r="0.85"/><circle cx="566.1" cy="159.1" r="0.85"/><circle cx="526.9" cy="161.3" r="0.85"/><circle cx="543.3" cy="160.2" r="0.85"/><circle cx="657.4" cy="156.1" r="0.85"/><circle cx="576.8" cy="160" r="0.85"/><circle cx="562.4" cy="158.9" r="0.85"/><circle cx="638.6" cy="161" r="0.85"/><circle cx="649" cy="158.5" r="0.85"/><circle cx="578.4" cy="159" r="0.85"/><circle cx="526.5" cy="160.1" r="0.85"/><circle cx="610.5" cy="161.4" r="0.85"/><circle cx="523.6" cy="160.7" r="0.85"/><circle cx="644" cy="159.9" r="0.85"/><circle cx="558.1" cy="162.7" r="0.85"/><circle cx="648.5" cy="162" r="0.85"/><circle cx="643.3" cy="162" r="0.85"/><circle cx="658.4" cy="153.5" r="0.85"/><circle cx="644.9" cy="159.9" r="0.85"/><circle cx="586.9" cy="158.8" r="0.85"/><circle cx="589.3" cy="161.5" r="0.85"/><circle cx="570.1" cy="156.6" r="0.85"/><circle cx="617" cy="159.1" r="0.85"/><circle cx="570.6" cy="161.4" r="0.85"/><circle cx="643.5" cy="156.8" r="0.85"/><circle cx="600.3" cy="158.3" r="0.85"/><circle cx="656.2" cy="156.3" r="0.85"/><circle cx="564.4" cy="154.4" r="0.85"/><circle cx="577.4" cy="162" r="0.85"/><circle cx="563.8" cy="160.9" r="0.85"/><circle cx="536.6" cy="162.3" r="0.85"/><circle cx="536.9" cy="161.4" r="0.85"/><circle cx="611.1" cy="158.4" r="0.85"/><circle cx="634" cy="157.3" r="0.85"/><circle cx="570.8" cy="162.3" r="0.85"/><circle cx="558.7" cy="160.5" r="0.85"/><circle cx="638.9" cy="162.2" r="0.85"/><circle cx="649.2" cy="159.5" r="0.85"/><circle cx="627.9" cy="159.7" r="0.85"/><circle cx="627.6" cy="155" r="0.85"/><circle cx="529.1" cy="162.5" r="0.85"/><circle cx="626" cy="143.3" r="0.85"/><circle cx="568.1" cy="161.4" r="0.85"/><circle cx="564.1" cy="157" r="0.85"/><circle cx="636" cy="147" r="0.85"/><circle cx="664.1" cy="161.7" r="0.85"/><circle cx="590.4" cy="160.8" r="0.85"/><circle cx="525.5" cy="160.7" r="0.85"/><circle cx="555.2" cy="159" r="0.85"/><circle cx="605.7" cy="162.7" r="0.85"/><circle cx="546.8" cy="161.5" r="0.85"/><circle cx="528.7" cy="161.4" r="0.85"/><circle cx="576.7" cy="160.5" r="0.85"/><circle cx="568.7" cy="160.9" r="0.85"/><circle cx="610.6" cy="159.4" r="0.85"/><circle cx="534.4" cy="156.1" r="0.85"/><circle cx="605.8" cy="156" r="0.85"/><circle cx="625.3" cy="162.5" r="0.85"/><circle cx="558.5" cy="161.2" r="0.85"/><circle cx="530.9" cy="154" r="0.85"/><circle cx="564.2" cy="152.9" r="0.85"/><circle cx="665" cy="160.5" r="0.85"/><circle cx="612" cy="156.7" r="0.85"/><circle cx="651" cy="160.3" r="0.85"/><circle cx="535.6" cy="159.3" r="0.85"/><circle cx="586.2" cy="160.1" r="0.85"/><circle cx="633.1" cy="162" r="0.85"/><circle cx="584.1" cy="160.8" r="0.85"/><circle cx="611.9" cy="159.6" r="0.85"/><circle cx="632.6" cy="160.4" r="0.85"/><circle cx="652" cy="161.9" r="0.85"/><circle cx="572" cy="158.8" r="0.85"/><circle cx="621.6" cy="160.4" r="0.85"/><circle cx="527.5" cy="161.7" r="0.85"/><circle cx="619.5" cy="158" r="0.85"/><circle cx="626.2" cy="162.3" r="0.85"/><circle cx="632.9" cy="154.6" r="0.85"/><circle cx="582.3" cy="153.3" r="0.85"/><circle cx="585.2" cy="162.3" r="0.85"/><circle cx="649.8" cy="162.2" r="0.85"/><circle cx="543.9" cy="162.1" r="0.85"/><circle cx="543.2" cy="161.4" r="0.85"/><circle cx="631.7" cy="160.6" r="0.85"/><circle cx="618.2" cy="162.7" r="0.85"/><circle cx="656.7" cy="161.7" r="0.85"/><circle cx="636.3" cy="159.4" r="0.85"/><circle cx="579.9" cy="162.2" r="0.85"/><circle cx="649.4" cy="162.1" r="0.85"/><circle cx="553.1" cy="161.4" r="0.85"/><circle cx="558.2" cy="153.5" r="0.85"/><circle cx="530.3" cy="162.2" r="0.85"/><circle cx="653.2" cy="161" r="0.85"/><circle cx="622" cy="158.4" r="0.85"/><circle cx="527" cy="158.4" r="0.85"/><circle cx="544" cy="159.3" r="0.85"/><circle cx="575" cy="162.2" r="0.85"/><circle cx="579.2" cy="158.4" r="0.85"/><circle cx="630.7" cy="162.2" r="0.85"/><circle cx="552.4" cy="162.6" r="0.85"/><circle cx="597.8" cy="160.8" r="0.85"/><circle cx="525.4" cy="162.1" r="0.85"/><circle cx="656.7" cy="156.7" r="0.85"/><circle cx="577.2" cy="160.1" r="0.85"/><circle cx="621.8" cy="159.9" r="0.85"/><circle cx="571.4" cy="161.2" r="0.85"/><circle cx="559.3" cy="161.3" r="0.85"/><circle cx="647.1" cy="140.1" r="0.85"/><circle cx="545.4" cy="161.1" r="0.85"/><circle cx="665" cy="160.5" r="0.85"/><circle cx="546.9" cy="162.4" r="0.85"/><circle cx="537.8" cy="162.1" r="0.85"/><circle cx="603.9" cy="162.1" r="0.85"/><circle cx="546" cy="161.5" r="0.85"/><circle cx="639.6" cy="154.3" r="0.85"/><circle cx="602.4" cy="162.4" r="0.85"/><circle cx="578" cy="162.6" r="0.85"/><circle cx="631.2" cy="162.7" r="0.85"/><circle cx="661" cy="162" r="0.85"/><circle cx="622.9" cy="155.9" r="0.85"/><circle cx="599.9" cy="162.6" r="0.85"/><circle cx="652" cy="151.4" r="0.85"/><circle cx="537.7" cy="162.2" r="0.85"/><circle cx="649.5" cy="161.5" r="0.85"/><circle cx="664.6" cy="157.2" r="0.85"/><circle cx="634.7" cy="161.7" r="0.85"/><circle cx="534.3" cy="162.5" r="0.85"/><circle cx="568.6" cy="162.2" r="0.85"/><circle cx="635.2" cy="160.3" r="0.85"/><circle cx="654.7" cy="157.5" r="0.85"/><circle cx="552.5" cy="162.3" r="0.85"/><circle cx="547.2" cy="160.2" r="0.85"/><circle cx="538.7" cy="158.5" r="0.85"/><circle cx="535.8" cy="161.7" r="0.85"/><circle cx="615.6" cy="161.1" r="0.85"/><circle cx="541.8" cy="160.6" r="0.85"/><circle cx="555.1" cy="159.3" r="0.85"/><circle cx="549.4" cy="162.5" r="0.85"/><circle cx="664.3" cy="158.5" r="0.85"/><circle cx="594.1" cy="160.1" r="0.85"/><circle cx="552.8" cy="161.8" r="0.85"/><circle cx="654" cy="162.4" r="0.85"/><circle cx="662.1" cy="155.9" r="0.85"/><circle cx="530.4" cy="146.6" r="0.85"/><circle cx="620.1" cy="162.5" r="0.85"/><circle cx="574.9" cy="160.7" r="0.85"/><circle cx="661.2" cy="161.4" r="0.85"/><circle cx="566.6" cy="162.5" r="0.85"/><circle cx="556.5" cy="158.3" r="0.85"/><circle cx="580" cy="147.7" r="0.85"/><circle cx="622.2" cy="162.5" r="0.85"/><circle cx="658.3" cy="157.6" r="0.85"/><circle cx="575.3" cy="157.3" r="0.85"/><circle cx="537.4" cy="162.3" r="0.85"/><circle cx="572.4" cy="161.3" r="0.85"/><circle cx="525.5" cy="159.4" r="0.85"/><circle cx="645.6" cy="158.5" r="0.85"/><circle cx="626.2" cy="147.7" r="0.85"/><circle cx="658.6" cy="158.5" r="0.85"/><circle cx="529.9" cy="159.3" r="0.85"/><circle cx="541.9" cy="160.6" r="0.85"/><circle cx="618.3" cy="162.5" r="0.85"/><circle cx="625.5" cy="162.2" r="0.85"/><circle cx="651.9" cy="160.7" r="0.85"/><circle cx="629.6" cy="160.3" r="0.85"/><circle cx="551.1" cy="161.8" r="0.85"/><circle cx="593" cy="160.4" r="0.85"/><circle cx="606.4" cy="161.6" r="0.85"/></g>
<circle cx="261.4" cy="102.4" r="1.45" fill="#e69f00" stroke="#111" stroke-width="0.85"/>
<circle cx="255.2" cy="132.1" r="1.45" fill="#e69f00" stroke="#111" stroke-width="0.85"/>
<circle cx="345.9" cy="70.3" r="1.45" fill="#e69f00" stroke="#111" stroke-width="0.85"/>
<circle cx="359" cy="132.8" r="1.45" fill="#e69f00" stroke="#111" stroke-width="0.85"/>
<circle cx="335.4" cy="134.1" r="1.45" fill="#e69f00" stroke="#111" stroke-width="0.85"/>
<circle cx="412.6" cy="41.3" r="1.45" fill="#4a7fa8" stroke="#111" stroke-width="0.85"/>
<circle cx="457.8" cy="48" r="1.45" fill="#4a7fa8" stroke="#111" stroke-width="0.85"/>
<circle cx="476.8" cy="46" r="1.45" fill="#4a7fa8" stroke="#111" stroke-width="0.85"/>
<circle cx="511.8" cy="40" r="1.45" fill="#4a7fa8" stroke="#111" stroke-width="0.85"/>
<circle cx="499" cy="50" r="1.45" fill="#4a7fa8" stroke="#111" stroke-width="0.85"/>
<circle cx="549.8" cy="56.5" r="1.45" fill="#7a1fd6" stroke="#111" stroke-width="0.85"/>
<circle cx="536" cy="136.8" r="1.45" fill="#7a1fd6" stroke="#111" stroke-width="0.85"/>
<circle cx="610.2" cy="136.4" r="1.45" fill="#7a1fd6" stroke="#111" stroke-width="0.85"/>
<circle cx="651.9" cy="133.5" r="1.45" fill="#7a1fd6" stroke="#111" stroke-width="0.85"/>
<circle cx="656.2" cy="137.3" r="1.45" fill="#7a1fd6" stroke="#111" stroke-width="0.85"/>
<text x="254.4" y="108.9" font-size="4.15" text-anchor="middle" fill="#e69f00" stroke="#e69f00" stroke-width="0.14">Coronavirus disease</text>
<text x="254.2" y="114.6" font-size="4.15" text-anchor="middle" fill="#e69f00" stroke="#e69f00" stroke-width="0.14">- COVID-19 (62)</text>
<text x="274.5" y="122.9" font-size="4.15" text-anchor="middle" fill="#e69f00" stroke="#e69f00" stroke-width="0.14">Chemical</text>
<text x="274.5" y="128.7" font-size="4.15" text-anchor="middle" fill="#e69f00" stroke="#e69f00" stroke-width="0.14">carcinogenesis -</text>
<text x="274.5" y="134.8" font-size="4.15" text-anchor="middle" fill="#e69f00" stroke="#e69f00" stroke-width="0.14">reactive oxygen</text>
<text x="274.5" y="140.6" font-size="4.15" text-anchor="middle" fill="#e69f00" stroke="#e69f00" stroke-width="0.14">species (64)</text>
<text x="350.3" y="67.2" font-size="4.15" text-anchor="middle" fill="#e69f00" stroke="#e69f00" stroke-width="0.14">Ribosome (74)</text>
<text x="351" y="129.6" font-size="4.15" text-anchor="middle" fill="#e69f00" stroke="#e69f00" stroke-width="0.14">Thermogenesis (86)</text>
<text x="331" y="140.6" font-size="4.15" text-anchor="middle" fill="#e69f00" stroke="#e69f00" stroke-width="0.14">Prion disease (73)</text>
<text x="403" y="47.8" font-size="4.15" text-anchor="middle" fill="#3a8ad0" stroke="#3a8ad0" stroke-width="0.14">Eukaryotic</text>
<text x="403" y="53.5" font-size="4.15" text-anchor="middle" fill="#3a8ad0" stroke="#3a8ad0" stroke-width="0.14">Translation</text>
<text x="403" y="59.4" font-size="4.15" text-anchor="middle" fill="#3a8ad0" stroke="#3a8ad0" stroke-width="0.14">Elongation (94)</text>
<text x="457.3" y="31.3" font-size="4.15" text-anchor="middle" fill="#3a8ad0" stroke="#3a8ad0" stroke-width="0.14">Response of EIF2AK4</text>
<text x="457.3" y="37" font-size="4.15" text-anchor="middle" fill="#3a8ad0" stroke="#3a8ad0" stroke-width="0.14">(GCN2) to amino acid</text>
<text x="457.3" y="42.8" font-size="4.15" text-anchor="middle" fill="#3a8ad0" stroke="#3a8ad0" stroke-width="0.14">deficiency (98)</text>
<text x="500" y="37" font-size="4.15" text-anchor="middle" fill="#3a8ad0" stroke="#3a8ad0" stroke-width="0.14">Translation (127)</text>
<text x="450.9" y="54.2" font-size="4.15" text-anchor="middle" fill="#3a8ad0" stroke="#3a8ad0" stroke-width="0.14">Peptide chain</text>
<text x="450.9" y="60" font-size="4.15" text-anchor="middle" fill="#3a8ad0" stroke="#3a8ad0" stroke-width="0.14">elongation (87)</text>
<text x="489.4" y="56.7" font-size="4.15" text-anchor="middle" fill="#3a8ad0" stroke="#3a8ad0" stroke-width="0.14">SRP-dependent</text>
<text x="489.4" y="62.5" font-size="4.15" text-anchor="middle" fill="#3a8ad0" stroke="#3a8ad0" stroke-width="0.14">cotranslational</text>
<text x="489.4" y="67.9" font-size="4.15" text-anchor="middle" fill="#3a8ad0" stroke="#3a8ad0" stroke-width="0.14">protein targeting to</text>
<text x="489.4" y="73.7" font-size="4.15" text-anchor="middle" fill="#3a8ad0" stroke="#3a8ad0" stroke-width="0.14">membrane (98)</text>
<text x="546" y="63" font-size="4.15" text-anchor="middle" fill="#8f2af0" stroke="#8f2af0" stroke-width="0.14">Cytoplasmic</text>
<text x="546" y="68.8" font-size="4.15" text-anchor="middle" fill="#8f2af0" stroke="#8f2af0" stroke-width="0.14">ribosomal proteins (58)</text>
<text x="553.1" y="137.4" font-size="4.15" text-anchor="middle" fill="#8f2af0" stroke="#8f2af0" stroke-width="0.14">B cell receptor</text>
<text x="552.8" y="143.1" font-size="4.15" text-anchor="middle" fill="#8f2af0" stroke="#8f2af0" stroke-width="0.14">signaling (34)</text>
<text x="600.8" y="122.2" font-size="4.15" text-anchor="middle" fill="#8f2af0" stroke="#8f2af0" stroke-width="0.14">Modulators of TCR</text>
<text x="600.8" y="127.6" font-size="4.15" text-anchor="middle" fill="#8f2af0" stroke="#8f2af0" stroke-width="0.14">signaling and T cell</text>
<text x="600.8" y="133.4" font-size="4.15" text-anchor="middle" fill="#8f2af0" stroke="#8f2af0" stroke-width="0.14">activation (28)</text>
<text x="645.3" y="124.9" font-size="4.15" text-anchor="middle" fill="#8f2af0" stroke="#8f2af0" stroke-width="0.14">T cell receptor</text>
<text x="645.3" y="130.1" font-size="4.15" text-anchor="middle" fill="#8f2af0" stroke="#8f2af0" stroke-width="0.14">signaling (31)</text>
<text x="640" y="143.7" font-size="4.15" text-anchor="middle" fill="#8f2af0" stroke="#8f2af0" stroke-width="0.14">TNF-alpha signaling (30)</text>
<line x1="234.4" y1="232" x2="234.4" y2="297.5" stroke="#9a9a9a" stroke-width="0.6"/>
<line x1="234.4" y1="297.5" x2="361.2" y2="297.5" stroke="#8a8a8a" stroke-width="0.6"/>
<line x1="231.8" y1="294.5" x2="234.4" y2="294.5" stroke="#777" stroke-width="0.4"/>
<text x="231.4" y="295.9" font-size="3.75" text-anchor="end" fill="#222" stroke="#222" stroke-width="0.05">0</text>
<line x1="231.8" y1="285.4" x2="234.4" y2="285.4" stroke="#777" stroke-width="0.4"/>
<text x="231.4" y="286.8" font-size="3.75" text-anchor="end" fill="#222" stroke="#222" stroke-width="0.05">20</text>
<line x1="231.8" y1="276.3" x2="234.4" y2="276.3" stroke="#777" stroke-width="0.4"/>
<text x="231.4" y="277.7" font-size="3.75" text-anchor="end" fill="#222" stroke="#222" stroke-width="0.05">40</text>
<line x1="231.8" y1="267.3" x2="234.4" y2="267.3" stroke="#777" stroke-width="0.4"/>
<text x="231.4" y="268.6" font-size="3.75" text-anchor="end" fill="#222" stroke="#222" stroke-width="0.05">60</text>
<line x1="231.8" y1="258.2" x2="234.4" y2="258.2" stroke="#777" stroke-width="0.4"/>
<text x="231.4" y="259.5" font-size="3.75" text-anchor="end" fill="#222" stroke="#222" stroke-width="0.05">80</text>
<line x1="231.8" y1="249.1" x2="234.4" y2="249.1" stroke="#777" stroke-width="0.4"/>
<text x="231.4" y="250.4" font-size="3.75" text-anchor="end" fill="#222" stroke="#222" stroke-width="0.05">100</text>
<line x1="231.8" y1="240" x2="234.4" y2="240" stroke="#777" stroke-width="0.4"/>
<text x="231.4" y="241.4" font-size="3.75" text-anchor="end" fill="#222" stroke="#222" stroke-width="0.05">120</text>
<line x1="261.2" y1="297.5" x2="261.2" y2="299" stroke="#777" stroke-width="0.4"/>
<line x1="292.3" y1="297.5" x2="292.3" y2="299" stroke="#777" stroke-width="0.4"/>
<line x1="322.4" y1="297.5" x2="322.4" y2="299" stroke="#777" stroke-width="0.4"/>
<line x1="352.2" y1="297.5" x2="352.2" y2="299" stroke="#777" stroke-width="0.4"/>
<line x1="234.4" y1="328.9" x2="361.2" y2="328.9" stroke="#8a8a8a" stroke-width="0.6"/>
<line x1="261.2" y1="328.9" x2="261.2" y2="330.4" stroke="#777" stroke-width="0.4"/>
<text x="261.2" y="334.9" font-size="3.8" text-anchor="middle" fill="#111" stroke="#111" stroke-width="0.05">120.2</text>
<line x1="292.3" y1="328.9" x2="292.3" y2="330.4" stroke="#777" stroke-width="0.4"/>
<text x="292.3" y="334.9" font-size="3.8" text-anchor="middle" fill="#111" stroke="#111" stroke-width="0.05">120.4</text>
<line x1="322.4" y1="328.9" x2="322.4" y2="330.4" stroke="#777" stroke-width="0.4"/>
<text x="322.4" y="334.9" font-size="3.8" text-anchor="middle" fill="#111" stroke="#111" stroke-width="0.05">120.6</text>
<line x1="352.2" y1="328.9" x2="352.2" y2="330.4" stroke="#777" stroke-width="0.4"/>
<text x="352.2" y="334.9" font-size="3.8" text-anchor="middle" fill="#111" stroke="#111" stroke-width="0.05">120.8</text>
<text x="297.4" y="342.5" font-size="4.6" text-anchor="middle" fill="#222" stroke="#222" stroke-width="0.05">Chromosome 1 (Mb)</text>
<text x="299.2" y="215.8" font-size="6.2" text-anchor="middle" fill="#000" stroke="#000" stroke-width="0.04"><tspan font-style="italic">NBPF8</tspan> Locus</text>
<line x1="279.9" y1="216.7" x2="318.5" y2="216.7" stroke="#111" stroke-width="0.45"/>
<text x="222.8" y="264.6" font-size="4.1" text-anchor="middle" fill="#111" stroke="#111" stroke-width="0.08" transform="rotate(-90 222.8 264.6)" textLength="19" lengthAdjust="spacingAndGlyphs">- log<tspan font-size="2.8" dy="0.9">10</tspan><tspan dy="-0.9">(P)</tspan></text>
<path fill="#3c5ee0" stroke="#202020" stroke-width="0.18" d="M273.1 295.8L274.6 293.1L271.6 293.1ZM240.3 291.7L241.8 294.4L238.8 294.4ZM257.7 290.1L259.2 292.8L256.2 292.8ZM254.3 290.4L255.8 293.1L252.8 293.1ZM238 293L239.5 290.3L236.5 290.3ZM253.4 294.4L254.9 291.7L251.9 291.7ZM251 292.9L252.5 290.2L249.5 290.2ZM260 294.9L261.5 292.2L258.5 292.2ZM274.9 293.9L276.4 291.2L273.4 291.2ZM251.4 294.6L252.9 291.9L249.9 291.9ZM249.3 290L250.8 292.7L247.8 292.7ZM265 291.6L266.5 294.3L263.5 294.3ZM262.1 290.3L263.6 293L260.6 293ZM249.6 292.4L251.1 295.1L248.1 295.1ZM241.5 290L243 292.7L240 292.7ZM247.7 294.6L249.2 291.9L246.2 291.9ZM249.9 290.9L251.4 293.6L248.4 293.6ZM248.9 295.3L250.4 292.6L247.4 292.6ZM247.1 293.1L248.6 290.4L245.6 290.4ZM264.6 292.4L266.1 295.1L263.1 295.1ZM258.3 295.7L259.8 293L256.8 293ZM273.9 293.3L275.4 290.6L272.4 290.6ZM239.2 291.1L240.7 293.8L237.7 293.8ZM268.6 295L270.1 292.3L267.1 292.3ZM268.4 295.8L269.9 293.1L266.9 293.1ZM275.5 292.2L277 294.9L274 294.9ZM275 290.9L276.5 293.6L273.5 293.6ZM240 291.2L241.5 293.9L238.5 293.9ZM273.4 292.8L274.9 295.5L271.9 295.5ZM241 291.4L242.5 294.1L239.5 294.1ZM258.2 292.4L259.7 295.1L256.7 295.1ZM253.4 292.7L254.9 295.4L251.9 295.4ZM250.4 295.6L251.9 292.9L248.9 292.9ZM271.9 292L273.4 294.7L270.4 294.7ZM264 295.4L265.5 292.7L262.5 292.7ZM246.3 290.7L247.8 293.4L244.8 293.4ZM267.1 294.5L268.6 291.8L265.6 291.8ZM269.2 293.1L270.7 290.4L267.7 290.4ZM250 294.5L251.5 291.8L248.5 291.8ZM246.7 292.8L248.2 295.5L245.2 295.5ZM258.9 291.5L260.4 294.2L257.4 294.2ZM258.9 291.3L260.4 294L257.4 294ZM265 289.7L266.5 292.4L263.5 292.4ZM267.6 293.2L269.1 290.5L266.1 290.5ZM244.9 291.9L246.4 294.6L243.4 294.6ZM254.5 291.1L256 293.8L253 293.8ZM264.3 294.3L265.8 291.6L262.8 291.6ZM258 294.5L259.5 291.8L256.5 291.8ZM248.6 292.7L250.1 295.4L247.1 295.4ZM271.2 292.5L272.7 295.2L269.7 295.2ZM267.3 294.9L268.8 292.2L265.8 292.2ZM248.4 290.8L249.9 293.5L246.9 293.5ZM248.8 292.9L250.3 295.6L247.3 295.6ZM252.1 294.1L253.6 291.4L250.6 291.4ZM255.6 291.5L257.1 294.2L254.1 294.2ZM247.8 290L249.3 292.7L246.3 292.7ZM247.3 295.5L248.8 292.8L245.8 292.8ZM241.3 291.2L242.8 293.9L239.8 293.9ZM259.1 294.2L260.6 291.5L257.6 291.5ZM247.1 292.5L248.6 295.2L245.6 295.2ZM275.3 291.8L276.8 294.5L273.8 294.5ZM268.5 290.6L270 293.3L267 293.3ZM242.7 292.5L244.2 295.2L241.2 295.2ZM265.8 294L267.3 291.3L264.3 291.3ZM248.4 293L249.9 290.3L246.9 290.3ZM262.5 293.3L264 290.6L261 290.6ZM272.6 290.3L274.1 293L271.1 293ZM260.8 293.2L262.3 290.5L259.3 290.5ZM255.3 295L256.8 292.3L253.8 292.3ZM267.1 295.4L268.6 292.7L265.6 292.7ZM303.8 290.6L305.3 293.3L302.3 293.3ZM282.9 292.5L284.4 295.2L281.4 295.2ZM296.9 293.6L298.4 290.9L295.4 290.9ZM301.4 292.5L302.9 295.2L299.9 295.2ZM294.2 294.8L295.7 292.1L292.7 292.1ZM317.9 293.6L319.4 290.9L316.4 290.9ZM320.2 292.9L321.7 295.6L318.7 295.6ZM295 295.2L296.5 292.5L293.5 292.5ZM280.7 293.9L282.2 291.2L279.2 291.2ZM310.8 291.4L312.3 294.1L309.3 294.1ZM296.1 289.7L297.6 292.4L294.6 292.4ZM296.9 295.4L298.4 292.7L295.4 292.7ZM296.4 290.4L297.9 293.1L294.9 293.1ZM307.2 291.1L308.7 293.8L305.7 293.8ZM313.5 294.5L315 291.8L312 291.8ZM301.5 291.7L303 294.4L300 294.4ZM304.5 295.7L306 293L303 293ZM306.8 291L308.3 293.7L305.3 293.7ZM314.3 290.9L315.8 293.6L312.8 293.6ZM281.4 289.6L282.9 292.3L279.9 292.3ZM319.9 295.1L321.4 292.4L318.4 292.4ZM307.1 290.5L308.6 293.2L305.6 293.2ZM304.3 292.7L305.8 290L302.8 290ZM300.6 291.4L302.1 294.1L299.1 294.1ZM281.8 291.2L283.3 293.9L280.3 293.9ZM305.9 293.6L307.4 290.9L304.4 290.9ZM310.5 294.6L312 291.9L309 291.9ZM287.3 293.7L288.8 291L285.8 291ZM290.3 290.5L291.8 293.2L288.8 293.2ZM301.9 292.3L303.4 295L300.4 295ZM319.4 292.6L320.9 289.9L317.9 289.9ZM302.9 292.7L304.4 295.4L301.4 295.4ZM307.9 295.8L309.4 293.1L306.4 293.1ZM283.7 295.7L285.2 293L282.2 293ZM283.7 292.4L285.2 295.1L282.2 295.1ZM282.4 295.3L283.9 292.6L280.9 292.6ZM319.2 294.7L320.7 292L317.7 292ZM290.4 294.5L291.9 291.8L288.9 291.8ZM306.2 292.6L307.7 295.3L304.7 295.3ZM309.9 292.1L311.4 294.8L308.4 294.8ZM313.4 290.1L314.9 292.8L311.9 292.8ZM281.6 291.8L283.1 294.5L280.1 294.5ZM320 292.5L321.5 289.8L318.5 289.8ZM310.9 294.5L312.4 291.8L309.4 291.8ZM312.5 291.7L314 294.4L311 294.4ZM312.5 293.7L314 291L311 291ZM300.5 292.7L302 295.4L299 295.4ZM314.8 289.8L316.3 292.5L313.3 292.5ZM307.2 294.6L308.7 291.9L305.7 291.9ZM287.7 295.3L289.2 292.6L286.2 292.6ZM285 293L286.5 290.3L283.5 290.3ZM320 291.6L321.5 294.3L318.5 294.3ZM300.3 295.3L301.8 292.6L298.8 292.6ZM301.5 294.6L303 291.9L300 291.9ZM312.6 292.4L314.1 295.1L311.1 295.1ZM304.2 295.4L305.7 292.7L302.7 292.7ZM319 292.7L320.5 295.4L317.5 295.4ZM300.3 290.8L301.8 293.5L298.8 293.5ZM300 295.9L301.5 293.2L298.5 293.2ZM283.2 290.4L284.7 293.1L281.7 293.1ZM316.2 291.1L317.7 293.8L314.7 293.8ZM302.1 290.4L303.6 293.1L300.6 293.1ZM303.9 296L305.4 293.3L302.4 293.3ZM309.9 293L311.4 290.3L308.4 290.3ZM305.8 292.2L307.3 294.9L304.3 294.9ZM281.2 292.7L282.7 295.4L279.7 295.4ZM310 294.1L311.5 291.4L308.5 291.4ZM293.2 289.8L294.7 292.5L291.7 292.5ZM299.2 292.3L300.7 295L297.7 295ZM307 293.8L308.5 291.1L305.5 291.1ZM326.5 292.8L328 295.5L325 295.5ZM333 295.8L334.5 293.1L331.5 293.1ZM336.5 292.1L338 294.8L335 294.8ZM354.6 295.8L356.1 293.1L353.1 293.1ZM251.2 288.8L252.7 286.1L249.7 286.1ZM248.1 288.7L249.6 286L246.6 286ZM261.9 284.4L263.4 281.7L260.4 281.7ZM263.6 287.4L265.1 284.7L262.1 284.7ZM267.2 287.4L268.7 284.7L265.7 284.7ZM250.6 285.5L252.1 282.8L249.1 282.8ZM258.4 289.2L259.9 286.5L256.9 286.5ZM260.5 287.3L262 284.6L259 284.6ZM255.9 288L257.4 285.3L254.4 285.3ZM255.9 282.7L257.4 285.4L254.4 285.4ZM247.8 282.7L249.3 285.4L246.3 285.4ZM249.3 283.6L250.8 286.3L247.8 286.3ZM266.8 288.2L268.3 285.5L265.3 285.5ZM265.1 282.4L266.6 285.1L263.6 285.1ZM260.2 285.1L261.7 282.4L258.7 282.4ZM256.4 285.9L257.9 288.6L254.9 288.6ZM249.5 287.4L251 284.7L248 284.7ZM252.9 289.1L254.4 286.4L251.4 286.4ZM261.8 289.4L263.3 286.7L260.3 286.7ZM250.7 288L252.2 285.3L249.2 285.3ZM262.7 285.7L264.2 283L261.2 283ZM259.8 285.6L261.3 288.3L258.3 288.3ZM255.4 285.6L256.9 282.9L253.9 282.9ZM250 281.2L251.5 283.9L248.5 283.9ZM250 286.3L251.5 283.6L248.5 283.6ZM255 284.4L256.5 281.7L253.5 281.7ZM254.5 287.1L256 284.4L253 284.4ZM257 288L258.5 285.3L255.5 285.3ZM265.2 288.1L266.7 285.4L263.7 285.4ZM263 285.4L264.5 282.7L261.5 282.7ZM253.5 276L255 278.7L252 278.7ZM253.1 280.6L254.6 277.9L251.6 277.9ZM258.7 249.7L260.2 252.4L257.2 252.4ZM255.5 255.1L257 252.4L254 252.4ZM253.9 254.5L255.4 257.2L252.4 257.2ZM254.4 261.9L255.9 259.2L252.9 259.2ZM256 256.5L257.5 259.2L254.5 259.2ZM315.9 275.8L317.4 278.5L314.4 278.5ZM320.1 278.8L321.6 276.1L318.6 276.1ZM313.1 278.4L314.6 275.7L311.6 275.7ZM289 275.9L290.5 278.6L287.5 278.6ZM312.5 275.2L314 277.9L311 277.9ZM297.2 275L298.7 277.7L295.7 277.7ZM319.1 276.2L320.6 278.9L317.6 278.9ZM314.1 275.3L315.6 278L312.6 278ZM306.7 275.4L308.2 278.1L305.2 278.1ZM285.8 275.2L287.3 277.9L284.3 277.9ZM317.2 278.1L318.7 275.4L315.7 275.4ZM290.6 276L292.1 278.7L289.1 278.7ZM296.6 276L298.1 278.7L295.1 278.7ZM298.1 275.5L299.6 278.2L296.6 278.2ZM306.4 278.1L307.9 275.4L304.9 275.4ZM292.8 276.1L294.3 278.8L291.3 278.8ZM286.1 275.3L287.6 278L284.6 278ZM291.9 277.8L293.4 280.5L290.4 280.5ZM314.9 278.3L316.4 281L313.4 281ZM301.8 278.7L303.3 281.4L300.3 281.4ZM284.2 278.5L285.7 281.2L282.7 281.2ZM301.7 281.5L303.2 278.8L300.2 278.8ZM282.5 278.2L284 280.9L281 280.9ZM304.5 280.6L306 277.9L303 277.9ZM318.9 281.4L320.4 278.7L317.4 278.7ZM314.2 281.8L315.7 279.1L312.7 279.1ZM301 280.7L302.5 278L299.5 278ZM314.6 278.6L316.1 281.3L313.1 281.3ZM319.5 278.5L321 281.2L318 281.2ZM312.4 277.9L313.9 280.6L310.9 280.6ZM316.9 280.7L318.4 278L315.4 278ZM297.6 281.4L299.1 278.7L296.1 278.7ZM316.8 277.9L318.3 280.6L315.3 280.6ZM302 277.9L303.5 280.6L300.5 280.6ZM286.7 283.3L288.2 280.6L285.2 280.6ZM284.5 280.6L286 283.3L283 283.3ZM286.1 284.3L287.6 281.6L284.6 281.6ZM283.7 281.3L285.2 284L282.2 284ZM310.2 283.3L311.7 280.6L308.7 280.6ZM317.9 280.6L319.4 283.3L316.4 283.3ZM295.4 284.4L296.9 281.7L293.9 281.7ZM288.5 284.5L290 281.8L287 281.8ZM318.9 281.6L320.4 284.3L317.4 284.3ZM310.1 280.2L311.6 282.9L308.6 282.9ZM302.9 280.5L304.4 283.2L301.4 283.2ZM296.1 283.8L297.6 281.1L294.6 281.1ZM304.6 284L306.1 281.3L303.1 281.3ZM289.7 284.3L291.2 281.6L288.2 281.6ZM313.4 283.8L314.9 281.1L311.9 281.1ZM285.3 283.8L286.8 281.1L283.8 281.1ZM318.6 281.5L320.1 284.2L317.1 284.2ZM311.2 287L312.7 284.3L309.7 284.3ZM308.4 286.3L309.9 283.6L306.9 283.6ZM283.1 283.6L284.6 286.3L281.6 286.3ZM316 283.7L317.5 286.4L314.5 286.4ZM288.8 285.9L290.3 283.2L287.3 283.2ZM312.3 283.3L313.8 286L310.8 286ZM303.7 286.1L305.2 283.4L302.2 283.4ZM295.6 286.2L297.1 283.5L294.1 283.5ZM292 286.3L293.5 283.6L290.5 283.6ZM318.3 283L319.8 285.7L316.8 285.7ZM292.9 283.2L294.4 285.9L291.4 285.9ZM313.7 286.1L315.2 283.4L312.2 283.4ZM298.9 286.6L300.4 283.9L297.4 283.9ZM305.4 286.1L306.9 283.4L303.9 283.4ZM297.8 286.9L299.3 284.2L296.3 284.2ZM298 284.2L299.5 286.9L296.5 286.9ZM283 286L284.5 283.3L281.5 283.3ZM286 286.4L287.5 289.1L284.5 289.1ZM293.8 286.3L295.3 289L292.3 289ZM298.9 289.8L300.4 287.1L297.4 287.1ZM297.3 289.7L298.8 287L295.8 287ZM313.3 285.9L314.8 288.6L311.8 288.6ZM309.1 289.5L310.6 286.8L307.6 286.8ZM288.2 286L289.7 288.7L286.7 288.7ZM291.3 288.6L292.8 285.9L289.8 285.9ZM287.9 285.9L289.4 288.6L286.4 288.6ZM309.3 286.3L310.8 289L307.8 289ZM318.6 289.8L320.1 287.1L317.1 287.1ZM313.1 286.4L314.6 289.1L311.6 289.1ZM292.9 285.7L294.4 288.4L291.4 288.4ZM306.8 286.2L308.3 288.9L305.3 288.9ZM310.9 285.7L312.4 288.4L309.4 288.4ZM286.9 288.7L288.4 286L285.4 286ZM301.1 289.4L302.6 286.7L299.6 286.7ZM295.9 248L297.4 250.7L294.4 250.7ZM297.1 247.5L298.6 250.2L295.6 250.2ZM298.2 247.6L299.7 250.3L296.7 250.3ZM299 250.7L300.5 248L297.5 248ZM300.1 249.7L301.6 247L298.6 247ZM300.4 249.8L301.9 247.1L298.9 247.1ZM301.6 247.5L303.1 250.2L300.1 250.2ZM302.2 246.4L303.7 249.1L300.7 249.1ZM303.4 248.8L304.9 246.1L301.9 246.1ZM304.2 249L305.7 246.3L302.7 246.3ZM305.3 245.7L306.8 248.4L303.8 248.4ZM306.1 245.4L307.6 248.1L304.6 248.1Z"/>
<path fill="#14c4e4" stroke="#202020" stroke-width="0.18" d="M249.2 274.2L250.7 271.5L247.7 271.5ZM250.5 270.7L252 273.4L249 273.4ZM260.3 266.7L261.8 269.4L258.8 269.4ZM317.7 269.9L319.2 272.6L316.2 272.6ZM312 290L313.5 292.7L310.5 292.7Z"/>
<path fill="#3ccc18" stroke="#202020" stroke-width="0.18" d="M253.9 271L255.4 268.3L252.4 268.3ZM251.2 272.6L252.7 269.9L249.7 269.9ZM252.5 268.7L254 271.4L251 271.4Z"/>
<path fill="#ffa800" stroke="#202020" stroke-width="0.18" d="M259.2 249.3L260.7 246.6L257.7 246.6ZM259.6 249.4L261.1 246.7L258.1 246.7ZM258.5 244.8L260 247.5L257 247.5ZM259 249.6L260.5 246.9L257.5 246.9ZM257.4 248.2L258.9 245.5L255.9 245.5ZM258.6 245.1L260.1 247.8L257.1 247.8ZM267.2 245.2L268.7 247.9L265.7 247.9ZM293.3 258.3L294.8 261L291.8 261ZM294.5 258.1L296 260.8L293 260.8ZM295.3 257.8L296.8 260.5L293.8 260.5ZM296.1 257.1L297.6 259.8L294.6 259.8ZM297.4 260.3L298.9 257.6L295.9 257.6ZM298.3 258.1L299.8 260.8L296.8 260.8ZM298.8 260.5L300.3 257.8L297.3 257.8ZM299.7 257.9L301.2 260.6L298.2 260.6ZM300.9 257.8L302.4 260.5L299.4 260.5ZM301.4 257.7L302.9 260.4L299.9 260.4ZM304.9 257.7L306.4 260.4L303.4 260.4ZM306 258.3L307.5 261L304.5 261ZM307.4 258.2L308.9 260.9L305.9 260.9ZM309.4 261.2L310.9 258.5L307.9 258.5ZM309.7 258.6L311.2 261.3L308.2 261.3ZM310.6 258L312.1 260.7L309.1 260.7ZM312.6 261.4L314.1 258.7L311.1 258.7ZM313.1 261.3L314.6 258.6L311.6 258.6ZM314.3 258L315.8 260.7L312.8 260.7ZM315.3 258.9L316.8 261.6L313.8 261.6ZM316 257.6L317.5 260.3L314.5 260.3ZM316.8 261L318.3 258.3L315.3 258.3ZM301.2 262.8L302.7 265.5L299.7 265.5Z"/>
<path fill="#f21c10" stroke="#202020" stroke-width="0.18" d="M293.5 235.7L295 238.4L292 238.4ZM293.7 234.7L295.2 237.4L292.2 237.4ZM294.7 234.9L296.2 237.6L293.2 237.6ZM295.4 237.5L296.9 234.8L293.9 234.8ZM296.2 234.9L297.7 237.6L294.7 237.6ZM298.1 237.6L299.6 234.9L296.6 234.9ZM298.4 236.8L299.9 234.1L296.9 234.1ZM299.6 236.5L301.1 233.8L298.1 233.8ZM299.5 234.8L301 237.5L298 237.5ZM301.5 235L303 237.7L300 237.7ZM302 235.2L303.5 237.9L300.5 237.9ZM303.1 238.7L304.6 236L301.6 236ZM303.9 238.7L305.4 236L302.4 236ZM304 239.5L305.5 236.8L302.5 236.8ZM305.8 240.3L307.3 237.6L304.3 237.6ZM306.3 237.4L307.8 240.1L304.8 240.1ZM307.5 239.6L309 236.9L306 236.9ZM307.6 237.4L309.1 240.1L306.1 240.1ZM308.9 240.6L310.4 237.9L307.4 237.9ZM309.7 236.7L311.2 239.4L308.2 239.4ZM310.7 237.6L312.2 240.3L309.2 240.3ZM311.8 240L313.3 237.3L310.3 237.3ZM313.2 235.5L314.7 238.2L311.7 238.2ZM313.8 240.2L315.3 237.5L312.3 237.5ZM314 236.7L315.5 239.4L312.5 239.4ZM315.8 236.6L317.3 239.3L314.3 239.3ZM316.8 236.4L318.3 239.1L315.3 239.1ZM317.1 236.9L318.6 239.6L315.6 239.6ZM318.6 237.5L320.1 240.2L317.1 240.2ZM319.9 240.6L321.4 237.9L318.4 237.9ZM293 238.5L294.5 241.2L291.5 241.2ZM309.5 242.5L311 239.8L308 239.8Z"/>
<path fill="#a030e0" stroke="#1a1a1a" stroke-width="0.35" d="M296.7 233.3L298.4 235L296.7 236.7L295 235Z"/>
<line x1="297.5" y1="234.3" x2="302" y2="231.3" stroke="#555" stroke-width="0.3"/>
<text x="303" y="231.4" font-size="3.6" fill="#000" stroke="#000" stroke-width="0.05">rs2503640</text>
<rect x="347.6" y="232.3" width="11.3" height="23.2" fill="#fff" stroke="#999" stroke-width="0.35"/>
<text x="353.2" y="234.9" font-size="2.3" text-anchor="middle" fill="#333">LD (r²)</text>
<rect x="349.8" y="237.4" width="2.7" height="3.1" fill="#f21c10"/>
<rect x="349.8" y="240.5" width="2.7" height="3.1" fill="#ffa800"/>
<rect x="349.8" y="243.5" width="2.7" height="3.1" fill="#3ccc18"/>
<rect x="349.8" y="246.6" width="2.7" height="3.1" fill="#14c4e4"/>
<rect x="349.8" y="249.6" width="2.7" height="3.1" fill="#3c5ee0"/>
<text x="353.3" y="238.1" font-size="2" fill="#333">1</text>
<text x="353.3" y="241.2" font-size="2" fill="#333">0.8</text>
<text x="353.3" y="244.2" font-size="2" fill="#333">0.6</text>
<text x="353.3" y="247.2" font-size="2" fill="#333">0.4</text>
<text x="353.3" y="250.3" font-size="2" fill="#333">0.2</text>
<text x="353.3" y="253.3" font-size="2" fill="#333">0</text>
<text x="257.6" y="305.2" font-size="3.25" text-anchor="middle" fill="#000" stroke="#000" stroke-width="0.05">← SEC22B</text>
<text x="299.9" y="305.2" font-size="3.25" text-anchor="middle" fill="#000" stroke="#000" stroke-width="0.05">NBPF8 →</text>
<text x="349.6" y="305.2" font-size="3.25" text-anchor="middle" fill="#000" stroke="#000" stroke-width="0.05">NBPF20 →</text>
<line x1="234" y1="310.1" x2="244.1" y2="310.1" stroke="#6a78c8" stroke-width="0.6"/>
<line x1="234" y1="308.7" x2="234" y2="311.5" stroke="#6a78c8" stroke-width="0.45"/>
<line x1="244.1" y1="308.7" x2="244.1" y2="311.5" stroke="#6a78c8" stroke-width="0.45"/>
<rect x="234" y="308.4" width="1" height="3.4" fill="#2e3d99"/>
<rect x="243" y="308.4" width="1.1" height="3.4" fill="#2e3d99"/>
<line x1="255.1" y1="310.6" x2="259.5" y2="310.6" stroke="#2e3d99" stroke-width="0.6"/>
<rect x="255.1" y="308.9" width="4.4" height="3.4" fill="#1e2a9a"/>
<rect x="297.4" y="308" width="5.4" height="4.4" fill="#ee2a22"/>
<line x1="340.8" y1="309.7" x2="358.1" y2="309.7" stroke="#6a78c8" stroke-width="0.6"/>
<line x1="340.8" y1="308.3" x2="340.8" y2="311.1" stroke="#6a78c8" stroke-width="0.45"/>
<line x1="349.5" y1="308.3" x2="349.5" y2="311.1" stroke="#6a78c8" stroke-width="0.45"/>
<line x1="358.1" y1="308.3" x2="358.1" y2="311.1" stroke="#6a78c8" stroke-width="0.45"/>
<rect x="352.8" y="308" width="5.3" height="3.4" fill="#1e2a8a"/>
<text x="271.4" y="318.7" font-size="3.25" text-anchor="middle" fill="#000" stroke="#000" stroke-width="0.05">CH17-478G19.1 →</text>
<line x1="262.4" y1="323.8" x2="281" y2="323.8" stroke="#3e4cb0" stroke-width="0.6"/>
<line x1="262.4" y1="322.3" x2="262.4" y2="325.3" stroke="#3e4cb0" stroke-width="0.5"/>
<line x1="271.5" y1="322.3" x2="271.5" y2="325.3" stroke="#3e4cb0" stroke-width="0.5"/>
<line x1="275" y1="322.3" x2="275" y2="325.3" stroke="#3e4cb0" stroke-width="0.5"/>
<line x1="281" y1="322.3" x2="281" y2="325.3" stroke="#3e4cb0" stroke-width="0.5"/>
<line x1="390.3" y1="231.7" x2="390.3" y2="297.5" stroke="#9a9a9a" stroke-width="0.6"/>
<line x1="390.3" y1="297.5" x2="520.6" y2="297.5" stroke="#8a8a8a" stroke-width="0.6"/>
<line x1="387.7" y1="294" x2="390.3" y2="294" stroke="#777" stroke-width="0.4"/>
<text x="387.3" y="295.4" font-size="3.75" text-anchor="end" fill="#222" stroke="#222" stroke-width="0.05">0</text>
<line x1="387.7" y1="284.4" x2="390.3" y2="284.4" stroke="#777" stroke-width="0.4"/>
<text x="387.3" y="285.7" font-size="3.75" text-anchor="end" fill="#222" stroke="#222" stroke-width="0.05">10</text>
<line x1="387.7" y1="274.7" x2="390.3" y2="274.7" stroke="#777" stroke-width="0.4"/>
<text x="387.3" y="276.1" font-size="3.75" text-anchor="end" fill="#222" stroke="#222" stroke-width="0.05">20</text>
<line x1="387.7" y1="265.1" x2="390.3" y2="265.1" stroke="#777" stroke-width="0.4"/>
<text x="387.3" y="266.5" font-size="3.75" text-anchor="end" fill="#222" stroke="#222" stroke-width="0.05">30</text>
<line x1="387.7" y1="255.5" x2="390.3" y2="255.5" stroke="#777" stroke-width="0.4"/>
<text x="387.3" y="256.8" font-size="3.75" text-anchor="end" fill="#222" stroke="#222" stroke-width="0.05">40</text>
<line x1="387.7" y1="245.8" x2="390.3" y2="245.8" stroke="#777" stroke-width="0.4"/>
<text x="387.3" y="247.2" font-size="3.75" text-anchor="end" fill="#222" stroke="#222" stroke-width="0.05">50</text>
<line x1="387.7" y1="236.2" x2="390.3" y2="236.2" stroke="#777" stroke-width="0.4"/>
<text x="387.3" y="237.6" font-size="3.75" text-anchor="end" fill="#222" stroke="#222" stroke-width="0.05">60</text>
<line x1="403.9" y1="297.5" x2="403.9" y2="299" stroke="#777" stroke-width="0.4"/>
<line x1="434.6" y1="297.5" x2="434.6" y2="299" stroke="#777" stroke-width="0.4"/>
<line x1="465.2" y1="297.5" x2="465.2" y2="299" stroke="#777" stroke-width="0.4"/>
<line x1="496.1" y1="297.5" x2="496.1" y2="299" stroke="#777" stroke-width="0.4"/>
<line x1="390.3" y1="329.3" x2="520.6" y2="329.3" stroke="#8a8a8a" stroke-width="0.6"/>
<line x1="403.9" y1="329.3" x2="403.9" y2="330.8" stroke="#777" stroke-width="0.4"/>
<text x="403.9" y="335.3" font-size="3.8" text-anchor="middle" fill="#111" stroke="#111" stroke-width="0.05">85.5</text>
<line x1="434.6" y1="329.3" x2="434.6" y2="330.8" stroke="#777" stroke-width="0.4"/>
<text x="434.6" y="335.3" font-size="3.8" text-anchor="middle" fill="#111" stroke="#111" stroke-width="0.05">85.6</text>
<line x1="465.2" y1="329.3" x2="465.2" y2="330.8" stroke="#777" stroke-width="0.4"/>
<text x="465.2" y="335.3" font-size="3.8" text-anchor="middle" fill="#111" stroke="#111" stroke-width="0.05">85.7</text>
<line x1="496.1" y1="329.3" x2="496.1" y2="330.8" stroke="#777" stroke-width="0.4"/>
<text x="496.1" y="335.3" font-size="3.8" text-anchor="middle" fill="#111" stroke="#111" stroke-width="0.05">85.8</text>
<text x="455.4" y="342.5" font-size="4.6" text-anchor="middle" fill="#222" stroke="#222" stroke-width="0.05">Chromosome 11 (Mb)</text>
<text x="450.2" y="215.8" font-size="6.2" text-anchor="middle" fill="#000" stroke="#000" stroke-width="0.04"><tspan font-style="italic">TMEM126A</tspan> Locus</text>
<line x1="424.3" y1="216.7" x2="476.1" y2="216.7" stroke="#111" stroke-width="0.45"/>
<text x="378.9" y="264" font-size="4.1" text-anchor="middle" fill="#111" stroke="#111" stroke-width="0.08" transform="rotate(-90 378.9 264)" textLength="19" lengthAdjust="spacingAndGlyphs">- log<tspan font-size="2.8" dy="0.9">10</tspan><tspan dy="-0.9">(P)</tspan></text>
<path fill="#3c5ee0" stroke="#202020" stroke-width="0.18" d="M486.5 291.6L488 294.3L485 294.3ZM424.8 294.4L426.3 291.7L423.3 291.7ZM459.9 291.3L461.4 294L458.4 294ZM396.1 291.3L397.6 294L394.6 294ZM470 295.8L471.5 293.1L468.5 293.1ZM472.9 291.9L474.4 294.6L471.4 294.6ZM485.7 292.7L487.2 295.4L484.2 295.4ZM431.5 295.5L433 292.8L430 292.8ZM413.3 291.8L414.8 294.5L411.8 294.5ZM460.7 292.9L462.2 295.6L459.2 295.6ZM439.6 293.1L441.1 295.8L438.1 295.8ZM414.9 295.8L416.4 293.1L413.4 293.1ZM452 291.9L453.5 294.6L450.5 294.6ZM472.5 291.5L474 294.2L471 294.2ZM508.2 292L509.7 294.7L506.7 294.7ZM436.7 294.5L438.2 291.8L435.2 291.8ZM481.8 291.1L483.3 293.8L480.3 293.8ZM442 294.2L443.5 291.5L440.5 291.5ZM413 292.1L414.5 294.8L411.5 294.8ZM513.7 291.6L515.2 294.3L512.2 294.3ZM434.9 292.4L436.4 295.1L433.4 295.1ZM423 295.6L424.5 292.9L421.5 292.9ZM401.9 292.9L403.4 295.6L400.4 295.6ZM429.7 292.2L431.2 294.9L428.2 294.9ZM488 294.2L489.5 291.5L486.5 291.5ZM415.2 294.1L416.7 291.4L413.7 291.4ZM489.2 291.1L490.7 293.8L487.7 293.8ZM417.9 292.2L419.4 294.9L416.4 294.9ZM510.9 293.8L512.4 291.1L509.4 291.1ZM492.8 294.8L494.3 292.1L491.3 292.1ZM414.8 295.7L416.3 293L413.3 293ZM498.6 295.8L500.1 293.1L497.1 293.1ZM500.1 291.4L501.6 294.1L498.6 294.1ZM414.2 295.7L415.7 293L412.7 293ZM454.2 292L455.7 294.7L452.7 294.7ZM507.8 295.2L509.3 292.5L506.3 292.5ZM454.3 293L455.8 295.7L452.8 295.7ZM459.8 292.8L461.3 295.5L458.3 295.5ZM495.4 292.4L496.9 295.1L493.9 295.1ZM411.4 292.1L412.9 294.8L409.9 294.8ZM393.2 295.9L394.7 293.2L391.7 293.2ZM504.6 292.7L506.1 295.4L503.1 295.4ZM506.3 291.4L507.8 294.1L504.8 294.1ZM451.1 292.5L452.6 295.2L449.6 295.2ZM400.1 293.1L401.6 295.8L398.6 295.8ZM485.1 295L486.6 292.3L483.6 292.3ZM499.5 295L501 292.3L498 292.3ZM479.4 291.5L480.9 294.2L477.9 294.2ZM515.9 295.2L517.4 292.5L514.4 292.5ZM459.7 291L461.2 293.7L458.2 293.7ZM422.1 296.2L423.6 293.5L420.6 293.5ZM429.3 294.9L430.8 292.2L427.8 292.2ZM455.7 294.6L457.2 291.9L454.2 291.9ZM413.9 292.2L415.4 294.9L412.4 294.9ZM457.5 291.1L459 293.8L456 293.8ZM486.6 292.1L488.1 294.8L485.1 294.8ZM442.4 293L443.9 295.7L440.9 295.7ZM426.9 295L428.4 292.3L425.4 292.3ZM469.4 295L470.9 292.3L467.9 292.3ZM436.7 293.1L438.2 295.8L435.2 295.8ZM420.1 295L421.6 292.3L418.6 292.3ZM488.8 292.5L490.3 295.2L487.3 295.2ZM492.1 293.1L493.6 295.8L490.6 295.8ZM417.4 291.3L418.9 294L415.9 294ZM411.1 295.1L412.6 292.4L409.6 292.4ZM450.6 295.2L452.1 292.5L449.1 292.5ZM495.3 296.2L496.8 293.5L493.8 293.5ZM454.6 290.9L456.1 293.6L453.1 293.6ZM416.9 296.2L418.4 293.5L415.4 293.5ZM408.9 291.6L410.4 294.3L407.4 294.3ZM470.9 293.2L472.4 295.9L469.4 295.9ZM479.7 294.8L481.2 292.1L478.2 292.1ZM455.1 295.7L456.6 293L453.6 293ZM482.2 292.7L483.7 295.4L480.7 295.4ZM448.3 295.4L449.8 292.7L446.8 292.7ZM466.5 291.7L468 294.4L465 294.4ZM456.2 291.8L457.7 294.5L454.7 294.5ZM401 291L402.5 293.7L399.5 293.7ZM403.8 294.7L405.3 292L402.3 292ZM442.7 296.1L444.2 293.4L441.2 293.4ZM508.4 295.4L509.9 292.7L506.9 292.7ZM492.8 291L494.3 293.7L491.3 293.7ZM512.2 294.7L513.7 292L510.7 292ZM511.2 296.3L512.7 293.6L509.7 293.6ZM433.8 295.3L435.3 292.6L432.3 292.6ZM404.6 286.6L406.1 289.3L403.1 289.3ZM441.1 289.7L442.6 287L439.6 287ZM499.9 286.8L501.4 289.5L498.4 289.5ZM445.7 288.8L447.2 286.1L444.2 286.1ZM419.9 285.6L421.4 288.3L418.4 288.3ZM395.3 286.1L396.8 288.8L393.8 288.8ZM462.4 284.8L463.9 287.5L460.9 287.5ZM449.8 289.5L451.3 286.8L448.3 286.8ZM488 286.7L489.5 289.4L486.5 289.4ZM457.2 289L458.7 286.3L455.7 286.3ZM498.2 287.7L499.7 285L496.7 285ZM482.2 289.8L483.7 287.1L480.7 287.1ZM442.1 285.7L443.6 288.4L440.6 288.4ZM416.8 289.8L418.3 287.1L415.3 287.1ZM495.9 288.5L497.4 285.8L494.4 285.8ZM395 285.9L396.5 288.6L393.5 288.6ZM430.2 287.1L431.7 289.8L428.7 289.8ZM511.4 289.3L512.9 286.6L509.9 286.6ZM443.3 289.9L444.8 287.2L441.8 287.2ZM464.4 286.2L465.9 288.9L462.9 288.9ZM468.1 285.1L469.6 287.8L466.6 287.8ZM482.4 287.8L483.9 285.1L480.9 285.1ZM421.1 286.9L422.6 289.6L419.6 289.6ZM481.7 288.5L483.2 285.8L480.2 285.8ZM415.4 285.2L416.9 287.9L413.9 287.9ZM514.8 286.9L516.3 289.6L513.3 289.6ZM511.8 286.9L513.3 289.6L510.3 289.6ZM469.7 285.2L471.2 287.9L468.2 287.9ZM430.8 288.2L432.3 285.5L429.3 285.5ZM419.9 285.5L421.4 288.2L418.4 288.2ZM426.1 286.6L427.6 289.3L424.6 289.3ZM513.2 285L514.7 287.7L511.7 287.7ZM423.9 285.9L425.4 288.6L422.4 288.6ZM442.6 289.5L444.1 286.8L441.1 286.8ZM422.9 286.8L424.4 289.5L421.4 289.5ZM463.8 288.6L465.3 285.9L462.3 285.9ZM464.7 285.9L466.2 288.6L463.2 288.6ZM402.6 288.3L404.1 285.6L401.1 285.6ZM507.7 285.7L509.2 288.4L506.2 288.4ZM417.7 286.9L419.2 289.6L416.2 289.6ZM444.6 284.9L446.1 287.6L443.1 287.6ZM435.7 290.1L437.2 287.4L434.2 287.4ZM455.4 289.7L456.9 287L453.9 287ZM450.4 286.5L451.9 289.2L448.9 289.2ZM413.9 289.7L415.4 287L412.4 287ZM477.7 289.2L479.2 286.5L476.2 286.5ZM424.2 285.1L425.7 287.8L422.7 287.8ZM500.6 288.9L502.1 286.2L499.1 286.2ZM488.7 288.5L490.2 285.8L487.2 285.8ZM490.6 288.9L492.1 286.2L489.1 286.2ZM451.4 285.8L452.9 288.5L449.9 288.5ZM464.1 286.8L465.6 289.5L462.6 289.5ZM444.8 285.6L446.3 288.3L443.3 288.3ZM507.9 286.4L509.4 289.1L506.4 289.1ZM457.1 285.5L458.6 288.2L455.6 288.2ZM406.7 286.1L408.2 288.8L405.2 288.8ZM477 288L478.5 285.3L475.5 285.3ZM448 286.2L449.5 288.9L446.5 288.9ZM490.7 286L492.2 288.7L489.2 288.7ZM413.7 286.7L415.2 289.4L412.2 289.4ZM465.7 285.4L467.2 288.1L464.2 288.1ZM512.8 285L514.3 287.7L511.3 287.7ZM394.4 285.6L395.9 288.3L392.9 288.3ZM398.5 289.3L400 286.6L397 286.6ZM413.9 289.1L415.4 286.4L412.4 286.4ZM414.9 288.1L416.4 285.4L413.4 285.4ZM399.4 289.1L400.9 286.4L397.9 286.4ZM502.1 288L503.6 285.3L500.6 285.3ZM455.5 285.8L457 288.5L454 288.5ZM468.1 288.1L469.6 285.4L466.6 285.4ZM404 287.7L405.5 285L402.5 285ZM434.8 288.7L436.3 286L433.3 286ZM419.6 281.5L421.1 284.2L418.1 284.2ZM484.4 280.1L485.9 282.8L482.9 282.8ZM432 283.5L433.5 280.8L430.5 280.8ZM455 282.5L456.5 285.2L453.5 285.2ZM470 286.5L471.5 283.8L468.5 283.8ZM512 283.5L513.5 286.2L510.5 286.2ZM398 281.5L399.5 284.2L396.5 284.2Z"/>
<path fill="#14c4e4" stroke="#202020" stroke-width="0.18" d="M473.7 262.9L475.2 265.6L472.2 265.6ZM476.4 264L477.9 261.3L474.9 261.3ZM476.7 263.4L478.2 260.7L475.2 260.7ZM478 266.7L479.5 264L476.5 264ZM479.5 264.8L481 262.1L478 262.1ZM480 266.9L481.5 264.2L478.5 264.2ZM481 265.5L482.5 262.8L479.5 262.8ZM482.3 265.6L483.8 262.9L480.8 262.9ZM483.3 265.4L484.8 262.7L481.8 262.7ZM484.1 263.5L485.6 266.2L482.6 266.2ZM485.4 261.7L486.9 264.4L483.9 264.4ZM486.5 264.7L488 262L485 262ZM487.5 266.7L489 264L486 264ZM489.3 267.1L490.8 264.4L487.8 264.4ZM490.7 263.1L492.2 265.8L489.2 265.8ZM491.9 266.9L493.4 264.2L490.4 264.2ZM493.4 268.8L494.9 266.1L491.9 266.1ZM493.6 266.4L495.1 263.7L492.1 263.7ZM495.7 266.5L497.2 263.8L494.2 263.8ZM496 267.3L497.5 264.6L494.5 264.6ZM496.7 265.8L498.2 268.5L495.2 268.5ZM498.5 268.7L500 266L497 266ZM499.6 268.8L501.1 266.1L498.1 266.1ZM500.8 269.5L502.3 266.8L499.3 266.8ZM501.5 266.2L503 268.9L500 268.9ZM501.4 267.7L502.9 265L499.9 265ZM502 271.6L503.5 268.9L500.5 268.9ZM504.3 269.1L505.8 266.4L502.8 266.4ZM504.2 270L505.7 267.3L502.7 267.3ZM506 268.6L507.5 271.3L504.5 271.3ZM506.4 272.8L507.9 270.1L504.9 270.1ZM508.5 274.7L510 272L507 272ZM508.6 274.8L510.1 272.1L507.1 272.1ZM510.1 274.9L511.6 272.2L508.6 272.2ZM510.7 274.6L512.2 271.9L509.2 271.9ZM511.6 276.2L513.1 273.5L510.1 273.5ZM512.5 275.3L514 272.6L511 272.6ZM513.7 276.2L515.2 273.5L512.2 273.5ZM514.5 279.1L516 276.4L513 276.4ZM516.2 277.1L517.7 274.4L514.7 274.4ZM497 271.5L498.5 268.8L495.5 268.8ZM503 274.5L504.5 271.8L501.5 271.8ZM508 276.5L509.5 273.8L506.5 273.8ZM511 275.5L512.5 278.2L509.5 278.2ZM514 280L515.5 277.3L512.5 277.3ZM516 277.5L517.5 274.8L514.5 274.8ZM510 281L511.5 278.3L508.5 278.3Z"/>
<path fill="#3ccc18" stroke="#202020" stroke-width="0.18" d="M394.5 264.4L396 261.7L393 261.7ZM395.6 262.5L397.1 259.8L394.1 259.8ZM397 263.3L398.5 260.6L395.5 260.6ZM397.7 263.1L399.2 260.4L396.2 260.4ZM398.1 262.4L399.6 259.7L396.6 259.7ZM398.8 261.5L400.3 258.8L397.3 258.8ZM399.7 258.9L401.2 261.6L398.2 261.6ZM401.5 263L403 260.3L400 260.3ZM400.9 262.8L402.4 260.1L399.4 260.1ZM401.9 258.1L403.4 260.8L400.4 260.8ZM403.7 260.6L405.2 257.9L402.2 257.9ZM403.5 258.4L405 261.1L402 261.1ZM404.7 256.6L406.2 259.3L403.2 259.3ZM405.9 259.5L407.4 256.8L404.4 256.8ZM405.8 259.8L407.3 257.1L404.3 257.1ZM407.2 257.4L408.7 260.1L405.7 260.1ZM407.4 258.4L408.9 255.7L405.9 255.7ZM408.9 259.9L410.4 257.2L407.4 257.2ZM409.1 255.7L410.6 258.4L407.6 258.4ZM410.6 259.1L412.1 256.4L409.1 256.4ZM410.7 256.4L412.2 259.1L409.2 259.1ZM411.4 258.8L412.9 256.1L409.9 256.1ZM412.8 257L414.3 254.3L411.3 254.3ZM413 257.4L414.5 254.7L411.5 254.7ZM413.5 257.7L415 255L412 255ZM414.3 257.1L415.8 254.4L412.8 254.4ZM415 257L416.5 254.3L413.5 254.3ZM416.3 258.8L417.8 256.1L414.8 256.1ZM417.4 258.6L418.9 255.9L415.9 255.9ZM418.4 257.9L419.9 255.2L416.9 255.2ZM418.9 256.8L420.4 254.1L417.4 254.1ZM419.5 257L421 254.3L418 254.3ZM420 253.6L421.5 256.3L418.5 256.3ZM421.5 255.5L423 252.8L420 252.8ZM422.8 253L424.3 255.7L421.3 255.7ZM422.9 256.9L424.4 254.2L421.4 254.2ZM423.1 256.7L424.6 254L421.6 254ZM425.3 255.3L426.8 252.6L423.8 252.6ZM425.1 257.3L426.6 254.6L423.6 254.6ZM426.5 254.1L428 251.4L425 251.4ZM426.3 251.9L427.8 254.6L424.8 254.6ZM428.3 252.6L429.8 255.3L426.8 255.3ZM414.3 263.4L415.8 260.7L412.8 260.7ZM418.8 266.3L420.3 263.6L417.3 263.6ZM407.5 263.2L409 260.5L406 260.5ZM422.5 263.9L424 261.2L421 261.2ZM423 264.8L424.5 262.1L421.5 262.1ZM411.5 261.9L413 264.6L410 264.6ZM404.9 265.9L406.4 263.2L403.4 263.2ZM415.7 265.1L417.2 262.4L414.2 262.4ZM431.7 258.5L433.2 255.8L430.2 255.8ZM433.4 257.2L434.9 254.5L431.9 254.5ZM437.1 256.9L438.6 254.2L435.6 254.2ZM436.8 255.1L438.3 252.4L435.3 252.4ZM439.7 256.4L441.2 253.7L438.2 253.7ZM442.2 255.1L443.7 252.4L440.7 252.4ZM444.1 256L445.6 253.3L442.6 253.3ZM446.8 255.1L448.3 252.4L445.3 252.4ZM447.9 255.7L449.4 253L446.4 253ZM451.2 255.6L452.7 252.9L449.7 252.9ZM459.1 254.8L460.6 252.1L457.6 252.1ZM461.2 256.1L462.7 253.4L459.7 253.4ZM461.2 257.6L462.7 254.9L459.7 254.9ZM463.6 256L465.1 253.3L462.1 253.3ZM463 257.7L464.5 255L461.5 255ZM463.9 258.9L465.4 256.2L462.4 256.2ZM466.1 259.2L467.6 256.5L464.6 256.5ZM466.8 258.2L468.3 255.5L465.3 255.5ZM468.3 255.4L469.8 258.1L466.8 258.1ZM470.1 259.2L471.6 256.5L468.6 256.5ZM470.1 260.2L471.6 257.5L468.6 257.5ZM471.6 261.3L473.1 258.6L470.1 258.6ZM471.9 260L473.4 257.3L470.4 257.3ZM473.8 261.4L475.3 258.7L472.3 258.7ZM475.3 261.3L476.8 258.6L473.8 258.6ZM474.9 263.2L476.4 260.5L473.4 260.5ZM477.2 261.9L478.7 259.2L475.7 259.2ZM477.9 259.1L479.4 261.8L476.4 261.8ZM479.5 261.4L481 258.7L478 258.7ZM480 261.6L481.5 258.9L478.5 258.9ZM481.6 262.8L483.1 260.1L480.1 260.1ZM481.2 258.5L482.7 261.2L479.7 261.2ZM483.3 263.5L484.8 260.8L481.8 260.8ZM485.3 262.2L486.8 259.5L483.8 259.5ZM485.9 261L487.4 258.3L484.4 258.3ZM486.5 259.6L488 256.9L485 256.9ZM488.3 260.7L489.8 258L486.8 258ZM488.4 258.7L489.9 256L486.9 256ZM488.9 259.4L490.4 256.7L487.4 256.7ZM490.4 260.1L491.9 257.4L488.9 257.4ZM492.1 259.6L493.6 256.9L490.6 256.9ZM493.4 258.7L494.9 256L491.9 256ZM493.7 260.5L495.2 257.8L492.2 257.8ZM495.2 260.7L496.7 258L493.7 258ZM497.1 258.8L498.6 256.1L495.6 256.1ZM497.6 260L499.1 257.3L496.1 257.3ZM498 259L499.5 256.3L496.5 256.3ZM499.8 260.3L501.3 257.6L498.3 257.6ZM501.4 259.8L502.9 257.1L499.9 257.1ZM501.7 260.5L503.2 257.8L500.2 257.8ZM432.9 268.3L434.4 271L431.4 271ZM500 263.5L501.5 260.8L498.5 260.8ZM505 262.5L506.5 259.8L503.5 259.8Z"/>
<path fill="#ffa800" stroke="#202020" stroke-width="0.18" d="M396.4 252L397.9 249.3L394.9 249.3ZM397.6 247.3L399.1 250L396.1 250ZM398.9 248.1L400.4 250.8L397.4 250.8ZM400.8 249.8L402.3 247.1L399.3 247.1ZM401.8 251L403.3 248.3L400.3 248.3ZM403.3 250.6L404.8 247.9L401.8 247.9ZM404.8 247.1L406.3 249.8L403.3 249.8ZM405.4 250.4L406.9 247.7L403.9 247.7ZM407.4 252.1L408.9 249.4L405.9 249.4ZM425.4 250.6L426.9 253.3L423.9 253.3ZM426.6 254.7L428.1 252L425.1 252ZM428.2 251.5L429.7 254.2L426.7 254.2ZM430.3 253.8L431.8 251.1L428.8 251.1ZM430.7 253.5L432.2 250.8L429.2 250.8ZM431.3 254.9L432.8 252.2L429.8 252.2ZM433.3 253.6L434.8 250.9L431.8 250.9ZM434.9 250.9L436.4 253.6L433.4 253.6ZM436.3 254.2L437.8 251.5L434.8 251.5ZM438.3 253.2L439.8 250.5L436.8 250.5ZM439.3 253.4L440.8 250.7L437.8 250.7ZM439.5 253.7L441 251L438 251ZM441.1 253L442.6 250.3L439.6 250.3ZM443.4 251.5L444.9 248.8L441.9 248.8ZM444 251.2L445.5 248.5L442.5 248.5ZM444.8 248.9L446.3 251.6L443.3 251.6ZM446.9 250.8L448.4 248.1L445.4 248.1ZM447.6 250.6L449.1 247.9L446.1 247.9ZM450 251.2L451.5 248.5L448.5 248.5ZM450.7 250.2L452.2 247.5L449.2 247.5ZM452.5 250.1L454 247.4L451 247.4ZM453.3 250.3L454.8 247.6L451.8 247.6ZM455 252L456.5 249.3L453.5 249.3ZM455.7 250.7L457.2 248L454.2 248ZM457.8 251.9L459.3 249.2L456.3 249.2ZM458.7 250.5L460.2 247.8L457.2 247.8ZM460.4 247L461.9 249.7L458.9 249.7ZM462.2 250.6L463.7 247.9L460.7 247.9ZM463.6 247.6L465.1 250.3L462.1 250.3ZM464.4 249.4L465.9 252.1L462.9 252.1ZM466.5 251.6L468 248.9L465 248.9ZM467.1 251.6L468.6 248.9L465.6 248.9ZM467.7 251.4L469.2 248.7L466.2 248.7ZM469.5 254.3L471 251.6L468 251.6ZM470.4 254L471.9 251.3L468.9 251.3ZM472.1 254.7L473.6 252L470.6 252ZM473.2 250.8L474.7 253.5L471.7 253.5ZM474.6 255.5L476.1 252.8L473.1 252.8ZM476.2 251.7L477.7 254.4L474.7 254.4ZM477 256.6L478.5 253.9L475.5 253.9ZM478.4 255.4L479.9 258.1L476.9 258.1ZM479.3 258.8L480.8 256.1L477.8 256.1ZM481.2 259.1L482.7 256.4L479.7 256.4ZM481.3 254.3L482.8 257L479.8 257ZM419 251.5L420.5 248.8L417.5 248.8ZM424 248.5L425.5 245.8L422.5 245.8ZM445 247.5L446.5 244.8L443.5 244.8ZM436 245L437.5 242.3L434.5 242.3Z"/>
<path fill="#f21c10" stroke="#202020" stroke-width="0.18" d="M415.8 246.2L417.3 243.5L414.3 243.5ZM415.7 244.9L417.2 247.6L414.2 247.6ZM416.8 245.6L418.3 242.9L415.3 242.9ZM418.5 244.1L420 241.4L417 241.4ZM418.6 243.7L420.1 241L417.1 241ZM420.3 246.6L421.8 243.9L418.8 243.9ZM420.8 244.8L422.3 242.1L419.3 242.1ZM422.4 243.6L423.9 240.9L420.9 240.9ZM423.8 245.1L425.3 242.4L422.3 242.4ZM424.1 244.7L425.6 242L422.6 242ZM424.7 245.8L426.2 243.1L423.2 243.1ZM425.6 243.4L427.1 240.7L424.1 240.7ZM427.2 242L428.7 239.3L425.7 239.3ZM428.6 244.1L430.1 241.4L427.1 241.4ZM428.4 241.8L429.9 239.1L426.9 239.1ZM430.6 243.1L432.1 240.4L429.1 240.4ZM430.7 241.9L432.2 239.2L429.2 239.2ZM432.6 243.5L434.1 240.8L431.1 240.8ZM434 242.3L435.5 239.6L432.5 239.6ZM435.1 242L436.6 239.3L433.6 239.3ZM435.8 242L437.3 239.3L434.3 239.3ZM435.4 241.8L436.9 239.1L433.9 239.1ZM437.3 243.9L438.8 241.2L435.8 241.2ZM438.2 243.2L439.7 240.5L436.7 240.5ZM439 242.9L440.5 240.2L437.5 240.2ZM439.5 237.7L441 240.4L438 240.4ZM442.1 239L443.6 241.7L440.6 241.7ZM441.7 240.2L443.2 237.5L440.2 237.5ZM444.1 242.4L445.6 239.7L442.6 239.7ZM444 240.3L445.5 237.6L442.5 237.6ZM444.9 240L446.4 237.3L443.4 237.3ZM445.2 241.8L446.7 239.1L443.7 239.1ZM446.9 241L448.4 238.3L445.4 238.3ZM448.4 240.5L449.9 237.8L446.9 237.8ZM448.1 237.4L449.6 234.7L446.6 234.7ZM449.5 234.3L451 237L448 237ZM450.2 237L451.7 234.3L448.7 234.3ZM452.1 238.1L453.6 235.4L450.6 235.4ZM451.6 232.9L453.1 235.6L450.1 235.6ZM452.3 236L453.8 233.3L450.8 233.3ZM454 236.2L455.5 233.5L452.5 233.5ZM455.4 231.8L456.9 234.5L453.9 234.5ZM456.6 236.4L458.1 233.7L455.1 233.7ZM457.2 235.4L458.7 232.7L455.7 232.7ZM459.3 235.1L460.8 232.4L457.8 232.4ZM458.6 236.2L460.1 233.5L457.1 233.5ZM459.6 234.7L461.1 232L458.1 232ZM462.3 237.2L463.8 234.5L460.8 234.5ZM443 246L444.5 243.3L441.5 243.3ZM456 245L457.5 242.3L454.5 242.3ZM425 248L426.5 245.3L423.5 245.3ZM433 247.5L434.5 244.8L431.5 244.8Z"/>
<path fill="#a030e0" stroke="#1a1a1a" stroke-width="0.35" d="M457.7 232.3L459.4 234L457.7 235.7L456 234Z"/>
<line x1="458.5" y1="233.3" x2="463" y2="230.2" stroke="#555" stroke-width="0.3"/>
<text x="463.7" y="230.4" font-size="3.6" fill="#222" stroke="#222" stroke-width="0.05">rs909453</text>
<rect x="506.6" y="232.3" width="9.9" height="23.2" fill="#fff" stroke="#999" stroke-width="0.35"/>
<text x="511.6" y="234.9" font-size="2.3" text-anchor="middle" fill="#333">LD (r²)</text>
<rect x="508.8" y="237.4" width="2.7" height="3.1" fill="#f21c10"/>
<rect x="508.8" y="240.5" width="2.7" height="3.1" fill="#ffa800"/>
<rect x="508.8" y="243.5" width="2.7" height="3.1" fill="#3ccc18"/>
<rect x="508.8" y="246.6" width="2.7" height="3.1" fill="#14c4e4"/>
<rect x="508.8" y="249.6" width="2.7" height="3.1" fill="#3c5ee0"/>
<text x="512.3" y="238.1" font-size="2" fill="#333">1</text>
<text x="512.3" y="241.2" font-size="2" fill="#333">0.8</text>
<text x="512.3" y="244.2" font-size="2" fill="#333">0.6</text>
<text x="512.3" y="247.2" font-size="2" fill="#333">0.4</text>
<text x="512.3" y="250.3" font-size="2" fill="#333">0.2</text>
<text x="512.3" y="253.3" font-size="2" fill="#333">0</text>
<text x="455" y="302.3" font-size="3.25" text-anchor="middle" fill="#000" stroke="#000" stroke-width="0.05">← CARD17</text>
<line x1="390.3" y1="304.7" x2="520.6" y2="304.7" stroke="#8894d4" stroke-width="0.55"/>
<rect x="454" y="303" width="2" height="3.4" fill="#1e2a8a"/>
<line x1="391" y1="303.5" x2="391" y2="305.9" stroke="#6a78c8" stroke-width="0.45"/>
<line x1="411.5" y1="303.5" x2="411.5" y2="305.9" stroke="#6a78c8" stroke-width="0.45"/>
<line x1="445" y1="303.5" x2="445" y2="305.9" stroke="#6a78c8" stroke-width="0.45"/>
<line x1="519.5" y1="303.5" x2="519.5" y2="305.9" stroke="#6a78c8" stroke-width="0.45"/>
<text x="444.3" y="309.3" font-size="3.25" text-anchor="middle" fill="#000" stroke="#000" stroke-width="0.05">TMEM126B →</text>
<text x="483.4" y="309.3" font-size="3.25" text-anchor="middle" fill="#000" stroke="#000" stroke-width="0.05">← SYTL2</text>
<line x1="444.8" y1="311.9" x2="446.2" y2="311.9" stroke="#1e2a8a" stroke-width="0.6"/>
<rect x="444.8" y="310.2" width="1.4" height="3.4" fill="#1e2a8a"/>
<line x1="464.8" y1="311.9" x2="502" y2="311.9" stroke="#9aa4dc" stroke-width="0.55"/>
<rect x="465" y="310.2" width="1.3" height="3.4" fill="#1e2a8a"/>
<rect x="468.3" y="310.2" width="1.3" height="3.4" fill="#1e2a8a"/>
<rect x="471.5" y="310.2" width="1.3" height="3.4" fill="#1e2a8a"/>
<rect x="474.5" y="310.2" width="1.3" height="3.4" fill="#1e2a8a"/>
<rect x="478.5" y="310.2" width="1.3" height="3.4" fill="#1e2a8a"/>
<text x="448.4" y="316.6" font-size="3.25" text-anchor="middle" fill="#000" stroke="#000" stroke-width="0.05">TMEM126A ←</text>
<rect x="450.2" y="317.7" width="2" height="2.6" fill="#ee3a2a"/>
<text x="462.3" y="323.8" font-size="3.25" text-anchor="middle" fill="#000" stroke="#000" stroke-width="0.05">← CREBZF</text>
<rect x="461.5" y="324.8" width="1.2" height="2.6" fill="#1e2a8a"/>
<line x1="549.8" y1="232" x2="549.8" y2="297.5" stroke="#9a9a9a" stroke-width="0.6"/>
<line x1="549.8" y1="297.5" x2="677.3" y2="297.5" stroke="#8a8a8a" stroke-width="0.6"/>
<line x1="547.2" y1="295" x2="549.8" y2="295" stroke="#777" stroke-width="0.4"/>
<text x="546.8" y="296.4" font-size="3.75" text-anchor="end" fill="#222" stroke="#222" stroke-width="0.05">0</text>
<line x1="547.2" y1="274.6" x2="549.8" y2="274.6" stroke="#777" stroke-width="0.4"/>
<text x="546.8" y="276" font-size="3.75" text-anchor="end" fill="#222" stroke="#222" stroke-width="0.05">5</text>
<line x1="547.2" y1="254.3" x2="549.8" y2="254.3" stroke="#777" stroke-width="0.4"/>
<text x="546.8" y="255.7" font-size="3.75" text-anchor="end" fill="#222" stroke="#222" stroke-width="0.05">10</text>
<line x1="547.2" y1="233.9" x2="549.8" y2="233.9" stroke="#777" stroke-width="0.4"/>
<text x="546.8" y="235.3" font-size="3.75" text-anchor="end" fill="#222" stroke="#222" stroke-width="0.05">15</text>
<line x1="554.8" y1="297.5" x2="554.8" y2="299" stroke="#777" stroke-width="0.4"/>
<line x1="586.6" y1="297.5" x2="586.6" y2="299" stroke="#777" stroke-width="0.4"/>
<line x1="618.3" y1="297.5" x2="618.3" y2="299" stroke="#777" stroke-width="0.4"/>
<line x1="650.1" y1="297.5" x2="650.1" y2="299" stroke="#777" stroke-width="0.4"/>
<line x1="549.8" y1="328.7" x2="677.3" y2="328.7" stroke="#8a8a8a" stroke-width="0.6"/>
<line x1="554.8" y1="328.7" x2="554.8" y2="330.2" stroke="#777" stroke-width="0.4"/>
<text x="554.8" y="334.7" font-size="3.8" text-anchor="middle" fill="#111" stroke="#111" stroke-width="0.05">145.9</text>
<line x1="586.6" y1="328.7" x2="586.6" y2="330.2" stroke="#777" stroke-width="0.4"/>
<text x="586.6" y="334.7" font-size="3.8" text-anchor="middle" fill="#111" stroke="#111" stroke-width="0.05">145.95</text>
<line x1="618.3" y1="328.7" x2="618.3" y2="330.2" stroke="#777" stroke-width="0.4"/>
<text x="618.3" y="334.7" font-size="3.8" text-anchor="middle" fill="#111" stroke="#111" stroke-width="0.05">146</text>
<line x1="650.1" y1="328.7" x2="650.1" y2="330.2" stroke="#777" stroke-width="0.4"/>
<text x="650.1" y="334.7" font-size="3.8" text-anchor="middle" fill="#111" stroke="#111" stroke-width="0.05">146.05</text>
<text x="613" y="342.5" font-size="4.6" text-anchor="middle" fill="#222" stroke="#222" stroke-width="0.05">Chromosome 1 (Mb)</text>
<text x="608.5" y="215.8" font-size="6.2" text-anchor="middle" fill="#000" stroke="#000" stroke-width="0.04"><tspan font-style="italic">TXNIP</tspan> Locus</text>
<line x1="590" y1="216.7" x2="627" y2="216.7" stroke="#111" stroke-width="0.45"/>
<text x="538.7" y="265.1" font-size="4.1" text-anchor="middle" fill="#111" stroke="#111" stroke-width="0.08" transform="rotate(-90 538.7 265.1)" textLength="19" lengthAdjust="spacingAndGlyphs">- log<tspan font-size="2.8" dy="0.9">10</tspan><tspan dy="-0.9">(P)</tspan></text>
<path fill="#3c5ee0" stroke="#202020" stroke-width="0.18" d="M557.4 290.9L558.9 293.6L555.9 293.6ZM653.1 296.1L654.6 293.4L651.6 293.4ZM568.6 292.1L570.1 294.8L567.1 294.8ZM564 295.6L565.5 292.9L562.5 292.9ZM600.9 292.1L602.4 294.8L599.4 294.8ZM590.3 293.4L591.8 290.7L588.8 290.7ZM631.3 291.1L632.8 293.8L629.8 293.8ZM659.8 293.8L661.3 291.1L658.3 291.1ZM561.7 296.2L563.2 293.5L560.2 293.5ZM610.9 291.4L612.4 294.1L609.4 294.1ZM571.6 292.3L573.1 295L570.1 295ZM592.4 291.9L593.9 294.6L590.9 294.6ZM642.6 292.2L644.1 294.9L641.1 294.9ZM592.3 290.5L593.8 293.2L590.8 293.2ZM602 293.8L603.5 291.1L600.5 291.1ZM629.3 294.4L630.8 291.7L627.8 291.7ZM622.6 293.4L624.1 290.7L621.1 290.7ZM617.6 291.1L619.1 293.8L616.1 293.8ZM623.6 295.3L625.1 292.6L622.1 292.6ZM574.9 294.3L576.4 291.6L573.4 291.6ZM563.3 290.4L564.8 293.1L561.8 293.1ZM583.5 290.6L585 293.3L582 293.3ZM606.4 293.9L607.9 291.2L604.9 291.2ZM628.9 291.2L630.4 293.9L627.4 293.9ZM659.3 291.6L660.8 294.3L657.8 294.3ZM565.9 292.6L567.4 295.3L564.4 295.3ZM654.3 292.6L655.8 295.3L652.8 295.3ZM634.9 296.4L636.4 293.7L633.4 293.7ZM645 295.2L646.5 292.5L643.5 292.5ZM639.1 291.5L640.6 294.2L637.6 294.2ZM555.4 290.4L556.9 293.1L553.9 293.1ZM563 290.5L564.5 293.2L561.5 293.2ZM581.4 293.4L582.9 296.1L579.9 296.1ZM613.6 291.9L615.1 294.6L612.1 294.6ZM638.5 296.3L640 293.6L637 293.6ZM560.9 291.3L562.4 294L559.4 294ZM651.6 292.4L653.1 295.1L650.1 295.1ZM630.6 293.4L632.1 296.1L629.1 296.1ZM658.1 290.4L659.6 293.1L656.6 293.1ZM559.2 293L560.7 295.7L557.7 295.7ZM647 292.2L648.5 294.9L645.5 294.9ZM657.4 293.6L658.9 290.9L655.9 290.9ZM649.2 292L650.7 294.7L647.7 294.7ZM563.2 290.9L564.7 293.6L561.7 293.6ZM634.2 290.8L635.7 293.5L632.7 293.5ZM563.9 293L565.4 295.7L562.4 295.7ZM556.7 295.6L558.2 292.9L555.2 292.9ZM607.4 292.7L608.9 295.4L605.9 295.4ZM640.5 292.8L642 295.5L639 295.5ZM635.1 294.1L636.6 291.4L633.6 291.4ZM620.6 293.3L622.1 290.6L619.1 290.6ZM640.6 296.4L642.1 293.7L639.1 293.7ZM598.2 292.1L599.7 294.8L596.7 294.8ZM658.8 293.3L660.3 290.6L657.3 290.6ZM602.3 295.9L603.8 293.2L600.8 293.2ZM653.6 296.4L655.1 293.7L652.1 293.7ZM556.1 290.5L557.6 293.2L554.6 293.2ZM625.3 296L626.8 293.3L623.8 293.3ZM634.3 291.7L635.8 294.4L632.8 294.4ZM577.5 292.7L579 295.4L576 295.4ZM561.7 295.4L563.2 292.7L560.2 292.7ZM626.9 291.7L628.4 294.4L625.4 294.4ZM658 294.8L659.5 292.1L656.5 292.1ZM624.4 290.1L625.9 292.8L622.9 292.8ZM590.6 293.3L592.1 296L589.1 296ZM655.3 292.2L656.8 294.9L653.8 294.9ZM633.1 296.1L634.6 293.4L631.6 293.4ZM555.6 293L557.1 295.7L554.1 295.7ZM644 294.8L645.5 292.1L642.5 292.1ZM561.3 294.8L562.8 292.1L559.8 292.1ZM587.9 292.9L589.4 295.6L586.4 295.6ZM613.6 293.2L615.1 290.5L612.1 290.5ZM582.7 292.4L584.2 295.1L581.2 295.1ZM599.8 292L601.3 294.7L598.3 294.7ZM586.1 295.4L587.6 292.7L584.6 292.7ZM617.5 293.3L619 290.6L616 290.6ZM605.5 292.2L607 294.9L604 294.9ZM651.4 293.2L652.9 290.5L649.9 290.5ZM598.5 291L600 293.7L597 293.7ZM580.3 292.9L581.8 295.6L578.8 295.6ZM597.9 293.1L599.4 295.8L596.4 295.8ZM644.7 290.5L646.2 293.2L643.2 293.2ZM594.3 290.3L595.8 293L592.8 293ZM616 291.4L617.5 294.1L614.5 294.1ZM580.8 291L582.3 293.7L579.3 293.7ZM613.4 294.6L614.9 291.9L611.9 291.9ZM644.1 292.5L645.6 295.2L642.6 295.2ZM652.6 291.1L654.1 293.8L651.1 293.8ZM563.7 294.6L565.2 291.9L562.2 291.9ZM659 291.1L660.5 293.8L657.5 293.8ZM580 294.7L581.5 292L578.5 292ZM584 296.5L585.5 293.8L582.5 293.8ZM634 290.6L635.5 293.3L632.5 293.3ZM657.8 296.4L659.3 293.7L656.3 293.7ZM582 294L583.5 291.3L580.5 291.3ZM571.4 291.8L572.9 294.5L569.9 294.5ZM574.3 296.1L575.8 293.4L572.8 293.4ZM618.9 291.4L620.4 294.1L617.4 294.1ZM563.1 290.5L564.6 293.2L561.6 293.2ZM560.4 291.1L561.9 293.8L558.9 293.8ZM651.2 290.1L652.7 287.4L649.7 287.4ZM638.6 291L640.1 288.3L637.1 288.3ZM656.7 289.7L658.2 287L655.2 287ZM655.5 284.4L657 281.7L654 281.7ZM655.8 292L657.3 289.3L654.3 289.3ZM645.8 287.2L647.3 284.5L644.3 284.5ZM644.3 287.5L645.8 284.8L642.8 284.8ZM652.3 287.7L653.8 285L650.8 285ZM635.7 287.4L637.2 290.1L634.2 290.1ZM643.7 289.4L645.2 292.1L642.2 292.1ZM640.3 292.3L641.8 289.6L638.8 289.6ZM641 290.2L642.5 287.5L639.5 287.5ZM649.8 283.3L651.3 286L648.3 286ZM647.4 287.6L648.9 284.9L645.9 284.9ZM644 287.1L645.5 289.8L642.5 289.8ZM635.5 284.6L637 281.9L634 281.9ZM644.9 286.9L646.4 289.6L643.4 289.6ZM639.2 287L640.7 284.3L637.7 284.3ZM647.9 284.8L649.4 287.5L646.4 287.5ZM645.2 288.3L646.7 291L643.7 291ZM642.1 284.5L643.6 281.8L640.6 281.8ZM642.5 287.5L644 290.2L641 290.2ZM653.2 281.9L654.7 284.6L651.7 284.6ZM643.8 288.6L645.3 285.9L642.3 285.9ZM657.5 290.3L659 287.6L656 287.6ZM657.3 284.2L658.8 286.9L655.8 286.9ZM561.6 290.8L563.1 288.1L560.1 288.1ZM562 290.8L563.5 288.1L560.5 288.1ZM593.6 289.9L595.1 287.2L592.1 287.2ZM620.9 286.2L622.4 288.9L619.4 288.9ZM597.3 290.4L598.8 287.7L595.8 287.7ZM583.6 286.9L585.1 289.6L582.1 289.6ZM590.6 292L592.1 289.3L589.1 289.3ZM574.3 287.6L575.8 290.3L572.8 290.3ZM573.2 290.9L574.7 288.2L571.7 288.2ZM625.8 292.3L627.3 289.6L624.3 289.6ZM572.1 277L573.6 279.7L570.6 279.7ZM574 277L575.5 279.7L572.5 279.7ZM568.5 286.3L570 283.6L567 283.6ZM574.6 287.2L576.1 284.5L573.1 284.5ZM587.3 288.3L588.8 285.6L585.8 285.6ZM594.2 279.8L595.7 282.5L592.7 282.5ZM603.8 286.9L605.3 284.2L602.3 284.2ZM607.9 286.9L609.4 284.2L606.4 284.2ZM611.8 280.6L613.3 283.3L610.3 283.3ZM628 284.5L629.5 287.2L626.5 287.2ZM650 285.5L651.5 282.8L648.5 282.8ZM655 281.5L656.5 284.2L653.5 284.2ZM660 284.5L661.5 287.2L658.5 287.2Z"/>
<path fill="#14c4e4" stroke="#202020" stroke-width="0.18" d="M558.4 272.3L559.9 275L556.9 275ZM618.7 274.8L620.2 272.1L617.2 272.1ZM622 275.3L623.5 272.6L620.5 272.6ZM625.8 274.5L627.3 271.8L624.3 271.8ZM641.5 267.4L643 270.1L640 270.1ZM652 273.4L653.5 270.7L650.5 270.7ZM646 285.5L647.5 282.8L644.5 282.8ZM655 283.5L656.5 280.8L653.5 280.8Z"/>
<path fill="#ffa800" stroke="#202020" stroke-width="0.18" d="M565.8 247L567.3 244.3L564.3 244.3ZM572.1 247L573.6 244.3L570.6 244.3ZM578.5 247.5L580 244.8L577 244.8ZM583.7 259.6L585.2 256.9L582.2 256.9ZM586.4 253.9L587.9 251.2L584.9 251.2ZM589.2 245L590.7 242.3L587.7 242.3ZM594.7 245.9L596.2 243.2L593.2 243.2ZM596.6 243.1L598.1 240.4L595.1 240.4ZM607.1 245L608.6 242.3L605.6 242.3ZM612 243.7L613.5 241L610.5 241ZM635.2 265.7L636.7 263L633.7 263ZM660.8 255.5L662.3 252.8L659.3 252.8Z"/>
<path fill="#f21c10" stroke="#202020" stroke-width="0.18" d="M567.7 242.8L569.2 240.1L566.2 240.1ZM605.5 241.1L607 238.4L604 238.4ZM607.6 240.9L609.1 238.2L606.1 238.2ZM609.8 240.9L611.3 238.2L608.3 238.2ZM608.6 242.5L610.1 239.8L607.1 239.8ZM617.6 248.3L619.1 245.6L616.1 245.6ZM620.3 251.1L621.8 248.4L618.8 248.4ZM625 252.5L626.5 249.8L623.5 249.8ZM628.6 252.5L630.1 249.8L627.1 249.8ZM636.8 252.5L638.3 249.8L635.3 249.8ZM640.7 252L642.2 249.3L639.2 249.3ZM642.9 252L644.4 249.3L641.4 249.3ZM644.5 252.3L646 249.6L643 249.6ZM649.8 254.7L651.3 252L648.3 252ZM656.1 254.7L657.6 252L654.6 252Z"/>
<path fill="#a030e0" stroke="#1a1a1a" stroke-width="0.35" d="M612.6 234.1L614.3 235.8L612.6 237.5L610.9 235.8Z"/>
<line x1="613.4" y1="235" x2="618" y2="231.6" stroke="#555" stroke-width="0.3"/>
<text x="618.7" y="231.9" font-size="3.6" fill="#222" stroke="#222" stroke-width="0.05">rs7212</text>
<rect x="665.4" y="232.3" width="10.7" height="23.2" fill="#fff" stroke="#999" stroke-width="0.35"/>
<text x="670.8" y="234.9" font-size="2.3" text-anchor="middle" fill="#333">LD (r²)</text>
<rect x="667.6" y="237.4" width="2.7" height="3.1" fill="#f21c10"/>
<rect x="667.6" y="240.5" width="2.7" height="3.1" fill="#ffa800"/>
<rect x="667.6" y="243.5" width="2.7" height="3.1" fill="#3ccc18"/>
<rect x="667.6" y="246.6" width="2.7" height="3.1" fill="#14c4e4"/>
<rect x="667.6" y="249.6" width="2.7" height="3.1" fill="#3c5ee0"/>
<text x="671.1" y="238.1" font-size="2" fill="#333">1</text>
<text x="671.1" y="241.2" font-size="2" fill="#333">0.8</text>
<text x="671.1" y="244.2" font-size="2" fill="#333">0.6</text>
<text x="671.1" y="247.2" font-size="2" fill="#333">0.4</text>
<text x="671.1" y="250.3" font-size="2" fill="#333">0.2</text>
<text x="671.1" y="253.3" font-size="2" fill="#333">0</text>
<text x="587.6" y="302.9" font-size="3.25" text-anchor="middle" fill="#000" stroke="#000" stroke-width="0.05">CH17-255G(J).1 →</text>
<text x="614.1" y="302.9" font-size="3.25" text-anchor="middle" fill="#000" stroke="#000" stroke-width="0.05">← TXNIP</text>
<text x="634.2" y="302.9" font-size="3.25" text-anchor="middle" fill="#000" stroke="#000" stroke-width="0.05">← HYA2</text>
<line x1="549.5" y1="305.5" x2="561.2" y2="305.5" stroke="#2e3d99" stroke-width="0.9"/>
<rect x="549.5" y="303.8" width="1.3" height="3.4" fill="#1e2a8a"/>
<rect x="553.5" y="303.8" width="1.3" height="3.4" fill="#1e2a8a"/>
<rect x="557" y="303.8" width="1.3" height="3.4" fill="#1e2a8a"/>
<rect x="560" y="303.8" width="1.2" height="3.4" fill="#1e2a8a"/>
<line x1="571.3" y1="305.5" x2="603.5" y2="305.5" stroke="#3e4cb0" stroke-width="0.6"/>
<line x1="571.3" y1="304.1" x2="571.3" y2="306.9" stroke="#3e4cb0" stroke-width="0.45"/>
<line x1="577.7" y1="304.1" x2="577.7" y2="306.9" stroke="#3e4cb0" stroke-width="0.45"/>
<line x1="584.2" y1="304.1" x2="584.2" y2="306.9" stroke="#3e4cb0" stroke-width="0.45"/>
<line x1="590.6" y1="304.1" x2="590.6" y2="306.9" stroke="#3e4cb0" stroke-width="0.45"/>
<line x1="597.1" y1="304.1" x2="597.1" y2="306.9" stroke="#3e4cb0" stroke-width="0.45"/>
<line x1="603.5" y1="304.1" x2="603.5" y2="306.9" stroke="#3e4cb0" stroke-width="0.45"/>
<rect x="613.1" y="304" width="2.4" height="3" fill="#e8302a"/>
<line x1="628.5" y1="305.5" x2="640.6" y2="305.5" stroke="#3e4cb0" stroke-width="0.6"/>
<line x1="628.5" y1="304.1" x2="628.5" y2="306.9" stroke="#3e4cb0" stroke-width="0.45"/>
<line x1="634.5" y1="304.1" x2="634.5" y2="306.9" stroke="#3e4cb0" stroke-width="0.45"/>
<line x1="640.6" y1="304.1" x2="640.6" y2="306.9" stroke="#3e4cb0" stroke-width="0.45"/>
<rect x="628.5" y="303.8" width="1.5" height="3.4" fill="#1e2a8a"/>
<line x1="658.5" y1="305.5" x2="677" y2="305.5" stroke="#2e3d99" stroke-width="1.0"/>
<line x1="658.5" y1="304.1" x2="658.5" y2="306.9" stroke="#2e3d99" stroke-width="0.45"/>
<line x1="664.7" y1="304.1" x2="664.7" y2="306.9" stroke="#2e3d99" stroke-width="0.45"/>
<line x1="670.8" y1="304.1" x2="670.8" y2="306.9" stroke="#2e3d99" stroke-width="0.45"/>
<line x1="677" y1="304.1" x2="677" y2="306.9" stroke="#2e3d99" stroke-width="0.45"/>
<rect x="658.5" y="303.8" width="1.5" height="3.4" fill="#2e3d99"/>
<rect x="675.5" y="303.8" width="1.5" height="3.4" fill="#2e3d99"/>
<text x="564.2" y="310.4" font-size="3.25" text-anchor="middle" fill="#000" stroke="#000" stroke-width="0.05">← PEX11B</text>
<text x="581.9" y="310.4" font-size="3.25" text-anchor="middle" fill="#000" stroke="#000" stroke-width="0.05">← LIX1L</text>
<line x1="561.2" y1="312.2" x2="566.5" y2="312.2" stroke="#3e4cb0" stroke-width="0.6"/>
<line x1="561.2" y1="310.8" x2="561.2" y2="313.6" stroke="#3e4cb0" stroke-width="0.45"/>
<line x1="566.5" y1="310.8" x2="566.5" y2="313.6" stroke="#3e4cb0" stroke-width="0.45"/>
<rect x="561.2" y="310.5" width="0.8" height="3.4" fill="#1e2a8a"/>
<rect x="565.6" y="310.5" width="0.9" height="3.4" fill="#1e2a8a"/>
<line x1="575.6" y1="312.2" x2="590.8" y2="312.2" stroke="#3e4cb0" stroke-width="0.6"/>
<line x1="575.6" y1="310.8" x2="575.6" y2="313.6" stroke="#3e4cb0" stroke-width="0.45"/>
<line x1="583.2" y1="310.8" x2="583.2" y2="313.6" stroke="#3e4cb0" stroke-width="0.45"/>
<line x1="590.8" y1="310.8" x2="590.8" y2="313.6" stroke="#3e4cb0" stroke-width="0.45"/>
<rect x="575.6" y="310.5" width="1.6" height="3.4" fill="#1e2a8a"/>
<text x="569.1" y="317.4" font-size="3.25" text-anchor="middle" fill="#000" stroke="#000" stroke-width="0.05">← NBPF10</text>
<text x="593.5" y="317.4" font-size="3.25" text-anchor="middle" fill="#000" stroke="#000" stroke-width="0.05">← ANKRD34A</text>
<line x1="565.4" y1="319.6" x2="571.8" y2="319.6" stroke="#1e2a8a" stroke-width="0.6"/>
<rect x="566.5" y="317.9" width="5.3" height="3.4" fill="#1e2a8a"/>
<line x1="591.9" y1="319.6" x2="595.5" y2="319.6" stroke="#1e2a8a" stroke-width="0.6"/>
<rect x="591.9" y="317.9" width="3.6" height="3.4" fill="#1e2a8a"/>
<text x="599" y="324.1" font-size="3.25" text-anchor="middle" fill="#000" stroke="#000" stroke-width="0.05">POLR3GL →</text>
<line x1="595.5" y1="326.6" x2="603.9" y2="326.6" stroke="#3e4cb0" stroke-width="0.6"/>
<line x1="595.5" y1="325.2" x2="595.5" y2="328" stroke="#3e4cb0" stroke-width="0.45"/>
<line x1="603.9" y1="325.2" x2="603.9" y2="328" stroke="#3e4cb0" stroke-width="0.45"/>
<rect x="602.3" y="324.9" width="1.6" height="3.4" fill="#1e2a8a"/>
<text x="-0.5" y="8.9" font-size="10.6" font-weight="bold" fill="#000">a</text>
<text x="-0.5" y="129.8" font-size="10.6" font-weight="bold" fill="#000">b</text>
<text x="-0.3" y="249.6" font-size="10.6" font-weight="bold" fill="#000">c</text>
<text x="217.8" y="11.9" font-size="10.6" font-weight="bold" fill="#000">d</text>
<text x="217.9" y="208.7" font-size="10.6" font-weight="bold" fill="#000">e</text>
</svg></body></html>
